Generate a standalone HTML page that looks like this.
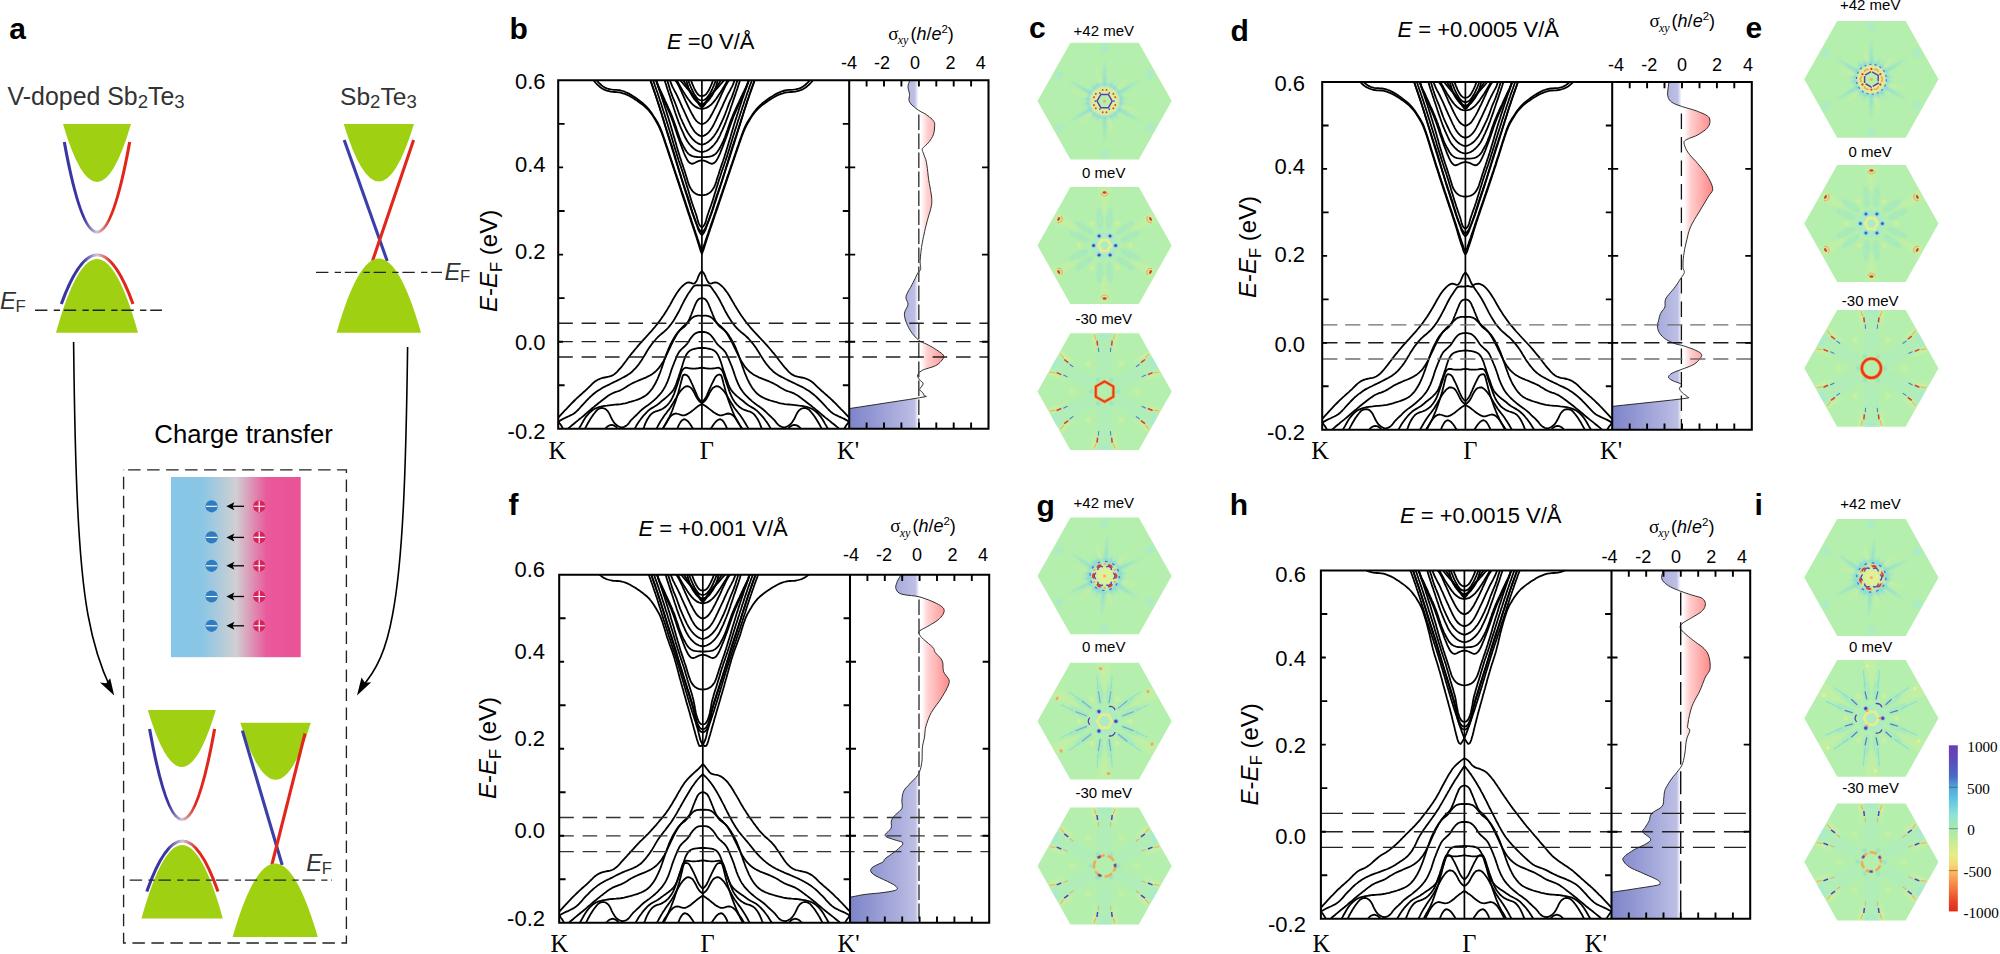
<!DOCTYPE html>
<html lang="en"><head><meta charset="utf-8"><title>Figure</title>
<style>html,body{margin:0;padding:0;background:#fff}svg{display:block}text{font-family:"Liberation Sans", Arial, sans-serif}.sf{font-family:"Liberation Serif","Times New Roman",serif}</style></head>
<body>
<svg width="2000" height="954" viewBox="0 0 2000 954">
<rect width="2000" height="954" fill="#fff"/>
<defs>
<linearGradient id="gA" gradientUnits="userSpaceOnUse" x1="64" y1="0" x2="130" y2="0"><stop offset="0" stop-color="#3a35a3"/><stop offset="0.3" stop-color="#3a35a3"/><stop offset="0.5" stop-color="#cfc8d4"/><stop offset="0.7" stop-color="#e1261c"/><stop offset="1" stop-color="#e1261c"/></linearGradient>
<linearGradient id="gB" gradientUnits="userSpaceOnUse" x1="61" y1="0" x2="133" y2="0"><stop offset="0" stop-color="#3a35a3"/><stop offset="0.3" stop-color="#3a35a3"/><stop offset="0.5" stop-color="#cfc8d4"/><stop offset="0.7" stop-color="#e1261c"/><stop offset="1" stop-color="#e1261c"/></linearGradient>
<linearGradient id="gCT" x1="0" y1="0" x2="1" y2="0"><stop offset="0" stop-color="#86c6e7"/><stop offset="0.24" stop-color="#8ac6e5"/><stop offset="0.50" stop-color="#d0cfd2"/><stop offset="0.74" stop-color="#e9599b"/><stop offset="1" stop-color="#ea5297"/></linearGradient>
<linearGradient id="gC" gradientUnits="userSpaceOnUse" x1="149" y1="0" x2="215" y2="0"><stop offset="0" stop-color="#3a35a3"/><stop offset="0.3" stop-color="#3a35a3"/><stop offset="0.5" stop-color="#cfc8d4"/><stop offset="0.7" stop-color="#e1261c"/><stop offset="1" stop-color="#e1261c"/></linearGradient>
<linearGradient id="gD" gradientUnits="userSpaceOnUse" x1="146" y1="0" x2="218.5" y2="0"><stop offset="0" stop-color="#3a35a3"/><stop offset="0.3" stop-color="#3a35a3"/><stop offset="0.5" stop-color="#cfc8d4"/><stop offset="0.7" stop-color="#e1261c"/><stop offset="1" stop-color="#e1261c"/></linearGradient>
<linearGradient id="gsb" gradientUnits="userSpaceOnUse" x1="849.2" y1="0" x2="988.5" y2="0"><stop offset="0" stop-color="#7d83c9"/><stop offset="0.30" stop-color="#a4a8da"/><stop offset="0.47" stop-color="#bdbfe4"/><stop offset="0.497" stop-color="#fff"/><stop offset="0.515" stop-color="#fff"/><stop offset="0.56" stop-color="#ffd0d0"/><stop offset="0.72" stop-color="#ff8686"/><stop offset="1" stop-color="#ff5050"/></linearGradient>
<clipPath id="cpb"><rect x="558.2" y="80.3" width="291" height="348.5"/></clipPath>
<linearGradient id="gsd" gradientUnits="userSpaceOnUse" x1="1612.2" y1="0" x2="1751.8" y2="0"><stop offset="0" stop-color="#7d83c9"/><stop offset="0.30" stop-color="#a4a8da"/><stop offset="0.47" stop-color="#bdbfe4"/><stop offset="0.497" stop-color="#fff"/><stop offset="0.515" stop-color="#fff"/><stop offset="0.56" stop-color="#ffd0d0"/><stop offset="0.72" stop-color="#ff8686"/><stop offset="1" stop-color="#ff5050"/></linearGradient>
<clipPath id="cpd"><rect x="1322.2" y="82" width="290" height="347.8"/></clipPath>
<linearGradient id="gsf" gradientUnits="userSpaceOnUse" x1="850" y1="0" x2="989.2" y2="0"><stop offset="0" stop-color="#7d83c9"/><stop offset="0.30" stop-color="#a4a8da"/><stop offset="0.47" stop-color="#bdbfe4"/><stop offset="0.497" stop-color="#fff"/><stop offset="0.515" stop-color="#fff"/><stop offset="0.56" stop-color="#ffd0d0"/><stop offset="0.72" stop-color="#ff8686"/><stop offset="1" stop-color="#ff5050"/></linearGradient>
<clipPath id="cpf"><rect x="559.2" y="574.8" width="290.8" height="347.9"/></clipPath>
<linearGradient id="gsh" gradientUnits="userSpaceOnUse" x1="1611.5" y1="0" x2="1750.2" y2="0"><stop offset="0" stop-color="#7d83c9"/><stop offset="0.30" stop-color="#a4a8da"/><stop offset="0.47" stop-color="#bdbfe4"/><stop offset="0.497" stop-color="#fff"/><stop offset="0.515" stop-color="#fff"/><stop offset="0.56" stop-color="#ffd0d0"/><stop offset="0.72" stop-color="#ff8686"/><stop offset="1" stop-color="#ff5050"/></linearGradient>
<clipPath id="cph"><rect x="1320.9" y="570.5" width="290.6" height="348.2"/></clipPath>
<filter id="bl05" x="-20%" y="-20%" width="140%" height="140%"><feGaussianBlur stdDeviation="0.45"/></filter>
<filter id="bl1" x="-20%" y="-20%" width="140%" height="140%"><feGaussianBlur stdDeviation="1.1"/></filter>
<filter id="bl2" x="-50%" y="-50%" width="200%" height="200%"><feGaussianBlur stdDeviation="1.8"/></filter>
<clipPath id="hx"><path d="M67.1 0 L34.2 -58.4 L-34.2 -58.4 L-67.1 0 L-34.2 58.4 L34.2 58.4Z"/></clipPath>
<linearGradient id="cb" x1="0" y1="0" x2="0" y2="1"><stop offset="0" stop-color="#6b3db3"/><stop offset="0.10" stop-color="#5a4fbc"/><stop offset="0.19" stop-color="#4a6cc4"/><stop offset="0.25" stop-color="#4fa4d8"/><stop offset="0.33" stop-color="#62c6e2"/><stop offset="0.42" stop-color="#8fe2d6"/><stop offset="0.50" stop-color="#a6eab0"/><stop offset="0.56" stop-color="#bdec9a"/><stop offset="0.66" stop-color="#e6ee86"/><stop offset="0.72" stop-color="#f6d873"/><stop offset="0.77" stop-color="#fbb35e"/><stop offset="0.86" stop-color="#f57a41"/><stop offset="0.94" stop-color="#e84626"/><stop offset="1" stop-color="#de2a18"/></linearGradient>
</defs>
<text x="9.3" y="39.4" font-size="30" font-weight="bold" >a</text>
<text x="7.6" y="104.7" font-size="24.9" fill="#333">V-doped Sb<tspan font-size="18.6" dy="3.6">2</tspan><tspan dy="-3.6">Te</tspan><tspan font-size="18.6" dy="3.6">3</tspan></text>
<text x="340.0" y="104.7" font-size="24.6" fill="#333">Sb<tspan font-size="18.6" dy="3.6">2</tspan><tspan dy="-3.6">Te</tspan><tspan font-size="18.6" dy="3.6">3</tspan></text>
<path d="M63 124 Q97 240 131 124 Z" fill="#9fd012"/>
<path d="M64.3 142 Q97 322 129.7 142" fill="none" stroke="url(#gA)" stroke-width="3.1"/>
<path d="M61.3 304 Q97.2 205.6 133 304" fill="none" stroke="url(#gB)" stroke-width="3.1"/>
<path d="M56 332.7 Q97 185.3 138 332.7 Z" fill="#9fd012"/>
<path d="M35 310.2H162" stroke="#222" stroke-width="1.35" stroke-dasharray="12.4 6.3 6.3 3.8" fill="none"/>
<text x="0" y="309.2" font-size="24" fill="#333"><tspan font-style="italic">E</tspan><tspan font-size="16.8" dx="-0.5" dy="2.6">F</tspan></text>
<path d="M343.7 124 Q378.9 239 414 124 Z" fill="#9fd012"/>
<path d="M344.2 140 L387.2 261" stroke="#3b3fa8" stroke-width="3.1"/>
<path d="M413.6 140 L372.5 261" stroke="#e1261c" stroke-width="3.1"/>
<path d="M336.6 332.7 Q378.8 184.3 421 332.7 Z" fill="#9fd012"/>
<path d="M316 272.4H442" stroke="#222" stroke-width="1.35" stroke-dasharray="12.4 6.3 6.3 3.8" fill="none"/>
<text x="444.5" y="279.5" font-size="24" fill="#333"><tspan font-style="italic">E</tspan><tspan font-size="16.8" dx="-0.5" dy="2.6">F</tspan></text>
<path d="M73.6 342 C75 470 78 560 88 615 C94 648 102 670 110.5 688" fill="none" stroke="#000" stroke-width="1.6"/>
<path d="M114.2 695.5 L100 682.5 L106.2 683.3 L110.2 678.2 Z" fill="#000"/>
<path d="M407.6 347 C406 470 403 560 392.5 615 C386.5 648 377.5 670 360.8 688" fill="none" stroke="#000" stroke-width="1.6"/>
<path d="M357 695.5 L361.5 677.5 L365 682.8 L371.2 682.2 Z" fill="#000"/>
<text x="243.6" y="443.3" font-size="25.7" text-anchor="middle" >Charge transfer</text>
<rect x="123.6" y="469.8" width="222.8" height="473.2" fill="none" stroke="#222" stroke-width="1.35" stroke-dasharray="12.5 6.5" stroke-dashoffset="14.5"/>
<rect x="171" y="477" width="129.7" height="180.2" fill="url(#gCT)"/>
<circle cx="211.6" cy="506.3" r="6.1" fill="#2f7cc0"/>
<path d="M206 506.3H217.2" stroke="#fff" stroke-width="1.1"/>
<circle cx="259.2" cy="506.3" r="6.1" fill="#d9215c"/>
<path d="M253.6 506.3H264.8M259.2 500.7V511.9" stroke="#fff" stroke-width="1.1"/>
<path d="M244 506.3H231" stroke="#000" stroke-width="1.3"/>
<path d="M226.4 506.3 L234.4 502.3 L232.6 506.3 L234.4 510.3 Z" fill="#000"/>
<circle cx="211.6" cy="537.4" r="6.1" fill="#2f7cc0"/>
<path d="M206 537.4H217.2" stroke="#fff" stroke-width="1.1"/>
<circle cx="259.2" cy="537.4" r="6.1" fill="#d9215c"/>
<path d="M253.6 537.4H264.8M259.2 531.8V543" stroke="#fff" stroke-width="1.1"/>
<path d="M244 537.4H231" stroke="#000" stroke-width="1.3"/>
<path d="M226.4 537.4 L234.4 533.4 L232.6 537.4 L234.4 541.4 Z" fill="#000"/>
<circle cx="211.6" cy="565.8" r="6.1" fill="#2f7cc0"/>
<path d="M206 565.8H217.2" stroke="#fff" stroke-width="1.1"/>
<circle cx="259.2" cy="565.8" r="6.1" fill="#d9215c"/>
<path d="M253.6 565.8H264.8M259.2 560.2V571.4" stroke="#fff" stroke-width="1.1"/>
<path d="M244 565.8H231" stroke="#000" stroke-width="1.3"/>
<path d="M226.4 565.8 L234.4 561.8 L232.6 565.8 L234.4 569.8 Z" fill="#000"/>
<circle cx="211.6" cy="596.5" r="6.1" fill="#2f7cc0"/>
<path d="M206 596.5H217.2" stroke="#fff" stroke-width="1.1"/>
<circle cx="259.2" cy="596.5" r="6.1" fill="#d9215c"/>
<path d="M253.6 596.5H264.8M259.2 590.9V602.1" stroke="#fff" stroke-width="1.1"/>
<path d="M244 596.5H231" stroke="#000" stroke-width="1.3"/>
<path d="M226.4 596.5 L234.4 592.5 L232.6 596.5 L234.4 600.5 Z" fill="#000"/>
<circle cx="211.6" cy="625.8" r="6.1" fill="#2f7cc0"/>
<path d="M206 625.8H217.2" stroke="#fff" stroke-width="1.1"/>
<circle cx="259.2" cy="625.8" r="6.1" fill="#d9215c"/>
<path d="M253.6 625.8H264.8M259.2 620.2V631.4" stroke="#fff" stroke-width="1.1"/>
<path d="M244 625.8H231" stroke="#000" stroke-width="1.3"/>
<path d="M226.4 625.8 L234.4 621.8 L232.6 625.8 L234.4 629.8 Z" fill="#000"/>
<path d="M147.8 710 Q181.8 824 215.8 710 Z" fill="#9fd012"/>
<path d="M149.6 729 Q182.1 910 214.6 729" fill="none" stroke="url(#gC)" stroke-width="3.1"/>
<path d="M146.8 891.5 Q182.4 790.5 218 891.5" fill="none" stroke="url(#gD)" stroke-width="3.1"/>
<path d="M141.5 918.4 Q182.2 771.6 222.8 918.4 Z" fill="#9fd012"/>
<path d="M240.3 722.7 Q275.6 836.9 310.8 722.7 Z" fill="#9fd012"/>
<path d="M242.4 730.6 L282.2 865" stroke="#3b3fa8" stroke-width="3.1"/>
<path d="M305 733.5 L271.8 865" stroke="#e1261c" stroke-width="3.1"/>
<path d="M232.6 937 Q275.2 789.8 317.8 937 Z" fill="#9fd012"/>
<path d="M129.7 880.1H332" stroke="#222" stroke-width="1.35" stroke-dasharray="12.4 6.3 6.3 3.8" fill="none"/>
<text x="306.3" y="870.9" font-size="24" fill="#333"><tspan font-style="italic">E</tspan><tspan font-size="16.8" dx="-0.5" dy="2.6">F</tspan></text>
<path d="M918.8 80.3 L909.9 80.3 L909.6 81.1 L909.1 82.3 L908.6 83.7 L908.2 85.1 L908 86.6 L908.1 88.1 L908.5 89.7 L908.9 91.4 L909.3 92.9 L909.5 94.4 L909.5 95.7 L909.3 96.9 L909.1 98 L908.9 99.1 L909 100.2 L909.3 101.2 L909.7 102.2 L910.3 103.1 L911 104 L911.9 105 L913 106 L914.3 107.1 L915.7 108.2 L917.1 109.3 L918.6 110.3 L920.1 111.2 L921.7 112.1 L923.3 112.9 L924.9 113.7 L926.4 114.7 L927.9 115.8 L929.4 117 L930.9 118.2 L932.2 119.4 L933.2 120.5 L933.9 121.5 L934.3 122.3 L934.6 123.1 L934.7 124.1 L934.7 125.4 L934.6 127 L934.5 129 L934.2 131.1 L933.8 133.1 L933.2 135 L932.5 136.7 L931.5 138.3 L930.5 139.9 L929.4 141.4 L928.3 142.8 L927.1 144.1 L925.7 145.4 L924.4 146.5 L923.3 147.6 L922.5 148.6 L922.2 149.4 L922.1 150 L922.4 150.6 L922.7 151.4 L923.1 152.5 L923.6 153.9 L924.3 155.6 L925 157.5 L925.8 159.7 L926.4 162.2 L926.9 165.2 L927.4 168.6 L927.8 172.3 L928.2 176.1 L928.7 179.7 L929.3 183.3 L930 187 L930.6 190.6 L931.2 194 L931.6 197 L931.8 199.4 L931.8 201.3 L931.8 203 L931.6 204.7 L931.2 206.8 L930.6 209.3 L929.9 211.9 L929 214.7 L928.2 217.5 L927.4 220.3 L926.7 223 L926 225.8 L925.3 228.5 L924.7 231.3 L924.1 234 L923.5 236.7 L922.9 239.5 L922.4 242.3 L921.9 244.9 L921.5 247.5 L921.2 250 L920.9 252.6 L920.6 255 L920.4 257.1 L920.3 259 L920.2 260.4 L920.2 261.4 L920.2 262.3 L920.2 263.1 L920.2 264 L920.3 265.1 L920.5 266.2 L920.7 267.3 L920.7 268.4 L920.6 269.4 L920.3 270.2 L919.8 270.7 L919.2 271.3 L918.5 272.1 L917.7 273.3 L916.7 275.1 L915.6 277.4 L914.4 279.9 L913.1 282.5 L911.9 284.9 L910.6 287.3 L909.2 289.7 L907.8 292.1 L906.7 294.4 L906 296.5 L906 298.3 L906.5 299.9 L907.2 301.3 L907.8 302.7 L908 304.3 L907.6 306 L906.8 307.7 L905.8 309.5 L905 311.2 L904.5 313 L904.4 314.7 L904.6 316.4 L904.9 318.1 L905.4 319.9 L906 321.7 L906.7 323.6 L907.6 325.6 L908.6 327.5 L909.7 329.5 L910.9 331.4 L912.2 333.3 L913.7 335.1 L915.2 336.9 L916.9 338.6 L918.6 340.1 L920.4 341.3 L922.3 342.3 L924.3 343.2 L926.3 344 L928.3 345 L930.3 346.1 L932.4 347.3 L934.4 348.5 L936.3 349.7 L938 350.8 L939.6 351.9 L941.1 353 L942.4 354 L943.3 355.1 L943.8 356.2 L943.7 357.4 L943.1 358.7 L942.1 360 L941 361.3 L940 362.4 L939 363.3 L938.1 364.1 L937 364.9 L935.7 365.6 L934.1 366.3 L932 367.1 L929.5 367.8 L926.9 368.6 L924.5 369.4 L922.5 370.2 L921 371.1 L919.8 372.1 L918.8 373 L918.1 374 L917.7 375 L917.6 376 L917.9 377 L918.4 377.9 L919 378.9 L919.6 379.8 L920.3 380.6 L921.2 381.3 L922.1 382 L922.8 382.8 L923.1 383.7 L922.8 384.8 L921.9 386.1 L920.9 387.4 L920.1 388.6 L919.6 389.5 L919.6 390.1 L920 390.5 L920.5 390.7 L921.1 391 L921.6 391.5 L922.2 392.2 L922.9 393.1 L923.6 394.1 L924 395 L924.1 395.7 L924.7 396.1 L925.9 396.2 L926.4 396.4 L924.8 396.8 L919.6 397.7 L908.7 399.5 L893 401.9 L875.8 404.5 L860.3 406.9 L849.8 408.5 L849.2 428.8 L918.8 428.8Z" fill="url(#gsb)"/>
<path d="M909.9 80.3 L909.6 81.1 L909.1 82.3 L908.6 83.7 L908.2 85.1 L908 86.6 L908.1 88.1 L908.5 89.7 L908.9 91.4 L909.3 92.9 L909.5 94.4 L909.5 95.7 L909.3 96.9 L909.1 98 L908.9 99.1 L909 100.2 L909.3 101.2 L909.7 102.2 L910.3 103.1 L911 104 L911.9 105 L913 106 L914.3 107.1 L915.7 108.2 L917.1 109.3 L918.6 110.3 L920.1 111.2 L921.7 112.1 L923.3 112.9 L924.9 113.7 L926.4 114.7 L927.9 115.8 L929.4 117 L930.9 118.2 L932.2 119.4 L933.2 120.5 L933.9 121.5 L934.3 122.3 L934.6 123.1 L934.7 124.1 L934.7 125.4 L934.6 127 L934.5 129 L934.2 131.1 L933.8 133.1 L933.2 135 L932.5 136.7 L931.5 138.3 L930.5 139.9 L929.4 141.4 L928.3 142.8 L927.1 144.1 L925.7 145.4 L924.4 146.5 L923.3 147.6 L922.5 148.6 L922.2 149.4 L922.1 150 L922.4 150.6 L922.7 151.4 L923.1 152.5 L923.6 153.9 L924.3 155.6 L925 157.5 L925.8 159.7 L926.4 162.2 L926.9 165.2 L927.4 168.6 L927.8 172.3 L928.2 176.1 L928.7 179.7 L929.3 183.3 L930 187 L930.6 190.6 L931.2 194 L931.6 197 L931.8 199.4 L931.8 201.3 L931.8 203 L931.6 204.7 L931.2 206.8 L930.6 209.3 L929.9 211.9 L929 214.7 L928.2 217.5 L927.4 220.3 L926.7 223 L926 225.8 L925.3 228.5 L924.7 231.3 L924.1 234 L923.5 236.7 L922.9 239.5 L922.4 242.3 L921.9 244.9 L921.5 247.5 L921.2 250 L920.9 252.6 L920.6 255 L920.4 257.1 L920.3 259 L920.2 260.4 L920.2 261.4 L920.2 262.3 L920.2 263.1 L920.2 264 L920.3 265.1 L920.5 266.2 L920.7 267.3 L920.7 268.4 L920.6 269.4 L920.3 270.2 L919.8 270.7 L919.2 271.3 L918.5 272.1 L917.7 273.3 L916.7 275.1 L915.6 277.4 L914.4 279.9 L913.1 282.5 L911.9 284.9 L910.6 287.3 L909.2 289.7 L907.8 292.1 L906.7 294.4 L906 296.5 L906 298.3 L906.5 299.9 L907.2 301.3 L907.8 302.7 L908 304.3 L907.6 306 L906.8 307.7 L905.8 309.5 L905 311.2 L904.5 313 L904.4 314.7 L904.6 316.4 L904.9 318.1 L905.4 319.9 L906 321.7 L906.7 323.6 L907.6 325.6 L908.6 327.5 L909.7 329.5 L910.9 331.4 L912.2 333.3 L913.7 335.1 L915.2 336.9 L916.9 338.6 L918.6 340.1 L920.4 341.3 L922.3 342.3 L924.3 343.2 L926.3 344 L928.3 345 L930.3 346.1 L932.4 347.3 L934.4 348.5 L936.3 349.7 L938 350.8 L939.6 351.9 L941.1 353 L942.4 354 L943.3 355.1 L943.8 356.2 L943.7 357.4 L943.1 358.7 L942.1 360 L941 361.3 L940 362.4 L939 363.3 L938.1 364.1 L937 364.9 L935.7 365.6 L934.1 366.3 L932 367.1 L929.5 367.8 L926.9 368.6 L924.5 369.4 L922.5 370.2 L921 371.1 L919.8 372.1 L918.8 373 L918.1 374 L917.7 375 L917.6 376 L917.9 377 L918.4 377.9 L919 378.9 L919.6 379.8 L920.3 380.6 L921.2 381.3 L922.1 382 L922.8 382.8 L923.1 383.7 L922.8 384.8 L921.9 386.1 L920.9 387.4 L920.1 388.6 L919.6 389.5 L919.6 390.1 L920 390.5 L920.5 390.7 L921.1 391 L921.6 391.5 L922.2 392.2 L922.9 393.1 L923.6 394.1 L924 395 L924.1 395.7 L924.7 396.1 L925.9 396.2 L926.4 396.4 L924.8 396.8 L919.6 397.7 L908.7 399.5 L893 401.9 L875.8 404.5 L860.3 406.9 L849.8 408.5" fill="none" stroke="#1a1a1a" stroke-width="0.9" stroke-linejoin="round"/>
<path d="M918.8 114.5V428.8" stroke="#444" stroke-width="1.5" stroke-dasharray="15.4 3.6" fill="none"/>
<g clip-path="url(#cpb)" fill="none" stroke="#000" stroke-width="1.8" stroke-linejoin="round">
<path d="M557.8 418.2 L559.2 416.7 L560.5 415.2 L561.9 413.7 L563.3 412.2 L564.6 410.7 L566 409.3 L567.4 407.8 L568.8 406.3 L570.2 404.8 L571.6 403.4 L573 402 L574.5 400.5 L575.9 399.1 L577.4 397.7 L578.9 396.4 L580.4 395 L581.9 393.7 L583.4 392.3 L584.9 391 L586.4 389.6 L587.9 388.2 L589.3 386.8 L590.8 385.3 L592.2 383.9 L593.7 382.5 L595.3 381.3 L597 380.2 L598.8 379.3 L600.7 378.5 L602.6 377.9 L604.6 377.5 L606.6 377.1 L608.7 376.7 L610.6 376.2 L612.4 375.4 L614 374.4 L615.6 373.2 L617.1 371.8 L618.5 370.2 L619.9 368.6 L621.3 367.1 L622.6 365.5 L623.8 363.9 L625 362.3 L626.2 360.7 L627.4 359 L628.7 357.4 L629.9 355.8 L631.1 354.2 L632.4 352.7 L633.7 351.1 L635 349.5 L636.3 348 L637.6 346.4 L638.9 344.9 L640.2 343.4 L641.6 341.9 L642.9 340.4 L644.3 338.9 L645.7 337.4 L647 335.9 L648.4 334.4 L649.7 332.9 L651.1 331.4 L652.4 329.9 L653.7 328.3 L655 326.8 L656.3 325.2 L657.6 323.6 L658.8 322 L660 320.4 L661.2 318.8 L662.3 317.1 L663.5 315.4 L664.6 313.7 L665.7 312 L666.8 310.3 L667.8 308.6 L668.9 306.8 L669.9 305.1 L670.9 303.3 L671.9 301.5 L672.8 299.7 L673.8 298 L674.9 296.2 L675.9 294.5 L677 292.8 L678.1 291.2 L679.3 289.6 L680.6 288 L682 286.5 L683.5 285.1 L685.2 283.8 L687 282.7 L688.9 282.4 L690.9 282.9 L692.9 283.6 L694.6 283.3 L696.1 281.6 L697.1 279.9 L697.8 278 L698.5 276.1 L699.4 274.3 L700.5 272.6 L701.9 271 L703.3 272.6 L704.4 274.3 L705.3 276.1 L706 278 L706.8 279.9 L707.8 281.6 L709.3 283.3 L711.1 283.6 L713.1 282.9 L715.1 282.4 L717.1 282.7 L719 283.8 L720.7 285.1 L722.3 286.5 L723.7 288 L725 289.6 L726.2 291.2 L727.4 292.8 L728.5 294.5 L729.6 296.2 L730.6 298 L731.6 299.7 L732.6 301.5 L733.7 303.3 L734.7 305.1 L735.7 306.8 L736.8 308.6 L737.9 310.3 L739 312 L740.1 313.7 L741.2 315.4 L742.4 317.1 L743.6 318.8 L744.8 320.4 L746 322 L747.3 323.6 L748.6 325.2 L749.9 326.8 L751.2 328.3 L752.6 329.9 L753.9 331.4 L755.3 332.9 L756.7 334.4 L758.1 335.9 L759.5 337.4 L760.9 338.9 L762.3 340.4 L763.7 341.9 L765.1 343.4 L766.5 344.9 L767.8 346.4 L769.2 348 L770.5 349.5 L771.8 351.1 L773.1 352.7 L774.4 354.2 L775.7 355.8 L776.9 357.4 L778.2 359 L779.4 360.7 L780.7 362.3 L781.9 363.9 L783.2 365.5 L784.5 367.1 L785.9 368.6 L787.3 370.2 L788.8 371.8 L790.3 373.2 L792 374.4 L793.7 375.4 L795.5 376.2 L797.5 376.7 L799.5 377.1 L801.6 377.5 L803.7 377.9 L805.6 378.5 L807.6 379.3 L809.4 380.2 L811.1 381.3 L812.8 382.5 L814.3 383.9 L815.8 385.3 L817.3 386.8 L818.8 388.2 L820.3 389.6 L821.8 391 L823.4 392.3 L824.9 393.7 L826.5 395 L828 396.4 L829.5 397.7 L831 399.1 L832.5 400.5 L834 402 L835.5 403.4 L836.9 404.8 L838.3 406.3 L839.8 407.8 L841.2 409.3 L842.6 410.7 L844 412.2 L845.4 413.7 L846.8 415.2 L848.2 416.7 L849.6 418.2"/>
<path d="M557.8 422 L559.5 420.9 L561.3 419.9 L563.1 418.9 L564.9 418 L566.8 417.1 L568.6 416.3 L570.5 415.4 L572.3 414.5 L574 413.5 L575.5 412.3 L577 410.9 L578.5 409.5 L579.8 408 L581.2 406.4 L582.6 404.9 L584 403.4 L585.4 401.9 L586.7 400.4 L588.2 399 L589.6 397.5 L591.1 396.1 L592.6 394.8 L594.1 393.5 L595.7 392.3 L597.4 391.1 L599.1 390 L600.8 388.9 L602.5 387.8 L604.3 386.9 L606.1 386 L608 385.1 L609.8 384.2 L611.6 383.3 L613.4 382.4 L615.3 381.5 L617.1 380.6 L618.9 379.7 L620.7 378.8 L622.5 377.8 L624.3 376.9 L626.1 375.9 L627.8 374.8 L629.5 373.7 L631.1 372.5 L632.6 371.2 L634 369.7 L635.4 368.3 L636.8 366.7 L638.1 365.1 L639.3 363.5 L640.5 361.8 L641.6 360.2 L642.7 358.4 L643.7 356.7 L644.8 355 L645.8 353.2 L646.8 351.5 L647.9 349.7 L649 348 L650.2 346.4 L651.3 344.7 L652.6 343.1 L653.8 341.5 L655.2 340 L656.5 338.5 L657.9 337 L659.4 335.6 L661 334.3 L662.5 333 L664.1 331.7 L665.6 330.3 L667.1 328.9 L668.4 327.5 L669.7 325.9 L671 324.3 L672.1 322.7 L673.3 321 L674.4 319.3 L675.4 317.5 L676.4 315.8 L677.4 314 L678.4 312.2 L679.4 310.4 L680.3 308.6 L681.2 306.7 L682.1 304.9 L683 303.1 L683.9 301.3 L684.9 299.5 L685.9 297.7 L686.9 296 L687.9 294.3 L689.1 292.6 L690.2 291 L691.4 289.2 L692.6 287.4 L694 286 L695.7 285.3 L697.8 285.2 L699.9 285.3 L701.9 285.2 L703.9 285.3 L706 285.2 L708.2 285.3 L710 286 L711.4 287.4 L712.6 289.2 L713.8 291 L715 292.6 L716.1 294.3 L717.2 296 L718.3 297.7 L719.3 299.5 L720.3 301.3 L721.2 303.1 L722.1 304.9 L723.1 306.7 L724 308.6 L724.9 310.4 L725.9 312.2 L726.9 314 L727.9 315.8 L729 317.5 L730.1 319.3 L731.2 321 L732.4 322.7 L733.6 324.3 L734.8 325.9 L736.2 327.5 L737.6 328.9 L739.1 330.3 L740.6 331.7 L742.2 333 L743.8 334.3 L745.4 335.6 L746.9 337 L748.4 338.5 L749.8 340 L751.1 341.5 L752.4 343.1 L753.7 344.7 L754.9 346.4 L756.1 348 L757.2 349.7 L758.3 351.5 L759.4 353.2 L760.4 355 L761.5 356.7 L762.6 358.4 L763.7 360.2 L764.8 361.8 L766 363.5 L767.3 365.1 L768.6 366.7 L770 368.3 L771.4 369.7 L772.9 371.2 L774.5 372.5 L776.1 373.7 L777.8 374.8 L779.6 375.9 L781.4 376.9 L783.3 377.8 L785.1 378.8 L787 379.7 L788.8 380.6 L790.7 381.5 L792.5 382.4 L794.4 383.3 L796.3 384.2 L798.2 385.1 L800 386 L801.9 386.9 L803.7 387.8 L805.5 388.9 L807.3 390 L809 391.1 L810.7 392.3 L812.3 393.5 L813.9 394.8 L815.5 396.1 L817 397.5 L818.5 399 L819.9 400.4 L821.4 401.9 L822.8 403.4 L824.2 404.9 L825.6 406.4 L827 408 L828.4 409.5 L829.9 410.9 L831.4 412.3 L833 413.5 L834.8 414.5 L836.6 415.4 L838.5 416.3 L840.4 417.1 L842.3 418 L844.2 418.9 L846 419.9 L847.8 420.9 L849.6 422"/>
<path d="M564.8 432.4 L566.1 430.8 L567.5 429.3 L568.9 427.9 L570.4 426.6 L572 425.3 L573.6 424 L575.1 422.7 L576.7 421.4 L578.3 420.1 L579.8 418.8 L581.4 417.6 L583 416.3 L584.5 415 L586 413.6 L587.6 412.3 L589.1 411 L590.6 409.7 L592.2 408.3 L593.7 407.1 L595.3 405.8 L596.9 404.5 L598.4 403.2 L600 402 L601.6 400.7 L603.2 399.5 L604.9 398.2 L606.5 397 L608.1 395.8 L609.8 394.7 L611.6 393.7 L613.4 392.9 L615.3 392.2 L617.2 391.5 L619.1 390.8 L621 390 L622.8 389 L624.5 388 L626.2 386.9 L627.9 385.8 L629.7 384.8 L631.4 383.8 L633.2 382.9 L635.1 382 L636.9 381.2 L638.8 380.4 L640.7 379.6 L642.5 378.9 L644.4 378.1 L646.3 377.3 L648.1 376.4 L649.9 375.5 L651.6 374.4 L653.3 373.2 L654.9 372 L656.4 370.6 L657.8 369.2 L659.1 367.6 L660.3 366 L661.5 364.3 L662.6 362.6 L663.6 360.9 L664.5 359.1 L665.4 357.3 L666.3 355.4 L667.2 353.6 L668 351.8 L668.9 349.9 L669.8 348.1 L670.6 346.3 L671.5 344.4 L672.4 342.6 L673.3 340.8 L674.2 339 L675.2 337.2 L676.2 335.5 L677.3 333.8 L678.4 332.1 L679.6 330.5 L680.9 328.9 L682.3 327.4 L683.7 326 L685.3 324.7 L686.8 323.3 L688 321.7 L689 320 L689.8 318.1 L690.6 316.2 L691.4 314.3 L692.1 312.4 L692.8 310.6 L693.6 308.7 L694.3 306.8 L695.1 304.9 L696 302.9 L697 301.1 L698.2 299.6 L699.8 298.6 L701.9 298 L704 298.6 L705.6 299.6 L706.9 301.1 L707.9 302.9 L708.8 304.9 L709.6 306.8 L710.4 308.7 L711.1 310.6 L711.9 312.4 L712.6 314.3 L713.4 316.2 L714.2 318.1 L715.1 320 L716.1 321.7 L717.3 323.3 L718.8 324.7 L720.4 326 L721.9 327.4 L723.4 328.9 L724.7 330.5 L725.9 332.1 L727.1 333.8 L728.2 335.5 L729.2 337.2 L730.2 339 L731.2 340.8 L732.1 342.6 L733 344.4 L733.9 346.3 L734.8 348.1 L735.7 349.9 L736.6 351.8 L737.5 353.6 L738.3 355.4 L739.2 357.3 L740.2 359.1 L741.1 360.9 L742.2 362.6 L743.3 364.3 L744.4 366 L745.7 367.6 L747 369.2 L748.5 370.6 L750 372 L751.7 373.2 L753.4 374.4 L755.2 375.5 L757 376.4 L758.8 377.3 L760.8 378.1 L762.7 378.9 L764.6 379.6 L766.5 380.4 L768.5 381.2 L770.4 382 L772.3 382.9 L774.1 383.8 L775.9 384.8 L777.7 385.8 L779.5 386.9 L781.2 388 L783 389 L784.8 390 L786.7 390.8 L788.7 391.5 L790.7 392.2 L792.6 392.9 L794.5 393.7 L796.3 394.7 L798 395.8 L799.7 397 L801.4 398.2 L803 399.5 L804.7 400.7 L806.3 402 L807.9 403.2 L809.5 404.5 L811.2 405.8 L812.8 407.1 L814.4 408.3 L815.9 409.7 L817.5 411 L819.1 412.3 L820.7 413.6 L822.2 415 L823.8 416.3 L825.4 417.6 L827 418.8 L828.6 420.1 L830.2 421.4 L831.8 422.7 L833.5 424 L835.1 425.3 L836.7 426.6 L838.2 427.9 L839.7 429.3 L841.1 430.8 L842.4 432.4"/>
<path d="M576.7 432.4 L577.8 430.6 L578.8 428.9 L579.8 427.1 L580.9 425.4 L581.8 423.6 L582.9 421.8 L583.9 420 L585 418.3 L586.1 416.6 L587.4 415.1 L588.7 413.5 L590.2 412 L591.8 410.7 L593.4 409.5 L595.2 408.5 L597 407.8 L599 407.1 L601 406.6 L603 406.2 L605 405.8 L607 405.6 L609 405.3 L611 405.1 L613.1 404.9 L615.1 404.7 L617.1 404.5 L619.1 404.3 L621.1 404.1 L623.1 403.7 L625.1 403.3 L627.1 402.8 L629.1 402.2 L631 401.7 L633 401.1 L634.9 400.5 L636.9 399.8 L638.8 399.1 L640.7 398.3 L642.5 397.4 L644.3 396.4 L646 395.3 L647.5 394 L648.9 392.6 L650.3 391 L651.6 389.4 L652.8 387.7 L653.8 386 L654.9 384.3 L655.8 382.5 L656.7 380.6 L657.6 378.8 L658.4 376.9 L659.1 375 L659.9 373.1 L660.6 371.2 L661.3 369.3 L661.9 367.4 L662.6 365.4 L663.2 363.5 L663.9 361.6 L664.5 359.6 L665.2 357.7 L665.8 355.8 L666.5 353.9 L667.2 352 L668 350.1 L668.8 348.2 L669.6 346.3 L670.4 344.5 L671.4 342.7 L672.3 340.9 L673.3 339.1 L674.3 337.4 L675.4 335.6 L676.6 333.9 L677.9 332.3 L679.2 330.8 L680.7 329.5 L682.3 328.2 L684 327 L685.4 325.6 L686.7 324 L687.9 322.4 L689.2 320.8 L690.7 319.2 L692.2 317.8 L693.9 316.7 L695.7 316.1 L697.6 315.7 L699.7 315.6 L701.9 315.8 L704.1 315.6 L706.2 315.7 L708.2 316.1 L710.1 316.7 L711.8 317.8 L713.3 319.2 L714.8 320.8 L716.1 322.4 L717.4 324 L718.7 325.6 L720.2 327 L721.9 328.2 L723.5 329.5 L725.1 330.8 L726.5 332.3 L727.8 333.9 L729 335.6 L730.1 337.4 L731.2 339.1 L732.2 340.9 L733.2 342.7 L734.1 344.5 L735 346.3 L735.8 348.2 L736.6 350.1 L737.4 352 L738.1 353.9 L738.8 355.8 L739.5 357.7 L740.2 359.6 L740.8 361.6 L741.5 363.5 L742.2 365.4 L742.8 367.4 L743.5 369.3 L744.2 371.2 L744.9 373.1 L745.7 375 L746.5 376.9 L747.3 378.8 L748.2 380.6 L749.1 382.5 L750.1 384.3 L751.1 386 L752.2 387.7 L753.4 389.4 L754.7 391 L756.1 392.6 L757.6 394 L759.2 395.3 L760.9 396.4 L762.7 397.4 L764.6 398.3 L766.6 399.1 L768.5 399.8 L770.5 400.5 L772.5 401.1 L774.5 401.7 L776.5 402.2 L778.5 402.8 L780.6 403.3 L782.6 403.7 L784.6 404.1 L786.7 404.3 L788.8 404.5 L790.9 404.7 L793 404.9 L795 405.1 L797.1 405.3 L799.2 405.6 L801.2 405.8 L803.3 406.2 L805.3 406.6 L807.4 407.1 L809.4 407.8 L811.3 408.5 L813.1 409.5 L814.8 410.7 L816.4 412 L817.9 413.5 L819.3 415.1 L820.6 416.6 L821.7 418.3 L822.9 420 L823.9 421.8 L824.9 423.6 L826 425.4 L827 427.1 L828.1 428.9 L829.1 430.6 L830.2 432.4"/>
<path d="M583.3 432.8 L584.1 430.9 L584.9 429 L585.8 427.2 L586.7 425.3 L587.7 423.5 L588.7 421.8 L589.8 420 L590.8 418.3 L592 416.6 L593.1 414.9 L594.4 413.3 L595.6 411.7 L597 410.1 L598.6 409 L600.6 408.2 L602.7 408 L604.6 408.6 L606.4 409.8 L607.8 411.2 L608.9 412.9 L609.8 414.7 L610.7 416.7 L611.6 418.5 L612.6 420.3 L613.7 422.1 L615 423.7 L616.5 425 L618.3 426.2 L620.2 427.1 L622.2 427.3 L624.2 426.8 L626 425.9 L627.6 424.6 L628.9 423.1 L630.1 421.4 L631.4 419.8 L632.9 418.3 L634.4 416.9 L635.9 415.5 L637.3 414.1 L638.8 412.6 L640.2 411.2 L641.7 409.8 L643.3 408.5 L644.9 407.3 L646.6 406.1 L648.3 404.9 L649.9 403.7 L651.5 402.4 L653 401.1 L654.6 399.7 L656.1 398.3 L657.5 396.9 L658.9 395.4 L660.3 393.9 L661.6 392.3 L662.8 390.6 L663.8 388.9 L664.8 387.2 L665.8 385.3 L666.6 383.5 L667.5 381.6 L668.2 379.7 L668.9 377.8 L669.6 375.8 L670.2 373.9 L670.8 371.9 L671.4 370 L672.1 368.1 L672.8 366.2 L673.6 364.3 L674.3 362.4 L675.1 360.5 L675.9 358.6 L676.7 356.7 L677.5 354.8 L678.5 353 L679.6 351.3 L680.9 349.8 L682.4 348.4 L683.9 347 L685.4 345.6 L686.8 344.1 L688 342.5 L689.1 340.8 L690.2 339 L691.4 337.4 L692.8 335.7 L694.3 334.2 L695.9 333.1 L697.7 332.4 L699.7 332 L701.9 332 L704.1 332 L706.1 332.4 L708 333.1 L709.6 334.2 L711.2 335.7 L712.6 337.4 L713.8 339 L714.9 340.8 L716.1 342.5 L717.3 344.1 L718.8 345.6 L720.3 347 L721.8 348.4 L723.4 349.8 L724.7 351.3 L725.9 353 L726.8 354.8 L727.7 356.7 L728.5 358.6 L729.3 360.5 L730.1 362.4 L730.9 364.3 L731.7 366.2 L732.4 368.1 L733.1 370 L733.7 371.9 L734.4 373.9 L735 375.8 L735.7 377.8 L736.4 379.7 L737.2 381.6 L738 383.5 L738.9 385.3 L739.8 387.2 L740.9 388.9 L742 390.6 L743.2 392.3 L744.5 393.9 L745.9 395.4 L747.4 396.9 L748.8 398.3 L750.4 399.7 L751.9 401.1 L753.5 402.4 L755.2 403.7 L756.8 404.9 L758.5 406.1 L760.2 407.3 L761.9 408.5 L763.5 409.8 L765.1 411.2 L766.6 412.6 L768.1 414.1 L769.6 415.5 L771.1 416.9 L772.6 418.3 L774.1 419.8 L775.4 421.4 L776.7 423.1 L778.1 424.6 L779.6 425.9 L781.5 426.8 L783.6 427.3 L785.6 427.1 L787.6 426.2 L789.4 425 L791 423.7 L792.3 422.1 L793.4 420.3 L794.5 418.5 L795.4 416.7 L796.3 414.7 L797.2 412.9 L798.3 411.2 L799.8 409.8 L801.6 408.6 L803.6 408 L805.7 408.2 L807.7 409 L809.4 410.1 L810.8 411.7 L812.1 413.3 L813.4 414.9 L814.6 416.6 L815.7 418.3 L816.8 420 L817.9 421.8 L818.9 423.5 L819.9 425.3 L820.9 427.2 L821.8 429 L822.6 430.9 L823.4 432.8"/>
<path d="M632.4 432.4 L633.5 430.6 L634.5 428.9 L635.6 427.1 L636.6 425.3 L637.7 423.6 L638.8 421.8 L640 420.2 L641.2 418.5 L642.5 416.9 L643.8 415.3 L645.2 413.8 L646.6 412.3 L648.1 410.8 L649.6 409.6 L651.3 408.4 L653.1 407.4 L654.9 406.3 L656.6 405.2 L658.3 404 L659.9 402.7 L661.4 401.3 L663 400 L664.6 398.7 L666.2 397.4 L667.7 396.1 L669.2 394.7 L670.7 393.2 L672.1 391.6 L673.3 390 L674.3 388.3 L675.2 386.4 L676 384.5 L676.7 382.6 L677.3 380.6 L678 378.7 L678.7 376.7 L679.3 374.8 L680 372.8 L680.6 370.9 L681.3 368.9 L681.9 367 L682.5 365 L683.1 363 L683.7 361 L684.4 359.1 L685.1 357.2 L686 355.3 L687.1 353.5 L688.4 351.9 L689.9 350.6 L691.7 349.7 L693.7 349 L695.8 348.6 L697.8 348.2 L699.9 348 L701.9 347.8 L703.9 348 L706 348.2 L708.1 348.6 L710.2 349 L712.3 349.7 L714.2 350.6 L715.7 351.9 L717 353.5 L718.1 355.3 L719 357.2 L719.8 359.1 L720.5 361 L721.2 363 L721.8 365 L722.4 367 L723 368.9 L723.6 370.9 L724.3 372.8 L725 374.8 L725.6 376.7 L726.3 378.7 L727 380.6 L727.7 382.6 L728.4 384.5 L729.2 386.4 L730.1 388.3 L731.2 390 L732.4 391.6 L733.8 393.2 L735.3 394.7 L736.9 396.1 L738.5 397.4 L740.1 398.7 L741.8 400 L743.4 401.3 L745 402.7 L746.6 404 L748.3 405.2 L750 406.3 L751.9 407.4 L753.7 408.4 L755.4 409.6 L757 410.8 L758.6 412.3 L760 413.8 L761.4 415.3 L762.8 416.9 L764.1 418.5 L765.3 420.2 L766.5 421.8 L767.7 423.6 L768.8 425.3 L769.9 427.1 L770.9 428.9 L772 430.6 L773.1 432.4"/>
<path d="M641.8 432.4 L642.6 430.4 L643.4 428.5 L644.2 426.6 L644.9 424.6 L645.7 422.7 L646.6 420.8 L647.6 419 L648.7 417.2 L650 415.4 L651.5 413.9 L653.1 412.6 L654.9 411.7 L656.8 411.1 L658.9 410.4 L660.8 409.7 L662.7 408.7 L664.5 407.5 L666.1 406.2 L667.6 404.8 L668.9 403.2 L670.2 401.5 L671.3 399.7 L672.3 397.9 L673.2 396 L674 394.1 L674.7 392.1 L675.4 390.1 L676.1 388.2 L676.8 386.2 L677.5 384.2 L678.1 382.2 L678.8 380.3 L679.4 378.3 L680 376.3 L680.6 374.3 L681.3 372.3 L682.2 370.4 L683.6 368.7 L685.3 367.7 L687.3 367.9 L689.4 368.3 L691.5 368.5 L693.6 368.6 L695.7 368.5 L697.7 368.3 L699.8 368 L701.9 367.7 L704 368 L706.1 368.3 L708.2 368.5 L710.3 368.6 L712.5 368.5 L714.6 368.3 L716.8 367.9 L718.9 367.7 L720.6 368.7 L722 370.4 L723 372.3 L723.7 374.3 L724.3 376.3 L724.9 378.3 L725.6 380.3 L726.2 382.2 L726.9 384.2 L727.6 386.2 L728.3 388.2 L729 390.1 L729.7 392.1 L730.5 394.1 L731.3 396 L732.2 397.9 L733.2 399.7 L734.4 401.5 L735.6 403.2 L737.1 404.8 L738.6 406.2 L740.2 407.5 L742 408.7 L743.9 409.7 L745.9 410.4 L748 411.1 L750.1 411.7 L751.9 412.6 L753.6 413.9 L755 415.4 L756.3 417.2 L757.5 419 L758.5 420.8 L759.4 422.7 L760.2 424.6 L761 426.6 L761.8 428.5 L762.6 430.4 L763.4 432.4"/>
<path d="M660.7 432.4 L661.6 430.5 L662.5 428.7 L663.7 427 L664.8 425.3 L666 423.6 L667 421.8 L668 420 L668.9 418.1 L669.8 416.3 L670.6 414.4 L671.4 412.5 L672.2 410.6 L672.9 408.7 L673.6 406.8 L674.3 404.8 L675 402.9 L675.7 400.9 L676.3 398.9 L677 397 L677.6 395.1 L678.2 393.1 L678.7 391.2 L679.2 389.3 L679.7 387.4 L680.2 385.4 L680.7 383.4 L681.3 381.2 L681.9 378.9 L682.5 376.5 L683.5 374.8 L685.1 374.5 L687.1 375.4 L688.5 376.8 L689.5 378.6 L690.5 380.5 L691.3 382.4 L692.2 384.2 L693 386.1 L693.8 388 L694.7 389.9 L695.5 391.8 L696.3 393.7 L697.1 395.6 L698 397.4 L699.1 399.1 L700.4 400.7 L701.9 402.2 L703.4 400.7 L704.7 399.1 L705.8 397.4 L706.8 395.6 L707.6 393.7 L708.4 391.8 L709.2 389.9 L710.1 388 L710.9 386.1 L711.8 384.2 L712.7 382.4 L713.6 380.5 L714.5 378.6 L715.6 376.8 L717 375.4 L719.1 374.5 L720.7 374.8 L721.7 376.5 L722.4 378.9 L723 381.2 L723.5 383.4 L724.1 385.4 L724.6 387.4 L725.1 389.3 L725.6 391.2 L726.2 393.1 L726.8 395.1 L727.4 397 L728 398.9 L728.7 400.9 L729.4 402.9 L730.1 404.8 L730.8 406.8 L731.6 408.7 L732.3 410.6 L733.1 412.5 L733.9 414.4 L734.8 416.3 L735.7 418.1 L736.6 420 L737.6 421.8 L738.7 423.6 L739.8 425.3 L741.1 427 L742.2 428.7 L743.2 430.5 L744.1 432.4"/>
<path d="M654.1 432.4 L655.2 430.6 L656.3 428.8 L657.3 427.1 L658.3 425.3 L659.3 423.5 L660.3 421.7 L661.4 419.9 L662.6 418.2 L663.7 416.5 L664.9 414.8 L666.2 413.2 L667.4 411.5 L668.7 409.9 L669.9 408.2 L671 406.5 L672.1 404.7 L673.2 402.9 L674.2 401.2 L675.2 399.4 L676.3 397.6 L677.3 395.8 L678.4 394.1 L679.6 392.3 L680.8 390.7 L682.2 389.1 L683.9 387.6 L685.7 386.5 L687.6 386.2 L689.6 386.9 L691.2 388.1 L692.5 389.7 L693.6 391.5 L694.6 393.4 L695.5 395.3 L696.4 397.1 L697.5 398.9 L698.7 400.5 L700.1 401.9 L701.9 403.1 L703.7 401.9 L705.2 400.5 L706.4 398.9 L707.4 397.1 L708.4 395.3 L709.3 393.4 L710.4 391.5 L711.5 389.7 L712.8 388.1 L714.5 386.9 L716.5 386.2 L718.5 386.5 L720.3 387.6 L722 389.1 L723.5 390.7 L724.8 392.3 L725.9 394.1 L727 395.8 L728.1 397.6 L729.2 399.4 L730.2 401.2 L731.3 402.9 L732.4 404.7 L733.5 406.5 L734.6 408.2 L735.9 409.9 L737.2 411.5 L738.5 413.2 L739.8 414.8 L741 416.5 L742.2 418.2 L743.3 419.9 L744.4 421.7 L745.5 423.5 L746.5 425.3 L747.6 427.1 L748.6 428.8 L749.7 430.6 L750.8 432.4"/>
<path d="M660.7 432.4 L661.8 430.6 L662.9 428.8 L663.9 426.9 L664.9 425.1 L665.9 423.2 L666.9 421.4 L668 419.6 L669.2 417.9 L670.6 416.2 L672.2 414.9 L674.1 413.9 L676.2 413.5 L678.2 414 L680.2 414.7 L682.3 415.3 L684.3 415.3 L686.3 414.6 L688.2 413.6 L690 412.5 L691.7 411.2 L693.4 409.9 L695 408.6 L696.6 407.3 L698.3 406.1 L700.1 404.9 L701.9 403.7 L703.7 404.9 L705.5 406.1 L707.2 407.3 L708.9 408.6 L710.6 409.9 L712.3 411.2 L714 412.5 L715.8 413.6 L717.8 414.6 L719.9 415.3 L721.9 415.3 L724 414.7 L726.1 414 L728.2 413.5 L730.3 413.9 L732.3 414.9 L733.9 416.2 L735.3 417.9 L736.6 419.6 L737.7 421.4 L738.8 423.2 L739.8 425.1 L740.8 426.9 L741.8 428.8 L742.9 430.6 L744.1 432.4"/>
<path d="M695.6 432.4 L694.3 430.5 L693 428.5 L691.8 426.7 L690.6 424.8 L689.3 423 L687.9 421.3 L686 419.9 L683.9 419.2 L682 420.2 L680.5 422.1 L679.3 424.1 L678.3 426.1 L677.5 428.2 L676.7 430.2 L675.8 432.4"/>
<path d="M708.3 432.4 L709.6 430.5 L710.9 428.5 L712.1 426.7 L713.4 424.8 L714.7 423 L716.2 421.3 L718.1 419.9 L720.3 419.2 L722.2 420.2 L723.8 422.1 L725 424.1 L726 426.1 L726.9 428.2 L727.7 430.2 L728.6 432.4"/>
<path d="M604.5 430.5 L605.6 428.4 L607.3 426.6 L609.3 425.4 L611.6 424.8 L613.9 425.4 L615.9 426.7 L617.6 428.5 L618.8 430.5"/>
<path d="M801.8 430.5 L800.5 428.4 L798.9 426.6 L796.8 425.4 L794.4 424.8 L792.1 425.4 L790 426.7 L788.3 428.5 L787 430.5"/>
<path d="M557.8 421.1 L558.9 422.4 L559.9 423.7 L560.9 425.1 L561.8 426.5 L562.7 428 L563.6 429.4 L564.4 430.9"/>
<path d="M849.6 421.1 L848.5 422.4 L847.5 423.7 L846.5 425.1 L845.5 426.5 L844.6 428 L843.7 429.4 L842.8 430.9"/>
<path d="M589.8 74 L590.7 75.8 L591.8 77.6 L592.9 79.3 L594.1 80.9 L595.3 82.5 L596.7 84 L598.2 85.4 L599.7 86.7 L601.4 88 L603.1 89.1 L604.9 89.9 L606.8 90.6 L608.8 91.2 L610.8 91.6 L612.8 91.9 L614.8 92 L616.9 92.1 L618.9 92.3 L620.9 92.7 L622.8 93.3 L624.8 93.9 L626.7 94.7 L628.5 95.5 L630.3 96.5 L632.1 97.5 L633.8 98.5 L635.5 99.7 L637.2 100.8 L638.8 102 L640.5 103.2 L642.1 104.4 L643.7 105.6 L645.3 107 L646.7 108.4 L648.2 109.8 L649.5 111.4 L650.8 113 L651.9 114.6 L653.1 116.3 L654.2 118 L655.2 119.7 L656.2 121.5 L657.2 123.3 L658.2 125.1 L659.1 126.9 L659.9 128.7 L660.7 130.6 L661.5 132.5 L662.2 134.4 L662.9 136.3 L663.6 138.2 L664.2 140.1 L664.9 142.1 L665.5 144 L666.2 145.9 L666.8 147.8 L667.5 149.8 L668.1 151.7 L668.7 153.6 L669.4 155.6 L670 157.5 L670.7 159.4 L671.3 161.3 L671.9 163.3 L672.6 165.2 L673.2 167.1 L673.9 169 L674.5 171 L675.1 172.9 L675.8 174.8 L676.4 176.8 L677 178.7 L677.7 180.6 L678.3 182.5 L679 184.5 L679.6 186.4 L680.2 188.3 L680.9 190.3 L681.5 192.2 L682.1 194.1 L682.8 196.1 L683.4 198 L684 199.9 L684.7 201.8 L685.3 203.8 L685.9 205.7 L686.6 207.6 L687.2 209.6 L687.8 211.5 L688.5 213.4 L689.1 215.3 L689.8 217.3 L690.4 219.2 L691 221.1 L691.7 223.1 L692.3 225 L693 226.9 L693.6 228.8 L694.3 230.8 L694.9 232.7 L695.5 234.6 L696.2 236.5 L696.8 238.5 L697.4 240.4 L698 242.4 L698.6 244.3 L699.2 246.3 L699.8 248.2 L700.4 250.1 L701.1 252 L701.9 253.9 L702.6 252 L703.4 250.1 L704 248.2 L704.6 246.3 L705.2 244.3 L705.8 242.4 L706.4 240.4 L707.1 238.5 L707.7 236.5 L708.4 234.6 L709 232.7 L709.7 230.8 L710.3 228.8 L711 226.9 L711.7 225 L712.3 223.1 L713 221.1 L713.6 219.2 L714.3 217.3 L714.9 215.3 L715.6 213.4 L716.2 211.5 L716.9 209.6 L717.6 207.6 L718.2 205.7 L718.9 203.8 L719.5 201.8 L720.2 199.9 L720.8 198 L721.5 196.1 L722.1 194.1 L722.8 192.2 L723.4 190.3 L724.1 188.3 L724.7 186.4 L725.4 184.5 L726 182.5 L726.7 180.6 L727.3 178.7 L728 176.8 L728.6 174.8 L729.3 172.9 L729.9 171 L730.6 169 L731.2 167.1 L731.9 165.2 L732.6 163.3 L733.2 161.3 L733.9 159.4 L734.5 157.5 L735.2 155.6 L735.8 153.6 L736.5 151.7 L737.2 149.8 L737.8 147.8 L738.5 145.9 L739.1 144 L739.8 142.1 L740.5 140.1 L741.2 138.2 L741.8 136.3 L742.6 134.4 L743.3 132.5 L744.1 130.6 L744.9 128.7 L745.8 126.9 L746.7 125.1 L747.6 123.3 L748.7 121.5 L749.7 119.7 L750.8 118 L751.9 116.3 L753.1 114.6 L754.3 113 L755.6 111.4 L757 109.8 L758.4 108.4 L759.9 107 L761.5 105.6 L763.1 104.4 L764.8 103.2 L766.5 102 L768.2 100.8 L769.9 99.7 L771.7 98.5 L773.4 97.5 L775.3 96.5 L777.1 95.5 L779 94.7 L780.9 93.9 L782.9 93.3 L784.9 92.7 L787 92.3 L789 92.1 L791.1 92 L793.2 91.9 L795.3 91.6 L797.3 91.2 L799.3 90.6 L801.3 89.9 L803.1 89.1 L804.9 88 L806.6 86.7 L808.2 85.4 L809.7 84 L811.1 82.5 L812.4 80.9 L813.6 79.3 L814.8 77.6 L815.8 75.8 L816.8 74"/>
<path d="M592.8 74 L593.7 75.9 L594.7 77.7 L595.8 79.3 L597.1 80.9 L598.5 82.4 L599.9 83.8 L601.5 85.2 L603.1 86.4 L604.9 87.6 L606.7 88.4 L608.6 89 L610.6 89.4 L612.7 89.7 L614.7 89.8 L616.7 89.9 L618.7 90.1 L620.8 90.5 L622.7 91 L624.7 91.7 L626.5 92.5 L628.4 93.4 L630.1 94.4 L631.9 95.4 L633.6 96.5 L635.3 97.6 L637 98.8 L638.6 100 L640.2 101.2 L641.8 102.5 L643.4 103.8 L644.9 105.2 L646.4 106.6 L647.7 108.1 L649.1 109.7 L650.3 111.3 L651.5 112.9 L652.6 114.6 L653.7 116.4 L654.8 118.1 L655.9 119.8 L657 121.5 L658 123.3 L658.9 125.1 L659.8 126.9 L660.6 128.8 L661.4 130.7 L662.1 132.6 L662.8 134.5 L663.5 136.5 L664.1 138.4 L664.8 140.3 L665.4 142.2 L666.1 144.2 L666.7 146.1 L667.4 148 L668 150 L668.7 151.9 L669.3 153.8 L669.9 155.8 L670.6 157.7 L671.2 159.6 L671.9 161.6 L672.5 163.5 L673.2 165.4 L673.8 167.4 L674.4 169.3 L675.1 171.2 L675.7 173.2 L676.4 175.1 L677 177 L677.7 179 L678.3 180.9 L679 182.8 L679.6 184.7 L680.2 186.7 L680.9 188.6 L681.5 190.5 L682.2 192.5 L682.8 194.4 L683.5 196.3 L684.1 198.3 L684.8 200.2 L685.4 202.1 L686 204.1 L686.7 206 L687.3 207.9 L688 209.9 L688.6 211.8 L689.3 213.7 L689.9 215.7 L690.6 217.6 L691.2 219.5 L691.8 221.5 L692.5 223.4 L693.1 225.3 L693.8 227.3 L694.4 229.2 L695.1 231.1 L695.7 233 L696.4 235 L697 236.9 L697.6 238.8 L698.3 240.8 L698.9 242.7 L699.6 244.7 L700.3 246.6 L701 248.4 L701.9 250.3 L702.7 248.4 L703.5 246.6 L704.2 244.7 L704.9 242.7 L705.5 240.8 L706.2 238.8 L706.9 236.9 L707.5 235 L708.2 233 L708.8 231.1 L709.5 229.2 L710.2 227.3 L710.8 225.3 L711.5 223.4 L712.1 221.5 L712.8 219.5 L713.5 217.6 L714.1 215.7 L714.8 213.7 L715.5 211.8 L716.1 209.9 L716.8 207.9 L717.4 206 L718.1 204.1 L718.8 202.1 L719.4 200.2 L720.1 198.3 L720.7 196.3 L721.4 194.4 L722.1 192.5 L722.7 190.5 L723.4 188.6 L724 186.7 L724.7 184.7 L725.4 182.8 L726 180.9 L726.7 179 L727.3 177 L728 175.1 L728.7 173.2 L729.3 171.2 L730 169.3 L730.6 167.4 L731.3 165.4 L732 163.5 L732.6 161.6 L733.3 159.6 L733.9 157.7 L734.6 155.8 L735.3 153.8 L735.9 151.9 L736.6 150 L737.2 148 L737.9 146.1 L738.6 144.2 L739.2 142.2 L739.9 140.3 L740.6 138.4 L741.3 136.5 L741.9 134.5 L742.7 132.6 L743.4 130.7 L744.2 128.8 L745 126.9 L745.9 125.1 L746.8 123.3 L747.9 121.5 L749 119.8 L750.1 118.1 L751.2 116.4 L752.3 114.6 L753.5 112.9 L754.7 111.3 L756 109.7 L757.4 108.1 L758.8 106.6 L760.3 105.2 L761.8 103.8 L763.4 102.5 L765.1 101.2 L766.7 100 L768.4 98.8 L770.1 97.6 L771.9 96.5 L773.6 95.4 L775.4 94.4 L777.2 93.4 L779.1 92.5 L781 91.7 L783 91 L785.1 90.5 L787.1 90.1 L789.2 89.9 L791.3 89.8 L793.4 89.7 L795.5 89.4 L797.5 89 L799.5 88.4 L801.3 87.6 L803.1 86.4 L804.8 85.2 L806.4 83.8 L807.9 82.4 L809.3 80.9 L810.6 79.3 L811.8 77.7 L812.8 75.9 L813.7 74"/>
<path d="M673.3 76.5 L674.1 78.5 L675.2 80.3 L676.5 81.9 L677.6 83.7 L678.6 85.5 L679.5 87.4 L680.4 89.3 L681.3 91.2 L682.1 93.2 L683 95.1 L683.8 97 L684.7 98.9 L685.5 100.8 L686.4 102.7 L687.3 104.6 L688.2 106.5 L689.1 108.4 L690 110.2 L691 112.1 L692 114 L693 115.8 L694.1 117.7 L695.3 119.5 L696.6 121.1 L698.1 122.4 L699.8 123.5 L701.9 124.2 L704 123.5 L705.8 122.4 L707.3 121.1 L708.7 119.5 L709.9 117.7 L711 115.8 L712 114 L713 112.1 L714 110.2 L714.9 108.4 L715.9 106.5 L716.8 104.6 L717.7 102.7 L718.6 100.8 L719.5 98.9 L720.4 97 L721.2 95.1 L722.1 93.2 L723 91.2 L723.9 89.3 L724.8 87.4 L725.7 85.5 L726.8 83.7 L727.9 81.9 L729.2 80.3 L730.3 78.5 L731.1 76.5"/>
<path d="M668.3 76.5 L669.2 78.5 L670 80.4 L670.7 82.4 L671.5 84.4 L672.3 86.3 L673.2 88.2 L674.2 90.1 L675.2 92 L676.2 93.8 L677.1 95.7 L678 97.7 L678.9 99.6 L679.8 101.5 L680.6 103.4 L681.5 105.4 L682.3 107.3 L683.2 109.2 L684.1 111.2 L685 113.1 L685.8 115 L686.7 116.9 L687.6 118.9 L688.5 120.8 L689.4 122.7 L690.3 124.6 L691.3 126.5 L692.4 128.3 L693.5 130.1 L694.8 131.8 L696.3 133.3 L697.9 134.6 L699.8 135.6 L701.9 136.3 L704 135.6 L705.9 134.6 L707.6 133.3 L709.1 131.8 L710.4 130.1 L711.6 128.3 L712.7 126.5 L713.7 124.6 L714.7 122.7 L715.6 120.8 L716.5 118.9 L717.4 116.9 L718.3 115 L719.2 113.1 L720.1 111.2 L721 109.2 L721.9 107.3 L722.8 105.4 L723.6 103.4 L724.5 101.5 L725.4 99.6 L726.3 97.7 L727.2 95.7 L728.2 93.8 L729.2 92 L730.2 90.1 L731.2 88.2 L732.2 86.3 L733.1 84.4 L733.8 82.4 L734.6 80.4 L735.4 78.5 L736.3 76.5"/>
<path d="M666 76.5 L666.5 78.5 L667.2 80.5 L667.9 82.5 L668.5 84.5 L669.1 86.5 L669.7 88.5 L670.3 90.5 L671 92.5 L671.7 94.4 L672.4 96.4 L673.2 98.3 L674 100.2 L674.8 102.2 L675.6 104.1 L676.3 106.1 L677 108 L677.7 110 L678.4 112 L679.1 113.9 L679.9 115.9 L680.6 117.8 L681.5 119.7 L682.3 121.6 L683.2 123.5 L684.1 125.4 L685 127.3 L685.9 129.2 L686.9 131 L687.9 132.8 L689.1 134.6 L690.3 136.3 L691.6 137.9 L693 139.5 L694.5 140.9 L696.1 142.2 L697.9 143.3 L699.8 144.1 L701.9 144.7 L704 144.1 L705.9 143.3 L707.8 142.2 L709.4 140.9 L711 139.5 L712.4 137.9 L713.8 136.3 L715 134.6 L716.2 132.8 L717.2 131 L718.2 129.2 L719.2 127.3 L720.1 125.4 L721 123.5 L721.9 121.6 L722.8 119.7 L723.6 117.8 L724.4 115.9 L725.2 113.9 L725.9 112 L726.7 110 L727.4 108 L728.1 106.1 L728.8 104.1 L729.6 102.2 L730.4 100.2 L731.3 98.3 L732.1 96.4 L732.8 94.4 L733.5 92.5 L734.2 90.5 L734.8 88.5 L735.5 86.5 L736.1 84.5 L736.7 82.5 L737.5 80.5 L738.1 78.5 L738.6 76.5"/>
<path d="M663.6 76.5 L664.2 78.5 L664.7 80.5 L665.3 82.5 L666 84.5 L666.6 86.5 L667.2 88.5 L667.9 90.5 L668.5 92.5 L669.2 94.4 L669.9 96.4 L670.5 98.4 L671.2 100.4 L671.9 102.4 L672.5 104.3 L673.2 106.3 L673.8 108.3 L674.5 110.3 L675.1 112.3 L675.8 114.2 L676.5 116.2 L677.2 118.2 L677.9 120.1 L678.6 122.1 L679.4 124.1 L680.1 126 L680.9 127.9 L681.8 129.8 L682.6 131.7 L683.5 133.7 L684.3 135.6 L685.2 137.5 L686.2 139.3 L687.2 141.1 L688.4 142.8 L689.7 144.5 L691.1 146 L692.6 147.5 L694.2 148.9 L695.9 150.1 L697.8 151 L699.8 151.6 L701.9 152 L704 151.6 L706.1 151 L707.9 150.1 L709.7 148.9 L711.3 147.5 L712.9 146 L714.3 144.5 L715.6 142.8 L716.9 141.1 L717.9 139.3 L718.9 137.5 L719.9 135.6 L720.7 133.7 L721.6 131.7 L722.5 129.8 L723.3 127.9 L724.2 126 L724.9 124.1 L725.7 122.1 L726.4 120.1 L727.2 118.2 L727.9 116.2 L728.6 114.2 L729.3 112.3 L730 110.3 L730.6 108.3 L731.3 106.3 L732 104.3 L732.6 102.4 L733.3 100.4 L734 98.4 L734.7 96.4 L735.4 94.4 L736 92.5 L736.7 90.5 L737.4 88.5 L738 86.5 L738.7 84.5 L739.3 82.5 L739.9 80.5 L740.5 78.5 L741.1 76.5"/>
<path d="M654.2 74 L654.9 76 L655.5 77.9 L656.1 79.9 L656.8 81.9 L657.5 83.8 L658.2 85.7 L659.1 87.6 L659.9 89.5 L660.8 91.4 L661.7 93.2 L662.6 95.1 L663.4 97 L664.3 98.9 L665.1 100.8 L666 102.6 L666.8 104.5 L667.7 106.4 L668.5 108.3 L669.4 110.2 L670.2 112 L671 113.9 L671.8 115.9 L672.6 117.8 L673.3 119.7 L674 121.6 L674.7 123.6 L675.4 125.5 L676.1 127.5 L676.7 129.5 L677.3 131.4 L678 133.4 L678.7 135.3 L679.4 137.3 L680.1 139.2 L680.9 141.1 L681.8 143 L682.7 144.8 L683.7 146.7 L684.7 148.5 L685.7 150.3 L686.9 152 L688.2 153.6 L689.8 154.9 L691.7 155.9 L693.6 156.5 L695.7 156.8 L697.7 157 L699.8 157.1 L701.9 157.2 L704 157.1 L706.1 157 L708.2 156.8 L710.3 156.5 L712.3 155.9 L714.2 154.9 L715.9 153.6 L717.2 152 L718.4 150.3 L719.5 148.5 L720.5 146.7 L721.5 144.8 L722.4 143 L723.3 141.1 L724.1 139.2 L724.9 137.3 L725.6 135.3 L726.3 133.4 L727 131.4 L727.7 129.5 L728.3 127.5 L729 125.5 L729.7 123.6 L730.4 121.6 L731.1 119.7 L731.9 117.8 L732.7 115.9 L733.5 113.9 L734.3 112 L735.2 110.2 L736 108.3 L736.9 106.4 L737.8 104.5 L738.7 102.6 L739.5 100.8 L740.4 98.9 L741.3 97 L742.2 95.1 L743 93.2 L744 91.4 L744.9 89.5 L745.8 87.6 L746.6 85.7 L747.4 83.8 L748.1 81.9 L748.8 79.9 L749.4 77.9 L750.1 76 L750.7 74"/>
<path d="M654 74 L654.7 76 L655.3 77.9 L655.9 79.9 L656.5 81.8 L657.2 83.8 L657.9 85.7 L658.6 87.6 L659.4 89.5 L660.3 91.4 L661.1 93.3 L661.9 95.2 L662.7 97.1 L663.5 99 L664.3 100.9 L665.1 102.8 L665.9 104.7 L666.7 106.5 L667.6 108.4 L668.4 110.3 L669.2 112.2 L670 114.1 L670.7 116 L671.5 117.9 L672.2 119.9 L672.9 121.8 L673.6 123.7 L674.2 125.7 L674.9 127.6 L675.5 129.6 L676.2 131.5 L676.8 133.5 L677.5 135.4 L678.2 137.4 L678.9 139.3 L679.6 141.2 L680.3 143.2 L681 145.1 L681.7 147 L682.4 148.9 L683.2 150.9 L683.9 152.8 L684.7 154.7 L685.6 156.6 L686.5 158.4 L687.5 160.2 L688.7 161.9 L690.3 163.2 L692.2 163.8 L694.2 163.2 L696 162.2 L697.9 161.4 L699.8 160.7 L701.9 160.4 L704 160.7 L706 161.4 L707.9 162.2 L709.8 163.2 L711.8 163.8 L713.8 163.2 L715.4 161.9 L716.6 160.2 L717.7 158.4 L718.6 156.6 L719.5 154.7 L720.3 152.8 L721 150.9 L721.8 148.9 L722.6 147 L723.3 145.1 L724 143.2 L724.8 141.2 L725.5 139.3 L726.2 137.4 L726.9 135.4 L727.6 133.5 L728.2 131.5 L728.9 129.6 L729.5 127.6 L730.2 125.7 L730.9 123.7 L731.6 121.8 L732.3 119.9 L733 117.9 L733.8 116 L734.6 114.1 L735.4 112.2 L736.2 110.3 L737.1 108.4 L737.9 106.5 L738.7 104.7 L739.6 102.8 L740.4 100.9 L741.2 99 L742 97.1 L742.8 95.2 L743.7 93.3 L744.5 91.4 L745.4 89.5 L746.2 87.6 L747 85.7 L747.7 83.8 L748.4 81.8 L749 79.9 L749.6 77.9 L750.3 76 L750.9 74"/>
<path d="M648.2 74 L648.9 75.9 L649.6 77.8 L650.2 79.7 L650.9 81.6 L651.6 83.6 L652.2 85.5 L652.9 87.4 L653.5 89.3 L654.2 91.2 L654.9 93.1 L655.5 95 L656.2 97 L656.8 98.9 L657.4 100.8 L658 102.7 L658.7 104.7 L659.3 106.6 L659.9 108.5 L660.5 110.5 L661.1 112.4 L661.7 114.3 L662.2 116.3 L662.8 118.2 L663.4 120.2 L664 122.1 L664.6 124 L665.2 126 L665.8 127.9 L666.3 129.8 L666.9 131.8 L667.5 133.7 L668.1 135.7 L668.7 137.6 L669.3 139.5 L669.9 141.5 L670.5 143.4 L671.1 145.3 L671.7 147.3 L672.3 149.2 L672.9 151.1 L673.5 153.1 L674.1 155 L674.7 156.9 L675.3 158.9 L675.9 160.8 L676.5 162.7 L677.1 164.7 L677.7 166.6 L678.3 168.5 L678.9 170.5 L679.5 172.4 L680.1 174.3 L680.7 176.3 L681.3 178.2 L681.9 180.1 L682.5 182.1 L683.1 184 L683.7 185.9 L684.3 187.9 L684.9 189.8 L685.5 191.7 L686.2 193.7 L686.8 195.6 L687.4 197.5 L688 199.4 L688.6 201.4 L689.2 203.3 L689.8 205.2 L690.4 207.2 L691 209.1 L691.7 211 L692.3 212.9 L693 214.8 L693.7 216.7 L694.4 218.6 L695.1 220.5 L695.8 222.4 L696.5 224.3 L697.2 226.3 L697.8 228.2 L698.5 230.1 L699.4 231.9 L700.5 233.6 L701.9 235.1 L703.3 233.6 L704.4 231.9 L705.3 230.1 L706 228.2 L706.7 226.3 L707.4 224.3 L708.1 222.4 L708.9 220.5 L709.6 218.6 L710.3 216.7 L711 214.8 L711.7 212.9 L712.3 211 L713 209.1 L713.6 207.2 L714.2 205.2 L714.8 203.3 L715.5 201.4 L716.1 199.4 L716.7 197.5 L717.3 195.6 L718 193.7 L718.6 191.7 L719.3 189.8 L719.9 187.9 L720.5 185.9 L721.1 184 L721.8 182.1 L722.4 180.1 L723 178.2 L723.6 176.3 L724.2 174.3 L724.8 172.4 L725.4 170.5 L726 168.5 L726.6 166.6 L727.3 164.7 L727.9 162.7 L728.5 160.8 L729.1 158.9 L729.8 156.9 L730.4 155 L731 153.1 L731.6 151.1 L732.2 149.2 L732.8 147.3 L733.5 145.3 L734.1 143.4 L734.7 141.5 L735.3 139.5 L735.9 137.6 L736.5 135.7 L737.1 133.7 L737.7 131.8 L738.3 129.8 L738.9 127.9 L739.5 126 L740.1 124 L740.7 122.1 L741.3 120.2 L741.9 118.2 L742.5 116.3 L743.1 114.3 L743.7 112.4 L744.3 110.5 L744.9 108.5 L745.6 106.6 L746.2 104.7 L746.8 102.7 L747.4 100.8 L748.1 98.9 L748.7 97 L749.4 95 L750.1 93.1 L750.7 91.2 L751.4 89.3 L752.1 87.4 L752.8 85.5 L753.5 83.6 L754.1 81.6 L754.8 79.7 L755.5 77.8 L756.2 75.9 L756.9 74"/>
<path d="M648.2 74 L648.9 75.9 L649.6 77.9 L650.3 79.8 L650.9 81.7 L651.6 83.6 L652.3 85.6 L652.9 87.5 L653.6 89.4 L654.3 91.4 L654.9 93.3 L655.6 95.2 L656.2 97.2 L656.9 99.1 L657.5 101 L658.2 103 L658.8 104.9 L659.4 106.9 L660 108.8 L660.6 110.8 L661.3 112.7 L661.9 114.7 L662.5 116.6 L663.1 118.6 L663.7 120.5 L664.3 122.5 L664.9 124.4 L665.5 126.4 L666.1 128.3 L666.8 130.2 L667.4 132.2 L668 134.1 L668.6 136.1 L669.3 138 L669.9 140 L670.5 141.9 L671.1 143.8 L671.8 145.8 L672.4 147.7 L673 149.7 L673.6 151.6 L674.2 153.6 L674.8 155.5 L675.4 157.5 L675.9 159.5 L676.5 161.4 L677.1 163.4 L677.6 165.3 L678.2 167.3 L678.8 169.3 L679.4 171.2 L680 173.2 L680.6 175.1 L681.2 177.1 L681.8 179 L682.5 181 L683.1 182.9 L683.7 184.8 L684.4 186.8 L685 188.7 L685.7 190.6 L686.3 192.6 L687 194.5 L687.6 196.4 L688.3 198.4 L688.9 200.3 L689.5 202.3 L690.1 204.2 L690.7 206.2 L691.2 208.2 L691.8 210.1 L692.4 212.1 L693.1 214 L693.7 215.9 L694.4 217.9 L695.1 219.8 L695.8 221.7 L696.5 223.6 L697.3 225.5 L698.1 227.4 L699.1 229.2 L700.3 230.8 L701.9 232.2 L703.5 230.8 L704.7 229.2 L705.7 227.4 L706.5 225.5 L707.3 223.6 L708.1 221.7 L708.8 219.8 L709.5 217.9 L710.2 215.9 L710.9 214 L711.5 212.1 L712.2 210.1 L712.8 208.2 L713.4 206.2 L714 204.2 L714.5 202.3 L715.2 200.3 L715.8 198.4 L716.4 196.4 L717.1 194.5 L717.8 192.6 L718.5 190.6 L719.1 188.7 L719.8 186.8 L720.5 184.8 L721.1 182.9 L721.8 181 L722.4 179 L723 177.1 L723.7 175.1 L724.3 173.2 L724.9 171.2 L725.5 169.3 L726.1 167.3 L726.7 165.3 L727.3 163.4 L727.9 161.4 L728.5 159.5 L729.1 157.5 L729.7 155.5 L730.3 153.6 L730.9 151.6 L731.5 149.7 L732.1 147.7 L732.7 145.8 L733.4 143.8 L734 141.9 L734.7 140 L735.3 138 L736 136.1 L736.6 134.1 L737.2 132.2 L737.9 130.2 L738.5 128.3 L739.1 126.4 L739.8 124.4 L740.4 122.5 L741 120.5 L741.6 118.6 L742.3 116.6 L742.9 114.7 L743.5 112.7 L744.1 110.8 L744.8 108.8 L745.4 106.9 L746.1 104.9 L746.7 103 L747.3 101 L748 99.1 L748.7 97.2 L749.3 95.2 L750 93.3 L750.7 91.4 L751.4 89.4 L752.1 87.5 L752.7 85.6 L753.4 83.6 L754.1 81.7 L754.8 79.8 L755.5 77.9 L756.2 75.9 L756.9 74"/>
<path d="M650.9 74 L651.6 75.9 L652.3 77.8 L652.9 79.7 L653.6 81.7 L654.3 83.6 L654.9 85.5 L655.6 87.4 L656.2 89.3 L656.9 91.2 L657.6 93.1 L658.2 95.1 L658.9 97 L659.5 98.9 L660.1 100.8 L660.8 102.8 L661.4 104.7 L662 106.6 L662.6 108.5 L663.2 110.5 L663.9 112.4 L664.5 114.3 L665.1 116.3 L665.7 118.2 L666.3 120.1 L666.9 122.1 L667.5 124 L668.1 125.9 L668.7 127.9 L669.3 129.8 L669.9 131.7 L670.5 133.7 L671.1 135.6 L671.7 137.5 L672.3 139.5 L672.9 141.4 L673.4 143.4 L674 145.3 L674.6 147.2 L675.2 149.2 L675.8 151.1 L676.4 153.1 L677 155 L677.6 156.9 L678.2 158.9 L678.8 160.8 L679.5 162.7 L680.1 164.6 L680.8 166.5 L681.4 168.5 L682.1 170.4 L682.7 172.3 L683.3 174.2 L683.9 176.2 L684.5 178.1 L685.1 180 L685.7 182 L686.3 183.9 L686.9 185.9 L687.5 187.8 L688.1 189.7 L688.7 191.7 L689.2 193.6 L689.8 195.6 L690.4 197.5 L691 199.4 L691.6 201.4 L692.2 203.3 L692.9 205.2 L693.5 207.1 L694.2 209 L694.9 210.9 L695.5 212.8 L696.2 214.8 L696.8 216.7 L697.3 218.7 L697.9 220.7 L698.4 222.7 L699.2 224.5 L700.3 226.1 L701.9 227.5 L703.5 226.1 L704.6 224.5 L705.4 222.7 L706 220.7 L706.5 218.7 L707.1 216.7 L707.7 214.8 L708.4 212.8 L709 210.9 L709.7 209 L710.4 207.1 L711.1 205.2 L711.7 203.3 L712.4 201.4 L713 199.4 L713.6 197.5 L714.2 195.6 L714.8 193.6 L715.4 191.7 L716 189.7 L716.6 187.8 L717.2 185.9 L717.8 183.9 L718.4 182 L719 180 L719.6 178.1 L720.3 176.2 L720.9 174.2 L721.5 172.3 L722.2 170.4 L722.8 168.5 L723.5 166.5 L724.2 164.6 L724.8 162.7 L725.5 160.8 L726.1 158.9 L726.8 156.9 L727.4 155 L728 153.1 L728.6 151.1 L729.2 149.2 L729.8 147.2 L730.4 145.3 L731 143.4 L731.6 141.4 L732.2 139.5 L732.8 137.5 L733.4 135.6 L734 133.7 L734.6 131.7 L735.2 129.8 L735.9 127.9 L736.5 125.9 L737.1 124 L737.7 122.1 L738.3 120.1 L739 118.2 L739.6 116.3 L740.2 114.3 L740.8 112.4 L741.5 110.5 L742.1 108.5 L742.7 106.6 L743.4 104.7 L744 102.8 L744.7 100.8 L745.3 98.9 L746 97 L746.6 95.1 L747.3 93.1 L748 91.2 L748.7 89.3 L749.3 87.4 L750 85.5 L750.7 83.6 L751.4 81.7 L752 79.7 L752.7 77.8 L753.4 75.9 L754.1 74"/>
<path d="M654.2 74 L654.9 76 L655.5 77.9 L656.1 79.9 L656.7 81.9 L657.3 83.8 L658 85.8 L658.6 87.7 L659.2 89.7 L659.9 91.7 L660.5 93.6 L661.2 95.6 L661.9 97.5 L662.5 99.5 L663.1 101.4 L663.8 103.4 L664.4 105.3 L665 107.3 L665.7 109.3 L666.3 111.2 L666.9 113.2 L667.5 115.2 L668.1 117.1 L668.7 119.1 L669.3 121.1 L669.9 123 L670.5 125 L671.1 127 L671.7 128.9 L672.3 130.9 L672.8 132.9 L673.4 134.9 L674 136.9 L674.6 138.8 L675.1 140.8 L675.7 142.8 L676.3 144.8 L676.8 146.8 L677.4 148.7 L678 150.7 L678.6 152.7 L679.2 154.6 L679.8 156.6 L680.5 158.6 L681.1 160.5 L681.7 162.5 L682.4 164.4 L683.1 166.4 L683.7 168.3 L684.4 170.3 L685 172.2 L685.6 174.2 L686.2 176.2 L686.8 178.1 L687.4 180.1 L688 182.1 L688.7 184.1 L689.4 186 L690.3 187.8 L691.4 189.6 L692.7 191.3 L694.2 192.7 L695.9 193.8 L697.8 194.6 L699.8 195 L701.9 195.2 L704 195 L706.1 194.6 L708 193.8 L709.8 192.7 L711.3 191.3 L712.6 189.6 L713.8 187.8 L714.7 186 L715.4 184.1 L716.1 182.1 L716.7 180.1 L717.3 178.1 L717.9 176.2 L718.6 174.2 L719.2 172.2 L719.8 170.3 L720.5 168.3 L721.1 166.4 L721.8 164.4 L722.5 162.5 L723.2 160.5 L723.8 158.6 L724.5 156.6 L725.1 154.6 L725.7 152.7 L726.3 150.7 L726.9 148.7 L727.5 146.8 L728.1 144.8 L728.7 142.8 L729.3 140.8 L729.9 138.8 L730.5 136.9 L731 134.9 L731.6 132.9 L732.2 130.9 L732.8 128.9 L733.4 127 L734 125 L734.6 123 L735.2 121.1 L735.8 119.1 L736.5 117.1 L737.1 115.2 L737.7 113.2 L738.4 111.2 L739 109.3 L739.6 107.3 L740.3 105.3 L740.9 103.4 L741.6 101.4 L742.2 99.5 L742.9 97.5 L743.6 95.6 L744.2 93.6 L744.9 91.7 L745.6 89.7 L746.3 87.7 L746.9 85.8 L747.5 83.8 L748.2 81.9 L748.8 79.9 L749.4 77.9 L750.1 76 L750.7 74"/>
<path d="M689.3 75 L690 77.2 L690.7 79.4 L691.5 81.7 L692.3 83.9 L693.2 86 L694.1 88.2 L695.2 90.3 L696.4 92.3 L697.8 94.2 L699.5 95.6 L701.9 96.2 L704.2 95.6 L706.1 94.2 L707.5 92.3 L708.8 90.3 L709.8 88.2 L710.8 86 L711.7 83.9 L712.5 81.7 L713.3 79.4 L714.1 77.2 L714.8 75"/>
<path d="M686.3 75 L687 77.1 L687.8 79.2 L688.6 81.3 L689.3 83.3 L690.1 85.4 L691 87.5 L691.9 89.5 L692.9 91.5 L693.9 93.4 L695.1 95.3 L696.4 97.2 L697.8 98.9 L699.6 100 L701.9 100.6 L704.1 100 L706 98.9 L707.5 97.2 L708.8 95.3 L710 93.4 L711.1 91.5 L712.1 89.5 L713 87.5 L713.9 85.4 L714.7 83.3 L715.5 81.3 L716.3 79.2 L717.1 77.1 L717.9 75"/>
<path d="M676.4 75.6 L677.8 77.3 L679.2 78.9 L680.6 80.6 L682 82.3 L683.4 84 L684.8 85.6 L686.2 87.3 L687.6 88.9 L689.1 90.6 L690.5 92.2 L691.9 93.9 L693.3 95.6 L694.7 97.2 L696.1 99 L697.4 100.7 L698.7 102.5 L700.1 104.2 L701.9 105.4 L703.7 104.2 L705.1 102.5 L706.5 100.7 L707.8 99 L709.2 97.2 L710.6 95.6 L712.1 93.9 L713.5 92.2 L715 90.6 L716.5 88.9 L717.9 87.3 L719.4 85.6 L720.8 84 L722.3 82.3 L723.7 80.6 L725.1 78.9 L726.6 77.3 L728 75.6"/>
<path d="M680.3 75.6 L681.4 77.4 L682.5 79.2 L683.7 81 L684.8 82.8 L686 84.6 L687.1 86.4 L688.3 88.2 L689.5 90 L690.7 91.8 L691.9 93.6 L693.1 95.4 L694.3 97.1 L695.5 98.9 L696.7 100.7 L697.8 102.5 L698.9 104.4 L700.2 106 L701.9 107.4 L703.6 106 L704.9 104.4 L706.1 102.5 L707.2 100.7 L708.4 98.9 L709.6 97.1 L710.9 95.4 L712.1 93.6 L713.4 91.8 L714.6 90 L715.8 88.2 L717 86.4 L718.2 84.6 L719.3 82.8 L720.5 81 L721.7 79.2 L722.9 77.4 L724 75.6"/>
<path d="M674.3 75 L675.2 76.9 L676.2 78.9 L677.2 80.8 L678.2 82.7 L679.2 84.6 L680.2 86.5 L681.3 88.3 L682.4 90.2 L683.5 92 L684.7 93.8 L685.8 95.6 L687 97.4 L688.3 99.2 L689.6 100.9 L690.9 102.6 L692.4 104.2 L694 105.6 L695.8 106.9 L697.7 107.9 L699.7 108.5 L701.9 108.8 L704.1 108.5 L706.2 107.9 L708.1 106.9 L709.9 105.6 L711.6 104.2 L713.1 102.6 L714.5 100.9 L715.8 99.2 L717.1 97.4 L718.3 95.6 L719.5 93.8 L720.7 92 L721.8 90.2 L722.9 88.3 L724.1 86.5 L725.1 84.6 L726.2 82.7 L727.2 80.8 L728.2 78.9 L729.2 76.9 L730.2 75"/>
<path d="M684.7 75 L685.3 77.1 L686 79.2 L686.6 81.3 L687.2 83.5 L687.8 85.6 L688.4 87.7 L689.2 89.8 L690 91.8 L691 93.8 L692.1 95.7 L693.3 97.5 L694.6 99.4 L696.1 101.1 L697.7 102.5 L699.6 103.5 L701.9 104 L704.2 103.5 L706.1 102.5 L707.8 101.1 L709.3 99.4 L710.6 97.5 L711.9 95.7 L713 93.8 L714 91.8 L714.9 89.8 L715.6 87.7 L716.3 85.6 L716.9 83.5 L717.5 81.3 L718.2 79.2 L718.8 77.1 L719.5 75"/>
</g>
<path d="M701.9 80.3V428.8" stroke="#000" stroke-width="1.7"/>
<path d="M558.2 323.2H988.5" stroke="#222" stroke-width="1.35" stroke-dasharray="14.6 8.8" fill="none"/>
<path d="M558.2 341.6H988.5" stroke="#222" stroke-width="1.35" stroke-dasharray="14.6 8.8" fill="none"/>
<path d="M558.2 357H988.5" stroke="#222" stroke-width="1.35" stroke-dasharray="14.6 8.8" fill="none"/>
<path d="M558.2 80.3H988.5V428.8H558.2Z M849.2 80.3V428.8" fill="none" stroke="#000" stroke-width="2.05"/>
<path d="M558.2 123.9h6.4M842.8 123.9h6.4M558.2 167.4h4.9M845 167.4h10.2M988.5 167.4h-6.5M558.2 211h6.4M842.8 211h6.4M558.2 254.6h4.9M845 254.6h10.2M988.5 254.6h-6.5M558.2 298.1h6.4M842.8 298.1h6.4M558.2 341.7h4.9M845 341.7h10.2M988.5 341.7h-6.5M558.2 385.2h6.4M842.8 385.2h6.4M866.6 80.3v6.2M866.6 428.8v-6.2M884 80.3v6.2M884 428.8v-6.2M901.4 80.3v6.2M901.4 428.8v-6.2M918.9 80.3v6.2M918.9 428.8v-6.2M936.3 80.3v6.2M936.3 428.8v-6.2M953.7 80.3v6.2M953.7 428.8v-6.2M971.1 80.3v6.2M971.1 428.8v-6.2" stroke="#000" stroke-width="1.9" fill="none"/>
<text x="545.5" y="88.5" font-size="22" text-anchor="end" >0.6</text>
<text x="545.5" y="172.1" font-size="22" text-anchor="end" >0.4</text>
<text x="545.5" y="258.6" font-size="22" text-anchor="end" >0.2</text>
<text x="545.5" y="350.2" font-size="22" text-anchor="end" >0.0</text>
<text x="545.5" y="438.8" font-size="22" text-anchor="end" >-0.2</text>
<text x="548.4" y="458.6" font-size="24.5" class="sf" >K</text>
<text x="699.7" y="458.6" font-size="24.5" class="sf" >Γ</text>
<text x="837" y="458.6" font-size="24.5" class="sf" >K'</text>
<text x="848.9" y="69.3" font-size="18" text-anchor="middle" >-4</text>
<text x="882" y="69.3" font-size="18" text-anchor="middle" >-2</text>
<text x="914.9" y="69.3" font-size="18" text-anchor="middle" >0</text>
<text x="950.6" y="69.3" font-size="18" text-anchor="middle" >2</text>
<text x="980.8" y="69.3" font-size="18" text-anchor="middle" >4</text>
<text x='888.3' y='39.6' font-size='18'><tspan class='sf' font-size='19'>σ</tspan><tspan class='sf' font-style='italic' font-size='12' dy='4.6' dx='-0.8'>xy</tspan><tspan dy='-4.6' dx='2.0'>(</tspan><tspan font-style='italic'>h</tspan>/<tspan font-style='italic'>e</tspan><tspan font-size='11.5' dy='-7'>2</tspan><tspan dy='7'>)</tspan></text>
<text x="667" y="48.6" font-size="22" xml:space="preserve"><tspan font-style="italic">E</tspan> =0 V/Å</text>
<text x="509.5" y="39.4" font-size="30" font-weight="bold" >b</text>
<text transform="translate(497.3 312) rotate(-90)" font-size="24"><tspan font-style="italic">E</tspan>-<tspan font-style="italic">E</tspan><tspan font-size="16.5" dy="4.6">F</tspan><tspan dy="-4.6"> (eV)</tspan></text>
<path d="M1681.4 82 L1669 82 L1668.7 83.9 L1668.3 86.7 L1667.9 89.9 L1667.6 92.9 L1667.7 95.4 L1668.1 97.2 L1668.7 98.7 L1669.5 100 L1670.5 101.1 L1671.8 102.2 L1673.3 103.2 L1675 104 L1676.9 104.8 L1679 105.5 L1681.3 106.3 L1683.8 107.1 L1686.5 107.9 L1689.4 108.7 L1692.3 109.5 L1695 110.4 L1697.7 111.4 L1700.4 112.5 L1703.1 113.6 L1705.4 114.7 L1707.2 115.8 L1708.5 116.9 L1709.3 117.9 L1709.7 119 L1709.9 120.1 L1710 121.3 L1709.9 122.6 L1709.6 123.9 L1709.1 125.3 L1708.3 126.7 L1707.2 128.1 L1705.8 129.5 L1703.9 130.9 L1701.9 132.3 L1699.8 133.7 L1697.7 134.9 L1695.5 136 L1693.1 136.9 L1690.6 137.8 L1688.5 138.7 L1686.8 139.5 L1685.6 140.2 L1684.8 140.7 L1684.2 141.3 L1684 142 L1684 143.1 L1684.3 144.6 L1684.9 146.4 L1685.7 148.4 L1686.8 150.5 L1688.1 152.6 L1689.7 154.7 L1691.5 156.8 L1693.6 159 L1695.7 161.2 L1697.7 163.5 L1699.7 165.9 L1701.7 168.3 L1703.7 170.8 L1705.6 173.3 L1707.2 175.8 L1708.7 178.4 L1710.1 181.1 L1711.4 183.8 L1712.3 186.4 L1712.7 188.6 L1712.6 190.4 L1711.9 191.7 L1711 193 L1709.8 194.4 L1708.6 196.2 L1707.2 198.5 L1705.7 201.1 L1704 203.9 L1702.2 206.9 L1700.4 209.9 L1698.5 213 L1696.4 216.4 L1694.4 219.7 L1692.5 223.1 L1690.9 226.2 L1689.7 229.1 L1688.8 231.7 L1688.1 234.3 L1687.5 237 L1686.8 239.8 L1686.1 242.9 L1685.3 246.2 L1684.6 249.5 L1684.1 252.8 L1683.6 255.7 L1683.3 258.4 L1683.1 261 L1683 263.3 L1683 265.5 L1683 267.3 L1683.2 268.7 L1683.6 269.8 L1684.1 270.6 L1684.3 271.5 L1684.3 272.5 L1683.9 273.6 L1683.3 274.8 L1682.4 276 L1681.5 277.3 L1680.5 278.8 L1679.4 280.5 L1678.3 282.3 L1677 284.2 L1675.6 286.2 L1674.2 288.2 L1672.5 290.3 L1670.6 292.4 L1668.7 294.6 L1667 296.7 L1665.8 298.7 L1665.2 300.5 L1665 302.3 L1665.1 304 L1665.1 305.6 L1664.8 307.1 L1664.1 308.5 L1663.2 309.7 L1662.3 310.9 L1661.4 312.1 L1660.6 313.4 L1660 314.8 L1659.6 316.3 L1659.2 317.9 L1658.8 319.4 L1658.5 320.7 L1658.2 321.9 L1657.9 322.9 L1657.6 323.9 L1657.4 324.9 L1657.4 326 L1657.5 327.2 L1657.7 328.4 L1658 329.7 L1658.5 331 L1659.1 332.3 L1659.9 333.6 L1660.9 334.9 L1662.1 336.2 L1663.4 337.4 L1664.8 338.6 L1666.4 339.7 L1668.3 340.7 L1670.3 341.7 L1672.3 342.6 L1674.2 343.4 L1676 344 L1677.9 344.5 L1679.7 344.9 L1681.6 345.3 L1683.6 345.9 L1685.9 346.6 L1688.3 347.5 L1690.8 348.3 L1693.2 349.2 L1695.2 350.1 L1696.9 350.9 L1698.5 351.7 L1699.8 352.5 L1700.9 353.4 L1701.5 354.3 L1701.7 355.3 L1701.5 356.3 L1700.9 357.4 L1700.2 358.4 L1699.4 359.5 L1698.5 360.6 L1697.4 361.7 L1696.1 362.8 L1694.7 363.8 L1693.1 364.8 L1691.3 365.7 L1689.2 366.6 L1687 367.4 L1684.8 368.2 L1682.6 369 L1680.4 369.8 L1678.1 370.7 L1675.8 371.5 L1673.8 372.4 L1672.1 373.2 L1670.8 374 L1669.8 374.9 L1669 375.7 L1668.6 376.5 L1668.5 377.3 L1668.8 378.1 L1669.6 378.8 L1670.6 379.5 L1671.8 380.2 L1673.1 380.9 L1674.7 381.6 L1676.7 382.2 L1678.7 382.9 L1680.4 383.6 L1681.5 384.3 L1681.7 385.1 L1681.2 385.9 L1680.4 386.8 L1679.6 387.6 L1679.4 388.5 L1679.7 389.4 L1680.2 390.4 L1681 391.3 L1681.8 392.2 L1682.6 393.1 L1683.6 393.9 L1684.8 394.7 L1686 395.5 L1686.9 396.2 L1687.2 396.8 L1687.7 397.2 L1688.7 397.5 L1688.8 397.8 L1686.8 398.2 L1681.5 398.9 L1670.7 400.2 L1655.3 401.8 L1638.5 403.6 L1623.3 405.2 L1613 406.3 L1612.2 429.8 L1681.4 429.8Z" fill="url(#gsd)"/>
<path d="M1669 82 L1668.7 83.9 L1668.3 86.7 L1667.9 89.9 L1667.6 92.9 L1667.7 95.4 L1668.1 97.2 L1668.7 98.7 L1669.5 100 L1670.5 101.1 L1671.8 102.2 L1673.3 103.2 L1675 104 L1676.9 104.8 L1679 105.5 L1681.3 106.3 L1683.8 107.1 L1686.5 107.9 L1689.4 108.7 L1692.3 109.5 L1695 110.4 L1697.7 111.4 L1700.4 112.5 L1703.1 113.6 L1705.4 114.7 L1707.2 115.8 L1708.5 116.9 L1709.3 117.9 L1709.7 119 L1709.9 120.1 L1710 121.3 L1709.9 122.6 L1709.6 123.9 L1709.1 125.3 L1708.3 126.7 L1707.2 128.1 L1705.8 129.5 L1703.9 130.9 L1701.9 132.3 L1699.8 133.7 L1697.7 134.9 L1695.5 136 L1693.1 136.9 L1690.6 137.8 L1688.5 138.7 L1686.8 139.5 L1685.6 140.2 L1684.8 140.7 L1684.2 141.3 L1684 142 L1684 143.1 L1684.3 144.6 L1684.9 146.4 L1685.7 148.4 L1686.8 150.5 L1688.1 152.6 L1689.7 154.7 L1691.5 156.8 L1693.6 159 L1695.7 161.2 L1697.7 163.5 L1699.7 165.9 L1701.7 168.3 L1703.7 170.8 L1705.6 173.3 L1707.2 175.8 L1708.7 178.4 L1710.1 181.1 L1711.4 183.8 L1712.3 186.4 L1712.7 188.6 L1712.6 190.4 L1711.9 191.7 L1711 193 L1709.8 194.4 L1708.6 196.2 L1707.2 198.5 L1705.7 201.1 L1704 203.9 L1702.2 206.9 L1700.4 209.9 L1698.5 213 L1696.4 216.4 L1694.4 219.7 L1692.5 223.1 L1690.9 226.2 L1689.7 229.1 L1688.8 231.7 L1688.1 234.3 L1687.5 237 L1686.8 239.8 L1686.1 242.9 L1685.3 246.2 L1684.6 249.5 L1684.1 252.8 L1683.6 255.7 L1683.3 258.4 L1683.1 261 L1683 263.3 L1683 265.5 L1683 267.3 L1683.2 268.7 L1683.6 269.8 L1684.1 270.6 L1684.3 271.5 L1684.3 272.5 L1683.9 273.6 L1683.3 274.8 L1682.4 276 L1681.5 277.3 L1680.5 278.8 L1679.4 280.5 L1678.3 282.3 L1677 284.2 L1675.6 286.2 L1674.2 288.2 L1672.5 290.3 L1670.6 292.4 L1668.7 294.6 L1667 296.7 L1665.8 298.7 L1665.2 300.5 L1665 302.3 L1665.1 304 L1665.1 305.6 L1664.8 307.1 L1664.1 308.5 L1663.2 309.7 L1662.3 310.9 L1661.4 312.1 L1660.6 313.4 L1660 314.8 L1659.6 316.3 L1659.2 317.9 L1658.8 319.4 L1658.5 320.7 L1658.2 321.9 L1657.9 322.9 L1657.6 323.9 L1657.4 324.9 L1657.4 326 L1657.5 327.2 L1657.7 328.4 L1658 329.7 L1658.5 331 L1659.1 332.3 L1659.9 333.6 L1660.9 334.9 L1662.1 336.2 L1663.4 337.4 L1664.8 338.6 L1666.4 339.7 L1668.3 340.7 L1670.3 341.7 L1672.3 342.6 L1674.2 343.4 L1676 344 L1677.9 344.5 L1679.7 344.9 L1681.6 345.3 L1683.6 345.9 L1685.9 346.6 L1688.3 347.5 L1690.8 348.3 L1693.2 349.2 L1695.2 350.1 L1696.9 350.9 L1698.5 351.7 L1699.8 352.5 L1700.9 353.4 L1701.5 354.3 L1701.7 355.3 L1701.5 356.3 L1700.9 357.4 L1700.2 358.4 L1699.4 359.5 L1698.5 360.6 L1697.4 361.7 L1696.1 362.8 L1694.7 363.8 L1693.1 364.8 L1691.3 365.7 L1689.2 366.6 L1687 367.4 L1684.8 368.2 L1682.6 369 L1680.4 369.8 L1678.1 370.7 L1675.8 371.5 L1673.8 372.4 L1672.1 373.2 L1670.8 374 L1669.8 374.9 L1669 375.7 L1668.6 376.5 L1668.5 377.3 L1668.8 378.1 L1669.6 378.8 L1670.6 379.5 L1671.8 380.2 L1673.1 380.9 L1674.7 381.6 L1676.7 382.2 L1678.7 382.9 L1680.4 383.6 L1681.5 384.3 L1681.7 385.1 L1681.2 385.9 L1680.4 386.8 L1679.6 387.6 L1679.4 388.5 L1679.7 389.4 L1680.2 390.4 L1681 391.3 L1681.8 392.2 L1682.6 393.1 L1683.6 393.9 L1684.8 394.7 L1686 395.5 L1686.9 396.2 L1687.2 396.8 L1687.7 397.2 L1688.7 397.5 L1688.8 397.8 L1686.8 398.2 L1681.5 398.9 L1670.7 400.2 L1655.3 401.8 L1638.5 403.6 L1623.3 405.2 L1613 406.3" fill="none" stroke="#1a1a1a" stroke-width="0.9" stroke-linejoin="round"/>
<path d="M1681.4 113.5V429.8" stroke="#111" stroke-width="1.3" stroke-dasharray="15.5 8" fill="none"/>
<g clip-path="url(#cpd)" fill="none" stroke="#000" stroke-width="1.8" stroke-linejoin="round">
<path d="M1465.4 272.4 L1464 274 L1462.9 275.6 L1462.1 277.4 L1461.3 279.3 L1460.6 281.2 L1459.6 282.9 L1458.2 284.6 L1456.4 284.9 L1454.5 284.2 L1452.5 283.7 L1450.6 284 L1448.7 285.1 L1447.1 286.4 L1445.6 287.8 L1444.2 289.3 L1442.9 290.9 L1441.7 292.5 L1440.6 294.1 L1439.5 295.8 L1438.5 297.5 L1437.4 299.2 L1436.4 301 L1435.5 302.8 L1434.5 304.5 L1433.5 306.3 L1432.5 308.1 L1431.4 309.8 L1430.4 311.6 L1429.3 313.3 L1428.2 315 L1427.1 316.7 L1426 318.3 L1424.8 320 L1423.7 321.6 L1422.5 323.2 L1421.2 324.8 L1420 326.4 L1418.7 328 L1417.4 329.5 L1416.1 331.1 L1414.8 332.6 L1413.4 334.1 L1412.1 335.6 L1410.7 337.1 L1409.4 338.6 L1408 340.1 L1406.6 341.6 L1405.3 343.1 L1403.9 344.6 L1402.6 346.1 L1401.3 347.6 L1400 349.2 L1398.7 350.7 L1397.4 352.3 L1396.1 353.8 L1394.9 355.4 L1393.6 357 L1392.4 358.6 L1391.2 360.2 L1390 361.8 L1388.8 363.4 L1387.6 365 L1386.3 366.6 L1385 368.2 L1383.7 369.8 L1382.3 371.3 L1380.9 372.9 L1379.4 374.3 L1377.8 375.5 L1376.2 376.5 L1374.4 377.3 L1372.5 377.8 L1370.5 378.2 L1368.4 378.6 L1366.5 379 L1364.5 379.6 L1362.6 380.4 L1360.8 381.3 L1359.2 382.4 L1357.6 383.6 L1356.1 385 L1354.7 386.4 L1353.2 387.9 L1351.8 389.3 L1350.3 390.7 L1348.8 392.1 L1347.3 393.4 L1345.8 394.7 L1344.3 396.1 L1342.8 397.4 L1341.3 398.8 L1339.8 400.2 L1338.4 401.6 L1337 403 L1335.6 404.4 L1334.1 405.9 L1332.8 407.4 L1331.4 408.8 L1330 410.3 L1328.6 411.8 L1327.3 413.3 L1325.9 414.8 L1324.5 416.3 L1323.2 417.8 L1321.8 419.2"/>
<path d="M1465.4 286.5 L1463.4 286.6 L1461.3 286.5 L1459.3 286.6 L1457.5 287.2 L1456.1 288.7 L1454.9 290.5 L1453.7 292.2 L1452.6 293.9 L1451.5 295.6 L1450.4 297.3 L1449.4 299 L1448.4 300.8 L1447.5 302.5 L1446.6 304.3 L1445.7 306.2 L1444.8 308 L1443.9 309.8 L1442.9 311.6 L1442 313.4 L1441 315.2 L1440 317 L1439 318.7 L1438 320.5 L1436.9 322.2 L1435.7 323.9 L1434.6 325.6 L1433.3 327.1 L1432.1 328.7 L1430.7 330.1 L1429.2 331.5 L1427.7 332.9 L1426.2 334.2 L1424.6 335.5 L1423.1 336.8 L1421.6 338.2 L1420.2 339.6 L1418.8 341.1 L1417.5 342.7 L1416.3 344.3 L1415 345.9 L1413.8 347.5 L1412.7 349.2 L1411.6 350.9 L1410.5 352.6 L1409.5 354.4 L1408.5 356.1 L1407.4 357.8 L1406.4 359.6 L1405.3 361.3 L1404.2 363 L1403 364.6 L1401.8 366.2 L1400.5 367.8 L1399.2 369.4 L1397.8 370.9 L1396.3 372.3 L1394.8 373.6 L1393.2 374.8 L1391.6 375.9 L1389.8 377 L1388.1 378 L1386.3 378.9 L1384.5 379.9 L1382.7 380.8 L1380.9 381.7 L1379.1 382.6 L1377.3 383.5 L1375.4 384.4 L1373.6 385.3 L1371.8 386.2 L1370 387 L1368.2 388 L1366.4 388.9 L1364.7 389.9 L1362.9 391 L1361.3 392.2 L1359.6 393.4 L1358 394.6 L1356.5 395.9 L1354.9 397.2 L1353.5 398.6 L1352.1 400 L1350.6 401.5 L1349.3 403 L1347.9 404.4 L1346.5 405.9 L1345.1 407.5 L1343.8 409 L1342.4 410.5 L1341 411.9 L1339.5 413.3 L1337.9 414.5 L1336.2 415.5 L1334.4 416.5 L1332.6 417.3 L1330.7 418.2 L1328.9 419 L1327.1 419.9 L1325.3 420.9 L1323.5 421.9 L1321.8 423"/>
<path d="M1328.8 433.4 L1330.1 431.8 L1331.5 430.3 L1332.9 428.9 L1334.4 427.6 L1335.9 426.3 L1337.5 425 L1339.1 423.7 L1340.6 422.4 L1342.2 421.1 L1343.8 419.9 L1345.3 418.6 L1346.9 417.3 L1348.4 416 L1349.9 414.7 L1351.5 413.3 L1353 412 L1354.5 410.7 L1356.1 409.4 L1357.6 408.1 L1359.2 406.8 L1360.7 405.5 L1362.3 404.3 L1363.9 403 L1365.5 401.8 L1367.1 400.5 L1368.7 399.3 L1370.3 398.1 L1372 396.9 L1373.6 395.8 L1375.4 394.8 L1377.2 394 L1379.1 393.2 L1381 392.6 L1382.9 391.8 L1384.8 391 L1386.5 390.1 L1388.3 389.1 L1390 388 L1391.7 386.9 L1393.4 385.8 L1395.2 384.9 L1397 384 L1398.8 383.1 L1400.7 382.3 L1402.5 381.5 L1404.4 380.7 L1406.3 380 L1408.1 379.2 L1410 378.4 L1411.8 377.5 L1413.6 376.6 L1415.3 375.5 L1417 374.4 L1418.6 373.1 L1420.1 371.7 L1421.5 370.3 L1422.8 368.8 L1424 367.1 L1425.1 365.5 L1426.2 363.7 L1427.2 362 L1428.2 360.2 L1429.1 358.4 L1429.9 356.6 L1430.8 354.7 L1431.6 352.9 L1432.5 351.1 L1433.4 349.3 L1434.2 347.4 L1435.1 345.6 L1436 343.8 L1436.9 342 L1437.8 340.2 L1438.8 338.4 L1439.8 336.7 L1440.9 335 L1442 333.3 L1443.2 331.6 L1444.5 330.1 L1445.9 328.6 L1447.3 327.2 L1448.9 325.9 L1450.4 324.5 L1451.5 323 L1452.5 321.2 L1453.4 319.3 L1454.1 317.4 L1454.9 315.5 L1455.6 313.7 L1456.4 311.8 L1457.1 309.9 L1457.9 308 L1458.7 306.1 L1459.5 304.2 L1460.5 302.3 L1461.7 300.8 L1463.3 299.8 L1465.4 299.3 L1467.5 299.8 L1469.1 300.8 L1470.4 302.3 L1471.4 304.2 L1472.2 306.1 L1473.1 308 L1473.9 309.9 L1474.6 311.8 L1475.4 313.7 L1476.1 315.5 L1476.9 317.4 L1477.7 319.3 L1478.6 321.2 L1479.5 323 L1480.8 324.5 L1482.3 325.9 L1483.9 327.2 L1485.4 328.6 L1486.8 330.1 L1488.1 331.6 L1489.3 333.3 L1490.5 335 L1491.6 336.7 L1492.6 338.4 L1493.6 340.2 L1494.6 342 L1495.5 343.8 L1496.4 345.6 L1497.3 347.4 L1498.2 349.3 L1499.1 351.1 L1500 352.9 L1500.8 354.7 L1501.7 356.6 L1502.6 358.4 L1503.5 360.2 L1504.5 362 L1505.5 363.7 L1506.6 365.5 L1507.8 367.1 L1509.1 368.8 L1510.4 370.3 L1511.8 371.7 L1513.4 373.1 L1515 374.4 L1516.7 375.5 L1518.5 376.6 L1520.3 377.5 L1522.2 378.4 L1524.1 379.2 L1526 380 L1527.9 380.7 L1529.8 381.5 L1531.7 382.3 L1533.6 383.1 L1535.5 384 L1537.4 384.9 L1539.2 385.8 L1540.9 386.9 L1542.7 388 L1544.4 389.1 L1546.2 390.1 L1548 391 L1549.9 391.8 L1551.9 392.6 L1553.9 393.2 L1555.8 394 L1557.7 394.8 L1559.4 395.8 L1561.2 396.9 L1562.9 398.1 L1564.5 399.3 L1566.2 400.5 L1567.8 401.8 L1569.4 403 L1571.1 404.3 L1572.7 405.5 L1574.3 406.8 L1575.9 408.1 L1577.5 409.4 L1579.1 410.7 L1580.6 412 L1582.2 413.3 L1583.8 414.7 L1585.3 416 L1586.9 417.3 L1588.5 418.6 L1590.1 419.9 L1591.7 421.1 L1593.3 422.4 L1594.9 423.7 L1596.5 425 L1598.1 426.3 L1599.7 427.6 L1601.2 428.9 L1602.7 430.3 L1604.1 431.8 L1605.4 433.4"/>
<path d="M1340.7 433.4 L1341.7 431.6 L1342.7 429.9 L1343.8 428.1 L1344.8 426.4 L1345.8 424.6 L1346.8 422.8 L1347.8 421 L1348.9 419.3 L1350 417.7 L1351.3 416.1 L1352.6 414.6 L1354.1 413.1 L1355.6 411.7 L1357.3 410.5 L1359 409.6 L1360.9 408.8 L1362.8 408.2 L1364.8 407.7 L1366.8 407.2 L1368.8 406.9 L1370.8 406.6 L1372.8 406.4 L1374.8 406.1 L1376.9 405.9 L1378.9 405.8 L1380.9 405.6 L1382.9 405.4 L1384.9 405.1 L1386.9 404.8 L1388.9 404.3 L1390.9 403.8 L1392.8 403.3 L1394.8 402.7 L1396.7 402.1 L1398.7 401.5 L1400.6 400.9 L1402.5 400.1 L1404.4 399.4 L1406.2 398.5 L1408 397.5 L1409.7 396.4 L1411.2 395.1 L1412.6 393.7 L1414 392.1 L1415.3 390.5 L1416.4 388.8 L1417.5 387.1 L1418.5 385.3 L1419.5 383.5 L1420.4 381.7 L1421.2 379.9 L1422 378 L1422.8 376.1 L1423.5 374.2 L1424.2 372.3 L1424.9 370.4 L1425.6 368.5 L1426.2 366.6 L1426.9 364.6 L1427.5 362.7 L1428.2 360.8 L1428.8 358.9 L1429.5 356.9 L1430.2 355 L1430.9 353.1 L1431.6 351.2 L1432.4 349.4 L1433.2 347.5 L1434.1 345.7 L1435 343.9 L1435.9 342.1 L1436.9 340.3 L1437.9 338.5 L1439 336.8 L1440.2 335.1 L1441.5 333.5 L1442.8 332 L1444.3 330.7 L1445.9 329.4 L1447.5 328.2 L1449 326.8 L1450.3 325.2 L1451.5 323.6 L1452.8 322 L1454.2 320.5 L1455.8 319 L1457.4 317.9 L1459.2 317.3 L1461.1 316.9 L1463.2 316.8 L1465.4 317 L1467.6 316.8 L1469.7 316.9 L1471.7 317.3 L1473.5 317.9 L1475.2 319 L1476.8 320.5 L1478.3 322 L1479.6 323.6 L1480.8 325.2 L1482.2 326.8 L1483.7 328.2 L1485.3 329.4 L1487 330.7 L1488.5 332 L1489.9 333.5 L1491.2 335.1 L1492.4 336.8 L1493.5 338.5 L1494.6 340.3 L1495.6 342.1 L1496.6 343.9 L1497.5 345.7 L1498.4 347.5 L1499.2 349.4 L1500 351.2 L1500.8 353.1 L1501.5 355 L1502.2 356.9 L1502.9 358.9 L1503.5 360.8 L1504.2 362.7 L1504.9 364.6 L1505.5 366.6 L1506.2 368.5 L1506.9 370.4 L1507.6 372.3 L1508.3 374.2 L1509 376.1 L1509.8 378 L1510.7 379.9 L1511.5 381.7 L1512.4 383.5 L1513.4 385.3 L1514.5 387.1 L1515.6 388.8 L1516.8 390.5 L1518.1 392.1 L1519.5 393.7 L1520.9 395.1 L1522.5 396.4 L1524.2 397.5 L1526 398.5 L1527.9 399.4 L1529.9 400.1 L1531.8 400.9 L1533.8 401.5 L1535.8 402.1 L1537.8 402.7 L1539.8 403.3 L1541.8 403.8 L1543.8 404.3 L1545.8 404.8 L1547.9 405.1 L1549.9 405.4 L1552 405.6 L1554.1 405.8 L1556.1 405.9 L1558.2 406.1 L1560.3 406.4 L1562.3 406.6 L1564.4 406.9 L1566.5 407.2 L1568.5 407.7 L1570.5 408.2 L1572.5 408.8 L1574.4 409.6 L1576.2 410.5 L1577.9 411.7 L1579.5 413.1 L1581 414.6 L1582.4 416.1 L1583.7 417.7 L1584.8 419.3 L1585.9 421 L1587 422.8 L1588 424.6 L1589 426.4 L1590.1 428.1 L1591.1 429.9 L1592.2 431.6 L1593.3 433.4"/>
<path d="M1347.2 433.7 L1348 431.9 L1348.8 430 L1349.7 428.2 L1350.6 426.4 L1351.6 424.6 L1352.6 422.8 L1353.7 421 L1354.7 419.3 L1355.8 417.6 L1357 415.9 L1358.2 414.3 L1359.5 412.7 L1360.9 411.1 L1362.5 410 L1364.5 409.3 L1366.5 409.1 L1368.4 409.6 L1370.2 410.8 L1371.6 412.3 L1372.7 413.9 L1373.6 415.8 L1374.5 417.7 L1375.4 419.5 L1376.4 421.3 L1377.5 423.1 L1378.8 424.7 L1380.3 426 L1382.1 427.2 L1384 428.1 L1385.9 428.3 L1387.9 427.8 L1389.8 426.9 L1391.3 425.6 L1392.7 424.1 L1393.9 422.4 L1395.2 420.8 L1396.6 419.3 L1398.1 417.9 L1399.6 416.5 L1401.1 415.1 L1402.5 413.7 L1403.9 412.2 L1405.4 410.9 L1407 409.6 L1408.6 408.4 L1410.3 407.2 L1412 406 L1413.6 404.7 L1415.2 403.5 L1416.7 402.1 L1418.2 400.8 L1419.7 399.4 L1421.2 398 L1422.6 396.5 L1423.9 395 L1425.2 393.4 L1426.4 391.7 L1427.5 390 L1428.5 388.2 L1429.4 386.4 L1430.3 384.6 L1431.1 382.7 L1431.8 380.8 L1432.5 378.9 L1433.2 376.9 L1433.8 375 L1434.4 373 L1435 371.1 L1435.7 369.2 L1436.4 367.3 L1437.2 365.4 L1437.9 363.5 L1438.7 361.6 L1439.5 359.7 L1440.3 357.8 L1441.1 355.9 L1442.1 354.1 L1443.1 352.4 L1444.5 350.9 L1446 349.5 L1447.5 348.1 L1449 346.7 L1450.4 345.3 L1451.6 343.7 L1452.7 341.9 L1453.8 340.2 L1455 338.5 L1456.3 336.9 L1457.8 335.4 L1459.4 334.2 L1461.2 333.6 L1463.2 333.2 L1465.4 333.2 L1467.6 333.2 L1469.6 333.6 L1471.5 334.2 L1473.1 335.4 L1474.7 336.9 L1476 338.5 L1477.3 340.2 L1478.4 341.9 L1479.5 343.7 L1480.8 345.3 L1482.2 346.7 L1483.7 348.1 L1485.3 349.5 L1486.8 350.9 L1488.2 352.4 L1489.3 354.1 L1490.2 355.9 L1491.1 357.8 L1491.9 359.7 L1492.7 361.6 L1493.5 363.5 L1494.3 365.4 L1495.1 367.3 L1495.8 369.2 L1496.5 371.1 L1497.1 373 L1497.8 375 L1498.4 376.9 L1499 378.9 L1499.8 380.8 L1500.5 382.7 L1501.4 384.6 L1502.3 386.4 L1503.2 388.2 L1504.2 390 L1505.3 391.7 L1506.6 393.4 L1507.9 395 L1509.3 396.5 L1510.7 398 L1512.2 399.4 L1513.7 400.8 L1515.3 402.1 L1516.9 403.5 L1518.5 404.7 L1520.2 406 L1521.9 407.2 L1523.6 408.4 L1525.2 409.6 L1526.8 410.9 L1528.4 412.2 L1529.9 413.7 L1531.3 415.1 L1532.8 416.5 L1534.4 417.9 L1535.9 419.3 L1537.3 420.8 L1538.7 422.4 L1539.9 424.1 L1541.3 425.6 L1542.9 426.9 L1544.8 427.8 L1546.8 428.3 L1548.9 428.1 L1550.8 427.2 L1552.6 426 L1554.2 424.7 L1555.5 423.1 L1556.6 421.3 L1557.6 419.5 L1558.6 417.7 L1559.4 415.8 L1560.4 413.9 L1561.5 412.3 L1563 410.8 L1564.8 409.6 L1566.8 409.1 L1568.8 409.3 L1570.9 410 L1572.5 411.1 L1573.9 412.7 L1575.2 414.3 L1576.5 415.9 L1577.7 417.6 L1578.8 419.3 L1579.9 421 L1581 422.8 L1582 424.6 L1583 426.4 L1584 428.2 L1584.9 430 L1585.7 431.9 L1586.5 433.7"/>
<path d="M1396.1 433.4 L1397.2 431.6 L1398.3 429.8 L1399.3 428.1 L1400.4 426.3 L1401.4 424.5 L1402.6 422.8 L1403.8 421.1 L1405 419.4 L1406.3 417.8 L1407.6 416.2 L1409 414.7 L1410.5 413.2 L1412 411.8 L1413.6 410.5 L1415.3 409.4 L1417.1 408.4 L1418.9 407.3 L1420.7 406.2 L1422.3 405 L1423.9 403.7 L1425.5 402.3 L1427.1 401 L1428.7 399.8 L1430.3 398.5 L1431.9 397.1 L1433.4 395.7 L1434.9 394.2 L1436.2 392.6 L1437.4 391 L1438.4 389.2 L1439.2 387.3 L1440 385.3 L1440.6 383.4 L1441.3 381.4 L1442 379.4 L1442.7 377.5 L1443.3 375.5 L1444 373.6 L1444.6 371.6 L1445.3 369.6 L1445.9 367.7 L1446.5 365.7 L1447.1 363.7 L1447.8 361.7 L1448.5 359.8 L1449.4 357.9 L1450.5 356.1 L1451.8 354.4 L1453.3 353.2 L1455.1 352.3 L1457.2 351.6 L1459.2 351.2 L1461.3 350.9 L1463.4 350.7 L1465.4 350.5 L1467.4 350.7 L1469.5 350.9 L1471.7 351.2 L1473.8 351.6 L1475.9 352.3 L1477.8 353.2 L1479.3 354.4 L1480.6 356.1 L1481.7 357.9 L1482.6 359.8 L1483.4 361.7 L1484.1 363.7 L1484.7 365.7 L1485.4 367.7 L1486 369.6 L1486.6 371.6 L1487.3 373.6 L1488 375.5 L1488.6 377.5 L1489.3 379.4 L1490 381.4 L1490.7 383.4 L1491.4 385.3 L1492.2 387.3 L1493 389.2 L1494 391 L1495.2 392.6 L1496.6 394.2 L1498.1 395.7 L1499.7 397.1 L1501.3 398.5 L1503 399.8 L1504.6 401 L1506.3 402.3 L1507.9 403.7 L1509.5 405 L1511.2 406.2 L1513 407.3 L1514.9 408.4 L1516.7 409.4 L1518.5 410.5 L1520.1 411.8 L1521.7 413.2 L1523.2 414.7 L1524.6 416.2 L1525.9 417.8 L1527.3 419.4 L1528.5 421.1 L1529.8 422.8 L1530.9 424.5 L1532 426.3 L1533.1 428.1 L1534.2 429.8 L1535.3 431.6 L1536.4 433.4"/>
<path d="M1405.6 433.4 L1406.3 431.4 L1407.1 429.5 L1407.9 427.6 L1408.6 425.6 L1409.4 423.7 L1410.3 421.8 L1411.3 420 L1412.4 418.2 L1413.7 416.5 L1415.1 414.9 L1416.7 413.7 L1418.5 412.8 L1420.5 412.1 L1422.5 411.5 L1424.5 410.7 L1426.3 409.7 L1428.1 408.6 L1429.7 407.3 L1431.2 405.8 L1432.5 404.2 L1433.8 402.5 L1434.9 400.8 L1435.9 399 L1436.8 397.1 L1437.6 395.2 L1438.3 393.2 L1439 391.2 L1439.7 389.3 L1440.4 387.3 L1441.1 385.3 L1441.7 383.3 L1442.3 381.4 L1443 379.4 L1443.6 377.4 L1444.2 375.4 L1444.9 373.4 L1445.8 371.5 L1447.1 369.8 L1448.9 368.8 L1450.9 369 L1453 369.4 L1455.1 369.7 L1457.1 369.7 L1459.2 369.7 L1461.2 369.5 L1463.3 369.1 L1465.4 368.8 L1467.5 369.1 L1469.6 369.5 L1471.7 369.7 L1473.8 369.7 L1475.9 369.7 L1478.1 369.4 L1480.3 369 L1482.3 368.8 L1484.1 369.8 L1485.5 371.5 L1486.4 373.4 L1487.1 375.4 L1487.7 377.4 L1488.3 379.4 L1489 381.4 L1489.6 383.3 L1490.3 385.3 L1491 387.3 L1491.7 389.3 L1492.4 391.2 L1493.1 393.2 L1493.9 395.2 L1494.7 397.1 L1495.6 399 L1496.6 400.8 L1497.8 402.5 L1499 404.2 L1500.4 405.8 L1501.9 407.3 L1503.6 408.6 L1505.4 409.7 L1507.3 410.7 L1509.3 411.5 L1511.4 412.1 L1513.4 412.8 L1515.3 413.7 L1516.9 414.9 L1518.4 416.5 L1519.7 418.2 L1520.8 420 L1521.8 421.8 L1522.7 423.7 L1523.6 425.6 L1524.3 427.6 L1525.1 429.5 L1525.9 431.4 L1526.7 433.4"/>
<path d="M1424.4 433 L1425.2 431.1 L1426.2 429.3 L1427.3 427.5 L1428.4 425.8 L1429.6 424.1 L1430.6 422.3 L1431.6 420.5 L1432.5 418.6 L1433.3 416.7 L1434.1 414.8 L1434.9 412.9 L1435.7 411 L1436.4 409.1 L1437.1 407.2 L1437.8 405.2 L1438.5 403.2 L1439.2 401.3 L1439.8 399.3 L1440.4 397.3 L1441.1 395.4 L1441.6 393.5 L1442.2 391.5 L1442.7 389.6 L1443.2 387.7 L1443.7 385.7 L1444.2 383.6 L1444.7 381.5 L1445.3 379.3 L1445.9 376.9 L1446.8 374.9 L1448.1 374.1 L1450.2 374.6 L1451.7 375.8 L1452.9 377.6 L1453.8 379.5 L1454.7 381.4 L1455.6 383.2 L1456.5 385.1 L1457.3 387 L1458.1 388.9 L1458.9 390.8 L1459.7 392.7 L1460.6 394.6 L1461.5 396.5 L1462.6 398.2 L1463.9 399.8 L1465.4 401.2 L1466.9 399.8 L1468.2 398.2 L1469.3 396.5 L1470.3 394.6 L1471.1 392.7 L1472 390.8 L1472.8 388.9 L1473.7 387 L1474.5 385.1 L1475.4 383.2 L1476.3 381.4 L1477.2 379.5 L1478.2 377.6 L1479.4 375.8 L1481 374.6 L1483.1 374.1 L1484.5 374.9 L1485.3 376.9 L1486 379.3 L1486.5 381.5 L1487.1 383.6 L1487.6 385.7 L1488.1 387.7 L1488.6 389.6 L1489.2 391.5 L1489.7 393.5 L1490.3 395.4 L1490.9 397.3 L1491.6 399.3 L1492.2 401.3 L1492.9 403.2 L1493.6 405.2 L1494.3 407.2 L1495.1 409.1 L1495.8 411 L1496.6 412.9 L1497.4 414.8 L1498.3 416.7 L1499.1 418.6 L1500 420.5 L1501 422.3 L1502.1 424.1 L1503.3 425.8 L1504.5 427.5 L1505.6 429.3 L1506.6 431.1 L1507.4 433"/>
<path d="M1417.8 433.4 L1418.9 431.6 L1419.9 429.8 L1420.9 428.1 L1422 426.3 L1423 424.5 L1424 422.7 L1425.1 420.9 L1426.2 419.2 L1427.4 417.5 L1428.6 415.8 L1429.8 414.2 L1431.1 412.6 L1432.3 410.9 L1433.5 409.3 L1434.7 407.5 L1435.7 405.8 L1436.8 404 L1437.8 402.2 L1438.8 400.4 L1439.9 398.7 L1440.9 396.9 L1442 395.1 L1443.1 393.4 L1444.4 391.8 L1445.8 390.2 L1447.4 388.7 L1449.2 387.5 L1451.1 387.3 L1453.1 388 L1454.7 389.1 L1456 390.8 L1457.1 392.6 L1458.1 394.4 L1459 396.3 L1460 398.2 L1461 400 L1462.2 401.6 L1463.6 403 L1465.4 404.2 L1467.2 403 L1468.7 401.6 L1469.9 400 L1470.9 398.2 L1471.9 396.3 L1472.8 394.4 L1473.8 392.6 L1475 390.8 L1476.3 389.1 L1477.9 388 L1480 387.3 L1481.9 387.5 L1483.8 388.7 L1485.4 390.2 L1486.9 391.8 L1488.2 393.4 L1489.3 395.1 L1490.4 396.9 L1491.5 398.7 L1492.6 400.4 L1493.6 402.2 L1494.7 404 L1495.8 405.8 L1496.9 407.5 L1498 409.3 L1499.3 410.9 L1500.6 412.6 L1501.9 414.2 L1503.1 415.8 L1504.4 417.5 L1505.5 419.2 L1506.7 420.9 L1507.8 422.7 L1508.9 424.5 L1509.9 426.3 L1510.9 428.1 L1512 429.8 L1513.1 431.6 L1514.2 433.4"/>
<path d="M1424.4 433.4 L1425.5 431.6 L1426.6 429.8 L1427.6 428 L1428.5 426.1 L1429.5 424.2 L1430.5 422.4 L1431.6 420.6 L1432.8 418.9 L1434.2 417.3 L1435.8 415.9 L1437.7 414.9 L1439.8 414.5 L1441.8 415 L1443.8 415.7 L1445.9 416.3 L1447.9 416.3 L1449.9 415.7 L1451.8 414.6 L1453.6 413.5 L1455.3 412.2 L1456.9 410.9 L1458.5 409.6 L1460.2 408.3 L1461.8 407.1 L1463.6 405.9 L1465.4 404.7 L1467.2 405.9 L1469 407.1 L1470.7 408.3 L1472.4 409.6 L1474.1 410.9 L1475.7 412.2 L1477.5 413.5 L1479.3 414.6 L1481.3 415.7 L1483.3 416.3 L1485.4 416.3 L1487.5 415.7 L1489.6 415 L1491.6 414.5 L1493.7 414.9 L1495.7 415.9 L1497.3 417.3 L1498.7 418.9 L1500 420.6 L1501.1 422.4 L1502.1 424.2 L1503.1 426.1 L1504.1 428 L1505.2 429.8 L1506.3 431.6 L1507.4 433.4"/>
<path d="M1459.2 433.4 L1457.8 431.4 L1456.6 429.5 L1455.4 427.7 L1454.2 425.8 L1452.9 424 L1451.4 422.3 L1449.6 420.9 L1447.5 420.2 L1445.6 421.2 L1444 423.1 L1442.9 425.1 L1441.9 427.1 L1441.1 429.2 L1440.3 431.2 L1439.4 433.4"/>
<path d="M1471.7 433.4 L1473.1 431.4 L1474.4 429.5 L1475.6 427.7 L1476.9 425.8 L1478.2 424 L1479.7 422.3 L1481.6 420.9 L1483.7 420.2 L1485.7 421.2 L1487.2 423.1 L1488.4 425.1 L1489.4 427.1 L1490.3 429.2 L1491.1 431.2 L1492 433.4"/>
<path d="M1368.3 431.5 L1369.5 429.4 L1371.1 427.6 L1373.1 426.4 L1375.4 425.8 L1377.7 426.4 L1379.7 427.7 L1381.4 429.5 L1382.6 431.5"/>
<path d="M1564.9 431.5 L1563.7 429.4 L1562 427.6 L1560 426.4 L1557.6 425.8 L1555.3 426.4 L1553.2 427.7 L1551.5 429.5 L1550.3 431.5"/>
<path d="M1321.8 422.1 L1322.9 423.4 L1323.9 424.8 L1324.9 426.1 L1325.8 427.5 L1326.7 429 L1327.6 430.4 L1328.4 431.9"/>
<path d="M1612.6 422.1 L1611.5 423.4 L1610.5 424.8 L1609.5 426.1 L1608.5 427.5 L1607.6 429 L1606.7 430.4 L1605.8 431.9"/>
<path d="M1353.7 72.4 L1354.6 74.2 L1355.7 76 L1356.8 77.7 L1357.9 79.3 L1359.2 80.9 L1360.6 82.4 L1362.1 83.9 L1363.6 85.2 L1365.2 86.4 L1367 87.5 L1368.8 88.3 L1370.7 89 L1372.7 89.6 L1374.7 90 L1376.7 90.3 L1378.7 90.4 L1380.7 90.5 L1382.7 90.7 L1384.7 91.1 L1386.7 91.7 L1388.6 92.3 L1390.5 93.1 L1392.3 94 L1394.1 94.9 L1395.9 95.9 L1397.6 97 L1399.3 98.1 L1401 99.2 L1402.7 100.4 L1404.3 101.6 L1405.9 102.8 L1407.5 104.1 L1409.1 105.4 L1410.5 106.8 L1411.9 108.3 L1413.3 109.8 L1414.5 111.4 L1415.7 113 L1416.8 114.7 L1417.9 116.5 L1419 118.2 L1420 120 L1421 121.7 L1421.9 123.5 L1422.8 125.4 L1423.6 127.2 L1424.3 129.1 L1425 131 L1425.7 132.9 L1426.4 134.9 L1427 136.8 L1427.6 138.7 L1428.2 140.7 L1428.8 142.6 L1429.4 144.5 L1430 146.5 L1430.6 148.4 L1431.2 150.4 L1431.8 152.3 L1432.4 154.2 L1433 156.2 L1433.6 158.1 L1434.2 160.1 L1434.8 162 L1435.4 163.9 L1436 165.9 L1436.6 167.8 L1437.3 169.7 L1437.9 171.7 L1438.5 173.6 L1439.1 175.5 L1439.7 177.5 L1440.4 179.4 L1441 181.3 L1441.6 183.3 L1442.3 185.2 L1442.9 187.1 L1443.5 189.1 L1444.2 191 L1444.8 192.9 L1445.5 194.8 L1446.1 196.8 L1446.7 198.7 L1447.4 200.6 L1448 202.5 L1448.7 204.5 L1449.3 206.4 L1450 208.3 L1450.6 210.2 L1451.3 212.2 L1451.9 214.1 L1452.5 216 L1453.2 217.9 L1453.8 219.9 L1454.4 221.8 L1455 223.8 L1455.6 225.7 L1456.2 227.6 L1456.8 229.6 L1457.4 231.5 L1457.9 233.5 L1458.5 235.4 L1459.1 237.4 L1459.7 239.3 L1460.3 241.2 L1460.9 243.2 L1461.6 245.1 L1462.3 247 L1462.9 248.9 L1463.5 250.9 L1464.3 252.8 L1465.4 254.5 L1466.5 252.8 L1467.3 250.9 L1467.9 248.9 L1468.6 247 L1469.3 245.1 L1469.9 243.2 L1470.6 241.2 L1471.2 239.3 L1471.8 237.4 L1472.4 235.4 L1473 233.5 L1473.6 231.5 L1474.2 229.6 L1474.8 227.6 L1475.4 225.7 L1476 223.8 L1476.6 221.8 L1477.3 219.9 L1477.9 217.9 L1478.5 216 L1479.2 214.1 L1479.9 212.2 L1480.5 210.2 L1481.2 208.3 L1481.8 206.4 L1482.5 204.5 L1483.2 202.5 L1483.8 200.6 L1484.5 198.7 L1485.1 196.8 L1485.8 194.8 L1486.5 192.9 L1487.1 191 L1487.8 189.1 L1488.4 187.1 L1489.1 185.2 L1489.7 183.3 L1490.4 181.3 L1491 179.4 L1491.7 177.5 L1492.3 175.5 L1492.9 173.6 L1493.6 171.7 L1494.2 169.7 L1494.8 167.8 L1495.5 165.9 L1496.1 163.9 L1496.7 162 L1497.3 160.1 L1497.9 158.1 L1498.6 156.2 L1499.2 154.2 L1499.8 152.3 L1500.4 150.4 L1501 148.4 L1501.6 146.5 L1502.2 144.5 L1502.8 142.6 L1503.5 140.7 L1504.1 138.7 L1504.7 136.8 L1505.4 134.9 L1506 132.9 L1506.7 131 L1507.5 129.1 L1508.2 127.2 L1509.1 125.4 L1509.9 123.5 L1510.9 121.7 L1511.9 120 L1513 118.2 L1514.1 116.5 L1515.2 114.7 L1516.3 113 L1517.5 111.4 L1518.8 109.8 L1520.2 108.3 L1521.6 106.8 L1523.1 105.4 L1524.7 104.1 L1526.3 102.8 L1528 101.6 L1529.7 100.4 L1531.4 99.2 L1533.1 98.1 L1534.9 97 L1536.6 95.9 L1538.4 94.9 L1540.3 94 L1542.2 93.1 L1544.1 92.3 L1546.1 91.7 L1548.1 91.1 L1550.1 90.7 L1552.2 90.5 L1554.3 90.4 L1556.3 90.3 L1558.4 90 L1560.5 89.6 L1562.5 89 L1564.4 88.3 L1566.3 87.5 L1568.1 86.4 L1569.7 85.2 L1571.3 83.9 L1572.8 82.4 L1574.2 80.9 L1575.5 79.3 L1576.8 77.7 L1577.9 76 L1578.9 74.2 L1579.9 72.4"/>
<path d="M1356.7 72.4 L1357.6 74.3 L1358.6 76 L1359.7 77.7 L1360.9 79.3 L1362.3 80.8 L1363.7 82.2 L1365.3 83.5 L1366.9 84.7 L1368.6 85.9 L1370.4 86.8 L1372.3 87.4 L1374.2 87.8 L1376.3 88.1 L1378.3 88.2 L1380.3 88.3 L1382.3 88.5 L1384.3 88.8 L1386.2 89.3 L1388.2 90 L1390 90.7 L1391.8 91.6 L1393.6 92.6 L1395.4 93.6 L1397.1 94.7 L1398.7 95.8 L1400.4 96.9 L1402 98.1 L1403.6 99.4 L1405.2 100.6 L1406.8 101.9 L1408.3 103.2 L1409.7 104.6 L1411.1 106.1 L1412.4 107.6 L1413.7 109.2 L1414.9 110.8 L1416 112.5 L1417.1 114.2 L1418.2 115.9 L1419.3 117.6 L1420.3 119.3 L1421.4 121.1 L1422.3 122.8 L1423.2 124.7 L1423.9 126.5 L1424.6 128.4 L1425.3 130.3 L1426 132.2 L1426.6 134.1 L1427.3 136.1 L1427.9 138 L1428.5 139.9 L1429.1 141.8 L1429.7 143.8 L1430.3 145.7 L1430.8 147.6 L1431.4 149.5 L1432 151.5 L1432.6 153.4 L1433.2 155.3 L1433.8 157.3 L1434.4 159.2 L1435 161.1 L1435.6 163 L1436.2 165 L1436.8 166.9 L1437.5 168.8 L1438.1 170.7 L1438.7 172.6 L1439.3 174.6 L1440 176.5 L1440.6 178.4 L1441.2 180.3 L1441.9 182.2 L1442.5 184.1 L1443.1 186.1 L1443.8 188 L1444.4 189.9 L1445 191.8 L1445.7 193.7 L1446.3 195.6 L1447 197.5 L1447.6 199.5 L1448.2 201.4 L1448.9 203.3 L1449.5 205.2 L1450.1 207.1 L1450.8 209 L1451.4 210.9 L1452.1 212.8 L1452.7 214.8 L1453.3 216.7 L1454 218.6 L1454.6 220.5 L1455.2 222.4 L1455.9 224.3 L1456.5 226.3 L1457.1 228.2 L1457.8 230.1 L1458.4 232 L1459 233.9 L1459.7 235.8 L1460.3 237.7 L1461 239.7 L1461.6 241.6 L1462.3 243.5 L1462.9 245.4 L1463.5 247.3 L1464.3 249.2 L1465.4 250.9 L1466.5 249.2 L1467.3 247.3 L1467.9 245.4 L1468.6 243.5 L1469.2 241.6 L1469.9 239.7 L1470.6 237.7 L1471.2 235.8 L1471.9 233.9 L1472.5 232 L1473.2 230.1 L1473.8 228.2 L1474.5 226.3 L1475.1 224.3 L1475.8 222.4 L1476.4 220.5 L1477.1 218.6 L1477.7 216.7 L1478.4 214.8 L1479 212.8 L1479.7 210.9 L1480.3 209 L1481 207.1 L1481.6 205.2 L1482.3 203.3 L1483 201.4 L1483.6 199.5 L1484.3 197.5 L1484.9 195.6 L1485.6 193.7 L1486.2 191.8 L1486.9 189.9 L1487.5 188 L1488.2 186.1 L1488.8 184.1 L1489.5 182.2 L1490.1 180.3 L1490.8 178.4 L1491.4 176.5 L1492.1 174.6 L1492.7 172.6 L1493.4 170.7 L1494 168.8 L1494.6 166.9 L1495.3 165 L1495.9 163 L1496.5 161.1 L1497.1 159.2 L1497.7 157.3 L1498.4 155.3 L1499 153.4 L1499.6 151.5 L1500.2 149.5 L1500.8 147.6 L1501.4 145.7 L1502 143.8 L1502.6 141.8 L1503.2 139.9 L1503.8 138 L1504.5 136.1 L1505.1 134.1 L1505.8 132.2 L1506.4 130.3 L1507.1 128.4 L1507.9 126.5 L1508.7 124.7 L1509.5 122.8 L1510.5 121.1 L1511.6 119.3 L1512.7 117.6 L1513.8 115.9 L1514.9 114.2 L1516 112.5 L1517.1 110.8 L1518.4 109.2 L1519.7 107.6 L1521 106.1 L1522.4 104.6 L1523.9 103.2 L1525.5 101.9 L1527.1 100.6 L1528.7 99.4 L1530.3 98.1 L1532 96.9 L1533.7 95.8 L1535.4 94.7 L1537.2 93.6 L1539 92.6 L1540.8 91.6 L1542.6 90.7 L1544.6 90 L1546.5 89.3 L1548.5 88.8 L1550.6 88.5 L1552.6 88.3 L1554.7 88.2 L1556.8 88.1 L1558.8 87.8 L1560.9 87.4 L1562.8 86.8 L1564.6 85.9 L1566.4 84.7 L1568 83.5 L1569.6 82.2 L1571.1 80.8 L1572.5 79.3 L1573.8 77.7 L1574.9 76 L1575.9 74.3 L1576.8 72.4"/>
<path d="M1436.9 78.2 L1437.7 80.2 L1438.8 82 L1440 83.6 L1441.2 85.4 L1442.2 87.2 L1443.1 89.1 L1444 91 L1444.8 92.9 L1445.7 94.8 L1446.5 96.7 L1447.4 98.6 L1448.2 100.6 L1449.1 102.5 L1450 104.4 L1450.9 106.2 L1451.8 108.1 L1452.7 110 L1453.6 111.9 L1454.5 113.7 L1455.5 115.6 L1456.5 117.4 L1457.6 119.3 L1458.8 121.1 L1460.1 122.7 L1461.6 124 L1463.3 125.1 L1465.4 125.8 L1467.5 125.1 L1469.3 124 L1470.8 122.7 L1472.1 121.1 L1473.3 119.3 L1474.4 117.4 L1475.5 115.6 L1476.5 113.7 L1477.5 111.9 L1478.4 110 L1479.3 108.1 L1480.2 106.2 L1481.2 104.4 L1482 102.5 L1482.9 100.6 L1483.8 98.6 L1484.7 96.7 L1485.6 94.8 L1486.4 92.9 L1487.3 91 L1488.2 89.1 L1489.2 87.2 L1490.2 85.4 L1491.3 83.6 L1492.6 82 L1493.7 80.2 L1494.5 78.2"/>
<path d="M1431.9 78.2 L1432.8 80.2 L1433.6 82.1 L1434.3 84.1 L1435.1 86.1 L1435.9 88 L1436.8 89.9 L1437.8 91.8 L1438.8 93.6 L1439.8 95.5 L1440.7 97.4 L1441.6 99.3 L1442.5 101.2 L1443.4 103.2 L1444.2 105.1 L1445.1 107 L1445.9 109 L1446.8 110.9 L1447.7 112.8 L1448.5 114.7 L1449.4 116.6 L1450.3 118.6 L1451.2 120.5 L1452 122.4 L1452.9 124.3 L1453.9 126.2 L1454.8 128.1 L1455.9 129.9 L1457.1 131.7 L1458.4 133.4 L1459.8 134.9 L1461.4 136.2 L1463.3 137.2 L1465.4 137.9 L1467.5 137.2 L1469.4 136.2 L1471.1 134.9 L1472.6 133.4 L1473.9 131.7 L1475.1 129.9 L1476.2 128.1 L1477.2 126.2 L1478.1 124.3 L1479 122.4 L1479.9 120.5 L1480.8 118.6 L1481.8 116.6 L1482.7 114.7 L1483.5 112.8 L1484.4 110.9 L1485.3 109 L1486.2 107 L1487.1 105.1 L1488 103.2 L1488.8 101.2 L1489.7 99.3 L1490.7 97.4 L1491.6 95.5 L1492.6 93.6 L1493.6 91.8 L1494.6 89.9 L1495.6 88 L1496.5 86.1 L1497.2 84.1 L1498 82.1 L1498.8 80.2 L1499.7 78.2"/>
<path d="M1429.6 78.2 L1430.2 80.2 L1430.8 82.2 L1431.5 84.2 L1432.1 86.2 L1432.7 88.2 L1433.3 90.2 L1434 92.2 L1434.6 94.1 L1435.3 96.1 L1436 98 L1436.8 100 L1437.6 101.9 L1438.4 103.8 L1439.2 105.8 L1439.9 107.7 L1440.6 109.7 L1441.3 111.6 L1442 113.6 L1442.7 115.6 L1443.4 117.5 L1444.2 119.4 L1445.1 121.3 L1445.9 123.2 L1446.8 125.1 L1447.7 127 L1448.6 128.9 L1449.5 130.8 L1450.4 132.6 L1451.5 134.4 L1452.6 136.2 L1453.8 137.9 L1455.1 139.5 L1456.5 141.1 L1458 142.5 L1459.6 143.8 L1461.4 144.8 L1463.3 145.7 L1465.4 146.2 L1467.5 145.7 L1469.4 144.8 L1471.2 143.8 L1472.9 142.5 L1474.5 141.1 L1475.9 139.5 L1477.2 137.9 L1478.5 136.2 L1479.6 134.4 L1480.7 132.6 L1481.7 130.8 L1482.6 128.9 L1483.5 127 L1484.4 125.1 L1485.3 123.2 L1486.2 121.3 L1487.1 119.4 L1487.9 117.5 L1488.6 115.6 L1489.4 113.6 L1490.1 111.6 L1490.8 109.7 L1491.5 107.7 L1492.2 105.8 L1493 103.8 L1493.9 101.9 L1494.7 100 L1495.5 98 L1496.2 96.1 L1496.9 94.1 L1497.6 92.2 L1498.2 90.2 L1498.8 88.2 L1499.5 86.2 L1500.1 84.2 L1500.8 82.2 L1501.5 80.2 L1502 78.2"/>
<path d="M1427.2 78.2 L1427.8 80.2 L1428.4 82.2 L1429 84.2 L1429.6 86.2 L1430.2 88.2 L1430.9 90.2 L1431.5 92.2 L1432.2 94.1 L1432.8 96.1 L1433.5 98.1 L1434.1 100.1 L1434.8 102 L1435.5 104 L1436.1 106 L1436.8 108 L1437.4 110 L1438.1 111.9 L1438.7 113.9 L1439.4 115.9 L1440.1 117.8 L1440.8 119.8 L1441.5 121.8 L1442.2 123.7 L1442.9 125.7 L1443.7 127.6 L1444.5 129.5 L1445.3 131.4 L1446.2 133.3 L1447 135.2 L1447.9 137.2 L1448.8 139 L1449.7 140.9 L1450.8 142.7 L1452 144.4 L1453.3 146 L1454.7 147.6 L1456.2 149 L1457.8 150.4 L1459.5 151.6 L1461.3 152.5 L1463.3 153.2 L1465.4 153.6 L1467.5 153.2 L1469.5 152.5 L1471.4 151.6 L1473.2 150.4 L1474.8 149 L1476.3 147.6 L1477.8 146 L1479.1 144.4 L1480.3 142.7 L1481.4 140.9 L1482.4 139 L1483.3 137.2 L1484.2 135.2 L1485.1 133.3 L1485.9 131.4 L1486.8 129.5 L1487.6 127.6 L1488.4 125.7 L1489.1 123.7 L1489.9 121.8 L1490.6 119.8 L1491.3 117.8 L1492 115.9 L1492.7 113.9 L1493.4 111.9 L1494 110 L1494.7 108 L1495.4 106 L1496 104 L1496.7 102 L1497.4 100.1 L1498.1 98.1 L1498.8 96.1 L1499.4 94.1 L1500.1 92.2 L1500.8 90.2 L1501.4 88.2 L1502.1 86.2 L1502.7 84.2 L1503.3 82.2 L1503.9 80.2 L1504.5 78.2"/>
<path d="M1417.9 75.7 L1418.5 77.7 L1419.1 79.6 L1419.8 81.6 L1420.4 83.6 L1421.1 85.5 L1421.9 87.4 L1422.7 89.3 L1423.6 91.2 L1424.5 93 L1425.4 94.9 L1426.2 96.8 L1427.1 98.6 L1427.9 100.5 L1428.8 102.4 L1429.6 104.3 L1430.4 106.2 L1431.3 108 L1432.2 109.9 L1433 111.8 L1433.8 113.7 L1434.7 115.6 L1435.4 117.5 L1436.2 119.4 L1436.9 121.3 L1437.7 123.3 L1438.3 125.2 L1439 127.1 L1439.7 129.1 L1440.3 131.1 L1440.9 133 L1441.6 135 L1442.3 136.9 L1443 138.9 L1443.7 140.8 L1444.5 142.7 L1445.4 144.6 L1446.3 146.4 L1447.3 148.2 L1448.3 150 L1449.3 151.9 L1450.5 153.6 L1451.8 155.1 L1453.4 156.4 L1455.2 157.5 L1457.2 158.1 L1459.2 158.4 L1461.3 158.6 L1463.3 158.7 L1465.4 158.8 L1467.5 158.7 L1469.6 158.6 L1471.7 158.4 L1473.8 158.1 L1475.8 157.5 L1477.7 156.4 L1479.3 155.1 L1480.7 153.6 L1481.9 151.9 L1482.9 150 L1483.9 148.2 L1484.9 146.4 L1485.9 144.6 L1486.8 142.7 L1487.6 140.8 L1488.3 138.9 L1489.1 136.9 L1489.8 135 L1490.4 133 L1491.1 131.1 L1491.7 129.1 L1492.4 127.1 L1493.1 125.2 L1493.8 123.3 L1494.5 121.3 L1495.3 119.4 L1496.1 117.5 L1496.9 115.6 L1497.7 113.7 L1498.6 111.8 L1499.4 109.9 L1500.3 108 L1501.2 106.2 L1502.1 104.3 L1502.9 102.4 L1503.8 100.5 L1504.6 98.6 L1505.5 96.8 L1506.4 94.9 L1507.3 93 L1508.2 91.2 L1509.1 89.3 L1510 87.4 L1510.7 85.5 L1511.5 83.6 L1512.1 81.6 L1512.8 79.6 L1513.4 77.7 L1514 75.7"/>
<path d="M1417.7 75.7 L1418.3 77.7 L1419 79.6 L1419.6 81.6 L1420.2 83.5 L1420.8 85.5 L1421.5 87.4 L1422.3 89.3 L1423.1 91.2 L1423.9 93.1 L1424.8 95 L1425.6 96.8 L1426.4 98.7 L1427.2 100.6 L1428 102.5 L1428.7 104.4 L1429.5 106.3 L1430.4 108.2 L1431.2 110.1 L1432 111.9 L1432.8 113.8 L1433.6 115.7 L1434.3 117.6 L1435.1 119.6 L1435.8 121.5 L1436.5 123.4 L1437.2 125.3 L1437.8 127.3 L1438.5 129.2 L1439.1 131.2 L1439.8 133.1 L1440.4 135.1 L1441.1 137 L1441.8 139 L1442.4 140.9 L1443.1 142.8 L1443.8 144.7 L1444.5 146.7 L1445.3 148.6 L1446 150.5 L1446.7 152.4 L1447.5 154.3 L1448.3 156.2 L1449.1 158.1 L1450 159.9 L1451 161.8 L1452.2 163.4 L1453.8 164.8 L1455.7 165.4 L1457.7 164.7 L1459.6 163.8 L1461.4 162.9 L1463.3 162.3 L1465.4 161.9 L1467.5 162.3 L1469.5 162.9 L1471.3 163.8 L1473.2 164.7 L1475.3 165.4 L1477.2 164.8 L1478.8 163.4 L1480.1 161.8 L1481.1 159.9 L1482 158.1 L1482.9 156.2 L1483.7 154.3 L1484.5 152.4 L1485.3 150.5 L1486 148.6 L1486.7 146.7 L1487.5 144.7 L1488.2 142.8 L1488.9 140.9 L1489.6 139 L1490.3 137 L1491 135.1 L1491.6 133.1 L1492.3 131.2 L1493 129.2 L1493.6 127.3 L1494.3 125.3 L1495 123.4 L1495.7 121.5 L1496.4 119.6 L1497.2 117.6 L1498 115.7 L1498.8 113.8 L1499.6 111.9 L1500.4 110.1 L1501.3 108.2 L1502.1 106.3 L1502.9 104.4 L1503.7 102.5 L1504.6 100.6 L1505.4 98.7 L1506.2 96.8 L1507 95 L1507.9 93.1 L1508.7 91.2 L1509.6 89.3 L1510.3 87.4 L1511 85.5 L1511.7 83.5 L1512.3 81.6 L1513 79.6 L1513.6 77.7 L1514.2 75.7"/>
<path d="M1411.9 75.7 L1412.6 77.6 L1413.3 79.5 L1413.9 81.4 L1414.6 83.3 L1415.2 85.3 L1415.9 87.2 L1416.6 89.1 L1417.2 91 L1417.9 92.9 L1418.5 94.8 L1419.2 96.7 L1419.8 98.6 L1420.5 100.6 L1421.1 102.5 L1421.7 104.4 L1422.3 106.3 L1422.9 108.2 L1423.5 110.2 L1424.1 112.1 L1424.7 114 L1425.3 116 L1425.9 117.9 L1426.5 119.8 L1427.1 121.8 L1427.6 123.7 L1428.2 125.6 L1428.8 127.6 L1429.4 129.5 L1430 131.4 L1430.6 133.4 L1431.1 135.3 L1431.7 137.2 L1432.3 139.2 L1432.9 141.1 L1433.5 143 L1434.1 145 L1434.7 146.9 L1435.3 148.8 L1435.9 150.8 L1436.5 152.7 L1437.1 154.6 L1437.7 156.6 L1438.3 158.5 L1438.9 160.4 L1439.5 162.3 L1440.1 164.3 L1440.7 166.2 L1441.3 168.1 L1441.9 170.1 L1442.5 172 L1443.1 173.9 L1443.7 175.8 L1444.3 177.8 L1444.8 179.7 L1445.4 181.6 L1446 183.6 L1446.6 185.5 L1447.2 187.4 L1447.9 189.4 L1448.5 191.3 L1449.1 193.2 L1449.7 195.1 L1450.3 197 L1450.9 199 L1451.6 200.9 L1452.2 202.8 L1452.8 204.8 L1453.4 206.7 L1454 208.6 L1454.6 210.5 L1455.2 212.5 L1455.9 214.4 L1456.5 216.3 L1457.2 218.2 L1457.9 220.1 L1458.6 222 L1459.3 223.9 L1460 225.8 L1460.7 227.7 L1461.3 229.6 L1462.1 231.5 L1462.9 233.3 L1464 235 L1465.4 236.5 L1466.8 235 L1467.9 233.3 L1468.8 231.5 L1469.5 229.6 L1470.2 227.7 L1470.9 225.8 L1471.6 223.9 L1472.3 222 L1473 220.1 L1473.8 218.2 L1474.5 216.3 L1475.1 214.4 L1475.8 212.5 L1476.4 210.5 L1477.1 208.6 L1477.7 206.7 L1478.3 204.8 L1478.9 202.8 L1479.5 200.9 L1480.2 199 L1480.8 197 L1481.4 195.1 L1482.1 193.2 L1482.7 191.3 L1483.3 189.4 L1484 187.4 L1484.6 185.5 L1485.2 183.6 L1485.8 181.6 L1486.4 179.7 L1487 177.8 L1487.6 175.8 L1488.2 173.9 L1488.8 172 L1489.5 170.1 L1490.1 168.1 L1490.7 166.2 L1491.3 164.3 L1491.9 162.3 L1492.5 160.4 L1493.2 158.5 L1493.8 156.6 L1494.4 154.6 L1495 152.7 L1495.6 150.8 L1496.2 148.8 L1496.8 146.9 L1497.5 145 L1498.1 143 L1498.7 141.1 L1499.3 139.2 L1499.9 137.2 L1500.5 135.3 L1501.1 133.4 L1501.7 131.4 L1502.3 129.5 L1502.9 127.6 L1503.5 125.6 L1504.1 123.7 L1504.7 121.8 L1505.3 119.8 L1505.9 117.9 L1506.5 116 L1507.1 114 L1507.7 112.1 L1508.3 110.2 L1508.9 108.2 L1509.5 106.3 L1510.2 104.4 L1510.8 102.5 L1511.4 100.6 L1512.1 98.6 L1512.7 96.7 L1513.4 94.8 L1514.1 92.9 L1514.8 91 L1515.4 89.1 L1516.1 87.2 L1516.8 85.3 L1517.5 83.3 L1518.1 81.4 L1518.8 79.5 L1519.5 77.6 L1520.2 75.7"/>
<path d="M1411.9 75.7 L1412.6 77.6 L1413.3 79.6 L1413.9 81.5 L1414.6 83.4 L1415.3 85.3 L1415.9 87.3 L1416.6 89.2 L1417.3 91.1 L1417.9 93 L1418.6 95 L1419.2 96.9 L1419.9 98.8 L1420.5 100.8 L1421.2 102.7 L1421.8 104.6 L1422.4 106.6 L1423.1 108.5 L1423.7 110.5 L1424.3 112.4 L1424.9 114.3 L1425.5 116.3 L1426.1 118.2 L1426.7 120.2 L1427.3 122.1 L1427.9 124.1 L1428.5 126 L1429.2 128 L1429.8 129.9 L1430.4 131.8 L1431 133.8 L1431.6 135.7 L1432.2 137.7 L1432.9 139.6 L1433.5 141.5 L1434.1 143.5 L1434.8 145.4 L1435.4 147.4 L1436 149.3 L1436.6 151.2 L1437.2 153.2 L1437.8 155.1 L1438.4 157.1 L1438.9 159.1 L1439.5 161 L1440.1 163 L1440.7 164.9 L1441.2 166.9 L1441.8 168.8 L1442.4 170.8 L1443 172.7 L1443.6 174.7 L1444.2 176.6 L1444.8 178.6 L1445.4 180.5 L1446 182.5 L1446.7 184.4 L1447.3 186.3 L1447.9 188.3 L1448.6 190.2 L1449.2 192.1 L1449.9 194.1 L1450.6 196 L1451.2 197.9 L1451.8 199.9 L1452.5 201.8 L1453.1 203.7 L1453.6 205.7 L1454.2 207.7 L1454.8 209.6 L1455.4 211.6 L1456 213.5 L1456.6 215.4 L1457.2 217.4 L1457.9 219.3 L1458.6 221.2 L1459.3 223.1 L1460.1 225 L1460.8 226.9 L1461.7 228.8 L1462.6 230.6 L1463.8 232.2 L1465.4 233.6 L1467 232.2 L1468.2 230.6 L1469.2 228.8 L1470 226.9 L1470.8 225 L1471.6 223.1 L1472.3 221.2 L1473 219.3 L1473.7 217.4 L1474.4 215.4 L1475 213.5 L1475.6 211.6 L1476.2 209.6 L1476.8 207.7 L1477.4 205.7 L1478 203.7 L1478.6 201.8 L1479.3 199.9 L1479.9 197.9 L1480.6 196 L1481.2 194.1 L1481.9 192.1 L1482.6 190.2 L1483.2 188.3 L1483.9 186.3 L1484.6 184.4 L1485.2 182.5 L1485.8 180.5 L1486.5 178.6 L1487.1 176.6 L1487.7 174.7 L1488.3 172.7 L1488.9 170.8 L1489.5 168.8 L1490.1 166.9 L1490.7 164.9 L1491.3 163 L1491.9 161 L1492.5 159.1 L1493.1 157.1 L1493.7 155.1 L1494.3 153.2 L1494.9 151.2 L1495.5 149.3 L1496.1 147.4 L1496.8 145.4 L1497.4 143.5 L1498.1 141.5 L1498.7 139.6 L1499.3 137.7 L1500 135.7 L1500.6 133.8 L1501.3 131.8 L1501.9 129.9 L1502.5 128 L1503.1 126 L1503.8 124.1 L1504.4 122.1 L1505 120.2 L1505.6 118.2 L1506.3 116.3 L1506.9 114.3 L1507.5 112.4 L1508.1 110.5 L1508.8 108.5 L1509.4 106.6 L1510.1 104.6 L1510.7 102.7 L1511.4 100.8 L1512 98.8 L1512.7 96.9 L1513.4 95 L1514 93 L1514.7 91.1 L1515.4 89.2 L1516.1 87.3 L1516.8 85.3 L1517.4 83.4 L1518.1 81.5 L1518.8 79.6 L1519.5 77.6 L1520.2 75.7"/>
<path d="M1414.6 75.7 L1415.3 77.6 L1416 79.5 L1416.6 81.4 L1417.3 83.3 L1417.9 85.3 L1418.6 87.2 L1419.2 89.1 L1419.9 91 L1420.6 92.9 L1421.2 94.8 L1421.9 96.7 L1422.5 98.6 L1423.2 100.6 L1423.8 102.5 L1424.4 104.4 L1425 106.3 L1425.7 108.3 L1426.3 110.2 L1426.9 112.1 L1427.5 114 L1428.1 116 L1428.7 117.9 L1429.3 119.8 L1429.9 121.7 L1430.5 123.7 L1431.1 125.6 L1431.7 127.5 L1432.3 129.5 L1432.9 131.4 L1433.5 133.3 L1434.1 135.3 L1434.7 137.2 L1435.3 139.1 L1435.9 141.1 L1436.5 143 L1437 144.9 L1437.6 146.9 L1438.2 148.8 L1438.8 150.7 L1439.4 152.7 L1440 154.6 L1440.6 156.5 L1441.2 158.5 L1441.8 160.4 L1442.4 162.3 L1443.1 164.2 L1443.7 166.2 L1444.3 168.1 L1445 170 L1445.6 171.9 L1446.3 173.8 L1446.9 175.7 L1447.5 177.7 L1448.1 179.6 L1448.7 181.5 L1449.3 183.5 L1449.9 185.4 L1450.5 187.3 L1451 189.3 L1451.6 191.2 L1452.2 193.2 L1452.8 195.1 L1453.4 197 L1454 199 L1454.5 200.9 L1455.2 202.8 L1455.8 204.7 L1456.4 206.7 L1457.1 208.6 L1457.7 210.5 L1458.4 212.4 L1459 214.3 L1459.7 216.2 L1460.3 218.1 L1460.9 220.1 L1461.4 222.1 L1461.9 224.1 L1462.7 225.9 L1463.8 227.5 L1465.4 228.9 L1467 227.5 L1468.1 225.9 L1468.9 224.1 L1469.5 222.1 L1470 220.1 L1470.6 218.1 L1471.2 216.2 L1471.9 214.3 L1472.5 212.4 L1473.2 210.5 L1473.9 208.6 L1474.6 206.7 L1475.2 204.7 L1475.9 202.8 L1476.5 200.9 L1477.1 199 L1477.7 197 L1478.3 195.1 L1478.9 193.2 L1479.5 191.2 L1480.1 189.3 L1480.7 187.3 L1481.3 185.4 L1481.9 183.5 L1482.5 181.5 L1483.1 179.6 L1483.7 177.7 L1484.3 175.7 L1485 173.8 L1485.6 171.9 L1486.3 170 L1486.9 168.1 L1487.6 166.2 L1488.3 164.2 L1488.9 162.3 L1489.6 160.4 L1490.2 158.5 L1490.8 156.5 L1491.4 154.6 L1492 152.7 L1492.6 150.7 L1493.2 148.8 L1493.8 146.9 L1494.4 144.9 L1495 143 L1495.6 141.1 L1496.2 139.1 L1496.8 137.2 L1497.4 135.3 L1498 133.3 L1498.6 131.4 L1499.2 129.5 L1499.9 127.5 L1500.5 125.6 L1501.1 123.7 L1501.7 121.7 L1502.3 119.8 L1503 117.9 L1503.6 116 L1504.2 114 L1504.8 112.1 L1505.5 110.2 L1506.1 108.3 L1506.7 106.3 L1507.4 104.4 L1508 102.5 L1508.7 100.6 L1509.3 98.6 L1510 96.7 L1510.6 94.8 L1511.3 92.9 L1512 91 L1512.7 89.1 L1513.3 87.2 L1514 85.3 L1514.7 83.3 L1515.4 81.4 L1516 79.5 L1516.7 77.6 L1517.4 75.7"/>
<path d="M1417.9 75.7 L1418.5 77.7 L1419.2 79.6 L1419.8 81.6 L1420.4 83.5 L1421 85.5 L1421.6 87.5 L1422.2 89.4 L1422.9 91.4 L1423.5 93.3 L1424.2 95.3 L1424.8 97.2 L1425.5 99.2 L1426.1 101.1 L1426.8 103.1 L1427.4 105 L1428 107 L1428.7 108.9 L1429.3 110.9 L1429.9 112.9 L1430.5 114.8 L1431.1 116.8 L1431.7 118.7 L1432.4 120.7 L1432.9 122.7 L1433.5 124.6 L1434.1 126.6 L1434.7 128.6 L1435.3 130.6 L1435.9 132.5 L1436.5 134.5 L1437 136.5 L1437.6 138.4 L1438.2 140.4 L1438.7 142.4 L1439.3 144.4 L1439.8 146.3 L1440.4 148.3 L1441 150.3 L1441.6 152.3 L1442.2 154.2 L1442.8 156.2 L1443.4 158.1 L1444 160.1 L1444.7 162.1 L1445.3 164 L1446 166 L1446.6 167.9 L1447.3 169.9 L1447.9 171.8 L1448.5 173.8 L1449.2 175.7 L1449.8 177.7 L1450.4 179.7 L1451 181.6 L1451.6 183.6 L1452.2 185.6 L1452.9 187.5 L1453.8 189.3 L1454.9 191.1 L1456.2 192.8 L1457.7 194.2 L1459.4 195.3 L1461.3 196 L1463.3 196.5 L1465.4 196.7 L1467.5 196.5 L1469.5 196 L1471.5 195.3 L1473.3 194.2 L1474.8 192.8 L1476.1 191.1 L1477.2 189.3 L1478.1 187.5 L1478.9 185.6 L1479.5 183.6 L1480.1 181.6 L1480.8 179.7 L1481.4 177.7 L1482 175.7 L1482.6 173.8 L1483.3 171.8 L1483.9 169.9 L1484.6 167.9 L1485.3 166 L1485.9 164 L1486.6 162.1 L1487.2 160.1 L1487.9 158.1 L1488.5 156.2 L1489.1 154.2 L1489.8 152.3 L1490.4 150.3 L1491 148.3 L1491.5 146.3 L1492.1 144.4 L1492.7 142.4 L1493.3 140.4 L1493.9 138.4 L1494.4 136.5 L1495 134.5 L1495.6 132.5 L1496.2 130.6 L1496.8 128.6 L1497.4 126.6 L1498 124.6 L1498.6 122.7 L1499.2 120.7 L1499.9 118.7 L1500.5 116.8 L1501.1 114.8 L1501.7 112.9 L1502.4 110.9 L1503 108.9 L1503.7 107 L1504.3 105 L1505 103.1 L1505.6 101.1 L1506.3 99.2 L1506.9 97.2 L1507.6 95.3 L1508.3 93.3 L1508.9 91.4 L1509.6 89.4 L1510.2 87.5 L1510.9 85.5 L1511.5 83.5 L1512.1 81.6 L1512.8 79.6 L1513.4 77.7 L1514 75.7"/>
<path d="M1452.8 76.7 L1453.5 78.9 L1454.2 81.2 L1455 83.4 L1455.8 85.6 L1456.7 87.7 L1457.6 89.8 L1458.7 91.9 L1459.9 94 L1461.3 95.9 L1463.1 97.3 L1465.4 97.9 L1467.7 97.3 L1469.6 95.9 L1471 94 L1472.2 91.9 L1473.3 89.8 L1474.3 87.7 L1475.2 85.6 L1476 83.4 L1476.8 81.2 L1477.5 78.9 L1478.3 76.7"/>
<path d="M1449.8 76.7 L1450.6 78.8 L1451.3 80.9 L1452.1 83 L1452.9 85 L1453.7 87.1 L1454.5 89.1 L1455.4 91.2 L1456.4 93.1 L1457.5 95.1 L1458.6 97 L1459.9 98.9 L1461.4 100.6 L1463.2 101.7 L1465.4 102.3 L1467.6 101.7 L1469.5 100.6 L1471 98.9 L1472.3 97 L1473.5 95.1 L1474.6 93.1 L1475.6 91.2 L1476.5 89.1 L1477.4 87.1 L1478.2 85 L1479 83 L1479.8 80.9 L1480.5 78.8 L1481.3 76.7"/>
<path d="M1439.9 77.3 L1441.4 79 L1442.8 80.6 L1444.2 82.3 L1445.6 84 L1447 85.6 L1448.3 87.3 L1449.8 89 L1451.2 90.6 L1452.6 92.3 L1454.1 93.9 L1455.5 95.6 L1456.9 97.2 L1458.2 98.9 L1459.6 100.6 L1460.9 102.4 L1462.2 104.2 L1463.6 105.8 L1465.4 107.1 L1467.2 105.8 L1468.6 104.2 L1470 102.4 L1471.3 100.6 L1472.7 98.9 L1474.1 97.2 L1475.5 95.6 L1477 93.9 L1478.5 92.3 L1479.9 90.6 L1481.4 89 L1482.8 87.3 L1484.3 85.6 L1485.7 84 L1487.1 82.3 L1488.6 80.6 L1490 79 L1491.4 77.3"/>
<path d="M1443.8 77.3 L1445 79.1 L1446.1 80.9 L1447.3 82.7 L1448.4 84.5 L1449.5 86.3 L1450.7 88.1 L1451.9 89.9 L1453 91.7 L1454.2 93.5 L1455.4 95.3 L1456.6 97 L1457.8 98.8 L1459 100.6 L1460.2 102.3 L1461.3 104.2 L1462.4 106 L1463.7 107.7 L1465.4 109 L1467.1 107.7 L1468.4 106 L1469.5 104.2 L1470.7 102.3 L1471.9 100.6 L1473.1 98.8 L1474.4 97 L1475.6 95.3 L1476.8 93.5 L1478 91.7 L1479.2 89.9 L1480.4 88.1 L1481.6 86.3 L1482.8 84.5 L1484 82.7 L1485.1 80.9 L1486.3 79.1 L1487.5 77.3"/>
<path d="M1437.9 76.7 L1438.8 78.6 L1439.8 80.6 L1440.7 82.5 L1441.7 84.4 L1442.8 86.3 L1443.8 88.1 L1444.9 90 L1446 91.8 L1447.1 93.7 L1448.3 95.5 L1449.4 97.3 L1450.6 99.1 L1451.8 100.9 L1453.1 102.6 L1454.5 104.3 L1456 105.8 L1457.5 107.3 L1459.3 108.6 L1461.2 109.6 L1463.2 110.2 L1465.4 110.4 L1467.6 110.2 L1469.7 109.6 L1471.6 108.6 L1473.4 107.3 L1475 105.8 L1476.5 104.3 L1477.9 102.6 L1479.3 100.9 L1480.5 99.1 L1481.7 97.3 L1482.9 95.5 L1484.1 93.7 L1485.3 91.8 L1486.4 90 L1487.5 88.1 L1488.6 86.3 L1489.6 84.4 L1490.6 82.5 L1491.6 80.6 L1492.6 78.6 L1493.6 76.7"/>
<path d="M1448.2 76.7 L1448.9 78.8 L1449.5 80.9 L1450.1 83 L1450.7 85.2 L1451.3 87.3 L1452 89.4 L1452.7 91.5 L1453.5 93.5 L1454.5 95.5 L1455.6 97.4 L1456.9 99.2 L1458.2 101 L1459.6 102.8 L1461.2 104.2 L1463.2 105.1 L1465.4 105.7 L1467.7 105.1 L1469.6 104.2 L1471.3 102.8 L1472.8 101 L1474.1 99.2 L1475.4 97.4 L1476.5 95.5 L1477.5 93.5 L1478.4 91.5 L1479.1 89.4 L1479.8 87.3 L1480.4 85.2 L1481 83 L1481.6 80.9 L1482.3 78.8 L1483 76.7"/>
<path d="M1465.4 272.4 L1466.7 274 L1467.9 275.6 L1468.8 277.4 L1469.7 279.3 L1470.4 281.2 L1471.3 283 L1472.3 284.8 L1473.4 286.5 L1474.5 288.2 L1475.7 289.9 L1476.8 291.6 L1478 293.3 L1479.2 295 L1480.3 296.7 L1481.4 298.4 L1482.4 300.2 L1483.4 302 L1484.3 303.8 L1485.3 305.6 L1486.2 307.4 L1487.1 309.2 L1488.1 311.1 L1489 312.9 L1490 314.6 L1491 316.4 L1492.1 318.2 L1493.2 320 L1494.3 321.7 L1495.4 323.4 L1496.6 325.1 L1497.9 326.7 L1499.2 328.2 L1500.5 329.7 L1502 331.1 L1503.6 332.5 L1505.1 333.8 L1506.7 335.2 L1508.3 336.5 L1509.9 337.9 L1511.4 339.3 L1512.8 340.8 L1514.1 342.3 L1515.4 343.9 L1516.7 345.5 L1517.9 347.1 L1519.1 348.8 L1520.3 350.5 L1521.4 352.2 L1522.4 354 L1523.5 355.7 L1524.6 357.5 L1525.6 359.2 L1526.7 360.9 L1527.9 362.6 L1529.1 364.3 L1530.3 365.9 L1531.7 367.5 L1533 369.1 L1534.4 370.6 L1535.9 372 L1537.5 373.4 L1539.1 374.6 L1540.8 375.8 L1542.5 376.8 L1544.4 377.8 L1546.2 378.8 L1548.1 379.8 L1549.9 380.7 L1551.8 381.6 L1553.6 382.5 L1555.5 383.4 L1557.4 384.3 L1559.2 385.2 L1561.1 386.1 L1563 386.9 L1564.9 387.9 L1566.7 388.8 L1568.5 389.8 L1570.2 390.9 L1572 392.1 L1573.7 393.2 L1575.3 394.5 L1576.9 395.8 L1578.5 397.1 L1580 398.5 L1581.5 399.9 L1582.9 401.4 L1584.4 402.9 L1585.8 404.3 L1587.2 405.8 L1588.6 407.4 L1590 408.9 L1591.4 410.4 L1592.9 411.9 L1594.4 413.2 L1596 414.5 L1597.8 415.5 L1599.6 416.4 L1601.5 417.3 L1603.4 418.2 L1605.3 419 L1607.2 419.9 L1609 420.9 L1610.8 421.9 L1612.6 423"/>
<path d="M1465.4 286.5 L1467.2 286 L1469.5 286.4 L1471.8 286.9 L1473.1 286.2 L1474.2 284.5 L1476.2 283.8 L1478.5 283.7 L1480.5 284.2 L1482.4 285.1 L1484.1 286.3 L1485.6 287.6 L1487 289.1 L1488.3 290.7 L1489.5 292.3 L1490.7 294 L1491.8 295.7 L1492.9 297.4 L1494 299.2 L1495 300.9 L1496 302.7 L1497 304.5 L1498 306.2 L1499 308 L1500.1 309.7 L1501.2 311.4 L1502.3 313.2 L1503.4 314.9 L1504.5 316.5 L1505.7 318.2 L1506.9 319.9 L1508.1 321.5 L1509.3 323.2 L1510.6 324.8 L1511.9 326.3 L1513.2 327.9 L1514.5 329.4 L1515.8 331 L1517.2 332.5 L1518.6 334 L1519.9 335.5 L1521.3 337 L1522.7 338.5 L1524.1 340 L1525.5 341.5 L1526.9 343 L1528.3 344.5 L1529.7 346 L1531 347.5 L1532.4 349.1 L1533.7 350.6 L1535 352.2 L1536.3 353.8 L1537.6 355.3 L1538.9 356.9 L1540.2 358.5 L1541.4 360.1 L1542.6 361.8 L1543.9 363.4 L1545.1 365 L1546.4 366.6 L1547.7 368.1 L1549.1 369.7 L1550.5 371.3 L1552 372.8 L1553.5 374.3 L1555.1 375.5 L1556.8 376.5 L1558.6 377.2 L1560.6 377.8 L1562.6 378.2 L1564.7 378.5 L1566.8 379 L1568.8 379.6 L1570.7 380.4 L1572.5 381.3 L1574.2 382.4 L1575.9 383.6 L1577.4 384.9 L1578.9 386.4 L1580.4 387.8 L1581.8 389.3 L1583.3 390.7 L1584.9 392 L1586.4 393.4 L1588 394.7 L1589.5 396.1 L1591.1 397.4 L1592.6 398.8 L1594.1 400.2 L1595.6 401.6 L1597 403 L1598.5 404.4 L1599.9 405.9 L1601.4 407.3 L1602.8 408.8 L1604.2 410.3 L1605.6 411.8 L1607 413.3 L1608.4 414.8 L1609.8 416.3 L1611.2 417.8 L1612.6 419.2"/>
</g>
<path d="M1465.4 82V429.8" stroke="#000" stroke-width="1.7"/>
<path d="M1322.2 324.8H1751.8" stroke="#6e6e6e" stroke-width="1.35" stroke-dasharray="15.2 7.8" fill="none"/>
<path d="M1322.2 342.7H1751.8" stroke="#1a1a1a" stroke-width="1.35" stroke-dasharray="15.2 7.8" fill="none"/>
<path d="M1322.2 359H1751.8" stroke="#6e6e6e" stroke-width="1.35" stroke-dasharray="15.2 7.8" fill="none"/>
<path d="M1322.2 82H1751.8V429.8H1322.2Z M1612.2 82V429.8" fill="none" stroke="#000" stroke-width="2.05"/>
<path d="M1322.2 125.5h6.4M1605.8 125.5h6.4M1322.2 168.9h4.9M1608 168.9h10.2M1751.8 168.9h-6.5M1322.2 212.4h6.4M1605.8 212.4h6.4M1322.2 255.9h4.9M1608 255.9h10.2M1751.8 255.9h-6.5M1322.2 299.4h6.4M1605.8 299.4h6.4M1322.2 342.9h4.9M1608 342.9h10.2M1751.8 342.9h-6.5M1322.2 386.3h6.4M1605.8 386.3h6.4M1629.7 82v6.2M1629.7 429.8v-6.2M1647.1 82v6.2M1647.1 429.8v-6.2M1664.5 82v6.2M1664.5 429.8v-6.2M1682 82v6.2M1682 429.8v-6.2M1699.5 82v6.2M1699.5 429.8v-6.2M1716.9 82v6.2M1716.9 429.8v-6.2M1734.3 82v6.2M1734.3 429.8v-6.2" stroke="#000" stroke-width="1.9" fill="none"/>
<text x="1305" y="91" font-size="22" text-anchor="end" >0.6</text>
<text x="1305" y="174.4" font-size="22" text-anchor="end" >0.4</text>
<text x="1305" y="261.7" font-size="22" text-anchor="end" >0.2</text>
<text x="1305" y="352.3" font-size="22" text-anchor="end" >0.0</text>
<text x="1305" y="440.3" font-size="22" text-anchor="end" >-0.2</text>
<text x="1311.2" y="459" font-size="24.5" class="sf" >K</text>
<text x="1463.2" y="459" font-size="24.5" class="sf" >Γ</text>
<text x="1600" y="459" font-size="24.5" class="sf" >K'</text>
<text x="1616" y="71.3" font-size="18" text-anchor="middle" >-4</text>
<text x="1649.2" y="71.3" font-size="18" text-anchor="middle" >-2</text>
<text x="1682" y="71.3" font-size="18" text-anchor="middle" >0</text>
<text x="1717" y="71.3" font-size="18" text-anchor="middle" >2</text>
<text x="1748" y="71.3" font-size="18" text-anchor="middle" >4</text>
<text x='1649.5' y='26.9' font-size='18'><tspan class='sf' font-size='19'>σ</tspan><tspan class='sf' font-style='italic' font-size='12' dy='4.6' dx='-0.8'>xy</tspan><tspan dy='-4.6' dx='2.0'>(</tspan><tspan font-style='italic'>h</tspan>/<tspan font-style='italic'>e</tspan><tspan font-size='11.5' dy='-7'>2</tspan><tspan dy='7'>)</tspan></text>
<text x="1397.5" y="36.9" font-size="22" xml:space="preserve"><tspan font-style="italic">E</tspan> = +0.0005 V/Å</text>
<text x="1230.5" y="41.4" font-size="30" font-weight="bold" >d</text>
<text transform="translate(1256.3 298.1) rotate(-90)" font-size="24"><tspan font-style="italic">E</tspan>-<tspan font-style="italic">E</tspan><tspan font-size="16.5" dy="4.6">F</tspan><tspan dy="-4.6"> (eV)</tspan></text>
<path d="M919 574.8 L901.3 574.4 L900.7 575.4 L899.8 576.9 L898.8 578.5 L897.9 580.2 L897.2 581.8 L896.7 583.2 L896.2 584.6 L895.8 586 L895.7 587.3 L895.9 588.6 L896.4 589.8 L897 591 L897.9 592.1 L899.3 593.1 L901.3 594 L904.1 594.7 L907.6 595.2 L911.5 595.6 L915.4 596.1 L919 596.8 L922.3 597.7 L925.5 598.8 L928.6 599.9 L931.4 601.1 L934 602.2 L936.3 603.3 L938.4 604.4 L940.3 605.5 L941.8 606.6 L943 607.7 L943.8 608.8 L944.1 609.8 L944.2 610.8 L944 611.9 L943.6 613.1 L943 614.4 L942.1 615.7 L941 617.1 L939.6 618.5 L938.1 619.9 L936.2 621.3 L934 622.7 L931.6 624.1 L929.3 625.5 L927.2 626.7 L925.2 627.8 L923.2 628.7 L921.4 629.7 L919.9 630.6 L919 631.6 L918.7 632.7 L918.9 633.7 L919.6 634.9 L920.5 636.2 L921.8 637.6 L923.6 639.4 L926 641.4 L928.5 643.5 L930.9 645.5 L932.7 647.2 L933.7 648.5 L934.2 649.5 L934.4 650.4 L934.7 651.4 L935.4 652.6 L936.6 654 L938.1 655.5 L939.7 657.2 L941.1 658.9 L942.2 660.8 L942.8 662.9 L943 665.1 L943 667.4 L943.2 669.6 L943.6 671.7 L944.5 673.5 L945.8 675.2 L947.1 676.9 L948.3 678.4 L949 679.9 L949.3 681.3 L949.2 682.5 L948.9 683.7 L948.4 685 L947.7 686.7 L946.7 688.8 L945.5 691.2 L944 693.7 L942.4 696.4 L940.8 699 L939 701.6 L937 704.3 L934.9 707.1 L933 709.9 L931.3 712.6 L929.9 715.4 L928.7 718.2 L927.6 721 L926.7 723.7 L925.9 726.2 L925.4 728.6 L925.1 730.8 L924.9 732.9 L924.8 735 L924.5 737.1 L924.1 739.2 L923.6 741.1 L923.2 743.1 L922.7 745.2 L922.4 747.6 L922.2 750.3 L922.2 753.3 L922.2 756.4 L922.1 759.5 L921.8 762.3 L921.4 764.9 L920.9 767.3 L920.3 769.6 L919.5 771.7 L918.6 773.8 L917.4 775.7 L916 777.4 L914.4 779 L912.8 780.6 L911.3 782.2 L909.8 783.9 L908.1 785.5 L906.5 787.2 L905.1 788.9 L904 790.6 L903.2 792.4 L902.7 794.3 L902.3 796.3 L902.1 798.2 L901.9 800 L901.9 801.8 L902.1 803.5 L902.3 805.2 L902.3 806.8 L901.9 808.4 L900.8 810 L899.3 811.5 L897.5 813 L895.8 814.4 L894.5 815.7 L893.6 816.9 L892.8 817.9 L892.2 818.8 L891.8 819.8 L891.4 821 L891.2 822.3 L891.3 823.8 L891.4 825.3 L891.4 826.8 L891 828.3 L889.9 829.8 L888.3 831.4 L886.6 832.9 L885.4 834.3 L885.1 835.6 L886 836.7 L887.8 837.6 L890.1 838.3 L892.4 839.1 L894.5 839.8 L896.5 840.4 L898.6 841 L900.6 841.5 L902.2 842.1 L902.9 843 L902.7 844.2 L901.7 845.6 L900.2 847.1 L898.4 848.7 L896.6 850.3 L894.5 852 L891.9 853.8 L889.3 855.7 L886.9 857.3 L885.1 858.7 L884.2 859.6 L884 860.2 L884.1 860.6 L883.9 861.1 L883 861.9 L881.1 863 L878.4 864.2 L875.6 865.5 L873.1 866.9 L871.5 868.2 L870.8 869.4 L870.6 870.6 L871 871.8 L871.9 873 L873.5 874.4 L876.1 876 L879.7 877.8 L883.6 879.6 L887.4 881.4 L890.3 882.8 L892.3 883.9 L893.9 884.8 L895.1 885.6 L896 886.3 L896.6 887 L897.1 887.7 L897.3 888.4 L897.3 889 L896.7 889.6 L895.6 890.2 L893.7 890.8 L891.2 891.3 L888.2 891.8 L885 892.3 L881.9 892.7 L878.7 893.1 L875.3 893.4 L871.9 893.7 L868.4 894 L865.2 894.4 L861.9 894.9 L858.6 895.5 L855.4 896.2 L852.7 896.7 L850.8 897.1 L850 922.7 L919 922.7Z" fill="url(#gsf)"/>
<path d="M901.3 574.4 L900.7 575.4 L899.8 576.9 L898.8 578.5 L897.9 580.2 L897.2 581.8 L896.7 583.2 L896.2 584.6 L895.8 586 L895.7 587.3 L895.9 588.6 L896.4 589.8 L897 591 L897.9 592.1 L899.3 593.1 L901.3 594 L904.1 594.7 L907.6 595.2 L911.5 595.6 L915.4 596.1 L919 596.8 L922.3 597.7 L925.5 598.8 L928.6 599.9 L931.4 601.1 L934 602.2 L936.3 603.3 L938.4 604.4 L940.3 605.5 L941.8 606.6 L943 607.7 L943.8 608.8 L944.1 609.8 L944.2 610.8 L944 611.9 L943.6 613.1 L943 614.4 L942.1 615.7 L941 617.1 L939.6 618.5 L938.1 619.9 L936.2 621.3 L934 622.7 L931.6 624.1 L929.3 625.5 L927.2 626.7 L925.2 627.8 L923.2 628.7 L921.4 629.7 L919.9 630.6 L919 631.6 L918.7 632.7 L918.9 633.7 L919.6 634.9 L920.5 636.2 L921.8 637.6 L923.6 639.4 L926 641.4 L928.5 643.5 L930.9 645.5 L932.7 647.2 L933.7 648.5 L934.2 649.5 L934.4 650.4 L934.7 651.4 L935.4 652.6 L936.6 654 L938.1 655.5 L939.7 657.2 L941.1 658.9 L942.2 660.8 L942.8 662.9 L943 665.1 L943 667.4 L943.2 669.6 L943.6 671.7 L944.5 673.5 L945.8 675.2 L947.1 676.9 L948.3 678.4 L949 679.9 L949.3 681.3 L949.2 682.5 L948.9 683.7 L948.4 685 L947.7 686.7 L946.7 688.8 L945.5 691.2 L944 693.7 L942.4 696.4 L940.8 699 L939 701.6 L937 704.3 L934.9 707.1 L933 709.9 L931.3 712.6 L929.9 715.4 L928.7 718.2 L927.6 721 L926.7 723.7 L925.9 726.2 L925.4 728.6 L925.1 730.8 L924.9 732.9 L924.8 735 L924.5 737.1 L924.1 739.2 L923.6 741.1 L923.2 743.1 L922.7 745.2 L922.4 747.6 L922.2 750.3 L922.2 753.3 L922.2 756.4 L922.1 759.5 L921.8 762.3 L921.4 764.9 L920.9 767.3 L920.3 769.6 L919.5 771.7 L918.6 773.8 L917.4 775.7 L916 777.4 L914.4 779 L912.8 780.6 L911.3 782.2 L909.8 783.9 L908.1 785.5 L906.5 787.2 L905.1 788.9 L904 790.6 L903.2 792.4 L902.7 794.3 L902.3 796.3 L902.1 798.2 L901.9 800 L901.9 801.8 L902.1 803.5 L902.3 805.2 L902.3 806.8 L901.9 808.4 L900.8 810 L899.3 811.5 L897.5 813 L895.8 814.4 L894.5 815.7 L893.6 816.9 L892.8 817.9 L892.2 818.8 L891.8 819.8 L891.4 821 L891.2 822.3 L891.3 823.8 L891.4 825.3 L891.4 826.8 L891 828.3 L889.9 829.8 L888.3 831.4 L886.6 832.9 L885.4 834.3 L885.1 835.6 L886 836.7 L887.8 837.6 L890.1 838.3 L892.4 839.1 L894.5 839.8 L896.5 840.4 L898.6 841 L900.6 841.5 L902.2 842.1 L902.9 843 L902.7 844.2 L901.7 845.6 L900.2 847.1 L898.4 848.7 L896.6 850.3 L894.5 852 L891.9 853.8 L889.3 855.7 L886.9 857.3 L885.1 858.7 L884.2 859.6 L884 860.2 L884.1 860.6 L883.9 861.1 L883 861.9 L881.1 863 L878.4 864.2 L875.6 865.5 L873.1 866.9 L871.5 868.2 L870.8 869.4 L870.6 870.6 L871 871.8 L871.9 873 L873.5 874.4 L876.1 876 L879.7 877.8 L883.6 879.6 L887.4 881.4 L890.3 882.8 L892.3 883.9 L893.9 884.8 L895.1 885.6 L896 886.3 L896.6 887 L897.1 887.7 L897.3 888.4 L897.3 889 L896.7 889.6 L895.6 890.2 L893.7 890.8 L891.2 891.3 L888.2 891.8 L885 892.3 L881.9 892.7 L878.7 893.1 L875.3 893.4 L871.9 893.7 L868.4 894 L865.2 894.4 L861.9 894.9 L858.6 895.5 L855.4 896.2 L852.7 896.7 L850.8 897.1" fill="none" stroke="#1a1a1a" stroke-width="0.9" stroke-linejoin="round"/>
<path d="M919 599.5V922.7" stroke="#444" stroke-width="1.5" stroke-dasharray="15.4 3.6" fill="none"/>
<g clip-path="url(#cpf)" fill="none" stroke="#000" stroke-width="1.8" stroke-linejoin="round">
<path d="M702.8 764 L701.5 765.6 L700.1 767.1 L698.7 768.6 L697.2 770 L695.7 771.3 L694.2 772.7 L692.7 774.1 L691.2 775.5 L689.8 776.9 L688.3 778.4 L687 779.9 L685.7 781.4 L684.4 783 L683.3 784.7 L682.2 786.4 L681.1 788.1 L680.1 789.9 L679 791.6 L678 793.4 L677 795.2 L676 797 L675 798.7 L673.9 800.5 L672.9 802.2 L671.9 804 L670.8 805.7 L669.7 807.4 L668.6 809.2 L667.5 810.8 L666.3 812.5 L665.1 814.1 L663.8 815.7 L662.5 817.3 L661.3 818.9 L659.9 820.4 L658.6 822 L657.3 823.5 L656 825.1 L654.6 826.6 L653.3 828.1 L651.9 829.6 L650.6 831.1 L649.2 832.6 L647.8 834.1 L646.3 835.5 L644.9 837 L643.4 838.4 L642 839.8 L640.5 841.2 L639.1 842.7 L637.7 844.1 L636.3 845.6 L634.9 847.1 L633.6 848.6 L632.2 850.1 L630.8 851.6 L629.5 853.1 L628.1 854.6 L626.8 856.1 L625.4 857.6 L624 859.1 L622.6 860.7 L621.2 862.2 L619.8 863.8 L618.4 865.3 L616.9 866.8 L615.3 868.1 L613.7 869.2 L612 870 L610.1 870.6 L608.1 871 L606 871.4 L604 871.8 L602 872.4 L600.1 873.1 L598.3 874 L596.6 875.1 L595 876.3 L593.4 877.6 L592 879.1 L590.5 880.5 L589.1 882 L587.6 883.4 L586.1 884.8 L584.6 886.1 L583 887.5 L581.5 888.8 L580 890.2 L578.5 891.6 L577 893 L575.6 894.4 L574.1 895.8 L572.7 897.2 L571.3 898.7 L569.9 900.2 L568.5 901.6 L567.1 903.1 L565.7 904.6 L564.3 906.1 L562.9 907.6 L561.6 909.1 L560.2 910.6 L558.8 912.1"/>
<path d="M702.8 764 L704.2 765.4 L705.5 767 L706.8 768.7 L708.1 770.4 L709.4 772.1 L710.8 773.4 L712.6 774.2 L714.7 774.6 L716.8 774.9 L718.8 775.5 L720.7 776.3 L722.5 777.5 L724.1 778.8 L725.6 780.2 L727.1 781.7 L728.4 783.2 L729.6 784.9 L730.8 786.5 L731.9 788.3 L733 790 L734 791.8 L735.1 793.6 L736.1 795.3 L737.2 797.1 L738.2 798.8 L739.2 800.6 L740.2 802.4 L741.2 804.2 L742.3 805.9 L743.3 807.7 L744.4 809.4 L745.5 811.1 L746.6 812.9 L747.7 814.6 L748.8 816.3 L750 818 L751.2 819.6 L752.4 821.3 L753.6 823 L754.8 824.6 L756 826.3 L757.3 827.9 L758.5 829.5 L759.8 831.1 L761.2 832.6 L762.6 834.1 L764 835.6 L765.5 837 L767.1 838.3 L768.6 839.7 L770.1 841.1 L771.6 842.5 L773 844.1 L774.4 845.7 L775.7 847.4 L776.9 849.2 L778.2 851 L779.4 852.8 L780.6 854.7 L781.8 856.5 L783 858.3 L784.2 860.1 L785.4 861.7 L786.7 863.3 L788.1 864.8 L789.5 866.2 L791 867.4 L792.6 868.5 L794.2 869.3 L796 870 L798 870.5 L800 871 L802.1 871.4 L804.2 871.8 L806.2 872.4 L808.2 873.2 L810 874.1 L811.8 875.1 L813.4 876.4 L815 877.7 L816.5 879.1 L817.9 880.6 L819.4 882.1 L821 883.5 L822.5 884.8 L824 886.2 L825.6 887.5 L827.2 888.9 L828.7 890.2 L830.2 891.6 L831.8 893 L833.3 894.4 L834.7 895.8 L836.2 897.3 L837.7 898.7 L839.1 900.2 L840.5 901.7 L842 903.2 L843.4 904.6 L844.8 906.1 L846.2 907.6 L847.6 909.1 L849 910.6 L850.4 912.1"/>
<path d="M702.8 774.1 L701.3 775.6 L699.9 777 L698.5 778.5 L697.2 780 L695.9 781.6 L694.7 783.2 L693.5 784.9 L692.3 786.6 L691.2 788.3 L690.1 790 L689.1 791.7 L688 793.5 L687 795.2 L685.9 797 L684.9 798.7 L683.9 800.5 L682.9 802.3 L681.9 804 L680.9 805.8 L679.9 807.6 L678.9 809.3 L677.9 811.1 L676.9 812.9 L675.9 814.6 L674.8 816.4 L673.8 818.1 L672.7 819.8 L671.6 821.5 L670.4 823.2 L669.2 824.8 L668 826.4 L666.7 828.1 L665.5 829.7 L664.2 831.3 L663 832.9 L661.7 834.5 L660.5 836.1 L659.3 837.7 L658.1 839.4 L657.1 841.1 L656 842.9 L655 844.6 L654 846.4 L653 848.1 L651.9 849.9 L650.8 851.6 L649.6 853.2 L648.4 854.9 L647.2 856.5 L645.9 858.1 L644.6 859.7 L643.3 861.2 L641.8 862.7 L640.3 864 L638.7 865.1 L637 866.2 L635.2 867.1 L633.4 868 L631.5 868.8 L629.6 869.5 L627.6 870.3 L625.7 871 L623.8 871.8 L621.9 872.6 L620.1 873.5 L618.3 874.4 L616.4 875.3 L614.6 876.3 L612.8 877.2 L611 878.1 L609.2 879 L607.3 879.8 L605.5 880.7 L603.7 881.7 L602 882.7 L600.2 883.8 L598.5 884.9 L596.9 886.1 L595.3 887.4 L593.7 888.6 L592.2 890 L590.7 891.4 L589.2 892.8 L587.8 894.3 L586.4 895.7 L585 897.2 L583.6 898.7 L582.3 900.3 L580.9 901.8 L579.5 903.3 L578.1 904.8 L576.6 906.1 L575 907.3 L573.3 908.4 L571.5 909.3 L569.7 910.2 L567.8 911.1 L565.9 911.9 L564.1 912.8 L562.3 913.8 L560.5 914.8 L558.8 915.9"/>
<path d="M702.8 774.1 L704.3 775.6 L705.8 777 L707.2 778.5 L708.5 780 L709.8 781.6 L711.1 783.2 L712.3 784.9 L713.4 786.6 L714.5 788.3 L715.6 790.1 L716.7 791.8 L717.7 793.6 L718.7 795.4 L719.7 797.2 L720.7 799 L721.6 800.8 L722.5 802.6 L723.5 804.4 L724.4 806.2 L725.3 808.1 L726.2 809.9 L727.1 811.7 L728.1 813.5 L729 815.4 L730 817.2 L731 819 L731.9 820.8 L732.9 822.6 L734 824.3 L735 826.1 L736.1 827.8 L737.3 829.5 L738.4 831.2 L739.7 832.8 L741 834.4 L742.3 836 L743.6 837.5 L745 839.1 L746.3 840.7 L747.6 842.2 L748.9 843.8 L750.2 845.4 L751.5 847 L752.8 848.6 L754.1 850.2 L755.4 851.8 L756.8 853.3 L758.2 854.8 L759.6 856.3 L761.1 857.8 L762.5 859.2 L764.1 860.6 L765.6 861.9 L767.3 863.2 L768.9 864.4 L770.6 865.6 L772.4 866.7 L774.2 867.7 L776 868.7 L777.8 869.6 L779.7 870.5 L781.6 871.4 L783.5 872.2 L785.4 873.1 L787.3 873.9 L789.3 874.7 L791.2 875.5 L793.1 876.3 L795 877.2 L796.9 878 L798.8 878.9 L800.7 879.8 L802.5 880.7 L804.4 881.7 L806.1 882.7 L807.9 883.8 L809.7 884.9 L811.4 886.1 L813 887.4 L814.6 888.6 L816.2 890 L817.7 891.4 L819.2 892.8 L820.6 894.3 L822.1 895.7 L823.5 897.2 L824.9 898.7 L826.3 900.3 L827.8 901.8 L829.2 903.3 L830.6 904.8 L832.2 906.1 L833.8 907.3 L835.5 908.4 L837.4 909.3 L839.3 910.2 L841.2 911.1 L843.1 911.9 L845 912.8 L846.8 913.8 L848.6 914.8 L850.4 915.9"/>
<path d="M590.8 562.9 L591.7 564.7 L592.7 566.5 L593.8 568.2 L595 569.8 L596.3 571.3 L597.6 572.8 L599.1 574.3 L600.6 575.6 L602.2 576.8 L603.9 577.9 L605.7 578.8 L607.6 579.5 L609.5 580 L611.5 580.5 L613.5 580.8 L615.5 580.9 L617.5 581 L619.5 581.2 L621.5 581.5 L623.5 582 L625.4 582.7 L627.3 583.4 L629.1 584.3 L630.9 585.2 L632.6 586.2 L634.4 587.2 L636.1 588.3 L637.7 589.4 L639.4 590.6 L641 591.7 L642.7 592.9 L644.2 594.2 L645.8 595.5 L647.3 596.8 L648.7 598.2 L650 599.7 L651.3 601.3 L652.5 602.9 L653.6 604.6 L654.7 606.3 L655.8 608 L656.8 609.7 L657.8 611.5 L658.8 613.2 L659.7 615 L660.5 616.9 L661.2 618.7 L661.9 620.6 L662.6 622.5 L663.2 624.4 L663.8 626.4 L664.4 628.3 L665 630.2 L665.5 632.1 L666.1 634.1 L666.7 636 L667.3 637.9 L668 639.8 L668.7 641.7 L669.3 643.6 L670 645.5 L670.7 647.4 L671.4 649.2 L672.1 651.1 L672.7 653 L673.4 655 L674 656.9 L674.6 658.8 L675.1 660.7 L675.7 662.7 L676.2 664.6 L676.7 666.5 L677.3 668.5 L677.8 670.4 L678.3 672.4 L678.8 674.3 L679.3 676.3 L679.8 678.2 L680.4 680.1 L680.9 682.1 L681.4 684 L682 685.9 L682.5 687.9 L683.1 689.8 L683.6 691.8 L684.1 693.7 L684.7 695.6 L685.2 697.6 L685.8 699.5 L686.3 701.4 L686.9 703.4 L687.4 705.3 L688 707.2 L688.6 709.2 L689.1 711.1 L689.7 713 L690.2 715 L690.7 716.9 L691.3 718.8 L691.8 720.8 L692.3 722.7 L692.9 724.6 L693.4 726.6 L693.9 728.5 L694.5 730.5 L695 732.4 L695.5 734.4 L696.1 736.3 L696.6 738.3 L697.2 740.2 L697.8 742 L698.4 743.9 L699.3 745.9 L701 746 L702.6 744.8 L703.7 743.2 L704.5 741.5 L705.3 739.7 L705.9 737.7 L706.4 735.7 L706.9 733.6 L707.3 731.6 L707.9 729.6 L708.5 727.6 L709 725.7 L709.6 723.7 L710.3 721.8 L710.9 719.9 L711.5 718 L712.2 716.1 L712.8 714.2 L713.5 712.3 L714.1 710.4 L714.7 708.5 L715.3 706.6 L715.9 704.7 L716.5 702.8 L717.1 700.8 L717.7 698.9 L718.3 697 L718.9 695 L719.5 693.1 L720 691.2 L720.6 689.2 L721.2 687.3 L721.8 685.4 L722.3 683.4 L722.9 681.5 L723.5 679.6 L724.1 677.6 L724.6 675.7 L725.2 673.8 L725.8 671.8 L726.4 669.9 L727 668 L727.6 666.1 L728.2 664.2 L728.8 662.2 L729.4 660.3 L730 658.4 L730.7 656.5 L731.3 654.6 L731.9 652.7 L732.6 650.7 L733.2 648.8 L733.8 646.9 L734.5 645 L735.1 643.1 L735.8 641.2 L736.4 639.3 L737 637.4 L737.7 635.4 L738.3 633.5 L738.9 631.6 L739.6 629.7 L740.2 627.8 L740.8 625.9 L741.4 624 L742.1 622 L742.7 620.1 L743.3 618.2 L743.9 616.3 L744.5 614.4 L745.2 612.5 L745.8 610.5 L746.4 608.6 L747 606.7 L747.6 604.8 L748.3 602.9 L748.9 600.9 L749.5 599 L750.2 597.1 L750.8 595.2 L751.5 593.3 L752.1 591.4 L752.8 589.5 L753.5 587.6 L754.1 585.7 L754.8 583.8 L755.5 581.9 L756.2 580 L756.9 578.1 L757.6 576.2 L758.3 574.3 L759 572.5 L759.7 570.6 L760.5 568.7 L761.2 566.8"/>
<path d="M817.6 562.9 L816.7 564.7 L815.6 566.5 L814.5 568.2 L813.3 569.8 L812 571.3 L810.6 572.8 L809.1 574.3 L807.6 575.6 L805.9 576.8 L804.1 577.9 L802.3 578.8 L800.4 579.5 L798.4 580 L796.4 580.5 L794.3 580.8 L792.2 580.9 L790.2 581 L788.1 581.2 L786.1 581.5 L784.1 582 L782.1 582.7 L780.2 583.4 L778.3 584.3 L776.5 585.2 L774.7 586.2 L772.9 587.2 L771.2 588.3 L769.5 589.4 L767.8 590.6 L766.1 591.7 L764.4 592.9 L762.8 594.2 L761.2 595.5 L759.7 596.8 L758.2 598.2 L756.9 599.7 L755.5 601.3 L754.3 602.9 L753.1 604.6 L752 606.3 L751 608 L749.9 609.7 L748.9 611.5 L747.9 613.2 L747 615 L746.1 616.9 L745.4 618.7 L744.7 620.6 L744 622.5 L743.3 624.4 L742.7 626.4 L742.1 628.3 L741.5 630.2 L741 632.1 L740.4 634.1 L739.8 636 L739.1 637.9 L738.4 639.8 L737.7 641.7 L737 643.6 L736.3 645.5 L735.6 647.4 L734.9 649.2 L734.2 651.1 L733.6 653 L732.9 655 L732.3 656.9 L731.7 658.8 L731.1 660.7 L730.6 662.7 L730 664.6 L729.5 666.5 L728.9 668.5 L728.4 670.4 L727.9 672.4 L727.3 674.3 L726.8 676.3 L726.3 678.2 L725.7 680.1 L725.2 682.1 L724.6 684 L724.1 685.9 L723.5 687.9 L723 689.8 L722.4 691.8 L721.9 693.7 L721.3 695.6 L720.7 697.6 L720.2 699.5 L719.6 701.4 L719 703.4 L718.5 705.3 L717.9 707.2 L717.3 709.2 L716.8 711.1 L716.2 713 L715.7 715 L715.1 716.9 L714.5 718.8 L714 720.8 L713.5 722.7 L712.9 724.6 L712.4 726.6 L711.8 728.5 L711.3 730.5 L710.7 732.4 L710.2 734.4 L709.6 736.3 L709 738.3 L708.5 740.2 L707.9 742 L707.3 743.9 L706.3 745.9 L704.6 746 L703 744.8 L701.9 743.2 L701 741.5 L700.3 739.7 L699.8 737.7 L699.3 735.7 L698.8 733.6 L698.3 731.6 L697.8 729.6 L697.2 727.6 L696.6 725.7 L696.1 723.7 L695.5 721.8 L694.8 719.9 L694.2 718 L693.6 716.1 L693 714.2 L692.3 712.3 L691.7 710.4 L691.1 708.5 L690.5 706.6 L689.9 704.7 L689.3 702.8 L688.8 700.8 L688.2 698.9 L687.6 697 L687.1 695 L686.5 693.1 L685.9 691.2 L685.4 689.2 L684.8 687.3 L684.3 685.4 L683.7 683.4 L683.1 681.5 L682.6 679.6 L682 677.6 L681.4 675.7 L680.9 673.8 L680.3 671.8 L679.7 669.9 L679.1 668 L678.6 666.1 L678 664.2 L677.4 662.2 L676.8 660.3 L676.2 658.4 L675.6 656.5 L675 654.6 L674.3 652.7 L673.7 650.7 L673.1 648.8 L672.5 646.9 L671.8 645 L671.2 643.1 L670.6 641.2 L670 639.3 L669.3 637.4 L668.7 635.4 L668.1 633.5 L667.5 631.6 L666.9 629.7 L666.3 627.8 L665.7 625.9 L665.1 624 L664.5 622 L663.8 620.1 L663.2 618.2 L662.6 616.3 L662 614.4 L661.4 612.5 L660.8 610.5 L660.2 608.6 L659.6 606.7 L659 604.8 L658.4 602.9 L657.8 600.9 L657.2 599 L656.6 597.1 L655.9 595.2 L655.3 593.3 L654.6 591.4 L654 589.5 L653.3 587.6 L652.7 585.7 L652 583.8 L651.3 581.9 L650.7 580 L650 578.1 L649.3 576.2 L648.6 574.3 L647.9 572.5 L647.2 570.6 L646.5 568.7 L645.8 566.8"/>
<path d="M565.8 926.3 L567.1 924.7 L568.5 923.2 L569.9 921.8 L571.4 920.5 L573 919.2 L574.5 917.9 L576.1 916.6 L577.7 915.3 L579.3 914 L580.8 912.8 L582.4 911.5 L583.9 910.2 L585.5 908.9 L587 907.6 L588.5 906.2 L590.1 904.9 L591.6 903.6 L593.1 902.3 L594.7 901 L596.3 899.7 L597.8 898.4 L599.4 897.2 L601 895.9 L602.6 894.7 L604.2 893.4 L605.8 892.2 L607.4 890.9 L609.1 889.8 L610.8 888.7 L612.5 887.7 L614.4 886.9 L616.3 886.1 L618.2 885.4 L620.1 884.7 L621.9 883.9 L623.7 883 L625.5 882 L627.2 880.9 L628.9 879.8 L630.6 878.7 L632.4 877.8 L634.2 876.9 L636 876 L637.9 875.2 L639.7 874.4 L641.6 873.6 L643.5 872.8 L645.4 872.1 L647.2 871.3 L649.1 870.4 L650.8 869.5 L652.6 868.4 L654.2 867.2 L655.8 866 L657.3 864.6 L658.7 863.2 L660 861.7 L661.3 860 L662.4 858.3 L663.5 856.6 L664.5 854.9 L665.5 853.1 L666.4 851.3 L667.2 849.5 L668.1 847.6 L668.9 845.8 L669.8 844 L670.7 842.1 L671.5 840.3 L672.4 838.5 L673.3 836.6 L674.2 834.8 L675.1 833.1 L676.1 831.3 L677.1 829.5 L678.2 827.8 L679.3 826.1 L680.5 824.5 L681.8 823 L683.2 821.5 L684.7 820.1 L686.2 818.8 L687.7 817.4 L688.9 815.8 L689.9 814.1 L690.7 812.2 L691.5 810.3 L692.3 808.4 L693 806.5 L693.7 804.7 L694.5 802.8 L695.2 800.9 L696.1 799 L696.9 797 L697.9 795.2 L699.1 793.7 L700.7 792.7 L702.8 792.2 L704.9 792.7 L706.5 793.7 L707.8 795.2 L708.8 797 L709.7 799 L710.5 800.9 L711.3 802.8 L712 804.7 L712.8 806.5 L713.5 808.4 L714.3 810.3 L715.1 812.2 L716 814.1 L717 815.8 L718.2 817.4 L719.7 818.8 L721.3 820.1 L722.8 821.5 L724.2 823 L725.6 824.5 L726.8 826.1 L728 827.8 L729.1 829.5 L730.1 831.3 L731.1 833.1 L732.1 834.8 L733 836.6 L733.9 838.5 L734.8 840.3 L735.7 842.1 L736.6 844 L737.5 845.8 L738.3 847.6 L739.2 849.5 L740.1 851.3 L741 853.1 L742 854.9 L743 856.6 L744.1 858.3 L745.3 860 L746.6 861.7 L747.9 863.2 L749.4 864.6 L750.9 866 L752.5 867.2 L754.3 868.4 L756 869.5 L757.8 870.4 L759.7 871.3 L761.6 872.1 L763.6 872.8 L765.5 873.6 L767.4 874.4 L769.3 875.2 L771.2 876 L773.1 876.9 L775 877.8 L776.8 878.7 L778.5 879.8 L780.3 880.9 L782.1 882 L783.8 883 L785.7 883.9 L787.6 884.7 L789.5 885.4 L791.5 886.1 L793.4 886.9 L795.3 887.7 L797.1 888.7 L798.8 889.8 L800.5 890.9 L802.2 892.2 L803.8 893.4 L805.5 894.7 L807.1 895.9 L808.8 897.2 L810.4 898.4 L812 899.7 L813.6 901 L815.2 902.3 L816.8 903.6 L818.3 904.9 L819.9 906.2 L821.5 907.6 L823 908.9 L824.6 910.2 L826.2 911.5 L827.8 912.8 L829.4 914 L831 915.3 L832.7 916.6 L834.3 917.9 L835.9 919.2 L837.5 920.5 L839 921.8 L840.5 923.2 L841.9 924.7 L843.2 926.3"/>
<path d="M577.7 926.3 L578.8 924.5 L579.8 922.8 L580.8 921 L581.8 919.3 L582.8 917.5 L583.8 915.7 L584.9 913.9 L586 912.2 L587.1 910.6 L588.4 909 L589.7 907.4 L591.2 906 L592.7 904.6 L594.4 903.4 L596.1 902.5 L598 901.7 L599.9 901.1 L601.9 900.5 L603.9 900.1 L605.9 899.8 L607.9 899.5 L610 899.2 L612 899 L614 898.8 L616 898.7 L618.1 898.5 L620.1 898.3 L622.1 898 L624.1 897.7 L626.1 897.2 L628.1 896.7 L630 896.2 L632 895.6 L633.9 895 L635.9 894.4 L637.8 893.8 L639.7 893 L641.6 892.3 L643.5 891.4 L645.2 890.4 L646.9 889.3 L648.4 888 L649.9 886.6 L651.2 885 L652.5 883.4 L653.7 881.7 L654.8 880 L655.8 878.2 L656.7 876.4 L657.6 874.6 L658.5 872.7 L659.3 870.9 L660.1 869 L660.8 867.1 L661.5 865.2 L662.2 863.3 L662.8 861.4 L663.5 859.4 L664.1 857.5 L664.8 855.6 L665.4 853.7 L666.1 851.7 L666.8 849.8 L667.5 847.9 L668.2 846 L668.9 844.1 L669.7 842.2 L670.5 840.4 L671.4 838.6 L672.3 836.7 L673.2 834.9 L674.2 833.2 L675.3 831.4 L676.4 829.7 L677.5 828 L678.8 826.4 L680.2 824.9 L681.6 823.5 L683.3 822.3 L684.9 821 L686.3 819.7 L687.6 818.1 L688.9 816.5 L690.2 814.9 L691.6 813.3 L693.1 811.9 L694.8 810.8 L696.6 810.1 L698.5 809.8 L700.6 809.7 L702.8 809.9 L705 809.7 L707.1 809.8 L709.1 810.1 L711 810.8 L712.7 811.9 L714.2 813.3 L715.7 814.9 L717 816.5 L718.3 818.1 L719.6 819.7 L721.1 821 L722.8 822.3 L724.4 823.5 L726 824.9 L727.3 826.4 L728.6 828 L729.8 829.7 L731 831.4 L732 833.2 L733.1 834.9 L734 836.7 L735 838.6 L735.9 840.4 L736.7 842.2 L737.5 844.1 L738.3 846 L739 847.9 L739.7 849.8 L740.4 851.7 L741 853.7 L741.7 855.6 L742.4 857.5 L743 859.4 L743.7 861.4 L744.4 863.3 L745.1 865.2 L745.8 867.1 L746.6 869 L747.4 870.9 L748.2 872.7 L749 874.6 L750 876.4 L750.9 878.2 L752 880 L753.1 881.7 L754.3 883.4 L755.6 885 L757 886.6 L758.5 888 L760.1 889.3 L761.8 890.4 L763.6 891.4 L765.5 892.3 L767.4 893 L769.4 893.8 L771.4 894.4 L773.4 895 L775.4 895.6 L777.4 896.2 L779.4 896.7 L781.4 897.2 L783.4 897.7 L785.5 898 L787.6 898.3 L789.6 898.5 L791.7 898.7 L793.8 898.8 L795.9 899 L797.9 899.2 L800 899.5 L802.1 899.8 L804.1 900.1 L806.2 900.5 L808.2 901.1 L810.2 901.7 L812.1 902.5 L813.9 903.4 L815.6 904.6 L817.2 906 L818.7 907.4 L820.1 909 L821.4 910.6 L822.6 912.2 L823.7 913.9 L824.7 915.7 L825.8 917.5 L826.8 919.3 L827.8 921 L828.9 922.8 L829.9 924.5 L831 926.3"/>
<path d="M584.3 926.6 L585.1 924.8 L585.9 922.9 L586.8 921.1 L587.7 919.3 L588.7 917.5 L589.7 915.7 L590.7 913.9 L591.8 912.2 L592.9 910.5 L594.1 908.8 L595.3 907.2 L596.6 905.6 L598 904 L599.6 902.9 L601.6 902.2 L603.6 902 L605.6 902.5 L607.3 903.7 L608.8 905.2 L609.9 906.8 L610.8 908.7 L611.6 910.6 L612.5 912.4 L613.6 914.2 L614.7 916 L615.9 917.6 L617.4 918.9 L619.2 920.1 L621.1 921 L623.1 921.2 L625.1 920.7 L627 919.8 L628.5 918.5 L629.8 917 L631.1 915.3 L632.4 913.7 L633.8 912.2 L635.3 910.8 L636.8 909.4 L638.3 908 L639.7 906.6 L641.2 905.1 L642.7 903.8 L644.2 902.5 L645.9 901.3 L647.5 900.1 L649.2 898.9 L650.8 897.6 L652.4 896.4 L654 895 L655.5 893.7 L657 892.3 L658.4 890.9 L659.8 889.4 L661.2 887.8 L662.5 886.3 L663.7 884.6 L664.8 882.9 L665.8 881.1 L666.7 879.3 L667.6 877.4 L668.4 875.6 L669.1 873.7 L669.8 871.8 L670.5 869.8 L671.1 867.9 L671.7 865.9 L672.3 864 L673 862.1 L673.7 860.2 L674.5 858.3 L675.2 856.4 L676 854.5 L676.8 852.6 L677.6 850.7 L678.5 848.8 L679.4 847 L680.5 845.3 L681.8 843.8 L683.3 842.4 L684.8 841 L686.3 839.6 L687.7 838.1 L688.9 836.5 L690 834.8 L691.1 833.1 L692.3 831.4 L693.7 829.8 L695.2 828.3 L696.8 827.1 L698.6 826.4 L700.6 826.1 L702.8 826.1 L705 826.1 L707 826.4 L708.9 827.1 L710.5 828.3 L712.1 829.8 L713.5 831.4 L714.7 833.1 L715.8 834.8 L716.9 836.5 L718.2 838.1 L719.6 839.6 L721.2 841 L722.7 842.4 L724.3 843.8 L725.6 845.3 L726.7 847 L727.7 848.8 L728.6 850.7 L729.4 852.6 L730.2 854.5 L731 856.4 L731.8 858.3 L732.5 860.2 L733.3 862.1 L734 864 L734.6 865.9 L735.2 867.9 L735.9 869.8 L736.5 871.8 L737.3 873.7 L738 875.6 L738.9 877.4 L739.8 879.3 L740.7 881.1 L741.7 882.9 L742.9 884.6 L744.1 886.3 L745.4 887.8 L746.8 889.4 L748.2 890.9 L749.7 892.3 L751.2 893.7 L752.8 895 L754.4 896.4 L756 897.6 L757.7 898.9 L759.4 900.1 L761.1 901.3 L762.8 902.5 L764.4 903.8 L765.9 905.1 L767.4 906.6 L768.9 908 L770.4 909.4 L772 910.8 L773.5 912.2 L774.9 913.7 L776.3 915.3 L777.6 917 L778.9 918.5 L780.5 919.8 L782.4 920.7 L784.5 921.2 L786.5 921 L788.4 920.1 L790.3 918.9 L791.8 917.6 L793.1 916 L794.3 914.2 L795.3 912.4 L796.2 910.6 L797.1 908.7 L798 906.8 L799.2 905.2 L800.6 903.7 L802.4 902.5 L804.4 902 L806.5 902.2 L808.5 902.9 L810.2 904 L811.6 905.6 L812.9 907.2 L814.2 908.8 L815.4 910.5 L816.5 912.2 L817.7 913.9 L818.7 915.7 L819.8 917.5 L820.7 919.3 L821.7 921.1 L822.6 922.9 L823.4 924.8 L824.3 926.6"/>
<path d="M633.3 926.3 L634.4 924.6 L635.5 922.8 L636.5 921.1 L637.6 919.3 L638.6 917.5 L639.8 915.8 L641 914.2 L642.2 912.5 L643.5 910.9 L644.8 909.4 L646.2 907.8 L647.6 906.4 L649.2 905 L650.8 903.8 L652.5 902.7 L654.4 901.7 L656.2 900.8 L658 899.7 L659.6 898.6 L661.3 897.3 L662.9 896.1 L664.5 894.9 L666.2 893.7 L667.9 892.5 L669.5 891.3 L671.1 889.9 L672.6 888.5 L674 886.9 L675.1 885.3 L676.1 883.5 L676.9 881.6 L677.6 879.7 L678.3 877.7 L679 875.8 L679.7 873.8 L680.4 871.9 L681.1 870 L681.8 868 L682.4 866.1 L683.1 864.2 L683.7 862.2 L684.3 860.2 L685 858.3 L685.7 856.4 L686.7 854.5 L687.8 852.7 L689.1 851.1 L690.6 850 L692.5 849.2 L694.6 848.7 L696.7 848.4 L698.7 848.2 L700.8 848 L702.8 847.9 L704.8 848 L706.9 848.2 L709 848.4 L711.2 848.7 L713.3 849.2 L715.2 850 L716.8 851.1 L718.2 852.7 L719.3 854.5 L720.2 856.4 L721 858.3 L721.7 860.2 L722.4 862.2 L723 864.2 L723.6 866.1 L724.3 868 L725 870 L725.7 871.9 L726.4 873.8 L727.1 875.8 L727.8 877.7 L728.5 879.7 L729.3 881.6 L730.1 883.5 L731.1 885.3 L732.3 886.9 L733.7 888.5 L735.2 889.9 L736.8 891.3 L738.5 892.5 L740.2 893.7 L742 894.9 L743.7 896.1 L745.3 897.3 L747 898.6 L748.7 899.7 L750.5 900.8 L752.4 901.7 L754.3 902.7 L756.1 903.8 L757.7 905 L759.3 906.4 L760.8 907.8 L762.2 909.4 L763.6 910.9 L764.9 912.5 L766.2 914.2 L767.4 915.8 L768.5 917.5 L769.6 919.3 L770.7 921.1 L771.8 922.8 L772.9 924.6 L774 926.3"/>
<path d="M642.8 926.2 L643.5 924.3 L644.3 922.4 L645.1 920.5 L645.8 918.6 L646.6 916.7 L647.5 914.8 L648.4 913 L649.5 911.2 L650.8 909.5 L652.2 907.9 L653.7 906.6 L655.4 905.7 L657.3 904.9 L659.3 904.3 L661.3 903.6 L663.1 902.6 L664.9 901.5 L666.5 900.2 L668 898.8 L669.3 897.3 L670.6 895.6 L671.8 893.9 L672.8 892.1 L673.7 890.3 L674.5 888.4 L675.2 886.5 L675.9 884.6 L676.6 882.6 L677.3 880.7 L677.9 878.7 L678.6 876.8 L679.2 874.8 L679.9 872.9 L680.5 870.9 L681.1 868.9 L681.7 866.9 L682.4 865 L683.3 863.2 L684.7 861.5 L686.4 860.6 L688.4 860.8 L690.5 861.1 L692.6 861.3 L694.6 861.3 L696.7 861.2 L698.7 861 L700.7 860.6 L702.8 860.3 L704.9 860.6 L707 861 L709 861.2 L711.1 861.3 L713.2 861.3 L715.3 861.1 L717.5 860.8 L719.6 860.6 L721.3 861.5 L722.7 863.2 L723.7 865 L724.4 866.9 L725 868.9 L725.6 870.9 L726.3 872.9 L726.9 874.8 L727.6 876.8 L728.2 878.7 L728.9 880.7 L729.6 882.6 L730.3 884.6 L731 886.5 L731.8 888.4 L732.6 890.3 L733.5 892.1 L734.6 893.9 L735.8 895.6 L737.1 897.3 L738.5 898.8 L740 900.2 L741.6 901.5 L743.4 902.6 L745.3 903.6 L747.3 904.3 L749.4 904.9 L751.3 905.7 L753.1 906.6 L754.7 907.9 L756.1 909.5 L757.4 911.2 L758.5 913 L759.5 914.8 L760.3 916.7 L761.2 918.6 L761.9 920.5 L762.7 922.4 L763.5 924.3 L764.3 926.2"/>
<path d="M661.6 924.9 L662.5 923 L663.4 921.1 L664.4 919.3 L665.5 917.6 L666.6 915.9 L667.6 914.1 L668.6 912.2 L669.4 910.4 L670.3 908.5 L671.1 906.6 L671.8 904.7 L672.6 902.7 L673.3 900.8 L674 898.9 L674.7 896.9 L675.3 895 L676 893 L676.6 891 L677.2 889 L677.8 887.1 L678.4 885.1 L679 883.2 L679.5 881.3 L680 879.3 L680.5 877.4 L681 875.4 L681.5 873.4 L682 871.3 L682.5 869.1 L683 866.7 L683.7 864.5 L684.8 863.1 L686.6 863 L688.6 863.7 L689.9 865.3 L690.9 867.2 L691.9 869 L692.8 870.9 L693.7 872.7 L694.6 874.6 L695.4 876.5 L696.3 878.4 L697.1 880.3 L697.9 882.2 L698.9 884 L700 885.7 L701.3 887.3 L702.8 888.7 L704.3 887.3 L705.7 885.7 L706.8 884 L707.7 882.2 L708.6 880.3 L709.4 878.4 L710.3 876.5 L711.2 874.6 L712.1 872.7 L713 870.9 L713.9 869 L714.9 867.2 L716 865.3 L717.3 863.7 L719.3 863 L721.2 863.1 L722.3 864.5 L723 866.7 L723.6 869.1 L724.1 871.3 L724.6 873.4 L725.1 875.4 L725.6 877.4 L726.1 879.3 L726.6 881.3 L727.2 883.2 L727.7 885.1 L728.3 887.1 L729 889 L729.6 891 L730.2 893 L730.9 895 L731.6 896.9 L732.3 898.9 L733 900.8 L733.7 902.7 L734.5 904.7 L735.3 906.6 L736.1 908.5 L736.9 910.4 L737.8 912.2 L738.8 914.1 L739.8 915.9 L741 917.6 L742.1 919.3 L743.2 921.1 L744.1 923 L744.9 924.9"/>
<path d="M655 925.9 L656.1 924.1 L657.1 922.4 L658.1 920.6 L659.1 918.8 L660.1 917 L661.1 915.2 L662.2 913.4 L663.2 911.7 L664.4 910 L665.5 908.3 L666.7 906.6 L667.9 904.9 L669.1 903.3 L670.3 901.6 L671.4 899.9 L672.5 898.1 L673.5 896.4 L674.5 894.6 L675.5 892.8 L676.5 891 L677.5 889.2 L678.5 887.4 L679.5 885.7 L680.6 883.9 L681.8 882.2 L683.1 880.6 L684.7 879 L686.4 877.7 L688.2 877.2 L690.2 877.7 L691.9 878.7 L693.3 880.2 L694.4 882 L695.5 883.8 L696.4 885.7 L697.3 887.6 L698.4 889.3 L699.6 890.9 L701 892.3 L702.8 893.5 L704.5 892.3 L706.1 890.9 L707.3 889.3 L708.3 887.6 L709.3 885.7 L710.3 883.8 L711.3 882 L712.5 880.2 L713.9 878.7 L715.6 877.7 L717.7 877.2 L719.6 877.7 L721.3 879 L722.9 880.6 L724.3 882.2 L725.5 883.9 L726.6 885.7 L727.7 887.4 L728.7 889.2 L729.7 891 L730.8 892.8 L731.8 894.6 L732.8 896.4 L733.8 898.1 L734.9 899.9 L736.1 901.6 L737.3 903.3 L738.5 904.9 L739.8 906.6 L741 908.3 L742.2 910 L743.3 911.7 L744.4 913.4 L745.5 915.2 L746.5 917 L747.5 918.8 L748.5 920.6 L749.6 922.4 L750.6 924.1 L751.7 925.9"/>
<path d="M661.6 925.9 L662.8 924.1 L663.8 922.2 L664.9 920.4 L665.8 918.5 L666.8 916.6 L667.8 914.7 L668.9 912.9 L670.1 911.1 L671.5 909.5 L673 908.1 L674.9 906.9 L676.9 906.4 L679 906.7 L681.1 907.3 L683.2 907.8 L685.3 907.8 L687.2 907 L689.2 905.9 L690.9 904.7 L692.6 903.3 L694.2 902 L695.9 900.6 L697.5 899.3 L699.2 898.1 L701 896.8 L702.8 895.6 L704.6 896.8 L706.4 898.1 L708.2 899.3 L709.9 900.6 L711.5 902 L713.2 903.3 L714.9 904.7 L716.7 905.9 L718.7 907 L720.7 907.8 L722.8 907.8 L725 907.3 L727.1 906.7 L729.3 906.4 L731.3 906.9 L733.3 908.1 L734.9 909.5 L736.3 911.1 L737.5 912.9 L738.6 914.7 L739.7 916.6 L740.6 918.5 L741.6 920.4 L742.7 922.2 L743.8 924.1 L744.9 925.9"/>
<path d="M696.5 926.3 L695.2 924.4 L693.9 922.4 L692.8 920.6 L691.5 918.7 L690.2 916.9 L688.8 915.2 L686.9 913.8 L684.8 913.1 L682.9 914.1 L681.4 916 L680.2 918 L679.3 920 L678.4 922.1 L677.6 924.1 L676.7 926.3"/>
<path d="M709.2 926.3 L710.5 924.4 L711.8 922.4 L713 920.6 L714.3 918.7 L715.6 916.9 L717.1 915.2 L719 913.8 L721.2 913.1 L723.1 914.1 L724.7 916 L725.9 918 L726.9 920 L727.7 922.1 L728.6 924.1 L729.5 926.3"/>
<path d="M605.4 924.4 L606.6 922.3 L608.3 920.5 L610.3 919.3 L612.6 918.7 L614.9 919.3 L616.9 920.6 L618.5 922.4 L619.8 924.4"/>
<path d="M802.6 924.4 L801.4 922.3 L799.7 920.5 L797.6 919.3 L795.3 918.7 L792.9 919.3 L790.9 920.6 L789.2 922.4 L787.9 924.4"/>
<path d="M558.8 915 L559.9 916.3 L560.9 917.7 L561.9 919 L562.8 920.4 L563.7 921.9 L564.6 923.3 L565.4 924.8"/>
<path d="M850.4 915 L849.3 916.3 L848.3 917.7 L847.3 919 L846.3 920.4 L845.4 921.9 L844.5 923.3 L843.6 924.8"/>
<path d="M674.3 571 L675 573 L676.1 574.8 L677.4 576.4 L678.5 578.2 L679.5 580 L680.4 581.9 L681.3 583.8 L682.2 585.7 L683 587.6 L683.9 589.5 L684.7 591.5 L685.6 593.4 L686.5 595.3 L687.3 597.2 L688.2 599 L689.1 600.9 L690 602.8 L690.9 604.7 L691.9 606.5 L692.9 608.4 L693.9 610.2 L695 612.1 L696.2 613.9 L697.5 615.5 L699 616.8 L700.7 617.9 L702.8 618.6 L704.9 617.9 L706.7 616.8 L708.2 615.5 L709.5 613.9 L710.7 612.1 L711.9 610.2 L712.9 608.4 L713.9 606.5 L714.9 604.7 L715.8 602.8 L716.8 600.9 L717.7 599 L718.6 597.2 L719.5 595.3 L720.4 593.4 L721.3 591.5 L722.1 589.5 L723 587.6 L723.9 585.7 L724.8 583.8 L725.7 581.9 L726.6 580 L727.7 578.2 L728.8 576.4 L730.1 574.8 L731.2 573 L732 571"/>
<path d="M669.2 571 L670.1 573 L670.9 574.9 L671.6 576.9 L672.4 578.9 L673.2 580.8 L674.2 582.7 L675.1 584.6 L676.1 586.4 L677.1 588.3 L678 590.2 L678.9 592.1 L679.8 594 L680.7 596 L681.5 597.9 L682.4 599.8 L683.3 601.8 L684.1 603.7 L685 605.6 L685.9 607.5 L686.8 609.5 L687.6 611.4 L688.5 613.3 L689.4 615.2 L690.3 617.1 L691.2 619 L692.2 620.9 L693.3 622.7 L694.4 624.5 L695.7 626.2 L697.2 627.8 L698.8 629 L700.7 630 L702.8 630.7 L704.9 630 L706.8 629 L708.5 627.8 L710 626.2 L711.3 624.5 L712.5 622.7 L713.6 620.9 L714.6 619 L715.6 617.1 L716.5 615.2 L717.4 613.3 L718.3 611.4 L719.2 609.5 L720.1 607.5 L721 605.6 L721.9 603.7 L722.8 601.8 L723.7 599.8 L724.5 597.9 L725.4 596 L726.3 594 L727.2 592.1 L728.1 590.2 L729.1 588.3 L730.1 586.4 L731.1 584.6 L732.1 582.7 L733.1 580.8 L733.9 578.9 L734.7 576.9 L735.5 574.9 L736.3 573 L737.2 571"/>
<path d="M666.9 571 L667.5 573 L668.1 575 L668.8 577 L669.4 579 L670 581 L670.6 583 L671.3 585 L671.9 586.9 L672.6 588.9 L673.3 590.8 L674.1 592.8 L674.9 594.7 L675.7 596.6 L676.5 598.6 L677.2 600.5 L677.9 602.5 L678.6 604.4 L679.3 606.4 L680 608.4 L680.8 610.3 L681.6 612.2 L682.4 614.1 L683.3 616 L684.1 617.9 L685 619.8 L685.9 621.7 L686.8 623.6 L687.8 625.4 L688.8 627.2 L690 629 L691.2 630.7 L692.5 632.3 L693.9 633.9 L695.4 635.3 L697 636.6 L698.8 637.7 L700.7 638.5 L702.8 639.1 L704.9 638.5 L706.8 637.7 L708.7 636.6 L710.3 635.3 L711.9 633.9 L713.3 632.3 L714.7 630.7 L715.9 629 L717.1 627.2 L718.1 625.4 L719.1 623.6 L720.1 621.7 L721 619.8 L721.9 617.9 L722.8 616 L723.7 614.1 L724.5 612.2 L725.3 610.3 L726.1 608.4 L726.8 606.4 L727.5 604.4 L728.2 602.5 L729 600.5 L729.7 598.6 L730.5 596.6 L731.3 594.7 L732.1 592.8 L732.9 590.8 L733.7 588.9 L734.4 586.9 L735.1 585 L735.7 583 L736.3 581 L737 579 L737.6 577 L738.3 575 L739 573 L739.5 571"/>
<path d="M664.5 571 L665.1 573 L665.7 575 L666.3 577 L666.9 579 L667.5 581 L668.2 583 L668.8 585 L669.5 586.9 L670.1 588.9 L670.8 590.9 L671.5 592.9 L672.1 594.8 L672.8 596.8 L673.4 598.8 L674.1 600.8 L674.7 602.8 L675.4 604.7 L676.1 606.7 L676.7 608.7 L677.4 610.7 L678.1 612.6 L678.8 614.6 L679.5 616.5 L680.3 618.5 L681.1 620.4 L681.9 622.3 L682.7 624.3 L683.5 626.2 L684.4 628.1 L685.2 630 L686.1 631.9 L687.1 633.7 L688.2 635.5 L689.3 637.2 L690.6 638.8 L692 640.4 L693.5 641.9 L695.1 643.2 L696.8 644.4 L698.7 645.3 L700.7 646 L702.8 646.4 L704.9 646 L707 645.3 L708.8 644.4 L710.6 643.2 L712.2 641.9 L713.8 640.4 L715.2 638.8 L716.5 637.2 L717.7 635.5 L718.8 633.7 L719.8 631.9 L720.7 630 L721.6 628.1 L722.5 626.2 L723.4 624.3 L724.2 622.3 L725 620.4 L725.8 618.5 L726.6 616.5 L727.3 614.6 L728.1 612.6 L728.8 610.7 L729.5 608.7 L730.2 606.7 L730.8 604.7 L731.5 602.8 L732.2 600.8 L732.9 598.8 L733.5 596.8 L734.2 594.8 L734.9 592.9 L735.6 590.9 L736.2 588.9 L736.9 586.9 L737.6 585 L738.3 583 L738.9 581 L739.6 579 L740.2 577 L740.8 575 L741.4 573 L742 571"/>
<path d="M655.2 568.5 L655.8 570.5 L656.4 572.4 L657 574.4 L657.7 576.4 L658.4 578.3 L659.2 580.2 L660 582.1 L660.9 584 L661.8 585.8 L662.6 587.7 L663.5 589.6 L664.4 591.5 L665.2 593.3 L666 595.2 L666.9 597.1 L667.7 599 L668.6 600.9 L669.5 602.7 L670.3 604.6 L671.2 606.5 L672 608.4 L672.7 610.3 L673.5 612.2 L674.3 614.1 L675 616.1 L675.7 618 L676.3 620 L677 621.9 L677.6 623.9 L678.3 625.8 L678.9 627.8 L679.6 629.7 L680.3 631.7 L681.1 633.6 L681.9 635.5 L682.7 637.4 L683.6 639.2 L684.6 641 L685.6 642.9 L686.7 644.7 L687.8 646.4 L689.1 647.9 L690.7 649.3 L692.6 650.3 L694.5 650.9 L696.6 651.2 L698.6 651.4 L700.7 651.5 L702.8 651.6 L704.9 651.5 L707 651.4 L709.1 651.2 L711.2 650.9 L713.2 650.3 L715.1 649.3 L716.7 647.9 L718.1 646.4 L719.3 644.7 L720.4 642.9 L721.4 641 L722.4 639.2 L723.3 637.4 L724.2 635.5 L725 633.6 L725.8 631.7 L726.5 629.7 L727.2 627.8 L727.9 625.8 L728.6 623.9 L729.2 621.9 L729.9 620 L730.6 618 L731.3 616.1 L732 614.1 L732.8 612.2 L733.6 610.3 L734.4 608.4 L735.2 606.5 L736.1 604.6 L736.9 602.7 L737.8 600.9 L738.7 599 L739.6 597.1 L740.4 595.2 L741.3 593.3 L742.2 591.5 L743 589.6 L743.9 587.7 L744.8 585.8 L745.7 584 L746.6 582.1 L747.5 580.2 L748.3 578.3 L749 576.4 L749.7 574.4 L750.3 572.4 L751 570.5 L751.6 568.5"/>
<path d="M655 568.5 L655.6 570.5 L656.2 572.4 L656.8 574.4 L657.5 576.3 L658.1 578.3 L658.8 580.2 L659.6 582.1 L660.4 584 L661.2 585.9 L662.1 587.8 L662.9 589.6 L663.7 591.5 L664.5 593.4 L665.2 595.3 L666 597.2 L666.8 599.1 L667.7 601 L668.5 602.9 L669.3 604.8 L670.1 606.6 L670.9 608.5 L671.7 610.4 L672.4 612.4 L673.1 614.3 L673.8 616.2 L674.5 618.2 L675.1 620.1 L675.8 622 L676.4 624 L677.1 625.9 L677.7 627.9 L678.4 629.8 L679.1 631.8 L679.8 633.7 L680.5 635.6 L681.2 637.6 L681.9 639.5 L682.6 641.4 L683.3 643.3 L684.1 645.2 L684.8 647.2 L685.6 649.1 L686.5 650.9 L687.4 652.8 L688.4 654.6 L689.6 656.3 L691.2 657.6 L693.1 658.2 L695.1 657.5 L696.9 656.6 L698.8 655.7 L700.7 655.1 L702.8 654.7 L704.9 655.1 L706.9 655.7 L708.8 656.6 L710.7 657.5 L712.7 658.2 L714.6 657.6 L716.3 656.3 L717.5 654.6 L718.6 652.8 L719.5 650.9 L720.3 649.1 L721.2 647.2 L721.9 645.2 L722.7 643.3 L723.5 641.4 L724.2 639.5 L724.9 637.6 L725.6 635.6 L726.3 633.7 L727.1 631.8 L727.8 629.8 L728.4 627.9 L729.1 625.9 L729.8 624 L730.4 622 L731.1 620.1 L731.8 618.2 L732.5 616.2 L733.2 614.3 L733.9 612.4 L734.7 610.4 L735.5 608.5 L736.3 606.6 L737.1 604.8 L737.9 602.9 L738.8 601 L739.6 599.1 L740.4 597.2 L741.3 595.3 L742.1 593.4 L742.9 591.5 L743.7 589.6 L744.5 587.8 L745.4 585.9 L746.3 584 L747.1 582.1 L747.9 580.2 L748.6 578.3 L749.2 576.3 L749.9 574.4 L750.5 572.4 L751.1 570.5 L751.8 568.5"/>
<path d="M649.2 568.5 L649.9 570.4 L650.5 572.4 L651.2 574.3 L651.9 576.2 L652.5 578.1 L653.2 580.1 L653.9 582 L654.5 583.9 L655.2 585.9 L655.9 587.8 L656.5 589.7 L657.2 591.7 L657.8 593.6 L658.4 595.5 L659.1 597.5 L659.7 599.4 L660.3 601.4 L660.9 603.3 L661.5 605.3 L662.1 607.2 L662.7 609.2 L663.3 611.1 L663.9 613.1 L664.5 615 L665.1 617 L665.7 618.9 L666.3 620.9 L666.8 622.8 L667.4 624.8 L668 626.8 L668.6 628.7 L669.2 630.7 L669.8 632.6 L670.4 634.6 L671 636.5 L671.6 638.5 L672.2 640.4 L672.8 642.4 L673.4 644.3 L674 646.3 L674.6 648.2 L675.2 650.2 L675.8 652.1 L676.5 654.1 L677.1 656 L677.7 657.9 L678.3 659.9 L678.9 661.8 L679.5 663.8 L680.1 665.7 L680.7 667.7 L681.3 669.6 L681.9 671.6 L682.5 673.6 L683.1 675.5 L683.7 677.5 L684.3 679.4 L684.8 681.4 L685.4 683.3 L686 685.3 L686.6 687.2 L687.2 689.2 L687.8 691.1 L688.4 693.1 L689 695 L689.7 697 L690.3 698.9 L690.9 700.9 L691.5 702.8 L692.1 704.8 L692.7 706.7 L693.2 708.7 L693.7 710.7 L694.2 712.6 L694.6 714.7 L695 716.7 L695.4 718.7 L695.9 720.7 L696.4 722.6 L696.9 724.6 L697.6 726.5 L698.4 728.4 L699.4 730.3 L700.8 731.7 L702.8 732.3 L704.8 731.7 L706.2 730.3 L707.3 728.4 L708.1 726.5 L708.8 724.6 L709.3 722.6 L709.9 720.7 L710.3 718.7 L710.7 716.7 L711.2 714.7 L711.6 712.6 L712 710.7 L712.5 708.7 L713.1 706.7 L713.7 704.8 L714.3 702.8 L714.9 700.9 L715.6 698.9 L716.2 697 L716.8 695 L717.5 693.1 L718.1 691.1 L718.7 689.2 L719.3 687.2 L719.9 685.3 L720.5 683.3 L721.1 681.4 L721.8 679.4 L722.4 677.5 L723 675.5 L723.6 673.6 L724.2 671.6 L724.8 669.6 L725.4 667.7 L726 665.7 L726.6 663.8 L727.2 661.8 L727.9 659.9 L728.5 657.9 L729.1 656 L729.7 654.1 L730.4 652.1 L731 650.2 L731.6 648.2 L732.3 646.3 L732.9 644.3 L733.5 642.4 L734.1 640.4 L734.7 638.5 L735.3 636.5 L736 634.6 L736.6 632.6 L737.2 630.7 L737.8 628.7 L738.4 626.8 L739 624.8 L739.6 622.8 L740.2 620.9 L740.8 618.9 L741.4 617 L742 615 L742.6 613.1 L743.2 611.1 L743.9 609.2 L744.5 607.2 L745.1 605.3 L745.7 603.3 L746.3 601.4 L746.9 599.4 L747.6 597.5 L748.2 595.5 L748.9 593.6 L749.5 591.7 L750.2 589.7 L750.9 587.8 L751.6 585.9 L752.2 583.9 L752.9 582 L753.6 580.1 L754.3 578.1 L755 576.2 L755.6 574.3 L756.3 572.4 L757 570.4 L757.7 568.5"/>
<path d="M649.2 568.5 L649.9 570.4 L650.5 572.3 L651.2 574.3 L651.9 576.2 L652.5 578.1 L653.2 580 L653.8 581.9 L654.5 583.9 L655.2 585.8 L655.8 587.7 L656.5 589.6 L657.1 591.6 L657.8 593.5 L658.4 595.4 L659 597.3 L659.7 599.3 L660.3 601.2 L660.9 603.1 L661.5 605.1 L662.1 607 L662.8 609 L663.4 610.9 L664 612.8 L664.6 614.8 L665.2 616.7 L665.8 618.7 L666.4 620.6 L667 622.5 L667.6 624.5 L668.2 626.4 L668.9 628.3 L669.5 630.3 L670.1 632.2 L670.7 634.1 L671.4 636.1 L672 638 L672.6 639.9 L673.2 641.9 L673.8 643.8 L674.4 645.7 L675 647.7 L675.6 649.6 L676.2 651.6 L676.8 653.5 L677.3 655.5 L677.9 657.4 L678.5 659.4 L679.1 661.3 L679.6 663.3 L680.2 665.2 L680.8 667.2 L681.4 669.1 L682 671.1 L682.6 673 L683.2 674.9 L683.8 676.9 L684.4 678.8 L685.1 680.7 L685.7 682.7 L686.3 684.6 L686.9 686.5 L687.5 688.5 L688.2 690.4 L688.8 692.3 L689.4 694.3 L690 696.2 L690.6 698.2 L691.2 700.1 L691.7 702.1 L692.3 704 L692.8 706 L693.3 707.9 L693.8 709.9 L694.3 711.9 L694.8 713.9 L695.2 715.9 L695.7 717.8 L696.3 719.8 L696.9 721.7 L697.6 723.6 L698.4 725.5 L699.4 727.4 L700.8 728.7 L702.8 729.4 L704.8 728.7 L706.2 727.4 L707.3 725.5 L708.1 723.6 L708.8 721.7 L709.4 719.8 L710 717.8 L710.5 715.9 L711 713.9 L711.4 711.9 L711.9 709.9 L712.4 707.9 L713 706 L713.5 704 L714.1 702.1 L714.7 700.1 L715.3 698.2 L715.9 696.2 L716.5 694.3 L717.1 692.3 L717.7 690.4 L718.4 688.5 L719 686.5 L719.7 684.6 L720.3 682.7 L720.9 680.7 L721.6 678.8 L722.2 676.9 L722.8 674.9 L723.4 673 L724.1 671.1 L724.7 669.1 L725.3 667.2 L725.9 665.2 L726.5 663.3 L727.1 661.3 L727.7 659.4 L728.3 657.4 L728.8 655.5 L729.4 653.5 L730 651.6 L730.6 649.6 L731.2 647.7 L731.8 645.7 L732.4 643.8 L733.1 641.9 L733.7 639.9 L734.3 638 L735 636.1 L735.6 634.1 L736.3 632.2 L736.9 630.3 L737.5 628.3 L738.2 626.4 L738.8 624.5 L739.4 622.5 L740.1 620.6 L740.7 618.7 L741.3 616.7 L741.9 614.8 L742.6 612.8 L743.2 610.9 L743.8 609 L744.4 607 L745.1 605.1 L745.7 603.1 L746.3 601.2 L747 599.3 L747.6 597.3 L748.2 595.4 L748.9 593.5 L749.6 591.6 L750.2 589.6 L750.9 587.7 L751.6 585.8 L752.3 583.9 L752.9 581.9 L753.6 580 L754.3 578.1 L755 576.2 L755.7 574.3 L756.3 572.3 L757 570.4 L757.7 568.5"/>
<path d="M651.9 568.5 L652.6 570.4 L653.2 572.4 L653.9 574.3 L654.6 576.2 L655.2 578.2 L655.9 580.1 L656.6 582 L657.2 583.9 L657.9 585.9 L658.6 587.8 L659.2 589.7 L659.9 591.7 L660.5 593.6 L661.2 595.6 L661.8 597.5 L662.4 599.4 L663 601.4 L663.7 603.3 L664.3 605.3 L664.9 607.2 L665.5 609.2 L666.1 611.1 L666.8 613.1 L667.4 615 L668 617 L668.6 618.9 L669.2 620.9 L669.8 622.8 L670.4 624.8 L671 626.7 L671.6 628.7 L672.2 630.6 L672.8 632.6 L673.4 634.5 L674 636.5 L674.6 638.4 L675.2 640.4 L675.7 642.4 L676.3 644.3 L676.9 646.3 L677.5 648.2 L678.2 650.2 L678.8 652.1 L679.4 654.1 L680 656 L680.7 657.9 L681.3 659.9 L682 661.8 L682.6 663.7 L683.3 665.7 L683.9 667.6 L684.5 669.6 L685.1 671.5 L685.6 673.5 L686.2 675.5 L686.8 677.4 L687.3 679.4 L687.9 681.3 L688.5 683.3 L689.1 685.3 L689.7 687.2 L690.3 689.2 L690.9 691.1 L691.5 693.1 L692.1 695 L692.6 697 L693.2 699 L693.6 700.9 L694 702.9 L694.4 705 L694.8 707 L695.1 709 L695.5 711 L695.9 713 L696.4 715 L697 717 L697.6 718.9 L698.4 720.8 L699.4 722.7 L700.8 724 L702.8 724.7 L704.8 724 L706.2 722.7 L707.3 720.8 L708.1 718.9 L708.7 717 L709.3 715 L709.8 713 L710.2 711 L710.6 709 L711 707 L711.3 705 L711.7 702.9 L712.1 700.9 L712.6 699 L713.2 697 L713.7 695 L714.3 693.1 L714.9 691.1 L715.5 689.2 L716.2 687.2 L716.8 685.3 L717.4 683.3 L718 681.3 L718.6 679.4 L719.2 677.4 L719.8 675.5 L720.3 673.5 L720.9 671.5 L721.5 669.6 L722.1 667.6 L722.8 665.7 L723.4 663.7 L724.1 661.8 L724.8 659.9 L725.4 657.9 L726.1 656 L726.7 654.1 L727.4 652.1 L728 650.2 L728.6 648.2 L729.3 646.3 L729.9 644.3 L730.5 642.4 L731.1 640.4 L731.7 638.4 L732.3 636.5 L732.9 634.5 L733.5 632.6 L734.1 630.6 L734.7 628.7 L735.3 626.7 L735.9 624.8 L736.6 622.8 L737.2 620.9 L737.8 618.9 L738.4 617 L739.1 615 L739.7 613.1 L740.3 611.1 L741 609.2 L741.6 607.2 L742.2 605.3 L742.9 603.3 L743.5 601.4 L744.1 599.4 L744.8 597.5 L745.4 595.6 L746.1 593.6 L746.8 591.7 L747.4 589.7 L748.1 587.8 L748.8 585.9 L749.5 583.9 L750.2 582 L750.8 580.1 L751.5 578.2 L752.2 576.2 L752.9 574.3 L753.6 572.4 L754.3 570.4 L755 568.5"/>
<path d="M655.2 568.5 L655.8 570.5 L656.4 572.4 L657 574.4 L657.7 576.3 L658.3 578.3 L658.9 580.3 L659.5 582.2 L660.2 584.2 L660.8 586.1 L661.5 588.1 L662.1 590 L662.8 592 L663.4 593.9 L664.1 595.9 L664.7 597.8 L665.3 599.8 L666 601.7 L666.6 603.7 L667.2 605.7 L667.8 607.6 L668.4 609.6 L669.1 611.6 L669.7 613.5 L670.3 615.5 L670.8 617.5 L671.4 619.4 L672 621.4 L672.6 623.4 L673.2 625.3 L673.8 627.3 L674.3 629.3 L674.9 631.3 L675.5 633.2 L676 635.2 L676.6 637.2 L677.2 639.2 L677.7 641.1 L678.3 643.1 L678.9 645.1 L679.5 647 L680.1 649 L680.7 651 L681.4 652.9 L682 654.9 L682.7 656.8 L683.3 658.8 L684 660.7 L684.6 662.7 L685.3 664.6 L685.9 666.6 L686.5 668.6 L687.1 670.5 L687.7 672.5 L688.3 674.4 L688.9 676.4 L689.6 678.4 L690.3 680.3 L691.2 682.2 L692.3 683.9 L693.6 685.6 L695.1 687 L696.8 688.1 L698.7 688.9 L700.7 689.3 L702.8 689.5 L704.9 689.3 L707 688.9 L708.9 688.1 L710.7 687 L712.2 685.6 L713.5 683.9 L714.7 682.2 L715.5 680.3 L716.3 678.4 L716.9 676.4 L717.6 674.4 L718.2 672.5 L718.8 670.5 L719.4 668.6 L720.1 666.6 L720.7 664.6 L721.4 662.7 L722 660.7 L722.7 658.8 L723.4 656.8 L724.1 654.9 L724.7 652.9 L725.3 651 L726 649 L726.6 647 L727.2 645.1 L727.8 643.1 L728.4 641.1 L729 639.2 L729.6 637.2 L730.2 635.2 L730.8 633.2 L731.3 631.3 L731.9 629.3 L732.5 627.3 L733.1 625.3 L733.7 623.4 L734.3 621.4 L734.9 619.4 L735.5 617.5 L736.1 615.5 L736.7 613.5 L737.3 611.6 L738 609.6 L738.6 607.6 L739.2 605.7 L739.9 603.7 L740.5 601.7 L741.2 599.8 L741.8 597.8 L742.5 595.9 L743.1 593.9 L743.8 592 L744.4 590 L745.1 588.1 L745.8 586.1 L746.5 584.2 L747.1 582.2 L747.8 580.3 L748.4 578.3 L749 576.3 L749.7 574.4 L750.3 572.4 L750.9 570.5 L751.6 568.5"/>
<path d="M690.2 569.5 L690.9 571.7 L691.6 574 L692.4 576.2 L693.2 578.4 L694.1 580.5 L695 582.6 L696.1 584.7 L697.3 586.8 L698.7 588.7 L700.4 590.1 L702.8 590.7 L705.1 590.1 L707 588.7 L708.4 586.8 L709.6 584.7 L710.7 582.6 L711.7 580.5 L712.6 578.4 L713.4 576.2 L714.2 574 L715 571.7 L715.7 569.5"/>
<path d="M687.2 569.5 L687.9 571.6 L688.7 573.7 L689.5 575.8 L690.2 577.8 L691 579.9 L691.9 581.9 L692.8 584 L693.8 586 L694.8 587.9 L696 589.8 L697.3 591.7 L698.7 593.4 L700.5 594.5 L702.8 595.1 L705 594.5 L706.9 593.4 L708.4 591.7 L709.7 589.8 L710.9 587.9 L712 586 L713 584 L713.9 581.9 L714.8 579.9 L715.6 577.8 L716.4 575.8 L717.2 573.7 L718 571.6 L718.8 569.5"/>
<path d="M677.3 570.1 L678.7 571.8 L680.1 573.4 L681.5 575.1 L682.9 576.8 L684.3 578.4 L685.7 580.1 L687.1 581.8 L688.5 583.4 L690 585.1 L691.4 586.7 L692.8 588.4 L694.2 590 L695.6 591.7 L697 593.4 L698.3 595.2 L699.6 597 L701 598.6 L702.8 599.9 L704.6 598.6 L706 597 L707.4 595.2 L708.7 593.4 L710.1 591.7 L711.5 590 L712.9 588.4 L714.4 586.7 L715.9 585.1 L717.4 583.4 L718.8 581.8 L720.3 580.1 L721.7 578.4 L723.1 576.8 L724.6 575.1 L726 573.4 L727.5 571.8 L728.9 570.1"/>
<path d="M681.2 570.1 L682.3 571.9 L683.5 573.7 L684.6 575.5 L685.7 577.3 L686.9 579.1 L688.1 580.9 L689.2 582.7 L690.4 584.5 L691.6 586.3 L692.8 588.1 L694 589.8 L695.2 591.6 L696.4 593.4 L697.6 595.1 L698.7 597 L699.8 598.8 L701.1 600.5 L702.8 601.9 L704.5 600.5 L705.8 598.8 L706.9 597 L708.1 595.1 L709.3 593.4 L710.5 591.6 L711.8 589.8 L713 588.1 L714.2 586.3 L715.5 584.5 L716.7 582.7 L717.9 580.9 L719 579.1 L720.2 577.3 L721.4 575.5 L722.6 573.7 L723.7 571.9 L724.9 570.1"/>
<path d="M675.2 569.5 L676.1 571.4 L677.1 573.4 L678.1 575.3 L679.1 577.2 L680.1 579.1 L681.1 580.9 L682.2 582.8 L683.3 584.6 L684.5 586.5 L685.6 588.3 L686.8 590.1 L687.9 591.9 L689.2 593.7 L690.5 595.4 L691.9 597.1 L693.3 598.6 L694.9 600.1 L696.7 601.4 L698.6 602.4 L700.6 603 L702.8 603.3 L705 603 L707.1 602.4 L709 601.4 L710.8 600.1 L712.5 598.6 L714 597.1 L715.4 595.4 L716.7 593.7 L718 591.9 L719.2 590.1 L720.4 588.3 L721.5 586.5 L722.7 584.6 L723.8 582.8 L724.9 580.9 L726 579.1 L727.1 577.2 L728.1 575.3 L729.1 573.4 L730.1 571.4 L731.1 569.5"/>
<path d="M685.6 569.5 L686.2 571.6 L686.9 573.7 L687.5 575.8 L688.1 578 L688.7 580.1 L689.4 582.2 L690.1 584.3 L690.9 586.3 L691.9 588.3 L693 590.2 L694.2 592 L695.5 593.8 L697 595.6 L698.6 597 L700.5 597.9 L702.8 598.5 L705.1 597.9 L707 597 L708.7 595.6 L710.2 593.8 L711.5 592 L712.8 590.2 L713.9 588.3 L714.9 586.3 L715.8 584.3 L716.5 582.2 L717.2 580.1 L717.8 578 L718.4 575.8 L719.1 573.7 L719.7 571.6 L720.4 569.5"/>
</g>
<path d="M702.8 574.8V922.7" stroke="#000" stroke-width="1.7"/>
<path d="M559.2 817.5H989.2" stroke="#333" stroke-width="1.35" stroke-dasharray="14.6 8.8" fill="none"/>
<path d="M559.2 835.8H989.2" stroke="#333" stroke-width="1.35" stroke-dasharray="14.6 8.8" fill="none"/>
<path d="M559.2 851.6H989.2" stroke="#333" stroke-width="1.35" stroke-dasharray="14.6 8.8" fill="none"/>
<path d="M559.2 574.8H989.2V922.7H559.2Z M850 574.8V922.7" fill="none" stroke="#000" stroke-width="2.05"/>
<path d="M559.2 618.3h6.4M843.6 618.3h6.4M559.2 661.8h4.9M845.8 661.8h10.2M989.2 661.8h-6.5M559.2 705.3h6.4M843.6 705.3h6.4M559.2 748.8h4.9M845.8 748.8h10.2M989.2 748.8h-6.5M559.2 792.2h6.4M843.6 792.2h6.4M559.2 835.7h4.9M845.8 835.7h10.2M989.2 835.7h-6.5M559.2 879.2h6.4M843.6 879.2h6.4M867.4 574.8v6.2M867.4 922.7v-6.2M884.8 574.8v6.2M884.8 922.7v-6.2M902.2 574.8v6.2M902.2 922.7v-6.2M919.6 574.8v6.2M919.6 922.7v-6.2M937 574.8v6.2M937 922.7v-6.2M954.4 574.8v6.2M954.4 922.7v-6.2M971.8 574.8v6.2M971.8 922.7v-6.2" stroke="#000" stroke-width="1.9" fill="none"/>
<text x="545" y="576.6" font-size="22" text-anchor="end" >0.6</text>
<text x="545" y="659.3" font-size="22" text-anchor="end" >0.4</text>
<text x="545" y="746.2" font-size="22" text-anchor="end" >0.2</text>
<text x="545" y="837.8" font-size="22" text-anchor="end" >0.0</text>
<text x="545" y="926.4" font-size="22" text-anchor="end" >-0.2</text>
<text x="550.5" y="951.7" font-size="24.5" class="sf" >K</text>
<text x="700.6" y="951.7" font-size="24.5" class="sf" >Γ</text>
<text x="837.5" y="951.7" font-size="24.5" class="sf" >K'</text>
<text x="851" y="561.3" font-size="18" text-anchor="middle" >-4</text>
<text x="884" y="561.3" font-size="18" text-anchor="middle" >-2</text>
<text x="917" y="561.3" font-size="18" text-anchor="middle" >0</text>
<text x="952.5" y="561.3" font-size="18" text-anchor="middle" >2</text>
<text x="983" y="561.3" font-size="18" text-anchor="middle" >4</text>
<text x='890.3' y='532' font-size='18'><tspan class='sf' font-size='19'>σ</tspan><tspan class='sf' font-style='italic' font-size='12' dy='4.6' dx='-0.8'>xy</tspan><tspan dy='-4.6' dx='2.0'>(</tspan><tspan font-style='italic'>h</tspan>/<tspan font-style='italic'>e</tspan><tspan font-size='11.5' dy='-7'>2</tspan><tspan dy='7'>)</tspan></text>
<text x="638.5" y="536.4" font-size="22" xml:space="preserve"><tspan font-style="italic">E</tspan> = +0.001 V/Å</text>
<text x="508.6" y="515.4" font-size="30" font-weight="bold" >f</text>
<text transform="translate(496.2 799.1) rotate(-90)" font-size="24"><tspan font-style="italic">E</tspan>-<tspan font-style="italic">E</tspan><tspan font-size="16.5" dy="4.6">F</tspan><tspan dy="-4.6"> (eV)</tspan></text>
<path d="M1680.7 570.5 L1663.1 570.5 L1662.8 571.7 L1662.3 573.4 L1661.8 575.3 L1661.6 577.3 L1661.8 579 L1662.6 580.5 L1663.7 581.9 L1665.1 583.3 L1666.8 584.6 L1668.6 585.8 L1670.7 587 L1673.1 588.2 L1675.7 589.3 L1678.3 590.3 L1680.8 591.3 L1683.3 592.2 L1685.8 593.1 L1688.4 593.9 L1690.8 594.7 L1693.1 595.4 L1695.3 596 L1697.4 596.6 L1699.4 597.1 L1701.2 597.8 L1702.6 598.6 L1703.7 599.7 L1704.5 600.9 L1705.1 602.2 L1705.4 603.6 L1705.4 604.9 L1705.1 606.2 L1704.6 607.6 L1703.8 609 L1702.7 610.3 L1701.3 611.7 L1699.5 613.1 L1697.4 614.4 L1695 615.8 L1692.6 617.2 L1690.4 618.5 L1688.2 619.8 L1685.9 621.1 L1683.8 622.3 L1682 623.6 L1680.8 624.8 L1680.2 626 L1680.1 627.1 L1680.4 628.2 L1681.1 629.4 L1682.2 630.8 L1683.8 632.5 L1685.9 634.4 L1688.3 636.4 L1690.8 638.4 L1693.1 640.3 L1695.4 642 L1697.7 643.7 L1700.1 645.3 L1702.2 646.9 L1704 648.5 L1705.4 650.1 L1706.6 651.6 L1707.5 653.1 L1708.3 654.8 L1708.9 656.7 L1709.5 658.9 L1709.9 661.5 L1710.2 664.1 L1710.2 666.7 L1710 668.9 L1709.5 670.7 L1708.6 672.2 L1707.6 673.6 L1706.5 675.2 L1705.4 677.1 L1704.4 679.4 L1703.4 682 L1702.3 684.8 L1701.2 687.7 L1699.9 690.7 L1698.4 693.8 L1696.6 696.9 L1694.8 700.2 L1693.1 703.6 L1691.7 707.1 L1690.5 711 L1689.5 715.2 L1688.6 719.4 L1688 723.2 L1687.6 726.1 L1687.7 727.8 L1688.3 728.5 L1689 728.9 L1689.6 729.3 L1689.8 730.2 L1689.5 731.8 L1688.8 733.6 L1687.9 735.7 L1687.1 737.8 L1686.5 740 L1686.1 742.3 L1685.8 744.6 L1685.6 747.1 L1685.4 749.5 L1685.1 751.8 L1684.7 754.1 L1684.4 756.3 L1683.9 758.5 L1683.5 760.5 L1683 762.3 L1682.5 763.7 L1682.1 764.9 L1681.6 765.9 L1680.9 767.1 L1679.9 768.5 L1678.5 770.3 L1676.8 772.4 L1675 774.6 L1673.1 776.8 L1671.5 779 L1670 781.1 L1668.6 783.3 L1667.3 785.5 L1666.1 787.5 L1665.2 789.5 L1664.6 791.3 L1664.3 793 L1664.1 794.6 L1664 796.3 L1663.8 797.9 L1663.6 799.6 L1663.6 801.3 L1663.4 803 L1663 804.7 L1662.1 806.3 L1660.4 807.8 L1658.1 809.3 L1655.6 810.7 L1653.3 812.2 L1651.6 813.6 L1650.6 815.1 L1650.1 816.6 L1649.8 818.1 L1649.6 819.5 L1649.1 820.9 L1648.4 822.2 L1647.6 823.6 L1646.8 824.8 L1646 826 L1645.3 827.2 L1644.6 828.2 L1643.7 829.2 L1643 830.1 L1642.6 831 L1642.8 832.1 L1643.9 833.4 L1645.8 834.7 L1647.8 836.2 L1649.6 837.6 L1650.6 838.8 L1650.7 839.9 L1650.2 840.8 L1649.3 841.7 L1648 842.6 L1646.4 843.6 L1644.4 844.8 L1641.8 846 L1639 847.3 L1636.3 848.6 L1633.8 849.9 L1631.6 851.3 L1629.4 852.7 L1627.3 854.1 L1625.6 855.4 L1624.3 856.6 L1623.4 857.6 L1622.9 858.4 L1622.8 859.1 L1622.9 859.9 L1623.3 860.8 L1624 861.9 L1624.9 863.2 L1626.2 864.5 L1627.8 865.8 L1629.6 867.1 L1631.9 868.4 L1634.5 869.6 L1637.4 870.9 L1640.4 872.1 L1643.2 873.4 L1646.1 874.7 L1649.1 876 L1652.1 877.3 L1654.7 878.5 L1656.8 879.6 L1658.3 880.5 L1659.3 881.4 L1659.9 882.1 L1660.1 882.8 L1660 883.4 L1659.9 883.9 L1659.9 884.3 L1659.2 884.7 L1657.4 885.2 L1653.7 885.9 L1646.9 887 L1637.5 888.4 L1627.3 890 L1618.1 891.3 L1611.8 892.2 L1611.5 918.7 L1680.7 918.7Z" fill="url(#gsh)"/>
<path d="M1663.1 570.5 L1662.8 571.7 L1662.3 573.4 L1661.8 575.3 L1661.6 577.3 L1661.8 579 L1662.6 580.5 L1663.7 581.9 L1665.1 583.3 L1666.8 584.6 L1668.6 585.8 L1670.7 587 L1673.1 588.2 L1675.7 589.3 L1678.3 590.3 L1680.8 591.3 L1683.3 592.2 L1685.8 593.1 L1688.4 593.9 L1690.8 594.7 L1693.1 595.4 L1695.3 596 L1697.4 596.6 L1699.4 597.1 L1701.2 597.8 L1702.6 598.6 L1703.7 599.7 L1704.5 600.9 L1705.1 602.2 L1705.4 603.6 L1705.4 604.9 L1705.1 606.2 L1704.6 607.6 L1703.8 609 L1702.7 610.3 L1701.3 611.7 L1699.5 613.1 L1697.4 614.4 L1695 615.8 L1692.6 617.2 L1690.4 618.5 L1688.2 619.8 L1685.9 621.1 L1683.8 622.3 L1682 623.6 L1680.8 624.8 L1680.2 626 L1680.1 627.1 L1680.4 628.2 L1681.1 629.4 L1682.2 630.8 L1683.8 632.5 L1685.9 634.4 L1688.3 636.4 L1690.8 638.4 L1693.1 640.3 L1695.4 642 L1697.7 643.7 L1700.1 645.3 L1702.2 646.9 L1704 648.5 L1705.4 650.1 L1706.6 651.6 L1707.5 653.1 L1708.3 654.8 L1708.9 656.7 L1709.5 658.9 L1709.9 661.5 L1710.2 664.1 L1710.2 666.7 L1710 668.9 L1709.5 670.7 L1708.6 672.2 L1707.6 673.6 L1706.5 675.2 L1705.4 677.1 L1704.4 679.4 L1703.4 682 L1702.3 684.8 L1701.2 687.7 L1699.9 690.7 L1698.4 693.8 L1696.6 696.9 L1694.8 700.2 L1693.1 703.6 L1691.7 707.1 L1690.5 711 L1689.5 715.2 L1688.6 719.4 L1688 723.2 L1687.6 726.1 L1687.7 727.8 L1688.3 728.5 L1689 728.9 L1689.6 729.3 L1689.8 730.2 L1689.5 731.8 L1688.8 733.6 L1687.9 735.7 L1687.1 737.8 L1686.5 740 L1686.1 742.3 L1685.8 744.6 L1685.6 747.1 L1685.4 749.5 L1685.1 751.8 L1684.7 754.1 L1684.4 756.3 L1683.9 758.5 L1683.5 760.5 L1683 762.3 L1682.5 763.7 L1682.1 764.9 L1681.6 765.9 L1680.9 767.1 L1679.9 768.5 L1678.5 770.3 L1676.8 772.4 L1675 774.6 L1673.1 776.8 L1671.5 779 L1670 781.1 L1668.6 783.3 L1667.3 785.5 L1666.1 787.5 L1665.2 789.5 L1664.6 791.3 L1664.3 793 L1664.1 794.6 L1664 796.3 L1663.8 797.9 L1663.6 799.6 L1663.6 801.3 L1663.4 803 L1663 804.7 L1662.1 806.3 L1660.4 807.8 L1658.1 809.3 L1655.6 810.7 L1653.3 812.2 L1651.6 813.6 L1650.6 815.1 L1650.1 816.6 L1649.8 818.1 L1649.6 819.5 L1649.1 820.9 L1648.4 822.2 L1647.6 823.6 L1646.8 824.8 L1646 826 L1645.3 827.2 L1644.6 828.2 L1643.7 829.2 L1643 830.1 L1642.6 831 L1642.8 832.1 L1643.9 833.4 L1645.8 834.7 L1647.8 836.2 L1649.6 837.6 L1650.6 838.8 L1650.7 839.9 L1650.2 840.8 L1649.3 841.7 L1648 842.6 L1646.4 843.6 L1644.4 844.8 L1641.8 846 L1639 847.3 L1636.3 848.6 L1633.8 849.9 L1631.6 851.3 L1629.4 852.7 L1627.3 854.1 L1625.6 855.4 L1624.3 856.6 L1623.4 857.6 L1622.9 858.4 L1622.8 859.1 L1622.9 859.9 L1623.3 860.8 L1624 861.9 L1624.9 863.2 L1626.2 864.5 L1627.8 865.8 L1629.6 867.1 L1631.9 868.4 L1634.5 869.6 L1637.4 870.9 L1640.4 872.1 L1643.2 873.4 L1646.1 874.7 L1649.1 876 L1652.1 877.3 L1654.7 878.5 L1656.8 879.6 L1658.3 880.5 L1659.3 881.4 L1659.9 882.1 L1660.1 882.8 L1660 883.4 L1659.9 883.9 L1659.9 884.3 L1659.2 884.7 L1657.4 885.2 L1653.7 885.9 L1646.9 887 L1637.5 888.4 L1627.3 890 L1618.1 891.3 L1611.8 892.2" fill="none" stroke="#1a1a1a" stroke-width="0.9" stroke-linejoin="round"/>
<path d="M1680.7 592.5V918.7" stroke="#111" stroke-width="1.4" stroke-dasharray="23 6.8" fill="none"/>
<g clip-path="url(#cph)" fill="none" stroke="#000" stroke-width="1.8" stroke-linejoin="round">
<path d="M1464.4 758.3 L1462.7 759.4 L1461.1 760.6 L1459.5 761.9 L1458 763.2 L1456.4 764.6 L1455 766 L1453.7 767.5 L1452.4 769 L1451.3 770.7 L1450.2 772.4 L1449.1 774.1 L1448.1 775.8 L1447.1 777.6 L1446.1 779.4 L1445.1 781.2 L1444.1 783 L1443.2 784.8 L1442.2 786.5 L1441.3 788.3 L1440.3 790.1 L1439.4 791.9 L1438.4 793.7 L1437.4 795.4 L1436.4 797.2 L1435.4 798.9 L1434.3 800.6 L1433.2 802.3 L1432 804 L1430.9 805.6 L1429.7 807.3 L1428.5 808.9 L1427.3 810.5 L1426.1 812.1 L1424.8 813.7 L1423.6 815.3 L1422.3 816.9 L1421.1 818.5 L1419.8 820.1 L1418.5 821.6 L1417.1 823.1 L1415.8 824.6 L1414.4 826.1 L1413 827.5 L1411.6 829 L1410.1 830.4 L1408.7 831.8 L1407.3 833.2 L1405.8 834.6 L1404.4 836.1 L1403 837.5 L1401.6 839 L1400.2 840.4 L1398.7 841.8 L1397.3 843.3 L1395.8 844.6 L1394.3 846 L1392.8 847.3 L1391.2 848.6 L1389.6 849.9 L1388 851.1 L1386.3 852.2 L1384.6 853.2 L1382.8 854.3 L1381.1 855.3 L1379.4 856.4 L1377.8 857.7 L1376.3 859 L1374.8 860.3 L1373.2 861.7 L1371.7 863.1 L1370.2 864.4 L1368.6 865.6 L1366.9 866.8 L1365.2 867.8 L1363.4 868.6 L1361.5 869.4 L1359.6 870.2 L1357.9 871.2 L1356.4 872.4 L1354.9 873.8 L1353.4 875.2 L1352 876.7 L1350.5 878.2 L1349.1 879.6 L1347.6 880.9 L1346.1 882.3 L1344.6 883.6 L1343 885 L1341.5 886.3 L1340.1 887.7 L1338.6 889 L1337.1 890.4 L1335.7 891.9 L1334.3 893.3 L1332.9 894.8 L1331.5 896.2 L1330.1 897.7 L1328.7 899.2 L1327.3 900.7 L1326 902.2 L1324.6 903.7 L1323.2 905.1 L1321.9 906.6 L1320.5 908.1"/>
<path d="M1464.4 758.3 L1466.3 759.2 L1467.9 760.4 L1469.4 761.8 L1470.7 763.5 L1472 765.1 L1473.5 766.4 L1475.2 767.4 L1477.1 768.1 L1479.2 768.7 L1481.1 769.5 L1483 770.3 L1484.8 771.3 L1486.5 772.4 L1488 773.8 L1489.4 775.3 L1490.7 776.8 L1492 778.5 L1493.3 780.1 L1494.5 781.8 L1495.6 783.4 L1496.8 785.1 L1497.9 786.8 L1499.1 788.5 L1500.2 790.2 L1501.3 791.9 L1502.4 793.6 L1503.6 795.2 L1504.7 796.9 L1505.9 798.6 L1507 800.3 L1508.2 802 L1509.3 803.6 L1510.5 805.3 L1511.7 806.9 L1512.9 808.6 L1514.2 810.2 L1515.4 811.8 L1516.6 813.4 L1517.9 815 L1519.1 816.7 L1520.4 818.3 L1521.6 819.9 L1522.9 821.5 L1524.1 823.1 L1525.4 824.7 L1526.7 826.3 L1528 827.8 L1529.3 829.4 L1530.6 830.9 L1532 832.5 L1533.3 834 L1534.6 835.6 L1536 837.1 L1537.3 838.7 L1538.6 840.2 L1539.9 841.8 L1541.2 843.3 L1542.6 844.9 L1543.9 846.4 L1545.2 848 L1546.5 849.5 L1547.9 851.1 L1549.2 852.6 L1550.6 854.1 L1552 855.6 L1553.5 857 L1555.1 858.3 L1556.7 859.5 L1558.3 860.7 L1560 861.9 L1561.7 863.1 L1563.4 864.2 L1565.2 865.4 L1566.9 866.5 L1568.6 867.7 L1570.2 868.9 L1571.9 870.1 L1573.5 871.4 L1575 872.8 L1576.6 874.1 L1578.1 875.5 L1579.6 876.8 L1581.1 878.2 L1582.7 879.6 L1584.2 880.9 L1585.7 882.3 L1587.3 883.6 L1588.8 885 L1590.4 886.3 L1591.9 887.7 L1593.4 889.1 L1594.9 890.5 L1596.3 891.9 L1597.8 893.3 L1599.2 894.8 L1600.7 896.2 L1602.1 897.7 L1603.5 899.2 L1604.9 900.7 L1606.3 902.1 L1607.7 903.6 L1609.1 905.1 L1610.5 906.6 L1611.9 908.1"/>
<path d="M1464.4 766 L1463.2 767.7 L1462.1 769.4 L1461 771.1 L1459.9 772.8 L1458.8 774.5 L1457.7 776.2 L1456.6 777.9 L1455.5 779.6 L1454.4 781.3 L1453.4 783.1 L1452.3 784.8 L1451.3 786.6 L1450.2 788.3 L1449.2 790.1 L1448.2 791.8 L1447.2 793.6 L1446.2 795.3 L1445.2 797.1 L1444.2 798.9 L1443.2 800.6 L1442.2 802.4 L1441.1 804.2 L1440.1 805.9 L1439.1 807.7 L1438 809.4 L1436.9 811.1 L1435.8 812.8 L1434.7 814.5 L1433.5 816.1 L1432.3 817.8 L1431.1 819.4 L1429.9 821.1 L1428.7 822.7 L1427.5 824.4 L1426.3 826 L1425.1 827.7 L1424 829.3 L1422.8 831 L1421.7 832.7 L1420.6 834.4 L1419.6 836.1 L1418.6 837.9 L1417.7 839.7 L1416.8 841.6 L1416 843.4 L1415.1 845.3 L1414.1 847.1 L1413.1 848.8 L1412.1 850.6 L1410.9 852.2 L1409.6 853.9 L1408.3 855.4 L1406.9 856.8 L1405.3 858.1 L1403.7 859.3 L1402 860.5 L1400.3 861.6 L1398.6 862.7 L1396.9 863.8 L1395.2 864.9 L1393.4 866 L1391.6 867 L1389.8 867.9 L1388 868.7 L1386.1 869.5 L1384.2 870.2 L1382.3 870.9 L1380.4 871.6 L1378.5 872.3 L1376.6 873 L1374.7 873.7 L1372.7 874.4 L1370.8 875.2 L1369 876 L1367.1 876.8 L1365.3 877.7 L1363.6 878.7 L1361.8 879.8 L1360.2 880.9 L1358.5 882.1 L1356.9 883.4 L1355.3 884.6 L1353.8 886 L1352.3 887.4 L1350.9 888.8 L1349.5 890.3 L1348.1 891.7 L1346.7 893.2 L1345.3 894.7 L1343.9 896.3 L1342.6 897.8 L1341.2 899.3 L1339.7 900.8 L1338.3 902.1 L1336.7 903.3 L1335 904.4 L1333.2 905.3 L1331.3 906.2 L1329.5 907 L1327.6 907.9 L1325.8 908.8 L1324 909.8 L1322.2 910.8 L1320.5 911.9"/>
<path d="M1464.4 766 L1465.7 767.6 L1467 769.2 L1468.2 770.8 L1469.5 772.5 L1470.7 774.1 L1471.8 775.8 L1473 777.5 L1474.1 779.2 L1475.2 780.9 L1476.3 782.7 L1477.3 784.5 L1478.3 786.2 L1479.4 788 L1480.4 789.8 L1481.3 791.6 L1482.3 793.4 L1483.3 795.2 L1484.2 797 L1485.1 798.8 L1486.1 800.7 L1487 802.5 L1487.9 804.3 L1488.8 806.1 L1489.7 808 L1490.7 809.8 L1491.6 811.6 L1492.5 813.4 L1493.4 815.2 L1494.4 817.1 L1495.3 818.9 L1496.2 820.7 L1497.2 822.5 L1498.2 824.3 L1499.1 826.1 L1500.1 827.9 L1501.1 829.7 L1502.1 831.5 L1503.2 833.2 L1504.3 835 L1505.4 836.7 L1506.6 838.3 L1507.9 839.9 L1509.2 841.5 L1510.6 843.1 L1511.9 844.6 L1513.3 846.1 L1514.7 847.6 L1516.2 849.1 L1517.6 850.6 L1519.1 852 L1520.5 853.5 L1522 854.9 L1523.5 856.3 L1525 857.7 L1526.6 859.1 L1528.1 860.5 L1529.7 861.9 L1531.3 863.2 L1533 864.4 L1534.7 865.5 L1536.6 866.4 L1538.5 867.1 L1540.5 867.8 L1542.4 868.5 L1544.4 869.3 L1546.3 870.1 L1548.1 871.1 L1549.9 872.1 L1551.8 873.1 L1553.6 874 L1555.5 874.9 L1557.4 875.8 L1559.4 876.6 L1561.3 877.4 L1563.3 878.1 L1565.2 878.9 L1567.2 879.8 L1569.1 880.6 L1570.9 881.5 L1572.7 882.5 L1574.5 883.5 L1576.2 884.6 L1577.8 885.8 L1579.3 887.2 L1580.8 888.6 L1582.2 890.1 L1583.6 891.7 L1585 893.2 L1586.4 894.7 L1587.8 896.3 L1589.3 897.8 L1590.7 899.3 L1592.2 900.8 L1593.7 902.1 L1595.3 903.3 L1597 904.4 L1598.9 905.3 L1600.8 906.2 L1602.7 907 L1604.6 907.9 L1606.5 908.8 L1608.3 909.8 L1610.1 910.8 L1611.9 911.9"/>
<path d="M1352.5 555 L1353.4 556.8 L1354.4 558.6 L1355.5 560.3 L1356.7 561.9 L1357.9 563.5 L1359.3 565 L1360.8 566.4 L1362.3 567.7 L1363.9 568.9 L1365.6 570 L1367.4 570.9 L1369.3 571.6 L1371.2 572.2 L1373.2 572.6 L1375.2 572.9 L1377.3 573 L1379.3 573.1 L1381.3 573.3 L1383.3 573.6 L1385.2 574.2 L1387.1 574.8 L1389 575.6 L1390.8 576.4 L1392.6 577.3 L1394.4 578.3 L1396.1 579.4 L1397.8 580.5 L1399.5 581.6 L1401.1 582.8 L1402.8 583.9 L1404.4 585.1 L1406 586.4 L1407.5 587.7 L1409 589 L1410.4 590.5 L1411.8 592 L1413 593.6 L1414.2 595.2 L1415.4 596.8 L1416.5 598.5 L1417.5 600.3 L1418.6 602 L1419.6 603.7 L1420.5 605.5 L1421.4 607.3 L1422.1 609.2 L1422.9 611.1 L1423.5 613 L1424.1 614.9 L1424.7 616.8 L1425.3 618.8 L1425.9 620.7 L1426.5 622.6 L1427 624.6 L1427.5 626.5 L1428 628.5 L1428.5 630.4 L1429 632.4 L1429.5 634.4 L1429.9 636.3 L1430.4 638.3 L1430.8 640.3 L1431.3 642.2 L1431.8 644.2 L1432.2 646.1 L1432.7 648.1 L1433.2 650.1 L1433.8 652 L1434.3 653.9 L1434.9 655.9 L1435.5 657.8 L1436.1 659.7 L1436.7 661.6 L1437.3 663.6 L1437.9 665.5 L1438.5 667.4 L1439 669.4 L1439.6 671.3 L1440.2 673.2 L1440.7 675.2 L1441.2 677.1 L1441.8 679.1 L1442.3 681 L1442.8 683 L1443.3 684.9 L1443.9 686.9 L1444.4 688.8 L1444.9 690.7 L1445.4 692.7 L1446 694.6 L1446.5 696.6 L1447 698.5 L1447.6 700.5 L1448.1 702.4 L1448.6 704.4 L1449.1 706.3 L1449.7 708.3 L1450.2 710.2 L1450.7 712.2 L1451.2 714.1 L1451.7 716.1 L1452.2 718 L1452.6 720 L1453.1 721.9 L1453.6 723.9 L1454.1 725.9 L1454.6 727.9 L1455 729.8 L1455.5 731.8 L1456 733.8 L1456.5 735.7 L1457 737.6 L1457.5 739.5 L1458.2 741.4 L1459.2 743.3 L1460.6 744 L1461.9 742.3 L1462.9 740.6 L1463.9 738.9 L1464.8 737 L1465.6 735.2 L1466.4 733.3 L1467.1 731.4 L1467.8 729.5 L1468.4 727.6 L1469.1 725.7 L1469.7 723.8 L1470.4 721.9 L1471.1 719.9 L1471.7 718 L1472.4 716.1 L1473 714.2 L1473.7 712.3 L1474.3 710.4 L1475 708.5 L1475.6 706.5 L1476.2 704.6 L1476.8 702.7 L1477.4 700.8 L1478 698.8 L1478.6 696.9 L1479.2 695 L1479.8 693 L1480.4 691.1 L1481 689.2 L1481.6 687.2 L1482.2 685.3 L1482.7 683.4 L1483.3 681.4 L1483.9 679.5 L1484.5 677.6 L1485.1 675.6 L1485.6 673.7 L1486.2 671.8 L1486.8 669.8 L1487.4 667.9 L1488 666 L1488.6 664 L1489.2 662.1 L1489.8 660.2 L1490.4 658.2 L1491 656.3 L1491.6 654.4 L1492.2 652.5 L1492.8 650.5 L1493.5 648.6 L1494.1 646.7 L1494.7 644.8 L1495.4 642.9 L1496 640.9 L1496.7 639 L1497.3 637.1 L1497.9 635.2 L1498.6 633.3 L1499.2 631.3 L1499.8 629.4 L1500.5 627.5 L1501.1 625.6 L1501.7 623.7 L1502.3 621.7 L1503 619.8 L1503.6 617.9 L1504.2 616 L1504.8 614.1 L1505.5 612.1 L1506.1 610.2 L1506.7 608.3 L1507.3 606.4 L1507.9 604.4 L1508.6 602.5 L1509.2 600.6 L1509.8 598.7 L1510.4 596.7 L1511.1 594.8 L1511.7 592.9 L1512.4 591 L1513 589.1 L1513.7 587.2 L1514.3 585.3 L1515 583.4 L1515.7 581.4 L1516.4 579.5 L1517.1 577.6 L1517.7 575.7 L1518.4 573.8 L1519.2 572 L1519.9 570.1 L1520.6 568.2 L1521.3 566.3 L1522 564.4 L1522.8 562.5"/>
<path d="M1579.1 555 L1578.2 556.8 L1577.1 558.6 L1576 560.3 L1574.8 561.9 L1573.5 563.5 L1572.1 565 L1570.6 566.4 L1569.1 567.7 L1567.4 568.9 L1565.6 570 L1563.8 570.9 L1561.9 571.6 L1559.9 572.2 L1557.8 572.6 L1555.8 572.9 L1553.7 573 L1551.6 573.1 L1549.6 573.3 L1547.6 573.6 L1545.5 574.2 L1543.6 574.8 L1541.7 575.6 L1539.8 576.4 L1537.9 577.3 L1536.1 578.3 L1534.4 579.4 L1532.6 580.5 L1530.9 581.6 L1529.2 582.8 L1527.5 583.9 L1525.9 585.1 L1524.2 586.4 L1522.7 587.7 L1521.1 589 L1519.7 590.5 L1518.3 592 L1517 593.6 L1515.8 595.2 L1514.6 596.8 L1513.5 598.5 L1512.4 600.3 L1511.4 602 L1510.3 603.7 L1509.3 605.5 L1508.5 607.3 L1507.7 609.2 L1506.9 611.1 L1506.3 613 L1505.6 614.9 L1505 616.8 L1504.4 618.8 L1503.8 620.7 L1503.2 622.6 L1502.7 624.6 L1502.2 626.5 L1501.6 628.5 L1501.1 630.4 L1500.6 632.4 L1500.1 634.4 L1499.7 636.3 L1499.2 638.3 L1498.7 640.3 L1498.3 642.2 L1497.8 644.2 L1497.3 646.1 L1496.8 648.1 L1496.3 650.1 L1495.8 652 L1495.2 653.9 L1494.6 655.9 L1494 657.8 L1493.4 659.7 L1492.8 661.6 L1492.1 663.6 L1491.5 665.5 L1490.9 667.4 L1490.3 669.4 L1489.8 671.3 L1489.2 673.2 L1488.6 675.2 L1488.1 677.1 L1487.5 679.1 L1487 681 L1486.5 683 L1485.9 684.9 L1485.4 686.9 L1484.9 688.8 L1484.3 690.7 L1483.8 692.7 L1483.2 694.6 L1482.7 696.6 L1482.2 698.5 L1481.6 700.5 L1481.1 702.4 L1480.5 704.4 L1480 706.3 L1479.5 708.3 L1478.9 710.2 L1478.4 712.2 L1477.9 714.1 L1477.4 716.1 L1476.9 718 L1476.4 720 L1475.9 721.9 L1475.4 723.9 L1474.9 725.9 L1474.4 727.9 L1473.9 729.8 L1473.5 731.8 L1473 733.8 L1472.5 735.7 L1471.9 737.6 L1471.4 739.5 L1470.7 741.4 L1469.7 743.3 L1468.2 744 L1466.9 742.3 L1465.8 740.6 L1464.8 738.9 L1463.9 737 L1463.1 735.2 L1462.4 733.3 L1461.7 731.4 L1461.1 729.5 L1460.4 727.6 L1459.8 725.7 L1459.1 723.8 L1458.5 721.9 L1457.8 719.9 L1457.2 718 L1456.6 716.1 L1455.9 714.2 L1455.3 712.3 L1454.7 710.4 L1454 708.5 L1453.4 706.5 L1452.8 704.6 L1452.2 702.7 L1451.6 700.8 L1451 698.8 L1450.5 696.9 L1449.9 695 L1449.3 693 L1448.7 691.1 L1448.2 689.2 L1447.6 687.2 L1447 685.3 L1446.5 683.4 L1445.9 681.4 L1445.3 679.5 L1444.8 677.6 L1444.2 675.6 L1443.6 673.7 L1443.1 671.8 L1442.5 669.8 L1441.9 667.9 L1441.3 666 L1440.8 664 L1440.2 662.1 L1439.6 660.2 L1439 658.2 L1438.4 656.3 L1437.8 654.4 L1437.2 652.5 L1436.6 650.5 L1436 648.6 L1435.4 646.7 L1434.7 644.8 L1434.1 642.9 L1433.5 640.9 L1432.9 639 L1432.3 637.1 L1431.6 635.2 L1431 633.3 L1430.4 631.3 L1429.8 629.4 L1429.2 627.5 L1428.6 625.6 L1428 623.7 L1427.3 621.7 L1426.7 619.8 L1426.1 617.9 L1425.5 616 L1424.9 614.1 L1424.3 612.1 L1423.7 610.2 L1423.1 608.3 L1422.5 606.4 L1421.9 604.4 L1421.3 602.5 L1420.7 600.6 L1420.1 598.7 L1419.5 596.7 L1418.8 594.8 L1418.2 592.9 L1417.6 591 L1416.9 589.1 L1416.3 587.2 L1415.7 585.3 L1415 583.4 L1414.3 581.4 L1413.7 579.5 L1413 577.6 L1412.3 575.7 L1411.6 573.8 L1410.9 572 L1410.3 570.1 L1409.6 568.2 L1408.9 566.3 L1408.1 564.4 L1407.4 562.5"/>
<path d="M1327.5 922.3 L1328.8 920.7 L1330.2 919.2 L1331.6 917.8 L1333.1 916.5 L1334.7 915.2 L1336.2 913.9 L1337.8 912.6 L1339.4 911.3 L1340.9 910 L1342.5 908.8 L1344.1 907.5 L1345.6 906.2 L1347.2 904.9 L1348.7 903.5 L1350.2 902.2 L1351.8 900.9 L1353.3 899.6 L1354.8 898.3 L1356.4 897 L1357.9 895.7 L1359.5 894.4 L1361.1 893.2 L1362.7 891.9 L1364.3 890.7 L1365.9 889.4 L1367.5 888.1 L1369.1 886.9 L1370.8 885.7 L1372.5 884.6 L1374.2 883.7 L1376 882.8 L1377.9 882.1 L1379.8 881.4 L1381.7 880.7 L1383.6 879.9 L1385.4 879 L1387.1 877.9 L1388.8 876.8 L1390.5 875.7 L1392.3 874.7 L1394 873.7 L1395.8 872.8 L1397.7 871.9 L1399.5 871.1 L1401.4 870.3 L1403.2 869.5 L1405.1 868.7 L1407 867.9 L1408.8 867.1 L1410.7 866.2 L1412.4 865.3 L1414.1 864.2 L1415.8 863 L1417.4 861.7 L1418.9 860.3 L1420.2 858.9 L1421.5 857.3 L1422.8 855.7 L1423.9 854 L1425 852.3 L1426 850.5 L1426.9 848.7 L1427.8 846.9 L1428.6 845.1 L1429.5 843.3 L1430.3 841.4 L1431.2 839.6 L1432 837.7 L1432.9 835.9 L1433.7 834 L1434.6 832.2 L1435.4 830.4 L1436.3 828.6 L1437.3 826.8 L1438.2 825 L1439.2 823.3 L1440.3 821.5 L1441.4 819.8 L1442.6 818.2 L1443.9 816.6 L1445.3 815.1 L1446.7 813.7 L1448.2 812.3 L1449.6 810.9 L1450.7 809.3 L1451.6 807.4 L1452.4 805.6 L1453.2 803.7 L1454 801.8 L1454.7 799.9 L1455.4 798 L1456.1 796.1 L1456.9 794.2 L1457.7 792.3 L1458.5 790.3 L1459.5 788.5 L1460.7 787 L1462.3 786 L1464.4 785.4 L1466.5 786 L1468.1 787 L1469.4 788.5 L1470.4 790.3 L1471.2 792.3 L1472 794.2 L1472.8 796.1 L1473.6 798 L1474.3 799.9 L1475 801.8 L1475.8 803.7 L1476.6 805.6 L1477.4 807.4 L1478.4 809.3 L1479.5 810.9 L1480.9 812.3 L1482.5 813.7 L1484 815.1 L1485.4 816.6 L1486.7 818.2 L1487.9 819.8 L1489 821.5 L1490.1 823.3 L1491.2 825 L1492.2 826.8 L1493.1 828.6 L1494 830.4 L1494.9 832.2 L1495.8 834 L1496.7 835.9 L1497.5 837.7 L1498.4 839.6 L1499.3 841.4 L1500.1 843.3 L1501 845.1 L1501.9 846.9 L1502.8 848.7 L1503.8 850.5 L1504.8 852.3 L1505.9 854 L1507 855.7 L1508.3 857.3 L1509.6 858.9 L1511 860.3 L1512.6 861.7 L1514.2 863 L1515.9 864.2 L1517.6 865.3 L1519.4 866.2 L1521.3 867.1 L1523.2 867.9 L1525.1 868.7 L1527.1 869.5 L1529 870.3 L1530.9 871.1 L1532.8 871.9 L1534.7 872.8 L1536.5 873.7 L1538.3 874.7 L1540.1 875.7 L1541.8 876.8 L1543.6 877.9 L1545.4 879 L1547.2 879.9 L1549.1 880.7 L1551.1 881.4 L1553 882.1 L1555 882.8 L1556.8 883.7 L1558.6 884.6 L1560.4 885.7 L1562.1 886.9 L1563.7 888.1 L1565.4 889.4 L1567 890.7 L1568.6 891.9 L1570.3 893.2 L1571.9 894.4 L1573.5 895.7 L1575.1 897 L1576.7 898.3 L1578.3 899.6 L1579.9 900.9 L1581.4 902.2 L1583 903.5 L1584.6 904.9 L1586.1 906.2 L1587.7 907.5 L1589.3 908.8 L1590.9 910 L1592.6 911.3 L1594.2 912.6 L1595.8 913.9 L1597.4 915.2 L1599 916.5 L1600.5 917.8 L1602 919.2 L1603.4 920.7 L1604.7 922.3"/>
<path d="M1339.4 922.3 L1340.4 920.6 L1341.5 918.8 L1342.5 917.1 L1343.5 915.3 L1344.5 913.5 L1345.5 911.7 L1346.5 910 L1347.6 908.3 L1348.7 906.6 L1350 905 L1351.3 903.5 L1352.8 902 L1354.3 900.7 L1356 899.5 L1357.7 898.5 L1359.5 897.7 L1361.5 897.1 L1363.4 896.6 L1365.4 896.1 L1367.4 895.8 L1369.4 895.5 L1371.4 895.2 L1373.4 895 L1375.5 894.8 L1377.5 894.6 L1379.5 894.5 L1381.5 894.3 L1383.5 894 L1385.5 893.7 L1387.5 893.2 L1389.4 892.8 L1391.4 892.2 L1393.3 891.7 L1395.3 891.1 L1397.2 890.5 L1399.1 889.8 L1401 889.1 L1402.9 888.3 L1404.8 887.5 L1406.6 886.5 L1408.2 885.4 L1409.8 884.2 L1411.2 882.8 L1412.6 881.2 L1413.9 879.6 L1415 877.9 L1416.1 876.2 L1417.2 874.5 L1418.1 872.7 L1419 870.9 L1419.9 869 L1420.7 867.2 L1421.4 865.3 L1422.2 863.4 L1422.9 861.5 L1423.6 859.6 L1424.2 857.7 L1424.9 855.8 L1425.5 853.9 L1426.1 852 L1426.8 850 L1427.4 848.1 L1428.1 846.2 L1428.8 844.3 L1429.4 842.4 L1430.1 840.5 L1430.9 838.6 L1431.7 836.7 L1432.5 834.9 L1433.4 833.1 L1434.3 831.3 L1435.2 829.5 L1436.2 827.7 L1437.3 826 L1438.3 824.2 L1439.5 822.6 L1440.8 821 L1442.1 819.5 L1443.6 818.1 L1445.2 816.8 L1446.7 815.5 L1448.2 814.1 L1449.4 812.5 L1450.6 810.9 L1451.9 809.3 L1453.3 807.7 L1454.8 806.3 L1456.4 805.1 L1458.2 804.5 L1460.1 804.1 L1462.2 804 L1464.4 804.2 L1466.6 804 L1468.7 804.1 L1470.7 804.5 L1472.5 805.1 L1474.2 806.3 L1475.7 807.7 L1477.2 809.3 L1478.5 810.9 L1479.7 812.5 L1481 814.1 L1482.4 815.5 L1484 816.8 L1485.7 818.1 L1487.2 819.5 L1488.6 821 L1489.9 822.6 L1491.1 824.2 L1492.2 826 L1493.2 827.7 L1494.3 829.5 L1495.2 831.3 L1496.2 833.1 L1497 834.9 L1497.9 836.7 L1498.7 838.6 L1499.5 840.5 L1500.2 842.4 L1500.9 844.3 L1501.6 846.2 L1502.2 848.1 L1502.9 850 L1503.6 852 L1504.2 853.9 L1504.9 855.8 L1505.5 857.7 L1506.2 859.6 L1506.9 861.5 L1507.6 863.4 L1508.4 865.3 L1509.2 867.2 L1510 869 L1510.9 870.9 L1511.8 872.7 L1512.8 874.5 L1513.8 876.2 L1515 877.9 L1516.2 879.6 L1517.5 881.2 L1518.9 882.8 L1520.4 884.2 L1521.9 885.4 L1523.7 886.5 L1525.5 887.5 L1527.4 888.3 L1529.3 889.1 L1531.3 889.8 L1533.2 890.5 L1535.2 891.1 L1537.2 891.7 L1539.2 892.2 L1541.2 892.8 L1543.2 893.2 L1545.3 893.7 L1547.3 894 L1549.3 894.3 L1551.4 894.5 L1553.5 894.6 L1555.6 894.8 L1557.6 895 L1559.7 895.2 L1561.7 895.5 L1563.8 895.8 L1565.8 896.1 L1567.9 896.6 L1569.9 897.1 L1571.9 897.7 L1573.8 898.5 L1575.5 899.5 L1577.2 900.7 L1578.8 902 L1580.3 903.5 L1581.7 905 L1582.9 906.6 L1584.1 908.3 L1585.2 910 L1586.3 911.7 L1587.3 913.5 L1588.3 915.3 L1589.3 917.1 L1590.4 918.8 L1591.5 920.6 L1592.5 922.3"/>
<path d="M1346 922.7 L1346.8 920.8 L1347.6 918.9 L1348.5 917.1 L1349.4 915.2 L1350.4 913.4 L1351.4 911.7 L1352.4 909.9 L1353.5 908.2 L1354.6 906.5 L1355.8 904.8 L1357 903.2 L1358.3 901.6 L1359.7 900 L1361.3 898.9 L1363.3 898.2 L1365.3 897.9 L1367.2 898.5 L1369 899.7 L1370.4 901.2 L1371.5 902.8 L1372.5 904.7 L1373.3 906.6 L1374.2 908.4 L1375.2 910.2 L1376.3 912 L1377.6 913.6 L1379.1 914.9 L1380.9 916.1 L1382.8 917 L1384.8 917.2 L1386.8 916.7 L1388.6 915.8 L1390.2 914.5 L1391.5 913 L1392.7 911.3 L1394 909.7 L1395.5 908.2 L1396.9 906.8 L1398.5 905.4 L1399.9 904 L1401.4 902.6 L1402.8 901.1 L1404.3 899.7 L1405.9 898.5 L1407.5 897.2 L1409.2 896 L1410.8 894.9 L1412.5 893.6 L1414 892.3 L1415.6 891 L1417.1 889.7 L1418.6 888.3 L1420.1 886.8 L1421.5 885.3 L1422.8 883.8 L1424.1 882.2 L1425.3 880.6 L1426.4 878.9 L1427.4 877.1 L1428.3 875.3 L1429.2 873.4 L1430 871.5 L1430.8 869.6 L1431.5 867.7 L1432.1 865.8 L1432.7 863.8 L1433.3 861.9 L1434 859.9 L1434.6 858 L1435.4 856.1 L1436.1 854.2 L1436.9 852.3 L1437.6 850.4 L1438.4 848.6 L1439.2 846.6 L1440.1 844.8 L1441 842.9 L1442.1 841.3 L1443.4 839.7 L1444.9 838.3 L1446.4 836.9 L1447.9 835.5 L1449.3 834.1 L1450.6 832.5 L1451.6 830.7 L1452.7 829 L1454 827.3 L1455.3 825.7 L1456.8 824.2 L1458.4 823 L1460.2 822.4 L1462.2 822 L1464.4 822 L1466.6 822 L1468.6 822.4 L1470.5 823 L1472.1 824.2 L1473.7 825.7 L1475.1 827.3 L1476.3 829 L1477.4 830.7 L1478.5 832.5 L1479.8 834.1 L1481.2 835.5 L1482.8 836.9 L1484.3 838.3 L1485.9 839.7 L1487.2 841.3 L1488.3 842.9 L1489.3 844.8 L1490.1 846.6 L1491 848.6 L1491.8 850.4 L1492.6 852.3 L1493.4 854.2 L1494.1 856.1 L1494.9 858 L1495.5 859.9 L1496.2 861.9 L1496.8 863.8 L1497.5 865.8 L1498.1 867.7 L1498.8 869.6 L1499.6 871.5 L1500.4 873.4 L1501.3 875.3 L1502.3 877.1 L1503.3 878.9 L1504.4 880.6 L1505.6 882.2 L1507 883.8 L1508.4 885.3 L1509.8 886.8 L1511.3 888.3 L1512.8 889.7 L1514.4 891 L1516 892.3 L1517.6 893.6 L1519.3 894.9 L1521 896 L1522.7 897.2 L1524.3 898.5 L1526 899.7 L1527.5 901.1 L1529 902.6 L1530.5 904 L1532 905.4 L1533.5 906.8 L1535 908.2 L1536.5 909.7 L1537.8 911.3 L1539.1 913 L1540.5 914.5 L1542 915.8 L1543.9 916.7 L1546 917.2 L1548 917 L1550 916.1 L1551.8 914.9 L1553.3 913.6 L1554.7 912 L1555.8 910.2 L1556.8 908.4 L1557.8 906.6 L1558.6 904.7 L1559.6 902.8 L1560.7 901.2 L1562.2 899.7 L1564 898.5 L1566 897.9 L1568.1 898.2 L1570.1 898.9 L1571.7 900 L1573.2 901.6 L1574.5 903.2 L1575.7 904.8 L1576.9 906.5 L1578.1 908.2 L1579.2 909.9 L1580.2 911.7 L1581.3 913.4 L1582.3 915.2 L1583.2 917.1 L1584.1 918.9 L1585 920.8 L1585.8 922.7"/>
<path d="M1395 922.3 L1396.1 920.6 L1397.1 918.8 L1398.2 917 L1399.2 915.3 L1400.3 913.5 L1401.5 911.8 L1402.7 910.1 L1403.9 908.5 L1405.2 906.9 L1406.6 905.3 L1408 903.8 L1409.5 902.3 L1411 900.9 L1412.7 899.7 L1414.4 898.7 L1416.3 897.8 L1418.1 896.8 L1419.9 895.8 L1421.6 894.6 L1423.3 893.4 L1424.9 892.2 L1426.7 891 L1428.4 889.9 L1430.1 888.7 L1431.7 887.4 L1433.4 886.1 L1434.9 884.6 L1436.2 883.1 L1437.2 881.4 L1438.1 879.5 L1438.9 877.6 L1439.6 875.6 L1440.4 873.7 L1441.1 871.7 L1441.8 869.8 L1442.5 867.8 L1443.2 865.9 L1443.9 864 L1444.5 862 L1445.1 860 L1445.8 858.1 L1446.4 856.1 L1447.2 854.2 L1448.1 852.3 L1449.2 850.5 L1450.5 848.8 L1452.1 847.7 L1454 847 L1456.1 846.5 L1458.2 846.3 L1460.3 846.1 L1462.4 846 L1464.4 845.8 L1466.4 846 L1468.5 846.1 L1470.7 846.3 L1472.8 846.5 L1475 847 L1476.9 847.7 L1478.6 848.8 L1479.9 850.5 L1481 852.3 L1482 854.2 L1482.8 856.1 L1483.5 858.1 L1484.1 860 L1484.7 862 L1485.4 864 L1486.1 865.9 L1486.8 867.8 L1487.5 869.8 L1488.2 871.7 L1489 873.7 L1489.7 875.6 L1490.5 877.6 L1491.3 879.5 L1492.2 881.4 L1493.3 883.1 L1494.6 884.6 L1496.2 886.1 L1497.8 887.4 L1499.5 888.7 L1501.3 889.9 L1503 891 L1504.8 892.2 L1506.5 893.4 L1508.2 894.6 L1509.9 895.8 L1511.8 896.8 L1513.7 897.8 L1515.6 898.7 L1517.4 899.7 L1519.1 900.9 L1520.7 902.3 L1522.2 903.8 L1523.6 905.3 L1525 906.9 L1526.4 908.5 L1527.6 910.1 L1528.9 911.8 L1530 913.5 L1531.2 915.3 L1532.2 917 L1533.3 918.8 L1534.4 920.6 L1535.5 922.3"/>
<path d="M1404.4 922.2 L1405.2 920.3 L1406 918.4 L1406.7 916.4 L1407.5 914.5 L1408.3 912.6 L1409.1 910.7 L1410.1 908.9 L1411.2 907.1 L1412.4 905.4 L1413.8 903.8 L1415.4 902.5 L1417.1 901.5 L1419 900.8 L1421 900.1 L1423 899.3 L1424.8 898.4 L1426.6 897.2 L1428.2 895.9 L1429.6 894.5 L1431 892.9 L1432.2 891.2 L1433.4 889.5 L1434.4 887.7 L1435.3 885.8 L1436.1 883.9 L1436.8 882 L1437.5 880 L1438.2 878.1 L1438.9 876.1 L1439.6 874.2 L1440.2 872.2 L1440.8 870.2 L1441.5 868.3 L1442.1 866.3 L1442.7 864.3 L1443.3 862.3 L1444 860.3 L1444.9 858.5 L1446.2 856.7 L1447.9 855.8 L1449.9 855.9 L1452.1 856.2 L1454.1 856.3 L1456.2 856.3 L1458.2 856.2 L1460.3 855.9 L1462.3 855.6 L1464.4 855.2 L1466.5 855.6 L1468.6 855.9 L1470.7 856.2 L1472.8 856.3 L1474.9 856.3 L1477 856.2 L1479.2 855.9 L1481.2 855.8 L1483 856.7 L1484.3 858.5 L1485.3 860.3 L1486 862.3 L1486.6 864.3 L1487.2 866.3 L1487.9 868.3 L1488.5 870.2 L1489.1 872.2 L1489.8 874.2 L1490.5 876.1 L1491.2 878.1 L1491.9 880 L1492.6 882 L1493.4 883.9 L1494.2 885.8 L1495.1 887.7 L1496.1 889.5 L1497.3 891.2 L1498.6 892.9 L1500 894.5 L1501.5 895.9 L1503.2 897.2 L1504.9 898.4 L1506.8 899.3 L1508.8 900.1 L1510.9 900.8 L1512.8 901.5 L1514.6 902.5 L1516.2 903.8 L1517.6 905.4 L1518.9 907.1 L1520 908.9 L1521 910.7 L1521.9 912.6 L1522.7 914.5 L1523.5 916.4 L1524.3 918.4 L1525.1 920.3 L1525.8 922.2"/>
<path d="M1423.3 919.9 L1424.1 918 L1425 916.1 L1425.9 914.3 L1427 912.6 L1428 910.8 L1429 909 L1429.9 907.2 L1430.8 905.3 L1431.6 903.4 L1432.4 901.5 L1433.1 899.6 L1433.8 897.7 L1434.5 895.7 L1435.2 893.8 L1435.9 891.8 L1436.5 889.9 L1437.2 887.9 L1437.8 885.9 L1438.4 884 L1438.9 882 L1439.5 880 L1440.1 878.1 L1440.6 876.1 L1441.2 874.2 L1441.7 872.3 L1442.1 870.3 L1442.6 868.3 L1443.1 866.3 L1443.5 864.2 L1444 862.1 L1444.5 859.8 L1445.1 857.4 L1446 855.7 L1447.4 855.1 L1449.6 855.2 L1451.1 856.4 L1452.3 858.3 L1453.3 860.1 L1454.3 861.9 L1455.2 863.7 L1456.1 865.6 L1457 867.4 L1457.8 869.3 L1458.7 871.2 L1459.5 873.1 L1460.5 874.9 L1461.6 876.6 L1462.9 878.2 L1464.4 879.6 L1465.9 878.2 L1467.3 876.6 L1468.4 874.9 L1469.3 873.1 L1470.2 871.2 L1471.1 869.3 L1472 867.4 L1472.9 865.6 L1473.8 863.7 L1474.7 861.9 L1475.7 860.1 L1476.7 858.3 L1478 856.4 L1479.5 855.2 L1481.7 855.1 L1483.2 855.7 L1484.2 857.4 L1484.8 859.8 L1485.3 862.1 L1485.7 864.2 L1486.2 866.3 L1486.7 868.3 L1487.2 870.3 L1487.7 872.3 L1488.2 874.2 L1488.7 876.1 L1489.3 878.1 L1489.9 880 L1490.4 882 L1491 884 L1491.7 885.9 L1492.3 887.9 L1492.9 889.9 L1493.6 891.8 L1494.3 893.8 L1495 895.7 L1495.7 897.7 L1496.4 899.6 L1497.2 901.5 L1498 903.4 L1498.8 905.3 L1499.7 907.2 L1500.6 909 L1501.6 910.8 L1502.7 912.6 L1503.8 914.3 L1504.8 916.1 L1505.7 918 L1506.5 919.9"/>
<path d="M1416.7 921.5 L1417.7 919.7 L1418.8 917.9 L1419.8 916.1 L1420.8 914.2 L1421.7 912.4 L1422.7 910.6 L1423.8 908.7 L1424.9 907 L1426 905.2 L1427.1 903.4 L1428.3 901.7 L1429.5 900 L1430.7 898.3 L1431.8 896.5 L1432.9 894.8 L1434 893 L1435 891.1 L1436 889.3 L1436.9 887.4 L1437.9 885.6 L1438.9 883.8 L1439.9 881.9 L1440.9 880.1 L1441.9 878.3 L1443.1 876.5 L1444.3 874.8 L1445.7 873 L1447.3 871.5 L1449.1 870.5 L1451.1 870.5 L1453 871.2 L1454.5 872.6 L1455.8 874.4 L1456.9 876.3 L1457.9 878.1 L1458.8 880 L1459.9 881.8 L1461.1 883.4 L1462.6 884.9 L1464.4 886.1 L1466.2 884.9 L1467.7 883.4 L1469 881.8 L1470 880 L1471 878.1 L1472 876.3 L1473.2 874.4 L1474.5 872.6 L1476 871.2 L1478 870.5 L1480.1 870.5 L1481.9 871.5 L1483.5 873 L1484.9 874.8 L1486.2 876.5 L1487.4 878.3 L1488.5 880.1 L1489.5 881.9 L1490.5 883.8 L1491.5 885.6 L1492.5 887.4 L1493.5 889.3 L1494.5 891.1 L1495.5 893 L1496.6 894.8 L1497.8 896.5 L1498.9 898.3 L1500.2 900 L1501.4 901.7 L1502.6 903.4 L1503.8 905.2 L1504.9 907 L1506 908.7 L1507.1 910.6 L1508.1 912.4 L1509.1 914.2 L1510.1 916.1 L1511.1 917.9 L1512.2 919.7 L1513.3 921.5"/>
<path d="M1423.3 921.8 L1424.4 919.9 L1425.5 918.1 L1426.5 916.2 L1427.5 914.3 L1428.4 912.4 L1429.4 910.5 L1430.5 908.7 L1431.7 906.9 L1433.1 905.2 L1434.6 903.8 L1436.5 902.6 L1438.5 902 L1440.6 902.3 L1442.7 902.8 L1444.8 903.3 L1446.9 903.2 L1448.9 902.5 L1450.8 901.3 L1452.5 900 L1454.2 898.7 L1455.8 897.3 L1457.5 895.9 L1459.1 894.6 L1460.8 893.4 L1462.5 892.1 L1464.4 890.9 L1466.2 892.1 L1468 893.4 L1469.8 894.6 L1471.5 895.9 L1473.1 897.3 L1474.8 898.7 L1476.5 900 L1478.3 901.3 L1480.3 902.5 L1482.3 903.2 L1484.4 903.3 L1486.6 902.8 L1488.8 902.3 L1490.9 902 L1493 902.6 L1494.9 903.8 L1496.5 905.2 L1497.9 906.9 L1499.1 908.7 L1500.2 910.5 L1501.2 912.4 L1502.2 914.3 L1503.2 916.2 L1504.3 918.1 L1505.4 919.9 L1506.5 921.8"/>
<path d="M1458.1 922.3 L1456.8 920.4 L1455.6 918.4 L1454.4 916.6 L1453.2 914.7 L1451.9 912.9 L1450.4 911.2 L1448.5 909.8 L1446.4 909.1 L1444.6 910.1 L1443 912 L1441.8 914 L1440.9 916 L1440 918.1 L1439.2 920.1 L1438.4 922.3"/>
<path d="M1470.7 922.3 L1472.1 920.4 L1473.4 918.4 L1474.6 916.6 L1475.9 914.7 L1477.2 912.9 L1478.7 911.2 L1480.6 909.8 L1482.8 909.1 L1484.7 910.1 L1486.3 912 L1487.5 914 L1488.5 916 L1489.3 918.1 L1490.2 920.1 L1491 922.3"/>
<path d="M1367.1 920.4 L1368.3 918.3 L1369.9 916.5 L1371.9 915.3 L1374.2 914.7 L1376.5 915.3 L1378.5 916.6 L1380.2 918.4 L1381.4 920.4"/>
<path d="M1564.1 920.4 L1562.9 918.3 L1561.2 916.5 L1559.2 915.3 L1556.8 914.7 L1554.5 915.3 L1552.4 916.6 L1550.7 918.4 L1549.4 920.4"/>
<path d="M1320.5 911 L1321.6 912.3 L1322.6 913.6 L1323.6 915 L1324.5 916.4 L1325.4 917.9 L1326.3 919.3 L1327.1 920.8"/>
<path d="M1611.9 911 L1610.8 912.3 L1609.8 913.6 L1608.8 915 L1607.8 916.4 L1606.9 917.9 L1606 919.3 L1605.1 920.8"/>
<path d="M1435.9 566.7 L1436.7 568.7 L1437.7 570.5 L1439 572.1 L1440.1 573.9 L1441.1 575.7 L1442.1 577.6 L1442.9 579.5 L1443.8 581.4 L1444.6 583.3 L1445.5 585.3 L1446.4 587.2 L1447.2 589.1 L1448.1 591 L1448.9 592.9 L1449.8 594.8 L1450.7 596.6 L1451.6 598.5 L1452.6 600.4 L1453.5 602.3 L1454.5 604.1 L1455.5 606 L1456.6 607.8 L1457.8 609.6 L1459.1 611.2 L1460.6 612.6 L1462.3 613.6 L1464.4 614.4 L1466.5 613.6 L1468.3 612.6 L1469.8 611.2 L1471.1 609.6 L1472.3 607.8 L1473.5 606 L1474.5 604.1 L1475.5 602.3 L1476.5 600.4 L1477.4 598.5 L1478.4 596.6 L1479.3 594.8 L1480.2 592.9 L1481.1 591 L1482 589.1 L1482.8 587.2 L1483.7 585.3 L1484.6 583.3 L1485.5 581.4 L1486.3 579.5 L1487.2 577.6 L1488.2 575.7 L1489.2 573.9 L1490.4 572.1 L1491.7 570.5 L1492.8 568.7 L1493.6 566.7"/>
<path d="M1430.9 566.7 L1431.7 568.7 L1432.5 570.6 L1433.2 572.6 L1434 574.6 L1434.8 576.5 L1435.8 578.4 L1436.8 580.3 L1437.7 582.2 L1438.7 584 L1439.7 585.9 L1440.6 587.8 L1441.4 589.8 L1442.3 591.7 L1443.2 593.6 L1444 595.6 L1444.9 597.5 L1445.7 599.4 L1446.6 601.3 L1447.5 603.3 L1448.4 605.2 L1449.2 607.1 L1450.1 609 L1451 611 L1451.9 612.9 L1452.8 614.8 L1453.8 616.6 L1454.9 618.5 L1456 620.3 L1457.3 622 L1458.8 623.5 L1460.4 624.7 L1462.3 625.7 L1464.4 626.4 L1466.5 625.7 L1468.4 624.7 L1470.1 623.5 L1471.6 622 L1472.9 620.3 L1474.1 618.5 L1475.2 616.6 L1476.2 614.8 L1477.1 612.9 L1478.1 611 L1479 609 L1479.9 607.1 L1480.8 605.2 L1481.7 603.3 L1482.6 601.3 L1483.5 599.4 L1484.4 597.5 L1485.2 595.6 L1486.1 593.6 L1487 591.7 L1487.9 589.8 L1488.8 587.8 L1489.7 585.9 L1490.7 584 L1491.7 582.2 L1492.7 580.3 L1493.7 578.4 L1494.6 576.5 L1495.5 574.6 L1496.3 572.6 L1497 570.6 L1497.8 568.7 L1498.7 566.7"/>
<path d="M1428.6 566.7 L1429.1 568.7 L1429.7 570.7 L1430.4 572.7 L1431.1 574.7 L1431.7 576.7 L1432.3 578.7 L1432.9 580.7 L1433.5 582.6 L1434.2 584.6 L1435 586.6 L1435.7 588.5 L1436.5 590.4 L1437.3 592.3 L1438.1 594.3 L1438.8 596.2 L1439.5 598.2 L1440.2 600.2 L1440.9 602.1 L1441.6 604.1 L1442.4 606 L1443.2 608 L1444 609.9 L1444.9 611.8 L1445.7 613.7 L1446.6 615.6 L1447.5 617.4 L1448.4 619.3 L1449.4 621.2 L1450.4 623 L1451.6 624.7 L1452.8 626.4 L1454.1 628.1 L1455.5 629.6 L1457 631.1 L1458.6 632.4 L1460.4 633.4 L1462.3 634.2 L1464.4 634.8 L1466.5 634.2 L1468.4 633.4 L1470.3 632.4 L1471.9 631.1 L1473.5 629.6 L1474.9 628.1 L1476.2 626.4 L1477.5 624.7 L1478.6 623 L1479.7 621.2 L1480.7 619.3 L1481.7 617.4 L1482.6 615.6 L1483.5 613.7 L1484.4 611.8 L1485.2 609.9 L1486.1 608 L1486.9 606 L1487.7 604.1 L1488.4 602.1 L1489.1 600.2 L1489.8 598.2 L1490.5 596.2 L1491.3 594.3 L1492.1 592.3 L1492.9 590.4 L1493.7 588.5 L1494.5 586.6 L1495.3 584.6 L1496 582.6 L1496.7 580.7 L1497.3 578.7 L1497.9 576.7 L1498.5 574.7 L1499.2 572.7 L1499.9 570.7 L1500.6 568.7 L1501.1 566.7"/>
<path d="M1426.1 566.7 L1426.7 568.7 L1427.3 570.7 L1427.9 572.7 L1428.5 574.7 L1429.1 576.7 L1429.8 578.7 L1430.4 580.7 L1431.1 582.7 L1431.7 584.6 L1432.4 586.6 L1433.1 588.6 L1433.7 590.6 L1434.4 592.5 L1435.1 594.5 L1435.7 596.5 L1436.4 598.5 L1437 600.5 L1437.7 602.4 L1438.4 604.4 L1439 606.4 L1439.7 608.4 L1440.4 610.3 L1441.2 612.3 L1441.9 614.2 L1442.7 616.2 L1443.5 618.1 L1444.3 620 L1445.1 621.9 L1446 623.8 L1446.9 625.7 L1447.7 627.6 L1448.7 629.5 L1449.8 631.2 L1451 633 L1452.3 634.6 L1453.7 636.2 L1455.1 637.6 L1456.7 639 L1458.5 640.2 L1460.3 641.1 L1462.3 641.8 L1464.4 642.1 L1466.5 641.8 L1468.6 641.1 L1470.4 640.2 L1472.2 639 L1473.8 637.6 L1475.4 636.2 L1476.8 634.6 L1478.1 633 L1479.3 631.2 L1480.4 629.5 L1481.4 627.6 L1482.3 625.7 L1483.2 623.8 L1484.1 621.9 L1485 620 L1485.8 618.1 L1486.6 616.2 L1487.4 614.2 L1488.2 612.3 L1488.9 610.3 L1489.6 608.4 L1490.3 606.4 L1491 604.4 L1491.7 602.4 L1492.4 600.5 L1493.1 598.5 L1493.8 596.5 L1494.4 594.5 L1495.1 592.5 L1495.8 590.6 L1496.5 588.6 L1497.1 586.6 L1497.8 584.6 L1498.5 582.7 L1499.2 580.7 L1499.8 578.7 L1500.5 576.7 L1501.1 574.7 L1501.8 572.7 L1502.4 570.7 L1503 568.7 L1503.6 566.7"/>
<path d="M1416.8 564.2 L1417.4 566.2 L1418 568.1 L1418.7 570.1 L1419.3 572.1 L1420 574 L1420.8 575.9 L1421.6 577.8 L1422.5 579.7 L1423.4 581.5 L1424.3 583.4 L1425.1 585.3 L1426 587.2 L1426.8 589 L1427.7 590.9 L1428.5 592.8 L1429.4 594.7 L1430.2 596.6 L1431.1 598.5 L1431.9 600.3 L1432.8 602.2 L1433.6 604.1 L1434.4 606 L1435.1 607.9 L1435.9 609.9 L1436.6 611.8 L1437.3 613.7 L1438 615.7 L1438.6 617.7 L1439.2 619.6 L1439.9 621.6 L1440.5 623.5 L1441.2 625.5 L1441.9 627.4 L1442.7 629.4 L1443.5 631.3 L1444.3 633.1 L1445.3 635 L1446.2 636.8 L1447.2 638.6 L1448.3 640.5 L1449.4 642.2 L1450.8 643.7 L1452.4 645 L1454.2 646 L1456.1 646.6 L1458.2 647 L1460.3 647.1 L1462.3 647.3 L1464.4 647.4 L1466.5 647.3 L1468.6 647.1 L1470.7 647 L1472.8 646.6 L1474.8 646 L1476.7 645 L1478.3 643.7 L1479.7 642.2 L1480.9 640.5 L1482 638.6 L1483 636.8 L1484 635 L1484.9 633.1 L1485.8 631.3 L1486.6 629.4 L1487.4 627.4 L1488.1 625.5 L1488.8 623.5 L1489.5 621.6 L1490.1 619.6 L1490.8 617.7 L1491.5 615.7 L1492.1 613.7 L1492.9 611.8 L1493.6 609.9 L1494.4 607.9 L1495.1 606 L1495.9 604.1 L1496.8 602.2 L1497.6 600.3 L1498.5 598.5 L1499.4 596.6 L1500.3 594.7 L1501.1 592.8 L1502 590.9 L1502.9 589 L1503.7 587.2 L1504.6 585.3 L1505.5 583.4 L1506.4 581.5 L1507.3 579.7 L1508.2 577.8 L1509.1 575.9 L1509.8 574 L1510.5 572.1 L1511.2 570.1 L1511.9 568.1 L1512.5 566.2 L1513.1 564.2"/>
<path d="M1416.6 564.2 L1417.2 566.2 L1417.9 568.1 L1418.5 570.1 L1419.1 572 L1419.7 574 L1420.4 575.9 L1421.2 577.8 L1422 579.7 L1422.8 581.6 L1423.7 583.5 L1424.5 585.4 L1425.3 587.2 L1426.1 589.1 L1426.9 591 L1427.7 592.9 L1428.5 594.8 L1429.3 596.7 L1430.1 598.6 L1430.9 600.5 L1431.7 602.4 L1432.5 604.3 L1433.3 606.2 L1434 608.1 L1434.7 610 L1435.4 612 L1436.1 613.9 L1436.8 615.8 L1437.4 617.8 L1438.1 619.7 L1438.7 621.7 L1439.4 623.6 L1440 625.6 L1440.7 627.5 L1441.4 629.5 L1442.1 631.4 L1442.8 633.3 L1443.5 635.2 L1444.2 637.2 L1444.9 639.1 L1445.7 641 L1446.5 642.9 L1447.2 644.8 L1448.1 646.7 L1449 648.5 L1450 650.4 L1451.2 652 L1452.8 653.4 L1454.7 654 L1456.7 653.3 L1458.5 652.4 L1460.4 651.5 L1462.3 650.9 L1464.4 650.5 L1466.5 650.9 L1468.5 651.5 L1470.3 652.4 L1472.3 653.3 L1474.3 654 L1476.2 653.4 L1477.9 652 L1479.1 650.4 L1480.2 648.5 L1481.1 646.7 L1481.9 644.8 L1482.7 642.9 L1483.5 641 L1484.3 639.1 L1485 637.2 L1485.8 635.2 L1486.5 633.3 L1487.2 631.4 L1487.9 629.5 L1488.6 627.5 L1489.3 625.6 L1490 623.6 L1490.7 621.7 L1491.4 619.7 L1492 617.8 L1492.7 615.8 L1493.4 613.9 L1494.1 612 L1494.8 610 L1495.5 608.1 L1496.3 606.2 L1497 604.3 L1497.8 602.4 L1498.7 600.5 L1499.5 598.6 L1500.4 596.7 L1501.2 594.8 L1502 592.9 L1502.8 591 L1503.6 589.1 L1504.4 587.2 L1505.3 585.4 L1506.1 583.5 L1507 581.6 L1507.8 579.7 L1508.7 577.8 L1509.4 575.9 L1510.1 574 L1510.8 572 L1511.4 570.1 L1512.1 568.1 L1512.7 566.2 L1513.3 564.2"/>
<path d="M1410.8 564.2 L1411.5 566.1 L1412.2 568 L1412.8 570 L1413.5 571.9 L1414.2 573.8 L1414.8 575.7 L1415.5 577.7 L1416.1 579.6 L1416.8 581.5 L1417.5 583.4 L1418.1 585.4 L1418.8 587.3 L1419.4 589.2 L1420 591.2 L1420.7 593.1 L1421.3 595 L1421.9 597 L1422.5 598.9 L1423.1 600.9 L1423.7 602.8 L1424.3 604.8 L1424.9 606.7 L1425.5 608.7 L1426.1 610.6 L1426.7 612.6 L1427.2 614.5 L1427.8 616.5 L1428.4 618.4 L1429 620.4 L1429.6 622.3 L1430.2 624.2 L1430.8 626.2 L1431.4 628.1 L1432 630.1 L1432.6 632 L1433.2 634 L1433.8 635.9 L1434.4 637.9 L1435 639.8 L1435.6 641.8 L1436.2 643.7 L1436.8 645.6 L1437.4 647.6 L1438 649.5 L1438.6 651.5 L1439.2 653.4 L1439.8 655.4 L1440.4 657.3 L1441 659.2 L1441.6 661.2 L1442.2 663.1 L1442.8 665.1 L1443.4 667 L1444 669 L1444.6 670.9 L1445.1 672.9 L1445.7 674.8 L1446.3 676.8 L1446.9 678.7 L1447.5 680.7 L1448 682.6 L1448.6 684.6 L1449.2 686.5 L1449.8 688.5 L1450.4 690.4 L1451 692.4 L1451.6 694.3 L1452.2 696.3 L1452.8 698.2 L1453.4 700.2 L1454 702.1 L1454.5 704.1 L1455 706 L1455.5 708 L1455.9 710 L1456.3 712 L1456.7 714 L1457.1 716 L1457.5 718 L1458 720 L1458.6 722 L1459.2 723.9 L1460 725.8 L1461 727.6 L1462.4 729 L1464.4 729.7 L1466.4 729 L1467.8 727.6 L1468.9 725.8 L1469.7 723.9 L1470.3 722 L1470.9 720 L1471.4 718 L1471.8 716 L1472.3 714 L1472.7 712 L1473.1 710 L1473.5 708 L1473.9 706 L1474.5 704.1 L1475 702.1 L1475.6 700.2 L1476.2 698.2 L1476.8 696.3 L1477.5 694.3 L1478.1 692.4 L1478.7 690.4 L1479.3 688.5 L1479.9 686.5 L1480.5 684.6 L1481.1 682.6 L1481.7 680.7 L1482.3 678.7 L1482.9 676.8 L1483.5 674.8 L1484.1 672.9 L1484.7 670.9 L1485.3 669 L1485.9 667 L1486.5 665.1 L1487.1 663.1 L1487.7 661.2 L1488.3 659.2 L1488.9 657.3 L1489.6 655.4 L1490.2 653.4 L1490.8 651.5 L1491.4 649.5 L1492 647.6 L1492.7 645.6 L1493.3 643.7 L1493.9 641.8 L1494.5 639.8 L1495.2 637.9 L1495.8 635.9 L1496.4 634 L1497 632 L1497.6 630.1 L1498.2 628.1 L1498.8 626.2 L1499.4 624.2 L1500 622.3 L1500.6 620.4 L1501.2 618.4 L1501.8 616.5 L1502.4 614.5 L1503 612.6 L1503.6 610.6 L1504.3 608.7 L1504.9 606.7 L1505.5 604.8 L1506.1 602.8 L1506.7 600.9 L1507.3 598.9 L1507.9 597 L1508.6 595 L1509.2 593.1 L1509.8 591.2 L1510.5 589.2 L1511.1 587.3 L1511.8 585.4 L1512.5 583.4 L1513.1 581.5 L1513.8 579.6 L1514.5 577.7 L1515.2 575.7 L1515.9 573.8 L1516.5 571.9 L1517.2 570 L1517.9 568 L1518.6 566.1 L1519.3 564.2"/>
<path d="M1410.8 564.2 L1411.5 566.1 L1412.2 568 L1412.8 569.9 L1413.5 571.9 L1414.1 573.8 L1414.8 575.7 L1415.5 577.6 L1416.1 579.5 L1416.8 581.4 L1417.4 583.4 L1418.1 585.3 L1418.7 587.2 L1419.4 589.1 L1420 591 L1420.6 593 L1421.3 594.9 L1421.9 596.8 L1422.5 598.8 L1423.1 600.7 L1423.7 602.6 L1424.3 604.5 L1424.9 606.5 L1425.5 608.4 L1426.2 610.3 L1426.8 612.3 L1427.4 614.2 L1428 616.2 L1428.6 618.1 L1429.2 620 L1429.8 621.9 L1430.4 623.9 L1431 625.8 L1431.7 627.7 L1432.3 629.7 L1432.9 631.6 L1433.5 633.5 L1434.2 635.4 L1434.8 637.4 L1435.4 639.3 L1436 641.2 L1436.6 643.2 L1437.2 645.1 L1437.7 647.1 L1438.3 649 L1438.9 650.9 L1439.4 652.9 L1440 654.8 L1440.6 656.8 L1441.2 658.7 L1441.7 660.7 L1442.3 662.6 L1442.9 664.5 L1443.5 666.5 L1444.1 668.4 L1444.7 670.4 L1445.3 672.3 L1445.9 674.2 L1446.5 676.2 L1447.1 678.1 L1447.7 680 L1448.3 682 L1448.9 683.9 L1449.5 685.8 L1450.1 687.8 L1450.7 689.7 L1451.3 691.6 L1451.9 693.6 L1452.5 695.5 L1453 697.5 L1453.6 699.4 L1454.1 701.4 L1454.6 703.3 L1455.1 705.3 L1455.6 707.3 L1456 709.2 L1456.5 711.2 L1456.9 713.2 L1457.4 715.2 L1457.9 717.1 L1458.5 719.1 L1459.2 721 L1460 722.9 L1461 724.7 L1462.4 726.1 L1464.4 726.7 L1466.4 726.1 L1467.8 724.7 L1468.8 722.9 L1469.7 721 L1470.4 719.1 L1471 717.1 L1471.5 715.2 L1472 713.2 L1472.5 711.2 L1472.9 709.2 L1473.4 707.3 L1473.8 705.3 L1474.3 703.3 L1474.9 701.4 L1475.4 699.4 L1476 697.5 L1476.6 695.5 L1477.2 693.6 L1477.8 691.6 L1478.4 689.7 L1479 687.8 L1479.6 685.8 L1480.2 683.9 L1480.8 682 L1481.5 680 L1482.1 678.1 L1482.7 676.2 L1483.3 674.2 L1483.9 672.3 L1484.5 670.4 L1485.2 668.4 L1485.8 666.5 L1486.4 664.5 L1487 662.6 L1487.6 660.7 L1488.2 658.7 L1488.8 656.8 L1489.3 654.8 L1489.9 652.9 L1490.5 650.9 L1491.1 649 L1491.7 647.1 L1492.3 645.1 L1492.9 643.2 L1493.5 641.2 L1494.1 639.3 L1494.7 637.4 L1495.4 635.4 L1496 633.5 L1496.6 631.6 L1497.3 629.7 L1497.9 627.7 L1498.6 625.8 L1499.2 623.9 L1499.8 621.9 L1500.5 620 L1501.1 618.1 L1501.7 616.2 L1502.3 614.2 L1502.9 612.3 L1503.6 610.3 L1504.2 608.4 L1504.8 606.5 L1505.4 604.5 L1506 602.6 L1506.7 600.7 L1507.3 598.8 L1507.9 596.8 L1508.6 594.9 L1509.2 593 L1509.9 591 L1510.5 589.1 L1511.2 587.2 L1511.8 585.3 L1512.5 583.4 L1513.2 581.4 L1513.9 579.5 L1514.5 577.6 L1515.2 575.7 L1515.9 573.8 L1516.6 571.9 L1517.2 569.9 L1517.9 568 L1518.6 566.1 L1519.3 564.2"/>
<path d="M1413.5 564.2 L1414.2 566.1 L1414.9 568 L1415.5 570 L1416.2 571.9 L1416.9 573.8 L1417.5 575.8 L1418.2 577.7 L1418.8 579.6 L1419.5 581.5 L1420.2 583.5 L1420.8 585.4 L1421.5 587.3 L1422.1 589.2 L1422.8 591.2 L1423.4 593.1 L1424 595.1 L1424.6 597 L1425.3 598.9 L1425.9 600.9 L1426.5 602.8 L1427.1 604.8 L1427.7 606.7 L1428.3 608.6 L1428.9 610.6 L1429.6 612.5 L1430.2 614.5 L1430.8 616.4 L1431.4 618.4 L1432 620.3 L1432.6 622.2 L1433.2 624.2 L1433.8 626.1 L1434.4 628.1 L1434.9 630 L1435.5 632 L1436.1 633.9 L1436.7 635.9 L1437.3 637.8 L1437.9 639.8 L1438.5 641.7 L1439.1 643.7 L1439.7 645.6 L1440.3 647.6 L1440.9 649.5 L1441.5 651.5 L1442.2 653.4 L1442.8 655.3 L1443.5 657.3 L1444.1 659.2 L1444.7 661.1 L1445.4 663.1 L1446 665 L1446.5 667 L1447.1 668.9 L1447.7 670.9 L1448.2 672.8 L1448.8 674.8 L1449.3 676.8 L1449.9 678.7 L1450.4 680.7 L1451 682.6 L1451.6 684.6 L1452.2 686.5 L1452.8 688.5 L1453.4 690.4 L1453.9 692.4 L1454.5 694.4 L1455 696.3 L1455.4 698.3 L1455.8 700.3 L1456.1 702.3 L1456.5 704.4 L1456.8 706.4 L1457.2 708.4 L1457.6 710.4 L1458 712.4 L1458.6 714.3 L1459.2 716.3 L1460 718.2 L1461 720 L1462.4 721.4 L1464.4 722 L1466.4 721.4 L1467.8 720 L1468.9 718.2 L1469.6 716.3 L1470.3 714.3 L1470.9 712.4 L1471.3 710.4 L1471.7 708.4 L1472.1 706.4 L1472.5 704.4 L1472.8 702.3 L1473.2 700.3 L1473.6 698.3 L1474 696.3 L1474.5 694.4 L1475.1 692.4 L1475.6 690.4 L1476.2 688.5 L1476.8 686.5 L1477.4 684.6 L1478 682.6 L1478.6 680.7 L1479.2 678.7 L1479.8 676.8 L1480.4 674.8 L1480.9 672.8 L1481.5 670.9 L1482.1 668.9 L1482.7 667 L1483.3 665 L1483.9 663.1 L1484.5 661.1 L1485.1 659.2 L1485.8 657.3 L1486.5 655.3 L1487.1 653.4 L1487.8 651.5 L1488.4 649.5 L1489.1 647.6 L1489.7 645.6 L1490.3 643.7 L1490.9 641.7 L1491.5 639.8 L1492.1 637.8 L1492.7 635.9 L1493.4 633.9 L1494 632 L1494.6 630 L1495.2 628.1 L1495.8 626.1 L1496.4 624.2 L1497 622.2 L1497.6 620.3 L1498.2 618.4 L1498.8 616.4 L1499.4 614.5 L1500.1 612.5 L1500.7 610.6 L1501.3 608.6 L1502 606.7 L1502.6 604.8 L1503.2 602.8 L1503.8 600.9 L1504.5 598.9 L1505.1 597 L1505.8 595.1 L1506.4 593.1 L1507 591.2 L1507.7 589.2 L1508.4 587.3 L1509 585.4 L1509.7 583.5 L1510.4 581.5 L1511.1 579.6 L1511.7 577.7 L1512.4 575.8 L1513.1 573.8 L1513.8 571.9 L1514.5 570 L1515.1 568 L1515.8 566.1 L1516.5 564.2"/>
<path d="M1416.8 564.2 L1417.4 566.2 L1418.1 568.1 L1418.7 570.1 L1419.3 572.1 L1419.9 574 L1420.5 576 L1421.1 577.9 L1421.8 579.9 L1422.4 581.8 L1423.1 583.8 L1423.8 585.7 L1424.4 587.7 L1425.1 589.6 L1425.7 591.6 L1426.3 593.6 L1427 595.5 L1427.6 597.5 L1428.2 599.4 L1428.8 601.4 L1429.5 603.4 L1430.1 605.3 L1430.7 607.3 L1431.3 609.3 L1431.9 611.2 L1432.5 613.2 L1433.1 615.2 L1433.6 617.1 L1434.2 619.1 L1434.8 621.1 L1435.4 623.1 L1436 625 L1436.5 627 L1437.1 629 L1437.7 631 L1438.2 632.9 L1438.8 634.9 L1439.4 636.9 L1439.9 638.9 L1440.5 640.8 L1441.1 642.8 L1441.7 644.8 L1442.4 646.7 L1443 648.7 L1443.6 650.7 L1444.3 652.6 L1444.9 654.6 L1445.6 656.5 L1446.2 658.5 L1446.9 660.4 L1447.5 662.4 L1448.1 664.3 L1448.7 666.3 L1449.3 668.3 L1449.9 670.2 L1450.6 672.2 L1451.2 674.2 L1451.9 676.1 L1452.8 677.9 L1453.9 679.7 L1455.2 681.4 L1456.7 682.8 L1458.4 683.9 L1460.3 684.7 L1462.3 685.1 L1464.4 685.3 L1466.5 685.1 L1468.5 684.7 L1470.5 683.9 L1472.3 682.8 L1473.8 681.4 L1475.1 679.7 L1476.2 677.9 L1477.1 676.1 L1477.9 674.2 L1478.5 672.2 L1479.2 670.2 L1479.8 668.3 L1480.4 666.3 L1481 664.3 L1481.7 662.4 L1482.3 660.4 L1483 658.5 L1483.6 656.5 L1484.3 654.6 L1485 652.6 L1485.6 650.7 L1486.3 648.7 L1486.9 646.7 L1487.6 644.8 L1488.2 642.8 L1488.8 640.8 L1489.4 638.9 L1490 636.9 L1490.6 634.9 L1491.2 632.9 L1491.8 631 L1492.3 629 L1492.9 627 L1493.5 625 L1494.1 623.1 L1494.7 621.1 L1495.3 619.1 L1495.9 617.1 L1496.5 615.2 L1497.1 613.2 L1497.7 611.2 L1498.3 609.3 L1498.9 607.3 L1499.5 605.3 L1500.2 603.4 L1500.8 601.4 L1501.4 599.4 L1502.1 597.5 L1502.7 595.5 L1503.4 593.6 L1504 591.6 L1504.7 589.6 L1505.4 587.7 L1506 585.7 L1506.7 583.8 L1507.4 581.8 L1508 579.9 L1508.7 577.9 L1509.3 576 L1510 574 L1510.6 572.1 L1511.2 570.1 L1511.9 568.1 L1512.5 566.2 L1513.1 564.2"/>
<path d="M1451.8 565.2 L1452.5 567.4 L1453.2 569.6 L1454 571.9 L1454.8 574.1 L1455.7 576.2 L1456.6 578.4 L1457.7 580.4 L1458.9 582.5 L1460.3 584.4 L1462.1 585.8 L1464.4 586.4 L1466.7 585.8 L1468.6 584.4 L1470 582.5 L1471.2 580.4 L1472.3 578.4 L1473.3 576.2 L1474.2 574.1 L1475 571.9 L1475.8 569.6 L1476.6 567.4 L1477.3 565.2"/>
<path d="M1448.8 565.2 L1449.5 567.3 L1450.3 569.4 L1451.1 571.5 L1451.9 573.5 L1452.7 575.6 L1453.5 577.7 L1454.4 579.7 L1455.4 581.7 L1456.4 583.6 L1457.6 585.5 L1458.9 587.4 L1460.3 589.1 L1462.1 590.2 L1464.4 590.8 L1466.6 590.2 L1468.5 589.1 L1470 587.4 L1471.3 585.5 L1472.5 583.6 L1473.6 581.7 L1474.6 579.7 L1475.5 577.7 L1476.4 575.6 L1477.2 573.5 L1478 571.5 L1478.8 569.4 L1479.6 567.3 L1480.4 565.2"/>
<path d="M1438.9 565.8 L1440.3 567.5 L1441.7 569.1 L1443.1 570.8 L1444.5 572.5 L1445.9 574.2 L1447.3 575.8 L1448.7 577.5 L1450.2 579.1 L1451.6 580.8 L1453 582.4 L1454.4 584.1 L1455.9 585.7 L1457.2 587.4 L1458.6 589.1 L1459.9 590.9 L1461.2 592.7 L1462.6 594.3 L1464.4 595.6 L1466.2 594.3 L1467.6 592.7 L1469 590.9 L1470.3 589.1 L1471.7 587.4 L1473.1 585.7 L1474.5 584.1 L1476 582.4 L1477.5 580.8 L1479 579.1 L1480.4 577.5 L1481.9 575.8 L1483.3 574.2 L1484.7 572.5 L1486.2 570.8 L1487.6 569.1 L1489 567.5 L1490.5 565.8"/>
<path d="M1442.8 565.8 L1443.9 567.6 L1445.1 569.4 L1446.2 571.2 L1447.4 573 L1448.5 574.8 L1449.7 576.6 L1450.8 578.4 L1452 580.2 L1453.2 582 L1454.4 583.8 L1455.6 585.5 L1456.8 587.3 L1458 589.1 L1459.2 590.9 L1460.3 592.7 L1461.4 594.6 L1462.7 596.2 L1464.4 597.6 L1466.1 596.2 L1467.4 594.6 L1468.5 592.7 L1469.7 590.9 L1470.9 589.1 L1472.1 587.3 L1473.4 585.5 L1474.6 583.8 L1475.8 582 L1477.1 580.2 L1478.3 578.4 L1479.4 576.6 L1480.6 574.8 L1481.8 573 L1483 571.2 L1484.2 569.4 L1485.3 567.6 L1486.5 565.8"/>
<path d="M1436.8 565.2 L1437.7 567.1 L1438.7 569.1 L1439.7 571 L1440.7 572.9 L1441.7 574.8 L1442.8 576.6 L1443.8 578.5 L1444.9 580.4 L1446.1 582.2 L1447.2 584 L1448.4 585.8 L1449.6 587.6 L1450.8 589.4 L1452.1 591.1 L1453.5 592.8 L1454.9 594.4 L1456.5 595.8 L1458.3 597.1 L1460.2 598.1 L1462.2 598.7 L1464.4 599 L1466.6 598.7 L1468.7 598.1 L1470.6 597.1 L1472.4 595.8 L1474 594.4 L1475.6 592.8 L1477 591.1 L1478.3 589.4 L1479.6 587.6 L1480.8 585.8 L1482 584 L1483.1 582.2 L1484.3 580.4 L1485.4 578.5 L1486.5 576.6 L1487.6 574.8 L1488.7 572.9 L1489.7 571 L1490.7 569.1 L1491.7 567.1 L1492.6 565.2"/>
<path d="M1447.2 565.2 L1447.9 567.3 L1448.5 569.4 L1449.1 571.5 L1449.7 573.7 L1450.3 575.8 L1451 577.9 L1451.7 580 L1452.5 582 L1453.5 584 L1454.6 585.9 L1455.8 587.7 L1457.2 589.5 L1458.6 591.3 L1460.2 592.7 L1462.1 593.7 L1464.4 594.2 L1466.7 593.7 L1468.6 592.7 L1470.3 591.3 L1471.8 589.5 L1473.1 587.7 L1474.4 585.9 L1475.5 584 L1476.5 582 L1477.4 580 L1478.1 577.9 L1478.8 575.8 L1479.4 573.7 L1480 571.5 L1480.7 569.4 L1481.3 567.3 L1482 565.2"/>
</g>
<path d="M1464.4 570.5V918.7" stroke="#000" stroke-width="1.7"/>
<path d="M1320.9 813.3H1750.2" stroke="#222" stroke-width="1.35" stroke-dasharray="22 9" fill="none"/>
<path d="M1320.9 831.7H1750.2" stroke="#222" stroke-width="1.35" stroke-dasharray="22 9" fill="none"/>
<path d="M1320.9 847.4H1750.2" stroke="#222" stroke-width="1.35" stroke-dasharray="22 9" fill="none"/>
<path d="M1320.9 570.5H1750.2V918.7H1320.9Z M1611.5 570.5V918.7" fill="none" stroke="#000" stroke-width="2.05"/>
<path d="M1320.9 614h6.4M1605.1 614h6.4M1320.9 657.5h4.9M1607.3 657.5h10.2M1750.2 657.5h-6.5M1320.9 701.1h6.4M1605.1 701.1h6.4M1320.9 744.6h4.9M1607.3 744.6h10.2M1750.2 744.6h-6.5M1320.9 788.1h6.4M1605.1 788.1h6.4M1320.9 831.7h4.9M1607.3 831.7h10.2M1750.2 831.7h-6.5M1320.9 875.2h6.4M1605.1 875.2h6.4M1628.8 570.5v6.2M1628.8 918.7v-6.2M1646.2 570.5v6.2M1646.2 918.7v-6.2M1663.5 570.5v6.2M1663.5 918.7v-6.2M1680.8 570.5v6.2M1680.8 918.7v-6.2M1698.2 570.5v6.2M1698.2 918.7v-6.2M1715.5 570.5v6.2M1715.5 918.7v-6.2M1732.9 570.5v6.2M1732.9 918.7v-6.2" stroke="#000" stroke-width="1.9" fill="none"/>
<text x="1305.9" y="582.2" font-size="22" text-anchor="end" >0.6</text>
<text x="1305.9" y="665.6" font-size="22" text-anchor="end" >0.4</text>
<text x="1305.9" y="752.5" font-size="22" text-anchor="end" >0.2</text>
<text x="1305.9" y="843.7" font-size="22" text-anchor="end" >0.0</text>
<text x="1305.9" y="932.2" font-size="22" text-anchor="end" >-0.2</text>
<text x="1312.6" y="952.2" font-size="24.5" class="sf" >K</text>
<text x="1462.2" y="952.2" font-size="24.5" class="sf" >Γ</text>
<text x="1584.8" y="952.2" font-size="24.5" class="sf" >K'</text>
<text x="1609.4" y="563.2" font-size="18" text-anchor="middle" >-4</text>
<text x="1643.2" y="563.2" font-size="18" text-anchor="middle" >-2</text>
<text x="1676" y="563.2" font-size="18" text-anchor="middle" >0</text>
<text x="1711.3" y="563.2" font-size="18" text-anchor="middle" >2</text>
<text x="1742" y="563.2" font-size="18" text-anchor="middle" >4</text>
<text x='1648.9' y='532.6' font-size='18'><tspan class='sf' font-size='19'>σ</tspan><tspan class='sf' font-style='italic' font-size='12' dy='4.6' dx='-0.8'>xy</tspan><tspan dy='-4.6' dx='2.0'>(</tspan><tspan font-style='italic'>h</tspan>/<tspan font-style='italic'>e</tspan><tspan font-size='11.5' dy='-7'>2</tspan><tspan dy='7'>)</tspan></text>
<text x="1400" y="523.4" font-size="22" xml:space="preserve"><tspan font-style="italic">E</tspan> = +0.0015 V/Å</text>
<text x="1229.8" y="515.4" font-size="30" font-weight="bold" >h</text>
<text transform="translate(1257.7 805.4) rotate(-90)" font-size="24"><tspan font-style="italic">E</tspan>-<tspan font-style="italic">E</tspan><tspan font-size="16.5" dy="4.6">F</tspan><tspan dy="-4.6"> (eV)</tspan></text>
<g transform="translate(1104.6 101.1)"><path d="M67.1 0 L34.2 -58.4 L-34.2 -58.4 L-67.1 0 L-34.2 58.4 L34.2 58.4Z" fill="#b4efad"/><g clip-path="url(#hx)"><g filter="url(#bl2)" opacity="0.75"><g transform="rotate(-30)"><circle cx="52.7" cy="0" r="3.4" fill="#a4e8dc"/></g><g transform="rotate(-90)"><circle cx="52.7" cy="0" r="3.4" fill="#a4e8dc"/></g><g transform="rotate(-150)"><circle cx="52.7" cy="0" r="3.4" fill="#a4e8dc"/></g><g transform="rotate(-210)"><circle cx="52.7" cy="0" r="3.4" fill="#a4e8dc"/></g><g transform="rotate(-270)"><circle cx="52.7" cy="0" r="3.4" fill="#a4e8dc"/></g><g transform="rotate(-330)"><circle cx="52.7" cy="0" r="3.4" fill="#a4e8dc"/></g></g><g filter="url(#bl1)"><g opacity="0.28"><g transform="rotate(-40)"><path d="M8 -5 L40 -1.5 L8 1Z" fill="#eef08c"/></g><g transform="rotate(-100)"><path d="M8 -5 L40 -1.5 L8 1Z" fill="#eef08c"/></g><g transform="rotate(-160)"><path d="M8 -5 L40 -1.5 L8 1Z" fill="#eef08c"/></g><g transform="rotate(-220)"><path d="M8 -5 L40 -1.5 L8 1Z" fill="#eef08c"/></g><g transform="rotate(-280)"><path d="M8 -5 L40 -1.5 L8 1Z" fill="#eef08c"/></g><g transform="rotate(-340)"><path d="M8 -5 L40 -1.5 L8 1Z" fill="#eef08c"/></g></g><g transform="rotate(-30)"><path d="M9 -2.4 L42 0 L9 2.4Z" fill="#7fd6e6" opacity="0.6"/></g><g transform="rotate(-90)"><path d="M9 -2.4 L42 0 L9 2.4Z" fill="#7fd6e6" opacity="0.6"/></g><g transform="rotate(-150)"><path d="M9 -2.4 L42 0 L9 2.4Z" fill="#7fd6e6" opacity="0.6"/></g><g transform="rotate(-210)"><path d="M9 -2.4 L42 0 L9 2.4Z" fill="#7fd6e6" opacity="0.6"/></g><g transform="rotate(-270)"><path d="M9 -2.4 L42 0 L9 2.4Z" fill="#7fd6e6" opacity="0.6"/></g><g transform="rotate(-330)"><path d="M9 -2.4 L42 0 L9 2.4Z" fill="#7fd6e6" opacity="0.6"/></g><g transform="rotate(-8)"><path d="M10 -2 L23 0 L10 2Z" fill="#7fd6e6" opacity="0.9"/></g><g transform="rotate(-68)"><path d="M10 -2 L23 0 L10 2Z" fill="#7fd6e6" opacity="0.9"/></g><g transform="rotate(-128)"><path d="M10 -2 L23 0 L10 2Z" fill="#7fd6e6" opacity="0.9"/></g><g transform="rotate(-188)"><path d="M10 -2 L23 0 L10 2Z" fill="#7fd6e6" opacity="0.9"/></g><g transform="rotate(-248)"><path d="M10 -2 L23 0 L10 2Z" fill="#7fd6e6" opacity="0.9"/></g><g transform="rotate(-308)"><path d="M10 -2 L23 0 L10 2Z" fill="#7fd6e6" opacity="0.9"/></g><g transform="rotate(8)"><path d="M10 -2 L23 0 L10 2Z" fill="#7fd6e6" opacity="0.9"/></g><g transform="rotate(-52)"><path d="M10 -2 L23 0 L10 2Z" fill="#7fd6e6" opacity="0.9"/></g><g transform="rotate(-112)"><path d="M10 -2 L23 0 L10 2Z" fill="#7fd6e6" opacity="0.9"/></g><g transform="rotate(-172)"><path d="M10 -2 L23 0 L10 2Z" fill="#7fd6e6" opacity="0.9"/></g><g transform="rotate(-232)"><path d="M10 -2 L23 0 L10 2Z" fill="#7fd6e6" opacity="0.9"/></g><g transform="rotate(-292)"><path d="M10 -2 L23 0 L10 2Z" fill="#7fd6e6" opacity="0.9"/></g><circle r="14.5" fill="#eef08c" opacity="0.8"/><circle r="16.5" fill="none" stroke="#7fd6e6" stroke-width="2" opacity="0.7"/></g><circle r="6" fill="#b4efad"/><path d="M7.6 -0 L3.8 -6.6 L-3.8 -6.6 L-7.6 -0 L-3.8 6.6 L3.8 6.6Z" fill="none" stroke="#5a3db8" stroke-width="1.5"/><g transform="rotate(-30)"><circle cx="11.2" cy="-1.9" r="0.95" fill="#e5391f"/><circle cx="11.2" cy="1.9" r="0.95" fill="#e5391f"/></g><g transform="rotate(-90)"><circle cx="11.2" cy="-1.9" r="0.95" fill="#e5391f"/><circle cx="11.2" cy="1.9" r="0.95" fill="#e5391f"/></g><g transform="rotate(-150)"><circle cx="11.2" cy="-1.9" r="0.95" fill="#e5391f"/><circle cx="11.2" cy="1.9" r="0.95" fill="#e5391f"/></g><g transform="rotate(-210)"><circle cx="11.2" cy="-1.9" r="0.95" fill="#e5391f"/><circle cx="11.2" cy="1.9" r="0.95" fill="#e5391f"/></g><g transform="rotate(-270)"><circle cx="11.2" cy="-1.9" r="0.95" fill="#e5391f"/><circle cx="11.2" cy="1.9" r="0.95" fill="#e5391f"/></g><g transform="rotate(-330)"><circle cx="11.2" cy="-1.9" r="0.95" fill="#e5391f"/><circle cx="11.2" cy="1.9" r="0.95" fill="#e5391f"/></g><g transform="rotate(0)"><circle cx="9.3" cy="0" r="0.9" fill="#3f5fcb"/></g><g transform="rotate(-60)"><circle cx="9.3" cy="0" r="0.9" fill="#3f5fcb"/></g><g transform="rotate(-120)"><circle cx="9.3" cy="0" r="0.9" fill="#3f5fcb"/></g><g transform="rotate(-180)"><circle cx="9.3" cy="0" r="0.9" fill="#3f5fcb"/></g><g transform="rotate(-240)"><circle cx="9.3" cy="0" r="0.9" fill="#3f5fcb"/></g><g transform="rotate(-300)"><circle cx="9.3" cy="0" r="0.9" fill="#3f5fcb"/></g><circle r="1.6" fill="#f9a24f" opacity="0.8"/></g></g>
<g transform="translate(1104.6 245.5)"><path d="M67.1 0 L34.2 -58.4 L-34.2 -58.4 L-67.1 0 L-34.2 58.4 L34.2 58.4Z" fill="#b4efad"/><g clip-path="url(#hx)"><g filter="url(#bl1)"><g opacity="0.22"><g transform="rotate(-30)"><path d="M30 -1 L58 -7 L58 7 L30 1Z" fill="#eef08c"/></g><g transform="rotate(-90)"><path d="M30 -1 L58 -7 L58 7 L30 1Z" fill="#eef08c"/></g><g transform="rotate(-150)"><path d="M30 -1 L58 -7 L58 7 L30 1Z" fill="#eef08c"/></g><g transform="rotate(-210)"><path d="M30 -1 L58 -7 L58 7 L30 1Z" fill="#eef08c"/></g><g transform="rotate(-270)"><path d="M30 -1 L58 -7 L58 7 L30 1Z" fill="#eef08c"/></g><g transform="rotate(-330)"><path d="M30 -1 L58 -7 L58 7 L30 1Z" fill="#eef08c"/></g></g><g opacity="0.62"><g transform="rotate(-30)"><ellipse cx="27" cy="-3" rx="9.5" ry="1.8" fill="none" stroke="#7fd6e6" stroke-width="1.1" transform="rotate(-4)"/><ellipse cx="27" cy="3" rx="9.5" ry="1.8" fill="none" stroke="#7fd6e6" stroke-width="1.1" transform="rotate(4)"/></g><g transform="rotate(-90)"><ellipse cx="27" cy="-3" rx="9.5" ry="1.8" fill="none" stroke="#7fd6e6" stroke-width="1.1" transform="rotate(-4)"/><ellipse cx="27" cy="3" rx="9.5" ry="1.8" fill="none" stroke="#7fd6e6" stroke-width="1.1" transform="rotate(4)"/></g><g transform="rotate(-150)"><ellipse cx="27" cy="-3" rx="9.5" ry="1.8" fill="none" stroke="#7fd6e6" stroke-width="1.1" transform="rotate(-4)"/><ellipse cx="27" cy="3" rx="9.5" ry="1.8" fill="none" stroke="#7fd6e6" stroke-width="1.1" transform="rotate(4)"/></g><g transform="rotate(-210)"><ellipse cx="27" cy="-3" rx="9.5" ry="1.8" fill="none" stroke="#7fd6e6" stroke-width="1.1" transform="rotate(-4)"/><ellipse cx="27" cy="3" rx="9.5" ry="1.8" fill="none" stroke="#7fd6e6" stroke-width="1.1" transform="rotate(4)"/></g><g transform="rotate(-270)"><ellipse cx="27" cy="-3" rx="9.5" ry="1.8" fill="none" stroke="#7fd6e6" stroke-width="1.1" transform="rotate(-4)"/><ellipse cx="27" cy="3" rx="9.5" ry="1.8" fill="none" stroke="#7fd6e6" stroke-width="1.1" transform="rotate(4)"/></g><g transform="rotate(-330)"><ellipse cx="27" cy="-3" rx="9.5" ry="1.8" fill="none" stroke="#7fd6e6" stroke-width="1.1" transform="rotate(-4)"/><ellipse cx="27" cy="3" rx="9.5" ry="1.8" fill="none" stroke="#7fd6e6" stroke-width="1.1" transform="rotate(4)"/></g></g><circle r="13.5" fill="#a4e8dc" opacity="0.5"/><g transform="rotate(0)"><path d="M22.5 0 L27 -2.2 L27 2.2Z" fill="#eef08c" opacity="0.85"/></g><g transform="rotate(-60)"><path d="M22.5 0 L27 -2.2 L27 2.2Z" fill="#eef08c" opacity="0.85"/></g><g transform="rotate(-120)"><path d="M22.5 0 L27 -2.2 L27 2.2Z" fill="#eef08c" opacity="0.85"/></g><g transform="rotate(-180)"><path d="M22.5 0 L27 -2.2 L27 2.2Z" fill="#eef08c" opacity="0.85"/></g><g transform="rotate(-240)"><path d="M22.5 0 L27 -2.2 L27 2.2Z" fill="#eef08c" opacity="0.85"/></g><g transform="rotate(-300)"><path d="M22.5 0 L27 -2.2 L27 2.2Z" fill="#eef08c" opacity="0.85"/></g></g><path d="M6.2 -0 L3.1 -5.4 L-3.1 -5.4 L-6.2 -0 L-3.1 5.4 L3.1 5.4Z" fill="none" stroke="#e4ee92" stroke-width="3" filter="url(#bl05)"/><g transform="rotate(0)"><circle cx="11" cy="0" r="2.6" fill="#7fd6e6" opacity="0.7"/><circle cx="11" cy="0" r="1.5" fill="#4048c4"/></g><g transform="rotate(-60)"><circle cx="11" cy="0" r="2.6" fill="#7fd6e6" opacity="0.7"/><circle cx="11" cy="0" r="1.5" fill="#4048c4"/></g><g transform="rotate(-120)"><circle cx="11" cy="0" r="2.6" fill="#7fd6e6" opacity="0.7"/><circle cx="11" cy="0" r="1.5" fill="#4048c4"/></g><g transform="rotate(-180)"><circle cx="11" cy="0" r="2.6" fill="#7fd6e6" opacity="0.7"/><circle cx="11" cy="0" r="1.5" fill="#4048c4"/></g><g transform="rotate(-240)"><circle cx="11" cy="0" r="2.6" fill="#7fd6e6" opacity="0.7"/><circle cx="11" cy="0" r="1.5" fill="#4048c4"/></g><g transform="rotate(-300)"><circle cx="11" cy="0" r="2.6" fill="#7fd6e6" opacity="0.7"/><circle cx="11" cy="0" r="1.5" fill="#4048c4"/></g><g filter="url(#bl05)"><g transform="rotate(-30)"><ellipse cx="53" cy="0" rx="1.2" ry="2.1" fill="#e5391f"/><path d="M52.6 -3.9 A4 4 0 0 0 52.6 3.9" fill="none" stroke="#f9a24f" stroke-width="1" opacity="0.85"/></g><g transform="rotate(-90)"><ellipse cx="53" cy="0" rx="1.2" ry="2.1" fill="#e5391f"/><path d="M52.6 -3.9 A4 4 0 0 0 52.6 3.9" fill="none" stroke="#f9a24f" stroke-width="1" opacity="0.85"/></g><g transform="rotate(-150)"><ellipse cx="53" cy="0" rx="1.2" ry="2.1" fill="#e5391f"/><path d="M52.6 -3.9 A4 4 0 0 0 52.6 3.9" fill="none" stroke="#f9a24f" stroke-width="1" opacity="0.85"/></g><g transform="rotate(-210)"><ellipse cx="53" cy="0" rx="1.2" ry="2.1" fill="#e5391f"/><path d="M52.6 -3.9 A4 4 0 0 0 52.6 3.9" fill="none" stroke="#f9a24f" stroke-width="1" opacity="0.85"/></g><g transform="rotate(-270)"><ellipse cx="53" cy="0" rx="1.2" ry="2.1" fill="#e5391f"/><path d="M52.6 -3.9 A4 4 0 0 0 52.6 3.9" fill="none" stroke="#f9a24f" stroke-width="1" opacity="0.85"/></g><g transform="rotate(-330)"><ellipse cx="53" cy="0" rx="1.2" ry="2.1" fill="#e5391f"/><path d="M52.6 -3.9 A4 4 0 0 0 52.6 3.9" fill="none" stroke="#f9a24f" stroke-width="1" opacity="0.85"/></g></g></g></g>
<g transform="translate(1104.6 391.6)"><path d="M67.1 0 L34.2 -58.4 L-34.2 -58.4 L-67.1 0 L-34.2 58.4 L34.2 58.4Z" fill="#b4efad"/><g clip-path="url(#hx)"><g filter="url(#bl1)"><g transform="rotate(-30)"><path d="M14 -6 L58 -8.5 L58 8.5 L14 6Z" fill="#a4e8dc" opacity="0.22"/><path d="M38 -10 L58 -14 L58 -8 Z M38 10 L58 14 L58 8Z" fill="#eef08c" opacity="0.35"/><ellipse cx="57" cy="0" rx="3" ry="6" fill="#a4e8dc" opacity="0.55"/></g><g transform="rotate(-90)"><path d="M14 -6 L58 -8.5 L58 8.5 L14 6Z" fill="#a4e8dc" opacity="0.22"/><path d="M38 -10 L58 -14 L58 -8 Z M38 10 L58 14 L58 8Z" fill="#eef08c" opacity="0.35"/><ellipse cx="57" cy="0" rx="3" ry="6" fill="#a4e8dc" opacity="0.55"/></g><g transform="rotate(-150)"><path d="M14 -6 L58 -8.5 L58 8.5 L14 6Z" fill="#a4e8dc" opacity="0.22"/><path d="M38 -10 L58 -14 L58 -8 Z M38 10 L58 14 L58 8Z" fill="#eef08c" opacity="0.35"/><ellipse cx="57" cy="0" rx="3" ry="6" fill="#a4e8dc" opacity="0.55"/></g><g transform="rotate(-210)"><path d="M14 -6 L58 -8.5 L58 8.5 L14 6Z" fill="#a4e8dc" opacity="0.22"/><path d="M38 -10 L58 -14 L58 -8 Z M38 10 L58 14 L58 8Z" fill="#eef08c" opacity="0.35"/><ellipse cx="57" cy="0" rx="3" ry="6" fill="#a4e8dc" opacity="0.55"/></g><g transform="rotate(-270)"><path d="M14 -6 L58 -8.5 L58 8.5 L14 6Z" fill="#a4e8dc" opacity="0.22"/><path d="M38 -10 L58 -14 L58 -8 Z M38 10 L58 14 L58 8Z" fill="#eef08c" opacity="0.35"/><ellipse cx="57" cy="0" rx="3" ry="6" fill="#a4e8dc" opacity="0.55"/></g><g transform="rotate(-330)"><path d="M14 -6 L58 -8.5 L58 8.5 L14 6Z" fill="#a4e8dc" opacity="0.22"/><path d="M38 -10 L58 -14 L58 -8 Z M38 10 L58 14 L58 8Z" fill="#eef08c" opacity="0.35"/><ellipse cx="57" cy="0" rx="3" ry="6" fill="#a4e8dc" opacity="0.55"/></g><g transform="rotate(0)"><path d="M28 0 L35 -3.5 L35 3.5Z" fill="#eef08c" opacity="0.4"/></g><g transform="rotate(-60)"><path d="M28 0 L35 -3.5 L35 3.5Z" fill="#eef08c" opacity="0.4"/></g><g transform="rotate(-120)"><path d="M28 0 L35 -3.5 L35 3.5Z" fill="#eef08c" opacity="0.4"/></g><g transform="rotate(-180)"><path d="M28 0 L35 -3.5 L35 3.5Z" fill="#eef08c" opacity="0.4"/></g><g transform="rotate(-240)"><path d="M28 0 L35 -3.5 L35 3.5Z" fill="#eef08c" opacity="0.4"/></g><g transform="rotate(-300)"><path d="M28 0 L35 -3.5 L35 3.5Z" fill="#eef08c" opacity="0.4"/></g><g transform="rotate(0)"><circle cx="13.5" cy="0" r="1.8" fill="#7fd6e6" opacity="0.8"/></g><g transform="rotate(-60)"><circle cx="13.5" cy="0" r="1.8" fill="#7fd6e6" opacity="0.8"/></g><g transform="rotate(-120)"><circle cx="13.5" cy="0" r="1.8" fill="#7fd6e6" opacity="0.8"/></g><g transform="rotate(-180)"><circle cx="13.5" cy="0" r="1.8" fill="#7fd6e6" opacity="0.8"/></g><g transform="rotate(-240)"><circle cx="13.5" cy="0" r="1.8" fill="#7fd6e6" opacity="0.8"/></g><g transform="rotate(-300)"><circle cx="13.5" cy="0" r="1.8" fill="#7fd6e6" opacity="0.8"/></g></g><g filter="url(#bl05)"><g transform="rotate(-30)"><path d="M46 -7 L51 -7.6 M46 7 L51 7.6" stroke="#e5391f" stroke-width="1.5" fill="none"/><path d="M39.5 -5.8 L44 -6.2 M39.5 5.8 L44 6.2" stroke="#3f5fcb" stroke-width="1.0" fill="none" opacity="0.85"/><path d="M52 -8.6 L57 -10.5 M52 8.6 L57 10.5" stroke="#f9a24f" stroke-width="1.1" fill="none" opacity="0.8"/></g><g transform="rotate(-90)"><path d="M46 -7 L51 -7.6 M46 7 L51 7.6" stroke="#e5391f" stroke-width="1.5" fill="none"/><path d="M39.5 -5.8 L44 -6.2 M39.5 5.8 L44 6.2" stroke="#3f5fcb" stroke-width="1.0" fill="none" opacity="0.85"/><path d="M52 -8.6 L57 -10.5 M52 8.6 L57 10.5" stroke="#f9a24f" stroke-width="1.1" fill="none" opacity="0.8"/></g><g transform="rotate(-150)"><path d="M46 -7 L51 -7.6 M46 7 L51 7.6" stroke="#e5391f" stroke-width="1.5" fill="none"/><path d="M39.5 -5.8 L44 -6.2 M39.5 5.8 L44 6.2" stroke="#3f5fcb" stroke-width="1.0" fill="none" opacity="0.85"/><path d="M52 -8.6 L57 -10.5 M52 8.6 L57 10.5" stroke="#f9a24f" stroke-width="1.1" fill="none" opacity="0.8"/></g><g transform="rotate(-210)"><path d="M46 -7 L51 -7.6 M46 7 L51 7.6" stroke="#e5391f" stroke-width="1.5" fill="none"/><path d="M39.5 -5.8 L44 -6.2 M39.5 5.8 L44 6.2" stroke="#3f5fcb" stroke-width="1.0" fill="none" opacity="0.85"/><path d="M52 -8.6 L57 -10.5 M52 8.6 L57 10.5" stroke="#f9a24f" stroke-width="1.1" fill="none" opacity="0.8"/></g><g transform="rotate(-270)"><path d="M46 -7 L51 -7.6 M46 7 L51 7.6" stroke="#e5391f" stroke-width="1.5" fill="none"/><path d="M39.5 -5.8 L44 -6.2 M39.5 5.8 L44 6.2" stroke="#3f5fcb" stroke-width="1.0" fill="none" opacity="0.85"/><path d="M52 -8.6 L57 -10.5 M52 8.6 L57 10.5" stroke="#f9a24f" stroke-width="1.1" fill="none" opacity="0.8"/></g><g transform="rotate(-330)"><path d="M46 -7 L51 -7.6 M46 7 L51 7.6" stroke="#e5391f" stroke-width="1.5" fill="none"/><path d="M39.5 -5.8 L44 -6.2 M39.5 5.8 L44 6.2" stroke="#3f5fcb" stroke-width="1.0" fill="none" opacity="0.85"/><path d="M52 -8.6 L57 -10.5 M52 8.6 L57 10.5" stroke="#f9a24f" stroke-width="1.1" fill="none" opacity="0.8"/></g></g><path d="M8.8 -5.1 L0 -10.2 L-8.8 -5.1 L-8.8 5.1 L-0 10.2 L8.8 5.1Z" fill="none" stroke="#f9a24f" stroke-width="3.4" stroke-linejoin="round" filter="url(#bl05)"/><path d="M8.8 -5.1 L0 -10.2 L-8.8 -5.1 L-8.8 5.1 L-0 10.2 L8.8 5.1Z" fill="none" stroke="#e5391f" stroke-width="1.9" stroke-linejoin="round" filter="url(#bl05)"/></g></g>
<g transform="translate(1871.4 79.3)"><path d="M67.1 0 L34.2 -58.4 L-34.2 -58.4 L-67.1 0 L-34.2 58.4 L34.2 58.4Z" fill="#b4efad"/><g clip-path="url(#hx)"><g filter="url(#bl2)" opacity="0.75"><g transform="rotate(-30)"><circle cx="52.7" cy="0" r="3.4" fill="#a4e8dc"/></g><g transform="rotate(-90)"><circle cx="52.7" cy="0" r="3.4" fill="#a4e8dc"/></g><g transform="rotate(-150)"><circle cx="52.7" cy="0" r="3.4" fill="#a4e8dc"/></g><g transform="rotate(-210)"><circle cx="52.7" cy="0" r="3.4" fill="#a4e8dc"/></g><g transform="rotate(-270)"><circle cx="52.7" cy="0" r="3.4" fill="#a4e8dc"/></g><g transform="rotate(-330)"><circle cx="52.7" cy="0" r="3.4" fill="#a4e8dc"/></g></g><g filter="url(#bl1)"><g opacity="0.28"><g transform="rotate(-40)"><path d="M8 -5 L40 -1.5 L8 1Z" fill="#eef08c"/></g><g transform="rotate(-100)"><path d="M8 -5 L40 -1.5 L8 1Z" fill="#eef08c"/></g><g transform="rotate(-160)"><path d="M8 -5 L40 -1.5 L8 1Z" fill="#eef08c"/></g><g transform="rotate(-220)"><path d="M8 -5 L40 -1.5 L8 1Z" fill="#eef08c"/></g><g transform="rotate(-280)"><path d="M8 -5 L40 -1.5 L8 1Z" fill="#eef08c"/></g><g transform="rotate(-340)"><path d="M8 -5 L40 -1.5 L8 1Z" fill="#eef08c"/></g></g><g transform="rotate(-30)"><path d="M9 -2.4 L42 0 L9 2.4Z" fill="#7fd6e6" opacity="0.6"/></g><g transform="rotate(-90)"><path d="M9 -2.4 L42 0 L9 2.4Z" fill="#7fd6e6" opacity="0.6"/></g><g transform="rotate(-150)"><path d="M9 -2.4 L42 0 L9 2.4Z" fill="#7fd6e6" opacity="0.6"/></g><g transform="rotate(-210)"><path d="M9 -2.4 L42 0 L9 2.4Z" fill="#7fd6e6" opacity="0.6"/></g><g transform="rotate(-270)"><path d="M9 -2.4 L42 0 L9 2.4Z" fill="#7fd6e6" opacity="0.6"/></g><g transform="rotate(-330)"><path d="M9 -2.4 L42 0 L9 2.4Z" fill="#7fd6e6" opacity="0.6"/></g><g transform="rotate(-8)"><path d="M10 -2 L23 0 L10 2Z" fill="#7fd6e6" opacity="0.9"/></g><g transform="rotate(-68)"><path d="M10 -2 L23 0 L10 2Z" fill="#7fd6e6" opacity="0.9"/></g><g transform="rotate(-128)"><path d="M10 -2 L23 0 L10 2Z" fill="#7fd6e6" opacity="0.9"/></g><g transform="rotate(-188)"><path d="M10 -2 L23 0 L10 2Z" fill="#7fd6e6" opacity="0.9"/></g><g transform="rotate(-248)"><path d="M10 -2 L23 0 L10 2Z" fill="#7fd6e6" opacity="0.9"/></g><g transform="rotate(-308)"><path d="M10 -2 L23 0 L10 2Z" fill="#7fd6e6" opacity="0.9"/></g><g transform="rotate(8)"><path d="M10 -2 L23 0 L10 2Z" fill="#7fd6e6" opacity="0.9"/></g><g transform="rotate(-52)"><path d="M10 -2 L23 0 L10 2Z" fill="#7fd6e6" opacity="0.9"/></g><g transform="rotate(-112)"><path d="M10 -2 L23 0 L10 2Z" fill="#7fd6e6" opacity="0.9"/></g><g transform="rotate(-172)"><path d="M10 -2 L23 0 L10 2Z" fill="#7fd6e6" opacity="0.9"/></g><g transform="rotate(-232)"><path d="M10 -2 L23 0 L10 2Z" fill="#7fd6e6" opacity="0.9"/></g><g transform="rotate(-292)"><path d="M10 -2 L23 0 L10 2Z" fill="#7fd6e6" opacity="0.9"/></g><circle r="14.5" fill="#eef08c" opacity="0.8"/><circle r="16.5" fill="none" stroke="#7fd6e6" stroke-width="2" opacity="0.7"/></g><circle r="6" fill="#b4efad"/><circle r="15" fill="none" stroke="#3f5fcb" stroke-width="1.1" stroke-dasharray="2.2 3.04" opacity="0.9"/><path d="M6.8 -3.9 L0 -7.8 L-6.8 -3.9 L-6.8 3.9 L-0 7.8 L6.8 3.9Z" fill="none" stroke="#5a3db8" stroke-width="1.5" stroke-dasharray="7 1.2"/><g transform="rotate(0)"><path d="M9.5 -2.6 A3 3 0 0 1 9.5 2.6" fill="none" stroke="#f9a24f" stroke-width="1.6"/></g><g transform="rotate(-60)"><path d="M9.5 -2.6 A3 3 0 0 1 9.5 2.6" fill="none" stroke="#f9a24f" stroke-width="1.6"/></g><g transform="rotate(-120)"><path d="M9.5 -2.6 A3 3 0 0 1 9.5 2.6" fill="none" stroke="#f9a24f" stroke-width="1.6"/></g><g transform="rotate(-180)"><path d="M9.5 -2.6 A3 3 0 0 1 9.5 2.6" fill="none" stroke="#f9a24f" stroke-width="1.6"/></g><g transform="rotate(-240)"><path d="M9.5 -2.6 A3 3 0 0 1 9.5 2.6" fill="none" stroke="#f9a24f" stroke-width="1.6"/></g><g transform="rotate(-300)"><path d="M9.5 -2.6 A3 3 0 0 1 9.5 2.6" fill="none" stroke="#f9a24f" stroke-width="1.6"/></g><g transform="rotate(-30)"><circle cx="10.3" cy="0" r="1.15" fill="#e5391f"/></g><g transform="rotate(-90)"><circle cx="10.3" cy="0" r="1.15" fill="#e5391f"/></g><g transform="rotate(-150)"><circle cx="10.3" cy="0" r="1.15" fill="#e5391f"/></g><g transform="rotate(-210)"><circle cx="10.3" cy="0" r="1.15" fill="#e5391f"/></g><g transform="rotate(-270)"><circle cx="10.3" cy="0" r="1.15" fill="#e5391f"/></g><g transform="rotate(-330)"><circle cx="10.3" cy="0" r="1.15" fill="#e5391f"/></g><circle r="1.6" fill="#f9a24f" opacity="0.8"/></g></g>
<g transform="translate(1871.4 223.5)"><path d="M67.1 0 L34.2 -58.4 L-34.2 -58.4 L-67.1 0 L-34.2 58.4 L34.2 58.4Z" fill="#b4efad"/><g clip-path="url(#hx)"><g filter="url(#bl1)"><g opacity="0.22"><g transform="rotate(-30)"><path d="M30 -1 L58 -7 L58 7 L30 1Z" fill="#eef08c"/></g><g transform="rotate(-90)"><path d="M30 -1 L58 -7 L58 7 L30 1Z" fill="#eef08c"/></g><g transform="rotate(-150)"><path d="M30 -1 L58 -7 L58 7 L30 1Z" fill="#eef08c"/></g><g transform="rotate(-210)"><path d="M30 -1 L58 -7 L58 7 L30 1Z" fill="#eef08c"/></g><g transform="rotate(-270)"><path d="M30 -1 L58 -7 L58 7 L30 1Z" fill="#eef08c"/></g><g transform="rotate(-330)"><path d="M30 -1 L58 -7 L58 7 L30 1Z" fill="#eef08c"/></g></g><g opacity="0.62"><g transform="rotate(-30)"><ellipse cx="27" cy="-3" rx="9.5" ry="1.8" fill="none" stroke="#7fd6e6" stroke-width="1.1" transform="rotate(-4)"/><ellipse cx="27" cy="3" rx="9.5" ry="1.8" fill="none" stroke="#7fd6e6" stroke-width="1.1" transform="rotate(4)"/></g><g transform="rotate(-90)"><ellipse cx="27" cy="-3" rx="9.5" ry="1.8" fill="none" stroke="#7fd6e6" stroke-width="1.1" transform="rotate(-4)"/><ellipse cx="27" cy="3" rx="9.5" ry="1.8" fill="none" stroke="#7fd6e6" stroke-width="1.1" transform="rotate(4)"/></g><g transform="rotate(-150)"><ellipse cx="27" cy="-3" rx="9.5" ry="1.8" fill="none" stroke="#7fd6e6" stroke-width="1.1" transform="rotate(-4)"/><ellipse cx="27" cy="3" rx="9.5" ry="1.8" fill="none" stroke="#7fd6e6" stroke-width="1.1" transform="rotate(4)"/></g><g transform="rotate(-210)"><ellipse cx="27" cy="-3" rx="9.5" ry="1.8" fill="none" stroke="#7fd6e6" stroke-width="1.1" transform="rotate(-4)"/><ellipse cx="27" cy="3" rx="9.5" ry="1.8" fill="none" stroke="#7fd6e6" stroke-width="1.1" transform="rotate(4)"/></g><g transform="rotate(-270)"><ellipse cx="27" cy="-3" rx="9.5" ry="1.8" fill="none" stroke="#7fd6e6" stroke-width="1.1" transform="rotate(-4)"/><ellipse cx="27" cy="3" rx="9.5" ry="1.8" fill="none" stroke="#7fd6e6" stroke-width="1.1" transform="rotate(4)"/></g><g transform="rotate(-330)"><ellipse cx="27" cy="-3" rx="9.5" ry="1.8" fill="none" stroke="#7fd6e6" stroke-width="1.1" transform="rotate(-4)"/><ellipse cx="27" cy="3" rx="9.5" ry="1.8" fill="none" stroke="#7fd6e6" stroke-width="1.1" transform="rotate(4)"/></g></g><circle r="13.5" fill="#a4e8dc" opacity="0.5"/><g transform="rotate(0)"><path d="M22.5 0 L27 -2.2 L27 2.2Z" fill="#eef08c" opacity="0.85"/></g><g transform="rotate(-60)"><path d="M22.5 0 L27 -2.2 L27 2.2Z" fill="#eef08c" opacity="0.85"/></g><g transform="rotate(-120)"><path d="M22.5 0 L27 -2.2 L27 2.2Z" fill="#eef08c" opacity="0.85"/></g><g transform="rotate(-180)"><path d="M22.5 0 L27 -2.2 L27 2.2Z" fill="#eef08c" opacity="0.85"/></g><g transform="rotate(-240)"><path d="M22.5 0 L27 -2.2 L27 2.2Z" fill="#eef08c" opacity="0.85"/></g><g transform="rotate(-300)"><path d="M22.5 0 L27 -2.2 L27 2.2Z" fill="#eef08c" opacity="0.85"/></g></g><path d="M6.2 -0 L3.1 -5.4 L-3.1 -5.4 L-6.2 -0 L-3.1 5.4 L3.1 5.4Z" fill="none" stroke="#e4ee92" stroke-width="3" filter="url(#bl05)"/><g transform="rotate(0)"><circle cx="11" cy="0" r="2.6" fill="#7fd6e6" opacity="0.7"/><circle cx="11" cy="0" r="1.5" fill="#3f5fcb"/></g><g transform="rotate(-60)"><circle cx="11" cy="0" r="2.6" fill="#7fd6e6" opacity="0.7"/><circle cx="11" cy="0" r="1.5" fill="#3f5fcb"/></g><g transform="rotate(-120)"><circle cx="11" cy="0" r="2.6" fill="#7fd6e6" opacity="0.7"/><circle cx="11" cy="0" r="1.5" fill="#3f5fcb"/></g><g transform="rotate(-180)"><circle cx="11" cy="0" r="2.6" fill="#7fd6e6" opacity="0.7"/><circle cx="11" cy="0" r="1.5" fill="#3f5fcb"/></g><g transform="rotate(-240)"><circle cx="11" cy="0" r="2.6" fill="#7fd6e6" opacity="0.7"/><circle cx="11" cy="0" r="1.5" fill="#3f5fcb"/></g><g transform="rotate(-300)"><circle cx="11" cy="0" r="2.6" fill="#7fd6e6" opacity="0.7"/><circle cx="11" cy="0" r="1.5" fill="#3f5fcb"/></g><g filter="url(#bl05)"><g transform="rotate(-30)"><ellipse cx="53" cy="0" rx="1.2" ry="2.1" fill="#e5391f"/><path d="M52.6 -3.9 A4 4 0 0 0 52.6 3.9" fill="none" stroke="#f9a24f" stroke-width="1" opacity="0.85"/></g><g transform="rotate(-90)"><ellipse cx="53" cy="0" rx="1.2" ry="2.1" fill="#e5391f"/><path d="M52.6 -3.9 A4 4 0 0 0 52.6 3.9" fill="none" stroke="#f9a24f" stroke-width="1" opacity="0.85"/></g><g transform="rotate(-150)"><ellipse cx="53" cy="0" rx="1.2" ry="2.1" fill="#e5391f"/><path d="M52.6 -3.9 A4 4 0 0 0 52.6 3.9" fill="none" stroke="#f9a24f" stroke-width="1" opacity="0.85"/></g><g transform="rotate(-210)"><ellipse cx="53" cy="0" rx="1.2" ry="2.1" fill="#e5391f"/><path d="M52.6 -3.9 A4 4 0 0 0 52.6 3.9" fill="none" stroke="#f9a24f" stroke-width="1" opacity="0.85"/></g><g transform="rotate(-270)"><ellipse cx="53" cy="0" rx="1.2" ry="2.1" fill="#e5391f"/><path d="M52.6 -3.9 A4 4 0 0 0 52.6 3.9" fill="none" stroke="#f9a24f" stroke-width="1" opacity="0.85"/></g><g transform="rotate(-330)"><ellipse cx="53" cy="0" rx="1.2" ry="2.1" fill="#e5391f"/><path d="M52.6 -3.9 A4 4 0 0 0 52.6 3.9" fill="none" stroke="#f9a24f" stroke-width="1" opacity="0.85"/></g></g></g></g>
<g transform="translate(1871.4 368.3)"><path d="M67.1 0 L34.2 -58.4 L-34.2 -58.4 L-67.1 0 L-34.2 58.4 L34.2 58.4Z" fill="#b4efad"/><g clip-path="url(#hx)"><g filter="url(#bl1)"><g transform="rotate(-30)"><path d="M14 -6 L58 -8.5 L58 8.5 L14 6Z" fill="#a4e8dc" opacity="0.22"/><path d="M38 -10 L58 -14 L58 -8 Z M38 10 L58 14 L58 8Z" fill="#eef08c" opacity="0.35"/><ellipse cx="57" cy="0" rx="3" ry="6" fill="#a4e8dc" opacity="0.55"/></g><g transform="rotate(-90)"><path d="M14 -6 L58 -8.5 L58 8.5 L14 6Z" fill="#a4e8dc" opacity="0.22"/><path d="M38 -10 L58 -14 L58 -8 Z M38 10 L58 14 L58 8Z" fill="#eef08c" opacity="0.35"/><ellipse cx="57" cy="0" rx="3" ry="6" fill="#a4e8dc" opacity="0.55"/></g><g transform="rotate(-150)"><path d="M14 -6 L58 -8.5 L58 8.5 L14 6Z" fill="#a4e8dc" opacity="0.22"/><path d="M38 -10 L58 -14 L58 -8 Z M38 10 L58 14 L58 8Z" fill="#eef08c" opacity="0.35"/><ellipse cx="57" cy="0" rx="3" ry="6" fill="#a4e8dc" opacity="0.55"/></g><g transform="rotate(-210)"><path d="M14 -6 L58 -8.5 L58 8.5 L14 6Z" fill="#a4e8dc" opacity="0.22"/><path d="M38 -10 L58 -14 L58 -8 Z M38 10 L58 14 L58 8Z" fill="#eef08c" opacity="0.35"/><ellipse cx="57" cy="0" rx="3" ry="6" fill="#a4e8dc" opacity="0.55"/></g><g transform="rotate(-270)"><path d="M14 -6 L58 -8.5 L58 8.5 L14 6Z" fill="#a4e8dc" opacity="0.22"/><path d="M38 -10 L58 -14 L58 -8 Z M38 10 L58 14 L58 8Z" fill="#eef08c" opacity="0.35"/><ellipse cx="57" cy="0" rx="3" ry="6" fill="#a4e8dc" opacity="0.55"/></g><g transform="rotate(-330)"><path d="M14 -6 L58 -8.5 L58 8.5 L14 6Z" fill="#a4e8dc" opacity="0.22"/><path d="M38 -10 L58 -14 L58 -8 Z M38 10 L58 14 L58 8Z" fill="#eef08c" opacity="0.35"/><ellipse cx="57" cy="0" rx="3" ry="6" fill="#a4e8dc" opacity="0.55"/></g><g transform="rotate(0)"><path d="M28 0 L35 -3.5 L35 3.5Z" fill="#eef08c" opacity="0.4"/></g><g transform="rotate(-60)"><path d="M28 0 L35 -3.5 L35 3.5Z" fill="#eef08c" opacity="0.4"/></g><g transform="rotate(-120)"><path d="M28 0 L35 -3.5 L35 3.5Z" fill="#eef08c" opacity="0.4"/></g><g transform="rotate(-180)"><path d="M28 0 L35 -3.5 L35 3.5Z" fill="#eef08c" opacity="0.4"/></g><g transform="rotate(-240)"><path d="M28 0 L35 -3.5 L35 3.5Z" fill="#eef08c" opacity="0.4"/></g><g transform="rotate(-300)"><path d="M28 0 L35 -3.5 L35 3.5Z" fill="#eef08c" opacity="0.4"/></g><g transform="rotate(0)"><circle cx="13.5" cy="0" r="1.8" fill="#7fd6e6" opacity="0.8"/></g><g transform="rotate(-60)"><circle cx="13.5" cy="0" r="1.8" fill="#7fd6e6" opacity="0.8"/></g><g transform="rotate(-120)"><circle cx="13.5" cy="0" r="1.8" fill="#7fd6e6" opacity="0.8"/></g><g transform="rotate(-180)"><circle cx="13.5" cy="0" r="1.8" fill="#7fd6e6" opacity="0.8"/></g><g transform="rotate(-240)"><circle cx="13.5" cy="0" r="1.8" fill="#7fd6e6" opacity="0.8"/></g><g transform="rotate(-300)"><circle cx="13.5" cy="0" r="1.8" fill="#7fd6e6" opacity="0.8"/></g></g><g filter="url(#bl05)"><g transform="rotate(-30)"><path d="M46 -7 L51 -7.6 M46 7 L51 7.6" stroke="#e5391f" stroke-width="1.5" fill="none"/><path d="M39.5 -5.8 L44 -6.2 M39.5 5.8 L44 6.2" stroke="#3f5fcb" stroke-width="1.0" fill="none" opacity="0.85"/><path d="M52 -8.6 L57 -10.5 M52 8.6 L57 10.5" stroke="#f9a24f" stroke-width="1.1" fill="none" opacity="0.8"/></g><g transform="rotate(-90)"><path d="M46 -7 L51 -7.6 M46 7 L51 7.6" stroke="#e5391f" stroke-width="1.5" fill="none"/><path d="M39.5 -5.8 L44 -6.2 M39.5 5.8 L44 6.2" stroke="#3f5fcb" stroke-width="1.0" fill="none" opacity="0.85"/><path d="M52 -8.6 L57 -10.5 M52 8.6 L57 10.5" stroke="#f9a24f" stroke-width="1.1" fill="none" opacity="0.8"/></g><g transform="rotate(-150)"><path d="M46 -7 L51 -7.6 M46 7 L51 7.6" stroke="#e5391f" stroke-width="1.5" fill="none"/><path d="M39.5 -5.8 L44 -6.2 M39.5 5.8 L44 6.2" stroke="#3f5fcb" stroke-width="1.0" fill="none" opacity="0.85"/><path d="M52 -8.6 L57 -10.5 M52 8.6 L57 10.5" stroke="#f9a24f" stroke-width="1.1" fill="none" opacity="0.8"/></g><g transform="rotate(-210)"><path d="M46 -7 L51 -7.6 M46 7 L51 7.6" stroke="#e5391f" stroke-width="1.5" fill="none"/><path d="M39.5 -5.8 L44 -6.2 M39.5 5.8 L44 6.2" stroke="#3f5fcb" stroke-width="1.0" fill="none" opacity="0.85"/><path d="M52 -8.6 L57 -10.5 M52 8.6 L57 10.5" stroke="#f9a24f" stroke-width="1.1" fill="none" opacity="0.8"/></g><g transform="rotate(-270)"><path d="M46 -7 L51 -7.6 M46 7 L51 7.6" stroke="#e5391f" stroke-width="1.5" fill="none"/><path d="M39.5 -5.8 L44 -6.2 M39.5 5.8 L44 6.2" stroke="#3f5fcb" stroke-width="1.0" fill="none" opacity="0.85"/><path d="M52 -8.6 L57 -10.5 M52 8.6 L57 10.5" stroke="#f9a24f" stroke-width="1.1" fill="none" opacity="0.8"/></g><g transform="rotate(-330)"><path d="M46 -7 L51 -7.6 M46 7 L51 7.6" stroke="#e5391f" stroke-width="1.5" fill="none"/><path d="M39.5 -5.8 L44 -6.2 M39.5 5.8 L44 6.2" stroke="#3f5fcb" stroke-width="1.0" fill="none" opacity="0.85"/><path d="M52 -8.6 L57 -10.5 M52 8.6 L57 10.5" stroke="#f9a24f" stroke-width="1.1" fill="none" opacity="0.8"/></g></g><circle r="9.6" fill="none" stroke="#f9a24f" stroke-width="3.8" filter="url(#bl05)"/><circle r="9.6" fill="none" stroke="#e5391f" stroke-width="2.3" filter="url(#bl05)"/></g></g>
<g transform="translate(1104.6 575.9)"><path d="M67.1 0 L34.2 -58.4 L-34.2 -58.4 L-67.1 0 L-34.2 58.4 L34.2 58.4Z" fill="#b4efad"/><g clip-path="url(#hx)"><g filter="url(#bl2)" opacity="0.75"><g transform="rotate(-30)"><circle cx="52.7" cy="0" r="3.4" fill="#a4e8dc"/></g><g transform="rotate(-90)"><circle cx="52.7" cy="0" r="3.4" fill="#a4e8dc"/></g><g transform="rotate(-150)"><circle cx="52.7" cy="0" r="3.4" fill="#a4e8dc"/></g><g transform="rotate(-210)"><circle cx="52.7" cy="0" r="3.4" fill="#a4e8dc"/></g><g transform="rotate(-270)"><circle cx="52.7" cy="0" r="3.4" fill="#a4e8dc"/></g><g transform="rotate(-330)"><circle cx="52.7" cy="0" r="3.4" fill="#a4e8dc"/></g></g><g filter="url(#bl1)"><g opacity="0.28"><g transform="rotate(-40)"><path d="M8 -5 L40 -1.5 L8 1Z" fill="#eef08c"/></g><g transform="rotate(-100)"><path d="M8 -5 L40 -1.5 L8 1Z" fill="#eef08c"/></g><g transform="rotate(-160)"><path d="M8 -5 L40 -1.5 L8 1Z" fill="#eef08c"/></g><g transform="rotate(-220)"><path d="M8 -5 L40 -1.5 L8 1Z" fill="#eef08c"/></g><g transform="rotate(-280)"><path d="M8 -5 L40 -1.5 L8 1Z" fill="#eef08c"/></g><g transform="rotate(-340)"><path d="M8 -5 L40 -1.5 L8 1Z" fill="#eef08c"/></g></g><g transform="rotate(-26)"><path d="M9 -2.4 L42 0 L9 2.4Z" fill="#7fd6e6" opacity="0.6"/></g><g transform="rotate(-86)"><path d="M9 -2.4 L42 0 L9 2.4Z" fill="#7fd6e6" opacity="0.6"/></g><g transform="rotate(-146)"><path d="M9 -2.4 L42 0 L9 2.4Z" fill="#7fd6e6" opacity="0.6"/></g><g transform="rotate(-206)"><path d="M9 -2.4 L42 0 L9 2.4Z" fill="#7fd6e6" opacity="0.6"/></g><g transform="rotate(-266)"><path d="M9 -2.4 L42 0 L9 2.4Z" fill="#7fd6e6" opacity="0.6"/></g><g transform="rotate(-326)"><path d="M9 -2.4 L42 0 L9 2.4Z" fill="#7fd6e6" opacity="0.6"/></g><g transform="rotate(-8)"><path d="M10 -2 L23 0 L10 2Z" fill="#7fd6e6" opacity="0.9"/></g><g transform="rotate(-68)"><path d="M10 -2 L23 0 L10 2Z" fill="#7fd6e6" opacity="0.9"/></g><g transform="rotate(-128)"><path d="M10 -2 L23 0 L10 2Z" fill="#7fd6e6" opacity="0.9"/></g><g transform="rotate(-188)"><path d="M10 -2 L23 0 L10 2Z" fill="#7fd6e6" opacity="0.9"/></g><g transform="rotate(-248)"><path d="M10 -2 L23 0 L10 2Z" fill="#7fd6e6" opacity="0.9"/></g><g transform="rotate(-308)"><path d="M10 -2 L23 0 L10 2Z" fill="#7fd6e6" opacity="0.9"/></g><g transform="rotate(8)"><path d="M10 -2 L23 0 L10 2Z" fill="#7fd6e6" opacity="0.9"/></g><g transform="rotate(-52)"><path d="M10 -2 L23 0 L10 2Z" fill="#7fd6e6" opacity="0.9"/></g><g transform="rotate(-112)"><path d="M10 -2 L23 0 L10 2Z" fill="#7fd6e6" opacity="0.9"/></g><g transform="rotate(-172)"><path d="M10 -2 L23 0 L10 2Z" fill="#7fd6e6" opacity="0.9"/></g><g transform="rotate(-232)"><path d="M10 -2 L23 0 L10 2Z" fill="#7fd6e6" opacity="0.9"/></g><g transform="rotate(-292)"><path d="M10 -2 L23 0 L10 2Z" fill="#7fd6e6" opacity="0.9"/></g><circle r="12.5" fill="#eef08c" opacity="0.55"/><circle r="16.5" fill="none" stroke="#7fd6e6" stroke-width="2" opacity="0.7"/></g><circle r="7.5" fill="#dff09a" opacity="0.9"/><circle r="14.6" fill="none" stroke="#3f5fcb" stroke-width="1.2" stroke-dasharray="2.6 5.04" opacity="0.9"/><g transform="rotate(0)"><path d="M8.6 -3 A3.4 3.4 0 0 1 8.6 3" fill="none" stroke="#5a3db8" stroke-width="1.4"/></g><g transform="rotate(-60)"><path d="M8.6 -3 A3.4 3.4 0 0 1 8.6 3" fill="none" stroke="#5a3db8" stroke-width="1.4"/></g><g transform="rotate(-120)"><path d="M8.6 -3 A3.4 3.4 0 0 1 8.6 3" fill="none" stroke="#5a3db8" stroke-width="1.4"/></g><g transform="rotate(-180)"><path d="M8.6 -3 A3.4 3.4 0 0 1 8.6 3" fill="none" stroke="#5a3db8" stroke-width="1.4"/></g><g transform="rotate(-240)"><path d="M8.6 -3 A3.4 3.4 0 0 1 8.6 3" fill="none" stroke="#5a3db8" stroke-width="1.4"/></g><g transform="rotate(-300)"><path d="M8.6 -3 A3.4 3.4 0 0 1 8.6 3" fill="none" stroke="#5a3db8" stroke-width="1.4"/></g><g transform="rotate(0)"><path d="M10.6 -2.2 A2.6 2.6 0 0 1 10.6 2.2" fill="none" stroke="#e5391f" stroke-width="1.9"/></g><g transform="rotate(-60)"><path d="M10.6 -2.2 A2.6 2.6 0 0 1 10.6 2.2" fill="none" stroke="#e5391f" stroke-width="1.9"/></g><g transform="rotate(-120)"><path d="M10.6 -2.2 A2.6 2.6 0 0 1 10.6 2.2" fill="none" stroke="#e5391f" stroke-width="1.9"/></g><g transform="rotate(-180)"><path d="M10.6 -2.2 A2.6 2.6 0 0 1 10.6 2.2" fill="none" stroke="#e5391f" stroke-width="1.9"/></g><g transform="rotate(-240)"><path d="M10.6 -2.2 A2.6 2.6 0 0 1 10.6 2.2" fill="none" stroke="#e5391f" stroke-width="1.9"/></g><g transform="rotate(-300)"><path d="M10.6 -2.2 A2.6 2.6 0 0 1 10.6 2.2" fill="none" stroke="#e5391f" stroke-width="1.9"/></g><g transform="rotate(-30)"><circle cx="12" cy="0" r="1" fill="#f9a24f"/></g><g transform="rotate(-90)"><circle cx="12" cy="0" r="1" fill="#f9a24f"/></g><g transform="rotate(-150)"><circle cx="12" cy="0" r="1" fill="#f9a24f"/></g><g transform="rotate(-210)"><circle cx="12" cy="0" r="1" fill="#f9a24f"/></g><g transform="rotate(-270)"><circle cx="12" cy="0" r="1" fill="#f9a24f"/></g><g transform="rotate(-330)"><circle cx="12" cy="0" r="1" fill="#f9a24f"/></g><circle r="1.5" fill="#f9a24f" opacity="0.8"/></g></g>
<g transform="translate(1104.6 721.2)"><path d="M67.1 0 L34.2 -58.4 L-34.2 -58.4 L-67.1 0 L-34.2 58.4 L34.2 58.4Z" fill="#b4efad"/><g clip-path="url(#hx)"><g filter="url(#bl1)"><g opacity="0.22"><g transform="rotate(-30)"><path d="M30 -1 L58 -7 L58 7 L30 1Z" fill="#eef08c"/></g><g transform="rotate(-90)"><path d="M30 -1 L58 -7 L58 7 L30 1Z" fill="#eef08c"/></g><g transform="rotate(-150)"><path d="M30 -1 L58 -7 L58 7 L30 1Z" fill="#eef08c"/></g><g transform="rotate(-210)"><path d="M30 -1 L58 -7 L58 7 L30 1Z" fill="#eef08c"/></g><g transform="rotate(-270)"><path d="M30 -1 L58 -7 L58 7 L30 1Z" fill="#eef08c"/></g><g transform="rotate(-330)"><path d="M30 -1 L58 -7 L58 7 L30 1Z" fill="#eef08c"/></g></g><g opacity="0.62"><g transform="rotate(-30)"><ellipse cx="27" cy="-3" rx="9.5" ry="1.8" fill="none" stroke="#7fd6e6" stroke-width="1.1" transform="rotate(-4)"/><ellipse cx="27" cy="3" rx="9.5" ry="1.8" fill="none" stroke="#7fd6e6" stroke-width="1.1" transform="rotate(4)"/></g><g transform="rotate(-90)"><ellipse cx="27" cy="-3" rx="9.5" ry="1.8" fill="none" stroke="#7fd6e6" stroke-width="1.1" transform="rotate(-4)"/><ellipse cx="27" cy="3" rx="9.5" ry="1.8" fill="none" stroke="#7fd6e6" stroke-width="1.1" transform="rotate(4)"/></g><g transform="rotate(-150)"><ellipse cx="27" cy="-3" rx="9.5" ry="1.8" fill="none" stroke="#7fd6e6" stroke-width="1.1" transform="rotate(-4)"/><ellipse cx="27" cy="3" rx="9.5" ry="1.8" fill="none" stroke="#7fd6e6" stroke-width="1.1" transform="rotate(4)"/></g><g transform="rotate(-210)"><ellipse cx="27" cy="-3" rx="9.5" ry="1.8" fill="none" stroke="#7fd6e6" stroke-width="1.1" transform="rotate(-4)"/><ellipse cx="27" cy="3" rx="9.5" ry="1.8" fill="none" stroke="#7fd6e6" stroke-width="1.1" transform="rotate(4)"/></g><g transform="rotate(-270)"><ellipse cx="27" cy="-3" rx="9.5" ry="1.8" fill="none" stroke="#7fd6e6" stroke-width="1.1" transform="rotate(-4)"/><ellipse cx="27" cy="3" rx="9.5" ry="1.8" fill="none" stroke="#7fd6e6" stroke-width="1.1" transform="rotate(4)"/></g><g transform="rotate(-330)"><ellipse cx="27" cy="-3" rx="9.5" ry="1.8" fill="none" stroke="#7fd6e6" stroke-width="1.1" transform="rotate(-4)"/><ellipse cx="27" cy="3" rx="9.5" ry="1.8" fill="none" stroke="#7fd6e6" stroke-width="1.1" transform="rotate(4)"/></g></g><circle r="13.5" fill="#a4e8dc" opacity="0.5"/><g transform="rotate(0)"><path d="M22.5 0 L27 -2.2 L27 2.2Z" fill="#eef08c" opacity="0.85"/></g><g transform="rotate(-60)"><path d="M22.5 0 L27 -2.2 L27 2.2Z" fill="#eef08c" opacity="0.85"/></g><g transform="rotate(-120)"><path d="M22.5 0 L27 -2.2 L27 2.2Z" fill="#eef08c" opacity="0.85"/></g><g transform="rotate(-180)"><path d="M22.5 0 L27 -2.2 L27 2.2Z" fill="#eef08c" opacity="0.85"/></g><g transform="rotate(-240)"><path d="M22.5 0 L27 -2.2 L27 2.2Z" fill="#eef08c" opacity="0.85"/></g><g transform="rotate(-300)"><path d="M22.5 0 L27 -2.2 L27 2.2Z" fill="#eef08c" opacity="0.85"/></g></g><path d="M7.4 -0 L3.7 -6.4 L-3.7 -6.4 L-7.4 -0 L-3.7 6.4 L3.7 6.4Z" fill="none" stroke="#e9ee84" stroke-width="2.6" filter="url(#bl05)"/><g transform="rotate(0)"><circle cx="11.3" cy="0" r="2.7" fill="#7fd6e6" opacity="0.7"/><circle cx="11.3" cy="0" r="1.7" fill="#5a3db8"/></g><g transform="rotate(-120)"><circle cx="11.3" cy="0" r="2.7" fill="#7fd6e6" opacity="0.7"/><circle cx="11.3" cy="0" r="1.7" fill="#5a3db8"/></g><g transform="rotate(-240)"><circle cx="11.3" cy="0" r="2.7" fill="#7fd6e6" opacity="0.7"/><circle cx="11.3" cy="0" r="1.7" fill="#5a3db8"/></g><g transform="rotate(-60)"><path d="M14.8 -3.6 A5 5 0 0 1 14.8 3.6" fill="none" stroke="#5a3db8" stroke-width="1.3"/></g><g transform="rotate(-180)"><path d="M14.8 -3.6 A5 5 0 0 1 14.8 3.6" fill="none" stroke="#5a3db8" stroke-width="1.3"/></g><g transform="rotate(-300)"><path d="M14.8 -3.6 A5 5 0 0 1 14.8 3.6" fill="none" stroke="#5a3db8" stroke-width="1.3"/></g><g filter="url(#bl05)"><g transform="rotate(-30)"><path d="M18 -4.4 L30 -6.2 M18 4.4 L30 6.2" stroke="#6aa5de" stroke-width="1.2" fill="none" opacity="0.9"/><path d="M32 -6.5 L46 -7.6 M32 6.5 L46 7.6" stroke="#7fd6e6" stroke-width="1" fill="none" opacity="0.7"/></g><g transform="rotate(-90)"><path d="M18 -4.4 L30 -6.2 M18 4.4 L30 6.2" stroke="#6aa5de" stroke-width="1.2" fill="none" opacity="0.9"/><path d="M32 -6.5 L46 -7.6 M32 6.5 L46 7.6" stroke="#7fd6e6" stroke-width="1" fill="none" opacity="0.7"/></g><g transform="rotate(-150)"><path d="M18 -4.4 L30 -6.2 M18 4.4 L30 6.2" stroke="#6aa5de" stroke-width="1.2" fill="none" opacity="0.9"/><path d="M32 -6.5 L46 -7.6 M32 6.5 L46 7.6" stroke="#7fd6e6" stroke-width="1" fill="none" opacity="0.7"/></g><g transform="rotate(-210)"><path d="M18 -4.4 L30 -6.2 M18 4.4 L30 6.2" stroke="#6aa5de" stroke-width="1.2" fill="none" opacity="0.9"/><path d="M32 -6.5 L46 -7.6 M32 6.5 L46 7.6" stroke="#7fd6e6" stroke-width="1" fill="none" opacity="0.7"/></g><g transform="rotate(-270)"><path d="M18 -4.4 L30 -6.2 M18 4.4 L30 6.2" stroke="#6aa5de" stroke-width="1.2" fill="none" opacity="0.9"/><path d="M32 -6.5 L46 -7.6 M32 6.5 L46 7.6" stroke="#7fd6e6" stroke-width="1" fill="none" opacity="0.7"/></g><g transform="rotate(-330)"><path d="M18 -4.4 L30 -6.2 M18 4.4 L30 6.2" stroke="#6aa5de" stroke-width="1.2" fill="none" opacity="0.9"/><path d="M32 -6.5 L46 -7.6 M32 6.5 L46 7.6" stroke="#7fd6e6" stroke-width="1" fill="none" opacity="0.7"/></g></g><g filter="url(#bl05)"><g transform="rotate(-30)"><ellipse cx="52.5" cy="-4" rx="1.4" ry="1.8" fill="#f9a24f"/></g><g transform="rotate(-90)"><ellipse cx="52.5" cy="-4" rx="1.4" ry="1.8" fill="#f9a24f"/></g><g transform="rotate(-150)"><ellipse cx="52.5" cy="-4" rx="1.4" ry="1.8" fill="#f9a24f"/></g><g transform="rotate(-210)"><ellipse cx="52.5" cy="-4" rx="1.4" ry="1.8" fill="#f9a24f"/></g><g transform="rotate(-270)"><ellipse cx="52.5" cy="-4" rx="1.4" ry="1.8" fill="#f9a24f"/></g><g transform="rotate(-330)"><ellipse cx="52.5" cy="-4" rx="1.4" ry="1.8" fill="#f9a24f"/></g></g></g></g>
<g transform="translate(1104.6 866)"><path d="M67.1 0 L34.2 -58.4 L-34.2 -58.4 L-67.1 0 L-34.2 58.4 L34.2 58.4Z" fill="#b4efad"/><g clip-path="url(#hx)"><g filter="url(#bl1)"><g transform="rotate(-30)"><path d="M14 -6 L58 -8.5 L58 8.5 L14 6Z" fill="#a4e8dc" opacity="0.22"/><path d="M38 -10 L58 -14 L58 -8 Z M38 10 L58 14 L58 8Z" fill="#eef08c" opacity="0.35"/><ellipse cx="57" cy="0" rx="3" ry="6" fill="#a4e8dc" opacity="0.55"/></g><g transform="rotate(-90)"><path d="M14 -6 L58 -8.5 L58 8.5 L14 6Z" fill="#a4e8dc" opacity="0.22"/><path d="M38 -10 L58 -14 L58 -8 Z M38 10 L58 14 L58 8Z" fill="#eef08c" opacity="0.35"/><ellipse cx="57" cy="0" rx="3" ry="6" fill="#a4e8dc" opacity="0.55"/></g><g transform="rotate(-150)"><path d="M14 -6 L58 -8.5 L58 8.5 L14 6Z" fill="#a4e8dc" opacity="0.22"/><path d="M38 -10 L58 -14 L58 -8 Z M38 10 L58 14 L58 8Z" fill="#eef08c" opacity="0.35"/><ellipse cx="57" cy="0" rx="3" ry="6" fill="#a4e8dc" opacity="0.55"/></g><g transform="rotate(-210)"><path d="M14 -6 L58 -8.5 L58 8.5 L14 6Z" fill="#a4e8dc" opacity="0.22"/><path d="M38 -10 L58 -14 L58 -8 Z M38 10 L58 14 L58 8Z" fill="#eef08c" opacity="0.35"/><ellipse cx="57" cy="0" rx="3" ry="6" fill="#a4e8dc" opacity="0.55"/></g><g transform="rotate(-270)"><path d="M14 -6 L58 -8.5 L58 8.5 L14 6Z" fill="#a4e8dc" opacity="0.22"/><path d="M38 -10 L58 -14 L58 -8 Z M38 10 L58 14 L58 8Z" fill="#eef08c" opacity="0.35"/><ellipse cx="57" cy="0" rx="3" ry="6" fill="#a4e8dc" opacity="0.55"/></g><g transform="rotate(-330)"><path d="M14 -6 L58 -8.5 L58 8.5 L14 6Z" fill="#a4e8dc" opacity="0.22"/><path d="M38 -10 L58 -14 L58 -8 Z M38 10 L58 14 L58 8Z" fill="#eef08c" opacity="0.35"/><ellipse cx="57" cy="0" rx="3" ry="6" fill="#a4e8dc" opacity="0.55"/></g><g transform="rotate(0)"><path d="M28 0 L35 -3.5 L35 3.5Z" fill="#eef08c" opacity="0.4"/></g><g transform="rotate(-60)"><path d="M28 0 L35 -3.5 L35 3.5Z" fill="#eef08c" opacity="0.4"/></g><g transform="rotate(-120)"><path d="M28 0 L35 -3.5 L35 3.5Z" fill="#eef08c" opacity="0.4"/></g><g transform="rotate(-180)"><path d="M28 0 L35 -3.5 L35 3.5Z" fill="#eef08c" opacity="0.4"/></g><g transform="rotate(-240)"><path d="M28 0 L35 -3.5 L35 3.5Z" fill="#eef08c" opacity="0.4"/></g><g transform="rotate(-300)"><path d="M28 0 L35 -3.5 L35 3.5Z" fill="#eef08c" opacity="0.4"/></g><g transform="rotate(0)"><circle cx="13.5" cy="0" r="1.8" fill="#7fd6e6" opacity="0.8"/></g><g transform="rotate(-60)"><circle cx="13.5" cy="0" r="1.8" fill="#7fd6e6" opacity="0.8"/></g><g transform="rotate(-120)"><circle cx="13.5" cy="0" r="1.8" fill="#7fd6e6" opacity="0.8"/></g><g transform="rotate(-180)"><circle cx="13.5" cy="0" r="1.8" fill="#7fd6e6" opacity="0.8"/></g><g transform="rotate(-240)"><circle cx="13.5" cy="0" r="1.8" fill="#7fd6e6" opacity="0.8"/></g><g transform="rotate(-300)"><circle cx="13.5" cy="0" r="1.8" fill="#7fd6e6" opacity="0.8"/></g></g><g filter="url(#bl05)"><g transform="rotate(-30)"><path d="M46 -7 L51 -7.6 M46 7 L51 7.6" stroke="#5a3db8" stroke-width="1.5" fill="none"/><path d="M39.5 -5.8 L44 -6.2 M39.5 5.8 L44 6.2" stroke="#f9a24f" stroke-width="1.0" fill="none" opacity="0.85"/><path d="M52 -8.6 L57 -10.5 M52 8.6 L57 10.5" stroke="#f9a24f" stroke-width="1.1" fill="none" opacity="0.8"/></g><g transform="rotate(-90)"><path d="M46 -7 L51 -7.6 M46 7 L51 7.6" stroke="#5a3db8" stroke-width="1.5" fill="none"/><path d="M39.5 -5.8 L44 -6.2 M39.5 5.8 L44 6.2" stroke="#f9a24f" stroke-width="1.0" fill="none" opacity="0.85"/><path d="M52 -8.6 L57 -10.5 M52 8.6 L57 10.5" stroke="#f9a24f" stroke-width="1.1" fill="none" opacity="0.8"/></g><g transform="rotate(-150)"><path d="M46 -7 L51 -7.6 M46 7 L51 7.6" stroke="#5a3db8" stroke-width="1.5" fill="none"/><path d="M39.5 -5.8 L44 -6.2 M39.5 5.8 L44 6.2" stroke="#f9a24f" stroke-width="1.0" fill="none" opacity="0.85"/><path d="M52 -8.6 L57 -10.5 M52 8.6 L57 10.5" stroke="#f9a24f" stroke-width="1.1" fill="none" opacity="0.8"/></g><g transform="rotate(-210)"><path d="M46 -7 L51 -7.6 M46 7 L51 7.6" stroke="#5a3db8" stroke-width="1.5" fill="none"/><path d="M39.5 -5.8 L44 -6.2 M39.5 5.8 L44 6.2" stroke="#f9a24f" stroke-width="1.0" fill="none" opacity="0.85"/><path d="M52 -8.6 L57 -10.5 M52 8.6 L57 10.5" stroke="#f9a24f" stroke-width="1.1" fill="none" opacity="0.8"/></g><g transform="rotate(-270)"><path d="M46 -7 L51 -7.6 M46 7 L51 7.6" stroke="#5a3db8" stroke-width="1.5" fill="none"/><path d="M39.5 -5.8 L44 -6.2 M39.5 5.8 L44 6.2" stroke="#f9a24f" stroke-width="1.0" fill="none" opacity="0.85"/><path d="M52 -8.6 L57 -10.5 M52 8.6 L57 10.5" stroke="#f9a24f" stroke-width="1.1" fill="none" opacity="0.8"/></g><g transform="rotate(-330)"><path d="M46 -7 L51 -7.6 M46 7 L51 7.6" stroke="#5a3db8" stroke-width="1.5" fill="none"/><path d="M39.5 -5.8 L44 -6.2 M39.5 5.8 L44 6.2" stroke="#f9a24f" stroke-width="1.0" fill="none" opacity="0.85"/><path d="M52 -8.6 L57 -10.5 M52 8.6 L57 10.5" stroke="#f9a24f" stroke-width="1.1" fill="none" opacity="0.8"/></g></g><circle r="10.6" fill="none" stroke="#f9a24f" stroke-width="2.3" stroke-dasharray="8.2 2.9" transform="rotate(45)" filter="url(#bl05)"/><circle r="10.6" fill="none" stroke="#5a3db8" stroke-width="2.3" stroke-dasharray="3.3 18.9" transform="rotate(-12)" filter="url(#bl05)"/></g></g>
<g transform="translate(1871.4 577.5)"><path d="M67.1 0 L34.2 -58.4 L-34.2 -58.4 L-67.1 0 L-34.2 58.4 L34.2 58.4Z" fill="#b4efad"/><g clip-path="url(#hx)"><g filter="url(#bl2)" opacity="0.75"><g transform="rotate(-30)"><circle cx="52.7" cy="0" r="3.4" fill="#a4e8dc"/></g><g transform="rotate(-90)"><circle cx="52.7" cy="0" r="3.4" fill="#a4e8dc"/></g><g transform="rotate(-150)"><circle cx="52.7" cy="0" r="3.4" fill="#a4e8dc"/></g><g transform="rotate(-210)"><circle cx="52.7" cy="0" r="3.4" fill="#a4e8dc"/></g><g transform="rotate(-270)"><circle cx="52.7" cy="0" r="3.4" fill="#a4e8dc"/></g><g transform="rotate(-330)"><circle cx="52.7" cy="0" r="3.4" fill="#a4e8dc"/></g></g><g filter="url(#bl1)"><g opacity="0.28"><g transform="rotate(-40)"><path d="M8 -5 L40 -1.5 L8 1Z" fill="#eef08c"/></g><g transform="rotate(-100)"><path d="M8 -5 L40 -1.5 L8 1Z" fill="#eef08c"/></g><g transform="rotate(-160)"><path d="M8 -5 L40 -1.5 L8 1Z" fill="#eef08c"/></g><g transform="rotate(-220)"><path d="M8 -5 L40 -1.5 L8 1Z" fill="#eef08c"/></g><g transform="rotate(-280)"><path d="M8 -5 L40 -1.5 L8 1Z" fill="#eef08c"/></g><g transform="rotate(-340)"><path d="M8 -5 L40 -1.5 L8 1Z" fill="#eef08c"/></g></g><g transform="rotate(-26)"><path d="M9 -2.4 L42 0 L9 2.4Z" fill="#7fd6e6" opacity="0.6"/></g><g transform="rotate(-86)"><path d="M9 -2.4 L42 0 L9 2.4Z" fill="#7fd6e6" opacity="0.6"/></g><g transform="rotate(-146)"><path d="M9 -2.4 L42 0 L9 2.4Z" fill="#7fd6e6" opacity="0.6"/></g><g transform="rotate(-206)"><path d="M9 -2.4 L42 0 L9 2.4Z" fill="#7fd6e6" opacity="0.6"/></g><g transform="rotate(-266)"><path d="M9 -2.4 L42 0 L9 2.4Z" fill="#7fd6e6" opacity="0.6"/></g><g transform="rotate(-326)"><path d="M9 -2.4 L42 0 L9 2.4Z" fill="#7fd6e6" opacity="0.6"/></g><g transform="rotate(-8)"><path d="M10 -2 L23 0 L10 2Z" fill="#7fd6e6" opacity="0.9"/></g><g transform="rotate(-68)"><path d="M10 -2 L23 0 L10 2Z" fill="#7fd6e6" opacity="0.9"/></g><g transform="rotate(-128)"><path d="M10 -2 L23 0 L10 2Z" fill="#7fd6e6" opacity="0.9"/></g><g transform="rotate(-188)"><path d="M10 -2 L23 0 L10 2Z" fill="#7fd6e6" opacity="0.9"/></g><g transform="rotate(-248)"><path d="M10 -2 L23 0 L10 2Z" fill="#7fd6e6" opacity="0.9"/></g><g transform="rotate(-308)"><path d="M10 -2 L23 0 L10 2Z" fill="#7fd6e6" opacity="0.9"/></g><g transform="rotate(8)"><path d="M10 -2 L23 0 L10 2Z" fill="#7fd6e6" opacity="0.9"/></g><g transform="rotate(-52)"><path d="M10 -2 L23 0 L10 2Z" fill="#7fd6e6" opacity="0.9"/></g><g transform="rotate(-112)"><path d="M10 -2 L23 0 L10 2Z" fill="#7fd6e6" opacity="0.9"/></g><g transform="rotate(-172)"><path d="M10 -2 L23 0 L10 2Z" fill="#7fd6e6" opacity="0.9"/></g><g transform="rotate(-232)"><path d="M10 -2 L23 0 L10 2Z" fill="#7fd6e6" opacity="0.9"/></g><g transform="rotate(-292)"><path d="M10 -2 L23 0 L10 2Z" fill="#7fd6e6" opacity="0.9"/></g><circle r="12.5" fill="#eef08c" opacity="0.55"/><circle r="16.5" fill="none" stroke="#7fd6e6" stroke-width="2" opacity="0.7"/></g><circle r="7.5" fill="#dff09a" opacity="0.9"/><circle r="14.6" fill="none" stroke="#3f5fcb" stroke-width="1.2" stroke-dasharray="2.6 5.04" opacity="0.9"/><g transform="rotate(0)"><path d="M8.6 -3 A3.4 3.4 0 0 1 8.6 3" fill="none" stroke="#5a3db8" stroke-width="1.4"/></g><g transform="rotate(-60)"><path d="M8.6 -3 A3.4 3.4 0 0 1 8.6 3" fill="none" stroke="#5a3db8" stroke-width="1.4"/></g><g transform="rotate(-120)"><path d="M8.6 -3 A3.4 3.4 0 0 1 8.6 3" fill="none" stroke="#5a3db8" stroke-width="1.4"/></g><g transform="rotate(-180)"><path d="M8.6 -3 A3.4 3.4 0 0 1 8.6 3" fill="none" stroke="#5a3db8" stroke-width="1.4"/></g><g transform="rotate(-240)"><path d="M8.6 -3 A3.4 3.4 0 0 1 8.6 3" fill="none" stroke="#5a3db8" stroke-width="1.4"/></g><g transform="rotate(-300)"><path d="M8.6 -3 A3.4 3.4 0 0 1 8.6 3" fill="none" stroke="#5a3db8" stroke-width="1.4"/></g><g transform="rotate(-15)"><path d="M10.6 -2.2 A2.6 2.6 0 0 1 10.6 2.2" fill="none" stroke="#e5391f" stroke-width="1.9"/></g><g transform="rotate(-75)"><path d="M10.6 -2.2 A2.6 2.6 0 0 1 10.6 2.2" fill="none" stroke="#e5391f" stroke-width="1.9"/></g><g transform="rotate(-135)"><path d="M10.6 -2.2 A2.6 2.6 0 0 1 10.6 2.2" fill="none" stroke="#e5391f" stroke-width="1.9"/></g><g transform="rotate(-195)"><path d="M10.6 -2.2 A2.6 2.6 0 0 1 10.6 2.2" fill="none" stroke="#e5391f" stroke-width="1.9"/></g><g transform="rotate(-255)"><path d="M10.6 -2.2 A2.6 2.6 0 0 1 10.6 2.2" fill="none" stroke="#e5391f" stroke-width="1.9"/></g><g transform="rotate(-315)"><path d="M10.6 -2.2 A2.6 2.6 0 0 1 10.6 2.2" fill="none" stroke="#e5391f" stroke-width="1.9"/></g><g transform="rotate(-30)"><circle cx="12" cy="0" r="1" fill="#f9a24f"/></g><g transform="rotate(-90)"><circle cx="12" cy="0" r="1" fill="#f9a24f"/></g><g transform="rotate(-150)"><circle cx="12" cy="0" r="1" fill="#f9a24f"/></g><g transform="rotate(-210)"><circle cx="12" cy="0" r="1" fill="#f9a24f"/></g><g transform="rotate(-270)"><circle cx="12" cy="0" r="1" fill="#f9a24f"/></g><g transform="rotate(-330)"><circle cx="12" cy="0" r="1" fill="#f9a24f"/></g><circle r="1.5" fill="#f9a24f" opacity="0.8"/></g></g>
<g transform="translate(1871.4 718.3)"><path d="M67.1 0 L34.2 -58.4 L-34.2 -58.4 L-67.1 0 L-34.2 58.4 L34.2 58.4Z" fill="#b4efad"/><g clip-path="url(#hx)"><g filter="url(#bl1)"><g opacity="0.22"><g transform="rotate(-30)"><path d="M30 -1 L58 -7 L58 7 L30 1Z" fill="#eef08c"/></g><g transform="rotate(-90)"><path d="M30 -1 L58 -7 L58 7 L30 1Z" fill="#eef08c"/></g><g transform="rotate(-150)"><path d="M30 -1 L58 -7 L58 7 L30 1Z" fill="#eef08c"/></g><g transform="rotate(-210)"><path d="M30 -1 L58 -7 L58 7 L30 1Z" fill="#eef08c"/></g><g transform="rotate(-270)"><path d="M30 -1 L58 -7 L58 7 L30 1Z" fill="#eef08c"/></g><g transform="rotate(-330)"><path d="M30 -1 L58 -7 L58 7 L30 1Z" fill="#eef08c"/></g></g><g opacity="0.62"><g transform="rotate(-30)"><ellipse cx="27" cy="-3" rx="9.5" ry="1.8" fill="none" stroke="#7fd6e6" stroke-width="1.1" transform="rotate(-4)"/><ellipse cx="27" cy="3" rx="9.5" ry="1.8" fill="none" stroke="#7fd6e6" stroke-width="1.1" transform="rotate(4)"/></g><g transform="rotate(-90)"><ellipse cx="27" cy="-3" rx="9.5" ry="1.8" fill="none" stroke="#7fd6e6" stroke-width="1.1" transform="rotate(-4)"/><ellipse cx="27" cy="3" rx="9.5" ry="1.8" fill="none" stroke="#7fd6e6" stroke-width="1.1" transform="rotate(4)"/></g><g transform="rotate(-150)"><ellipse cx="27" cy="-3" rx="9.5" ry="1.8" fill="none" stroke="#7fd6e6" stroke-width="1.1" transform="rotate(-4)"/><ellipse cx="27" cy="3" rx="9.5" ry="1.8" fill="none" stroke="#7fd6e6" stroke-width="1.1" transform="rotate(4)"/></g><g transform="rotate(-210)"><ellipse cx="27" cy="-3" rx="9.5" ry="1.8" fill="none" stroke="#7fd6e6" stroke-width="1.1" transform="rotate(-4)"/><ellipse cx="27" cy="3" rx="9.5" ry="1.8" fill="none" stroke="#7fd6e6" stroke-width="1.1" transform="rotate(4)"/></g><g transform="rotate(-270)"><ellipse cx="27" cy="-3" rx="9.5" ry="1.8" fill="none" stroke="#7fd6e6" stroke-width="1.1" transform="rotate(-4)"/><ellipse cx="27" cy="3" rx="9.5" ry="1.8" fill="none" stroke="#7fd6e6" stroke-width="1.1" transform="rotate(4)"/></g><g transform="rotate(-330)"><ellipse cx="27" cy="-3" rx="9.5" ry="1.8" fill="none" stroke="#7fd6e6" stroke-width="1.1" transform="rotate(-4)"/><ellipse cx="27" cy="3" rx="9.5" ry="1.8" fill="none" stroke="#7fd6e6" stroke-width="1.1" transform="rotate(4)"/></g></g><circle r="13.5" fill="#a4e8dc" opacity="0.5"/><g transform="rotate(0)"><path d="M22.5 0 L27 -2.2 L27 2.2Z" fill="#eef08c" opacity="0.85"/></g><g transform="rotate(-60)"><path d="M22.5 0 L27 -2.2 L27 2.2Z" fill="#eef08c" opacity="0.85"/></g><g transform="rotate(-120)"><path d="M22.5 0 L27 -2.2 L27 2.2Z" fill="#eef08c" opacity="0.85"/></g><g transform="rotate(-180)"><path d="M22.5 0 L27 -2.2 L27 2.2Z" fill="#eef08c" opacity="0.85"/></g><g transform="rotate(-240)"><path d="M22.5 0 L27 -2.2 L27 2.2Z" fill="#eef08c" opacity="0.85"/></g><g transform="rotate(-300)"><path d="M22.5 0 L27 -2.2 L27 2.2Z" fill="#eef08c" opacity="0.85"/></g></g><path d="M7.4 -0 L3.7 -6.4 L-3.7 -6.4 L-7.4 -0 L-3.7 6.4 L3.7 6.4Z" fill="none" stroke="#e9ee84" stroke-width="2.6" filter="url(#bl05)"/><g transform="rotate(0)"><circle cx="11.3" cy="0" r="2.7" fill="#7fd6e6" opacity="0.7"/><circle cx="11.3" cy="0" r="1.7" fill="#5a3db8"/></g><g transform="rotate(-120)"><circle cx="11.3" cy="0" r="2.7" fill="#7fd6e6" opacity="0.7"/><circle cx="11.3" cy="0" r="1.7" fill="#5a3db8"/></g><g transform="rotate(-240)"><circle cx="11.3" cy="0" r="2.7" fill="#7fd6e6" opacity="0.7"/><circle cx="11.3" cy="0" r="1.7" fill="#5a3db8"/></g><g transform="rotate(-60)"><path d="M14.8 -3.6 A5 5 0 0 1 14.8 3.6" fill="none" stroke="#5a3db8" stroke-width="1.3"/></g><g transform="rotate(-180)"><path d="M14.8 -3.6 A5 5 0 0 1 14.8 3.6" fill="none" stroke="#5a3db8" stroke-width="1.3"/></g><g transform="rotate(-300)"><path d="M14.8 -3.6 A5 5 0 0 1 14.8 3.6" fill="none" stroke="#5a3db8" stroke-width="1.3"/></g><g transform="rotate(0)"><circle cx="8.6" cy="0" r="1.3" fill="#f9a24f"/></g><g transform="rotate(-120)"><circle cx="8.6" cy="0" r="1.3" fill="#f9a24f"/></g><g transform="rotate(-240)"><circle cx="8.6" cy="0" r="1.3" fill="#f9a24f"/></g><g filter="url(#bl05)"><g transform="rotate(-30)"><path d="M19 -4.6 L27 -6.4 M19 4.6 L27 6.4" stroke="#4f78d4" stroke-width="1.2" fill="none"/><path d="M30 -6.5 L48 -8 M30 6.5 L48 8" stroke="#7fd6e6" stroke-width="1.1" fill="none" opacity="0.8"/></g><g transform="rotate(-90)"><path d="M19 -4.6 L27 -6.4 M19 4.6 L27 6.4" stroke="#4f78d4" stroke-width="1.2" fill="none"/><path d="M30 -6.5 L48 -8 M30 6.5 L48 8" stroke="#7fd6e6" stroke-width="1.1" fill="none" opacity="0.8"/></g><g transform="rotate(-150)"><path d="M19 -4.6 L27 -6.4 M19 4.6 L27 6.4" stroke="#4f78d4" stroke-width="1.2" fill="none"/><path d="M30 -6.5 L48 -8 M30 6.5 L48 8" stroke="#7fd6e6" stroke-width="1.1" fill="none" opacity="0.8"/></g><g transform="rotate(-210)"><path d="M19 -4.6 L27 -6.4 M19 4.6 L27 6.4" stroke="#4f78d4" stroke-width="1.2" fill="none"/><path d="M30 -6.5 L48 -8 M30 6.5 L48 8" stroke="#7fd6e6" stroke-width="1.1" fill="none" opacity="0.8"/></g><g transform="rotate(-270)"><path d="M19 -4.6 L27 -6.4 M19 4.6 L27 6.4" stroke="#4f78d4" stroke-width="1.2" fill="none"/><path d="M30 -6.5 L48 -8 M30 6.5 L48 8" stroke="#7fd6e6" stroke-width="1.1" fill="none" opacity="0.8"/></g><g transform="rotate(-330)"><path d="M19 -4.6 L27 -6.4 M19 4.6 L27 6.4" stroke="#4f78d4" stroke-width="1.2" fill="none"/><path d="M30 -6.5 L48 -8 M30 6.5 L48 8" stroke="#7fd6e6" stroke-width="1.1" fill="none" opacity="0.8"/></g></g><g filter="url(#bl05)"><g transform="rotate(-30)"><ellipse cx="52.5" cy="-4" rx="1.4" ry="1.8" fill="#eef08c"/></g><g transform="rotate(-90)"><ellipse cx="52.5" cy="-4" rx="1.4" ry="1.8" fill="#eef08c"/></g><g transform="rotate(-150)"><ellipse cx="52.5" cy="-4" rx="1.4" ry="1.8" fill="#eef08c"/></g><g transform="rotate(-210)"><ellipse cx="52.5" cy="-4" rx="1.4" ry="1.8" fill="#eef08c"/></g><g transform="rotate(-270)"><ellipse cx="52.5" cy="-4" rx="1.4" ry="1.8" fill="#eef08c"/></g><g transform="rotate(-330)"><ellipse cx="52.5" cy="-4" rx="1.4" ry="1.8" fill="#eef08c"/></g></g></g></g>
<g transform="translate(1871.4 862)"><path d="M67.1 0 L34.2 -58.4 L-34.2 -58.4 L-67.1 0 L-34.2 58.4 L34.2 58.4Z" fill="#b4efad"/><g clip-path="url(#hx)"><g filter="url(#bl1)"><g transform="rotate(-30)"><path d="M14 -6 L58 -8.5 L58 8.5 L14 6Z" fill="#a4e8dc" opacity="0.22"/><path d="M38 -10 L58 -14 L58 -8 Z M38 10 L58 14 L58 8Z" fill="#eef08c" opacity="0.35"/><ellipse cx="57" cy="0" rx="3" ry="6" fill="#a4e8dc" opacity="0.55"/></g><g transform="rotate(-90)"><path d="M14 -6 L58 -8.5 L58 8.5 L14 6Z" fill="#a4e8dc" opacity="0.22"/><path d="M38 -10 L58 -14 L58 -8 Z M38 10 L58 14 L58 8Z" fill="#eef08c" opacity="0.35"/><ellipse cx="57" cy="0" rx="3" ry="6" fill="#a4e8dc" opacity="0.55"/></g><g transform="rotate(-150)"><path d="M14 -6 L58 -8.5 L58 8.5 L14 6Z" fill="#a4e8dc" opacity="0.22"/><path d="M38 -10 L58 -14 L58 -8 Z M38 10 L58 14 L58 8Z" fill="#eef08c" opacity="0.35"/><ellipse cx="57" cy="0" rx="3" ry="6" fill="#a4e8dc" opacity="0.55"/></g><g transform="rotate(-210)"><path d="M14 -6 L58 -8.5 L58 8.5 L14 6Z" fill="#a4e8dc" opacity="0.22"/><path d="M38 -10 L58 -14 L58 -8 Z M38 10 L58 14 L58 8Z" fill="#eef08c" opacity="0.35"/><ellipse cx="57" cy="0" rx="3" ry="6" fill="#a4e8dc" opacity="0.55"/></g><g transform="rotate(-270)"><path d="M14 -6 L58 -8.5 L58 8.5 L14 6Z" fill="#a4e8dc" opacity="0.22"/><path d="M38 -10 L58 -14 L58 -8 Z M38 10 L58 14 L58 8Z" fill="#eef08c" opacity="0.35"/><ellipse cx="57" cy="0" rx="3" ry="6" fill="#a4e8dc" opacity="0.55"/></g><g transform="rotate(-330)"><path d="M14 -6 L58 -8.5 L58 8.5 L14 6Z" fill="#a4e8dc" opacity="0.22"/><path d="M38 -10 L58 -14 L58 -8 Z M38 10 L58 14 L58 8Z" fill="#eef08c" opacity="0.35"/><ellipse cx="57" cy="0" rx="3" ry="6" fill="#a4e8dc" opacity="0.55"/></g><g transform="rotate(0)"><path d="M28 0 L35 -3.5 L35 3.5Z" fill="#eef08c" opacity="0.4"/></g><g transform="rotate(-60)"><path d="M28 0 L35 -3.5 L35 3.5Z" fill="#eef08c" opacity="0.4"/></g><g transform="rotate(-120)"><path d="M28 0 L35 -3.5 L35 3.5Z" fill="#eef08c" opacity="0.4"/></g><g transform="rotate(-180)"><path d="M28 0 L35 -3.5 L35 3.5Z" fill="#eef08c" opacity="0.4"/></g><g transform="rotate(-240)"><path d="M28 0 L35 -3.5 L35 3.5Z" fill="#eef08c" opacity="0.4"/></g><g transform="rotate(-300)"><path d="M28 0 L35 -3.5 L35 3.5Z" fill="#eef08c" opacity="0.4"/></g><g transform="rotate(0)"><circle cx="13.5" cy="0" r="1.8" fill="#7fd6e6" opacity="0.8"/></g><g transform="rotate(-60)"><circle cx="13.5" cy="0" r="1.8" fill="#7fd6e6" opacity="0.8"/></g><g transform="rotate(-120)"><circle cx="13.5" cy="0" r="1.8" fill="#7fd6e6" opacity="0.8"/></g><g transform="rotate(-180)"><circle cx="13.5" cy="0" r="1.8" fill="#7fd6e6" opacity="0.8"/></g><g transform="rotate(-240)"><circle cx="13.5" cy="0" r="1.8" fill="#7fd6e6" opacity="0.8"/></g><g transform="rotate(-300)"><circle cx="13.5" cy="0" r="1.8" fill="#7fd6e6" opacity="0.8"/></g></g><g filter="url(#bl05)"><g transform="rotate(-30)"><path d="M46 -7 L51 -7.6 M46 7 L51 7.6" stroke="#5a3db8" stroke-width="1.5" fill="none"/><path d="M39.5 -5.8 L44 -6.2 M39.5 5.8 L44 6.2" stroke="#f9a24f" stroke-width="1.0" fill="none" opacity="0.85"/><path d="M52 -8.6 L57 -10.5 M52 8.6 L57 10.5" stroke="#f9a24f" stroke-width="1.1" fill="none" opacity="0.8"/></g><g transform="rotate(-90)"><path d="M46 -7 L51 -7.6 M46 7 L51 7.6" stroke="#5a3db8" stroke-width="1.5" fill="none"/><path d="M39.5 -5.8 L44 -6.2 M39.5 5.8 L44 6.2" stroke="#f9a24f" stroke-width="1.0" fill="none" opacity="0.85"/><path d="M52 -8.6 L57 -10.5 M52 8.6 L57 10.5" stroke="#f9a24f" stroke-width="1.1" fill="none" opacity="0.8"/></g><g transform="rotate(-150)"><path d="M46 -7 L51 -7.6 M46 7 L51 7.6" stroke="#5a3db8" stroke-width="1.5" fill="none"/><path d="M39.5 -5.8 L44 -6.2 M39.5 5.8 L44 6.2" stroke="#f9a24f" stroke-width="1.0" fill="none" opacity="0.85"/><path d="M52 -8.6 L57 -10.5 M52 8.6 L57 10.5" stroke="#f9a24f" stroke-width="1.1" fill="none" opacity="0.8"/></g><g transform="rotate(-210)"><path d="M46 -7 L51 -7.6 M46 7 L51 7.6" stroke="#5a3db8" stroke-width="1.5" fill="none"/><path d="M39.5 -5.8 L44 -6.2 M39.5 5.8 L44 6.2" stroke="#f9a24f" stroke-width="1.0" fill="none" opacity="0.85"/><path d="M52 -8.6 L57 -10.5 M52 8.6 L57 10.5" stroke="#f9a24f" stroke-width="1.1" fill="none" opacity="0.8"/></g><g transform="rotate(-270)"><path d="M46 -7 L51 -7.6 M46 7 L51 7.6" stroke="#5a3db8" stroke-width="1.5" fill="none"/><path d="M39.5 -5.8 L44 -6.2 M39.5 5.8 L44 6.2" stroke="#f9a24f" stroke-width="1.0" fill="none" opacity="0.85"/><path d="M52 -8.6 L57 -10.5 M52 8.6 L57 10.5" stroke="#f9a24f" stroke-width="1.1" fill="none" opacity="0.8"/></g><g transform="rotate(-330)"><path d="M46 -7 L51 -7.6 M46 7 L51 7.6" stroke="#5a3db8" stroke-width="1.5" fill="none"/><path d="M39.5 -5.8 L44 -6.2 M39.5 5.8 L44 6.2" stroke="#f9a24f" stroke-width="1.0" fill="none" opacity="0.85"/><path d="M52 -8.6 L57 -10.5 M52 8.6 L57 10.5" stroke="#f9a24f" stroke-width="1.1" fill="none" opacity="0.8"/></g></g><circle r="9.6" fill="none" stroke="#f9a24f" stroke-width="2.3" stroke-dasharray="7.4 2.6" transform="rotate(20)" filter="url(#bl05)"/><circle r="9.6" fill="none" stroke="#5a3db8" stroke-width="2.3" stroke-dasharray="3 17.1" transform="rotate(-38)" filter="url(#bl05)"/></g></g>
<text x="1103.8" y="35.5" font-size="15" text-anchor="middle" >+42 meV</text>
<text x="1103.8" y="178.1" font-size="15" text-anchor="middle" >0 meV</text>
<text x="1103.8" y="324.3" font-size="15" text-anchor="middle" >-30 meV</text>
<text x="1870.2" y="10.4" font-size="15" text-anchor="middle" >+42 meV</text>
<text x="1870.2" y="156.9" font-size="15" text-anchor="middle" >0 meV</text>
<text x="1870.2" y="306" font-size="15" text-anchor="middle" >-30 meV</text>
<text x="1103.8" y="508.2" font-size="15" text-anchor="middle" >+42 meV</text>
<text x="1103.8" y="651.5" font-size="15" text-anchor="middle" >0 meV</text>
<text x="1103.8" y="797.6" font-size="15" text-anchor="middle" >-30 meV</text>
<text x="1870.6" y="508.7" font-size="15" text-anchor="middle" >+42 meV</text>
<text x="1870.6" y="651.6" font-size="15" text-anchor="middle" >0 meV</text>
<text x="1870.6" y="793.4" font-size="15" text-anchor="middle" >-30 meV</text>
<text x="1029" y="37.6" font-size="30" font-weight="bold" >c</text>
<text x="1745.4" y="38.2" font-size="30" font-weight="bold" >e</text>
<text x="1036.6" y="515.6" font-size="30" font-weight="bold" >g</text>
<text x="1754.6" y="515.3" font-size="30" font-weight="bold" >i</text>
<rect x="1948.9" y="745.3" width="8.9" height="166.1" fill="url(#cb)"/>
<path d="M1948.9 787.2h8.9M1948.9 828.7h8.9M1948.9 870.6h8.9" stroke="#333" stroke-width="0.7" opacity="0.7"/>
<text x="1967.3" y="751.6" font-size="15.2" class="sf" >1000</text>
<text x="1967.1" y="793.5" font-size="15.2" class="sf" >500</text>
<text x="1967.3" y="834.6" font-size="15.2" class="sf" >0</text>
<text x="1963.4" y="876.6" font-size="15.2" class="sf" >-500</text>
<text x="1963.4" y="917.8" font-size="15.2" class="sf" >-1000</text>
</svg>
</body></html>
